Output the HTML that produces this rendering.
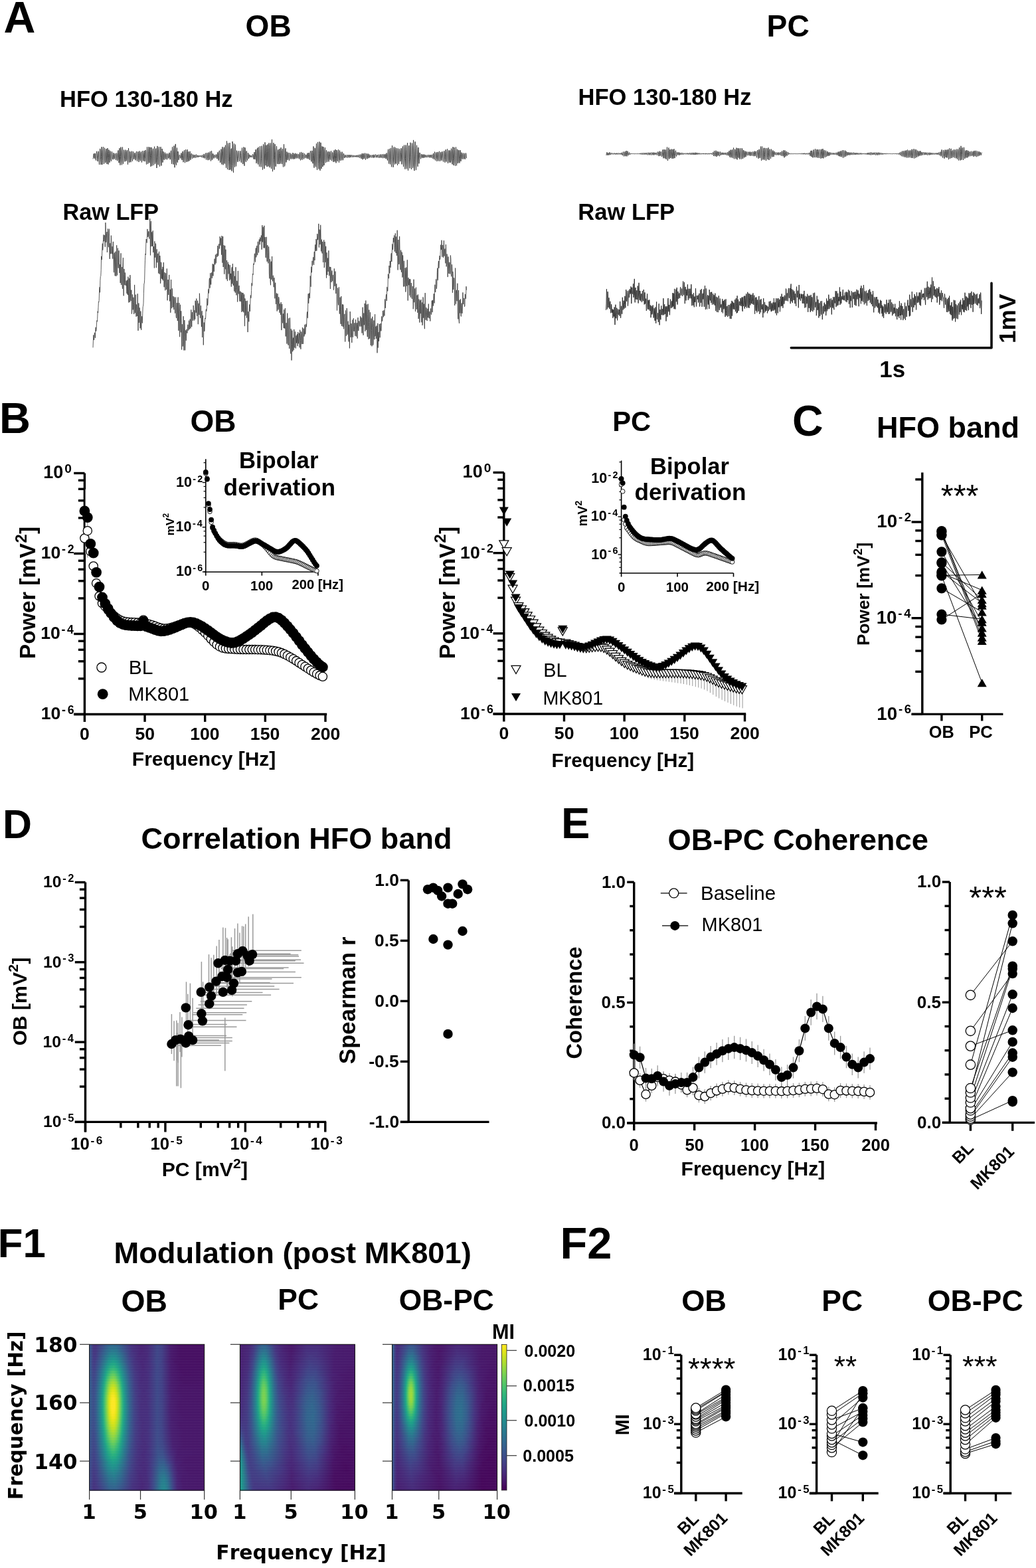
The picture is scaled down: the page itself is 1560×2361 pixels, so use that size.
<!DOCTYPE html>
<html><head><meta charset="utf-8"><title>Figure</title>
<style>
html,body{margin:0;padding:0;background:#fff;}
svg{display:block;}
text{font-kerning:none;}
</style></head><body>
<svg width="1560" height="2361" viewBox="0 0 1560 2361">
<rect width="1560" height="2361" fill="#fff"/>
<text transform="translate(5.38,48.53) scale(1.0000,1)" font-family="'Liberation Sans', sans-serif" font-weight="bold" fill="#000"><tspan x="0.00" y="0.00" font-size="66.32">A</tspan></text>
<text transform="translate(369.51,55.22) scale(1.0000,1)" font-family="'Liberation Sans', sans-serif" font-weight="bold" fill="#000"><tspan x="0.00" y="0.00" font-size="46.14">OB</tspan></text>
<text transform="translate(1154.61,55.13) scale(1.0000,1)" font-family="'Liberation Sans', sans-serif" font-weight="bold" fill="#000"><tspan x="0.00" y="0.00" font-size="46.16">PC</tspan></text>
<text transform="translate(90.06,160.74) scale(1.0000,1)" font-family="'Liberation Sans', sans-serif" font-weight="bold" fill="#000"><tspan x="0.00" y="0.00" font-size="34.48">HFO 130-180 Hz</tspan></text>
<text transform="translate(870.55,158.12) scale(1.0000,1)" font-family="'Liberation Sans', sans-serif" font-weight="bold" fill="#000"><tspan x="0.00" y="0.00" font-size="34.54">HFO 130-180 Hz</tspan></text>
<text transform="translate(94.47,330.85) scale(1.0000,1)" font-family="'Liberation Sans', sans-serif" font-weight="bold" fill="#000"><tspan x="0.00" y="0.00" font-size="34.25">Raw LFP</tspan></text>
<text transform="translate(870.25,330.95) scale(1.0000,1)" font-family="'Liberation Sans', sans-serif" font-weight="bold" fill="#000"><tspan x="0.00" y="0.00" font-size="34.55">Raw LFP</tspan></text>
<text transform="translate(1324.32,568.11) scale(1.0000,1)" font-family="'Liberation Sans', sans-serif" font-weight="bold" fill="#000"><tspan x="0.00" y="0.00" font-size="34.90">1s</tspan></text>
<text transform="translate(1528.77,516.95) rotate(-90) scale(1.0000,1)" font-family="'Liberation Sans', sans-serif" font-weight="bold" fill="#000"><tspan x="0.00" y="0.00" font-size="35.20">1mV</tspan></text>
<path d="M1191.3,523.8 H1493 V426.3" fill="none" stroke="#000" stroke-width="3.5" stroke-linecap="round" stroke-linejoin="round"/>
<path d="M140.0,239.3 140.5,237.5 141.0,231.7 141.5,231.4 142.0,237.8 142.5,238.7 143.0,230.8 143.5,231.6 144.0,239.0 144.5,241.5 145.0,234.5 145.5,227.8 146.0,230.5 146.5,238.4 147.0,243.0 147.5,237.2 148.0,227.7 148.5,228.5 149.0,240.4 149.5,247.9 150.0,236.9 150.5,223.9 151.0,225.4 151.5,240.3 152.0,247.9 152.5,235.4 153.0,221.2 153.5,229.1 154.0,247.8 154.5,241.5 155.0,227.1 155.5,221.1 156.0,236.4 156.5,246.9 157.0,238.2 157.5,222.7 158.0,230.1 158.5,245.2 159.0,244.2 159.5,229.1 160.0,224.1 160.5,239.9 161.0,246.9 161.5,233.3 162.0,223.1 162.5,231.6 163.0,247.5 163.5,237.4 164.0,225.6 164.5,231.5 165.0,244.7 165.5,238.9 166.0,227.4 166.5,228.6 167.0,240.5 167.5,242.7 168.0,235.1 168.5,228.2 169.0,232.8 169.5,239.1 170.0,240.2 170.5,235.6 171.0,230.2 171.5,233.5 172.0,239.5 172.5,238.0 173.0,232.2 173.5,230.9 174.0,235.6 174.5,241.0 175.0,236.8 175.5,230.5 176.0,232.9 176.5,242.2 177.0,240.4 177.5,229.2 178.0,226.4 178.5,237.3 179.0,245.2 179.5,235.8 180.0,223.2 180.5,240.2 181.0,248.6 181.5,235.6 182.0,221.5 182.5,229.1 183.0,243.2 183.5,248.3 184.0,228.7 184.5,221.5 185.0,238.8 185.5,246.7 186.0,238.1 186.5,225.7 187.0,227.6 187.5,238.3 188.0,243.4 188.5,240.4 189.0,225.6 189.5,227.7 190.0,242.4 190.5,240.7 191.0,228.6 191.5,226.1 192.0,240.3 192.5,247.7 193.0,234.8 193.5,223.0 194.0,232.5 194.5,244.4 195.0,244.6 195.5,228.0 196.0,228.4 196.5,239.7 197.0,244.2 197.5,238.5 198.0,228.5 198.5,227.6 199.0,237.3 199.5,242.6 200.0,237.5 200.5,228.1 201.0,231.8 201.5,239.4 202.0,239.6 202.5,233.1 203.0,230.1 203.5,233.4 204.0,241.3 204.5,239.1 205.0,231.6 205.5,227.9 206.0,236.3 206.5,242.8 207.0,239.3 207.5,228.7 208.0,228.3 208.5,234.7 209.0,243.9 209.5,239.0 210.0,227.5 210.5,230.7 211.0,239.7 211.5,242.3 212.0,230.9 212.5,228.5 213.0,238.1 213.5,244.5 214.0,235.8 214.5,227.2 215.0,231.2 215.5,240.9 216.0,242.4 216.5,234.0 217.0,227.0 217.5,233.7 218.0,243.1 218.5,238.3 219.0,225.9 219.5,227.6 220.0,238.1 220.5,247.5 221.0,236.4 221.5,221.3 222.0,229.9 222.5,246.9 223.0,245.2 223.5,227.3 224.0,221.2 224.5,242.1 225.0,245.2 225.5,227.8 226.0,221.8 226.5,237.4 227.0,250.8 227.5,234.7 228.0,221.9 228.5,226.1 229.0,249.6 229.5,247.1 230.0,227.6 230.5,223.8 231.0,238.6 231.5,248.7 232.0,235.7 232.5,220.7 233.0,230.7 233.5,246.8 234.0,244.1 234.5,224.0 235.0,223.5 235.5,244.2 236.0,253.0 236.5,236.4 237.0,219.9 237.5,225.2 238.0,247.8 238.5,248.3 239.0,226.0 239.5,221.1 240.0,234.6 240.5,250.6 241.0,240.8 241.5,226.5 242.0,221.1 242.5,237.4 243.0,249.5 243.5,239.7 244.0,224.0 244.5,226.1 245.0,244.6 245.5,241.4 246.0,228.2 246.5,230.1 247.0,240.2 247.5,240.8 248.0,231.8 248.5,229.6 249.0,237.1 249.5,239.7 250.0,232.5 250.5,231.1 251.0,236.5 251.5,240.3 252.0,236.0 252.5,231.2 253.0,232.3 253.5,238.1 254.0,238.5 254.5,234.5 255.0,229.8 255.5,233.4 256.0,240.2 256.5,239.5 257.0,230.6 257.5,226.8 258.0,237.1 258.5,246.8 259.0,233.3 259.5,221.3 260.0,229.1 260.5,244.8 261.0,247.5 261.5,226.1 262.0,219.6 262.5,232.9 263.0,252.2 263.5,240.5 264.0,217.1 264.5,217.1 265.0,246.2 265.5,248.7 266.0,229.9 266.5,222.6 267.0,243.3 267.5,244.7 268.0,228.0 268.5,231.7 269.0,240.8 269.5,239.4 270.0,234.3 270.5,233.0 271.0,234.8 271.5,237.8 272.0,238.5 272.5,233.8 273.0,230.5 273.5,236.8 274.0,241.1 274.5,234.8 275.0,227.9 275.5,234.3 276.0,244.2 276.5,241.6 277.0,230.2 277.5,226.2 278.0,237.0 278.5,245.2 279.0,232.9 279.5,225.1 280.0,231.4 280.5,242.9 281.0,243.9 281.5,228.4 282.0,225.1 282.5,237.8 283.0,243.3 283.5,228.1 284.0,229.3 284.5,240.8 285.0,242.3 285.5,234.6 286.0,227.8 286.5,235.4 287.0,240.7 287.5,237.2 288.0,231.5 288.5,231.0 289.0,235.4 289.5,238.9 290.0,236.5 290.5,232.6 291.0,233.0 291.5,236.1 292.0,237.9 292.5,236.3 293.0,233.2 293.5,233.2 294.0,236.6 294.5,237.7 295.0,234.7 295.5,232.6 296.0,234.3 296.5,237.1 297.0,236.3 297.5,234.1 298.0,233.8 298.5,236.0 299.0,236.7 299.5,235.6 300.0,234.1 300.5,235.4 301.0,236.0 301.5,235.7 302.0,234.2 302.5,234.2 303.0,235.9 303.5,236.9 304.0,235.0 304.5,233.3 305.0,234.3 305.5,237.0 306.0,237.7 306.5,234.9 307.0,231.9 307.5,234.8 308.0,238.4 308.5,237.9 309.0,233.8 309.5,230.5 310.0,235.5 310.5,240.5 311.0,237.2 311.5,230.0 312.0,230.8 312.5,238.5 313.0,241.2 313.5,236.2 314.0,229.5 314.5,230.0 315.0,240.7 315.5,239.7 316.0,231.1 316.5,227.9 317.0,234.0 317.5,242.5 318.0,238.6 318.5,227.1 319.0,231.7 319.5,240.7 320.0,238.9 320.5,231.5 321.0,231.6 321.5,235.1 322.0,238.5 322.5,237.4 323.0,233.9 323.5,233.0 324.0,236.0 324.5,237.4 325.0,236.0 325.5,232.4 326.0,232.8 326.5,238.0 327.0,239.2 327.5,231.9 328.0,229.3 328.5,234.7 329.0,241.7 329.5,240.3 330.0,227.9 330.5,226.7 331.0,234.3 331.5,244.9 332.0,244.3 332.5,229.9 333.0,224.6 333.5,240.1 334.0,247.5 334.5,230.9 335.0,221.2 335.5,227.7 336.0,248.3 336.5,247.6 337.0,224.4 337.5,221.7 338.0,245.6 338.5,246.5 339.0,223.6 339.5,218.6 340.0,240.4 340.5,252.7 341.0,230.6 341.5,212.4 342.0,234.8 342.5,255.1 343.0,238.7 343.5,215.6 344.0,222.0 344.5,243.5 345.0,256.0 345.5,240.1 346.0,215.0 346.5,235.8 347.0,255.5 347.5,248.8 348.0,225.0 348.5,223.6 349.0,257.6 349.5,249.4 350.0,213.0 350.5,217.6 351.0,246.5 351.5,259.9 352.0,228.9 352.5,216.3 353.0,245.2 353.5,251.5 354.0,232.9 354.5,217.6 355.0,238.0 355.5,250.4 356.0,239.8 356.5,226.7 357.0,228.0 357.5,239.9 358.0,243.8 358.5,238.6 359.0,229.7 359.5,227.1 360.0,236.5 360.5,242.9 361.0,239.4 361.5,230.1 362.0,227.3 362.5,234.7 363.0,243.8 363.5,245.0 364.0,230.4 364.5,222.6 365.0,230.0 365.5,246.8 366.0,247.0 366.5,229.4 367.0,221.4 367.5,241.2 368.0,249.7 368.5,234.2 369.0,222.3 369.5,227.0 370.0,242.2 370.5,243.9 371.0,228.2 371.5,227.4 372.0,237.4 372.5,241.6 373.0,237.8 373.5,230.1 374.0,231.7 374.5,239.0 375.0,237.0 375.5,232.9 376.0,233.1 376.5,236.4 377.0,237.0 377.5,234.6 378.0,233.9 378.5,234.5 379.0,236.5 379.5,237.1 380.0,235.0 380.5,232.2 381.0,232.9 381.5,237.5 382.0,239.6 382.5,234.4 383.0,229.1 383.5,239.3 384.0,240.1 384.5,231.5 385.0,225.1 385.5,233.9 386.0,245.8 386.5,242.3 387.0,225.9 387.5,223.3 388.0,242.0 388.5,247.4 389.0,221.6 389.5,225.6 390.0,241.9 390.5,250.9 391.0,233.9 391.5,220.2 392.0,228.5 392.5,247.1 393.0,251.4 393.5,238.3 394.0,219.7 394.5,224.2 395.0,242.9 395.5,255.6 396.0,241.0 396.5,217.2 397.0,219.6 397.5,247.1 398.0,254.1 398.5,236.0 399.0,214.3 399.5,230.8 400.0,249.2 400.5,242.5 401.0,218.6 401.5,228.7 402.0,251.1 402.5,240.0 403.0,217.4 403.5,227.3 404.0,250.5 404.5,248.9 405.0,215.3 405.5,222.7 406.0,252.2 406.5,250.0 407.0,220.0 407.5,215.4 408.0,247.0 408.5,254.1 409.0,227.0 409.5,209.9 410.0,236.4 410.5,258.2 411.0,245.4 411.5,219.9 412.0,215.1 412.5,240.4 413.0,255.6 413.5,233.7 414.0,217.1 414.5,228.9 415.0,250.7 415.5,250.6 416.0,232.9 416.5,220.0 417.0,230.7 417.5,246.3 418.0,247.0 418.5,226.7 419.0,225.3 419.5,241.0 420.0,247.1 420.5,231.5 421.0,224.2 421.5,234.7 422.0,246.6 422.5,238.8 423.0,222.2 423.5,226.3 424.0,243.5 424.5,247.0 425.0,227.9 425.5,224.1 426.0,242.0 426.5,251.4 427.0,229.1 427.5,217.1 428.0,230.6 428.5,250.5 429.0,247.9 429.5,227.0 430.0,223.3 430.5,236.4 431.0,244.4 431.5,239.0 432.0,228.5 432.5,231.9 433.0,240.9 433.5,239.5 434.0,229.8 434.5,230.2 435.0,237.5 435.5,241.8 436.0,236.2 436.5,230.1 437.0,232.4 437.5,239.4 438.0,237.5 438.5,231.7 439.0,233.1 439.5,239.5 440.0,238.8 440.5,233.7 441.0,230.0 441.5,235.4 442.0,239.7 442.5,238.0 443.0,231.3 443.5,232.7 444.0,239.3 444.5,237.3 445.0,230.7 445.5,231.5 446.0,237.2 446.5,238.5 447.0,232.0 447.5,231.7 448.0,236.6 448.5,238.3 449.0,234.9 449.5,231.9 450.0,233.9 450.5,239.3 451.0,234.8 451.5,229.6 452.0,236.0 452.5,241.4 453.0,236.7 453.5,228.9 454.0,230.5 454.5,239.8 455.0,240.7 455.5,235.7 456.0,229.9 456.5,232.6 457.0,237.5 457.5,239.6 458.0,235.2 458.5,231.1 459.0,234.5 459.5,238.1 460.0,236.4 460.5,233.2 461.0,232.9 461.5,237.3 462.0,238.6 462.5,234.3 463.0,230.5 463.5,235.7 464.0,239.3 464.5,233.7 465.0,230.0 465.5,232.7 466.0,239.9 466.5,240.8 467.0,231.3 467.5,227.1 468.0,231.1 468.5,242.3 469.0,243.4 469.5,227.0 470.0,227.0 470.5,242.5 471.0,246.2 471.5,234.3 472.0,220.4 472.5,238.9 473.0,252.6 473.5,241.0 474.0,222.8 474.5,223.3 475.0,248.3 475.5,251.3 476.0,226.8 476.5,216.1 477.0,241.7 477.5,255.9 478.0,235.8 478.5,213.9 479.0,224.0 479.5,246.7 480.0,254.5 480.5,231.2 481.0,213.4 481.5,239.4 482.0,256.8 482.5,231.9 483.0,214.8 483.5,225.2 484.0,254.0 484.5,245.5 485.0,220.4 485.5,220.9 486.0,251.0 486.5,246.6 487.0,221.1 487.5,228.1 488.0,248.9 488.5,242.8 489.0,226.6 489.5,222.2 490.0,237.5 490.5,245.2 491.0,235.8 491.5,226.2 492.0,230.5 492.5,244.0 493.0,239.4 493.5,229.5 494.0,228.1 494.5,238.1 495.0,243.5 495.5,235.2 496.0,228.3 496.5,232.7 497.0,240.6 497.5,240.4 498.0,230.7 498.5,227.3 499.0,234.8 499.5,242.2 500.0,237.9 500.5,229.2 501.0,229.6 501.5,239.2 502.0,243.9 502.5,238.0 503.0,226.5 503.5,233.6 504.0,243.4 504.5,238.2 505.0,225.0 505.5,234.5 506.0,245.4 506.5,238.3 507.0,226.0 507.5,229.8 508.0,242.8 508.5,242.6 509.0,231.4 509.5,225.2 510.0,234.0 510.5,244.7 511.0,231.6 511.5,226.5 512.0,240.0 512.5,242.0 513.0,234.2 513.5,228.7 514.0,234.9 514.5,241.4 515.0,235.7 515.5,228.7 516.0,235.4 516.5,241.2 517.0,235.9 517.5,231.1 518.0,233.4 518.5,237.6 519.0,237.9 519.5,234.7 520.0,233.2 520.5,234.8 521.0,236.9 521.5,237.2 522.0,234.6 522.5,233.0 523.0,234.3 523.5,237.5 524.0,236.3 524.5,233.0 525.0,233.6 525.5,236.5 526.0,237.4 526.5,234.1 527.0,233.0 527.5,235.2 528.0,237.0 528.5,235.9 529.0,233.3 529.5,233.5 530.0,235.3 530.5,236.9 531.0,235.9 531.5,233.6 532.0,234.8 532.5,236.6 533.0,235.6 533.5,234.1 534.0,234.2 534.5,236.2 535.0,236.4 535.5,234.8 536.0,233.9 536.5,235.2 537.0,236.6 537.5,234.8 538.0,233.5 538.5,234.4 539.0,236.4 539.5,236.9 540.0,234.4 540.5,232.9 541.0,235.8 541.5,237.7 542.0,236.1 542.5,232.5 543.0,233.0 543.5,237.7 544.0,238.9 544.5,234.1 545.0,231.2 545.5,235.3 546.0,240.2 546.5,236.1 547.0,230.9 547.5,233.1 548.0,239.1 548.5,237.7 549.0,232.3 549.5,230.5 550.0,237.5 550.5,240.5 551.0,235.7 551.5,231.1 552.0,232.2 552.5,237.7 553.0,239.2 553.5,234.8 554.0,231.3 554.5,234.4 555.0,238.2 555.5,236.7 556.0,232.5 556.5,234.6 557.0,237.4 557.5,236.5 558.0,233.7 558.5,233.5 559.0,235.4 559.5,237.4 560.0,235.9 560.5,233.6 561.0,233.2 561.5,235.9 562.0,237.7 562.5,235.0 563.0,232.8 563.5,234.6 564.0,237.3 564.5,236.7 565.0,234.0 565.5,232.5 566.0,233.9 566.5,237.0 567.0,237.3 567.5,235.0 568.0,233.0 568.5,233.8 569.0,236.8 569.5,237.6 570.0,235.2 570.5,232.7 571.0,234.2 571.5,237.3 572.0,237.9 572.5,234.8 573.0,232.3 573.5,233.5 574.0,237.3 574.5,237.5 575.0,234.1 575.5,232.1 576.0,236.0 576.5,238.2 577.0,236.4 577.5,232.2 578.0,232.5 578.5,237.6 579.0,238.1 579.5,233.3 580.0,231.9 580.5,235.1 581.0,239.0 581.5,236.3 582.0,230.5 582.5,232.7 583.0,239.9 583.5,241.5 584.0,232.2 584.5,224.8 585.0,236.7 585.5,246.5 586.0,237.7 586.5,223.9 587.0,234.9 587.5,247.3 588.0,231.6 588.5,222.9 589.0,240.5 589.5,251.3 590.0,235.9 590.5,219.0 591.0,224.6 591.5,242.1 592.0,251.8 592.5,240.2 593.0,222.8 593.5,221.2 594.0,241.6 594.5,247.6 595.0,226.1 595.5,222.1 596.0,246.2 596.5,246.4 597.0,227.5 597.5,223.0 598.0,234.9 598.5,248.8 599.0,238.7 599.5,223.6 600.0,234.5 600.5,246.9 601.0,236.1 601.5,224.3 602.0,228.8 602.5,243.1 603.0,242.8 603.5,229.6 604.0,223.2 604.5,235.0 605.0,247.4 605.5,240.1 606.0,223.7 606.5,220.3 607.0,237.0 607.5,251.1 608.0,238.6 608.5,218.5 609.0,223.8 609.5,239.0 610.0,254.7 610.5,238.6 611.0,218.4 611.5,225.6 612.0,247.8 612.5,254.3 613.0,230.1 613.5,215.1 614.0,237.4 614.5,256.8 615.0,239.4 615.5,219.9 616.0,219.1 616.5,243.1 617.0,253.4 617.5,236.3 618.0,214.7 618.5,219.7 619.0,245.3 619.5,255.0 620.0,232.7 620.5,215.6 621.0,222.8 621.5,252.9 622.0,248.8 622.5,210.9 623.0,227.5 623.5,254.2 624.0,257.1 624.5,239.2 625.0,213.3 625.5,223.8 626.0,247.6 626.5,256.1 627.0,232.7 627.5,218.7 628.0,225.9 628.5,244.1 629.0,250.8 629.5,232.2 630.0,222.0 630.5,234.2 631.0,246.3 631.5,237.8 632.0,229.9 632.5,230.9 633.0,236.1 633.5,239.3 634.0,237.1 634.5,232.0 635.0,232.7 635.5,236.4 636.0,237.8 636.5,233.7 637.0,232.4 637.5,236.6 638.0,237.8 638.5,234.2 639.0,232.6 639.5,235.5 640.0,237.2 640.5,235.5 641.0,233.3 641.5,234.3 642.0,236.7 642.5,237.0 643.0,234.5 643.5,233.2 644.0,234.6 644.5,237.0 645.0,235.8 645.5,233.2 646.0,233.2 646.5,236.1 647.0,237.4 647.5,235.5 648.0,233.0 648.5,234.2 649.0,237.3 649.5,237.3 650.0,233.4 650.5,232.8 651.0,235.6 651.5,238.6 652.0,236.4 652.5,230.9 653.0,236.2 653.5,239.9 654.0,234.0 654.5,228.6 655.0,236.2 655.5,241.5 656.0,238.3 656.5,230.5 657.0,229.3 657.5,235.9 658.0,242.9 658.5,237.3 659.0,228.9 659.5,229.2 660.0,239.7 660.5,242.5 661.0,232.3 661.5,227.8 662.0,232.9 662.5,242.8 663.0,240.2 663.5,229.8 664.0,228.9 664.5,239.4 665.0,241.7 665.5,233.8 666.0,228.2 666.5,230.2 667.0,238.7 667.5,243.5 668.0,236.6 668.5,227.7 669.0,227.3 669.5,239.6 670.0,244.6 670.5,236.4 671.0,225.3 671.5,228.6 672.0,242.3 672.5,243.6 673.0,231.7 673.5,224.3 674.0,234.0 674.5,246.0 675.0,241.1 675.5,226.3 676.0,227.1 676.5,240.0 677.0,244.8 677.5,226.2 678.0,229.3 678.5,244.7 679.0,240.8 679.5,223.6 680.0,227.5 680.5,242.0 681.0,247.3 681.5,224.8 682.0,221.3 682.5,238.5 683.0,249.0 683.5,236.8 684.0,221.9 684.5,225.7 685.0,244.1 685.5,249.8 686.0,233.4 686.5,221.5 687.0,234.3 687.5,249.3 688.0,242.8 688.5,224.7 689.0,226.3 689.5,245.9 690.0,244.2 690.5,226.2 691.0,226.2 691.5,239.5 692.0,245.5 692.5,238.3 693.0,226.1 693.5,232.2 694.0,242.8 694.5,236.9 695.0,229.6 695.5,230.8 696.0,239.2 696.5,239.7 697.0,232.5 697.5,230.5 698.0,236.4 698.5,239.6 699.0,235.4 699.5,230.7 700.0,238.0 700.5,239.8 701.0,234.6 701.5,230.5 702.0,233.2 702.5,238.2" fill="none" stroke="#333" stroke-width="0.9"/>
<path d="M912.5,234.0 913.0,233.5 913.5,230.3 914.0,229.3 914.5,233.3 915.0,233.8 915.5,230.9 916.0,230.2 916.5,233.2 917.0,233.6 917.5,231.2 918.0,229.3 918.5,230.9 919.0,233.2 919.5,232.6 920.0,230.8 920.5,230.1 921.0,231.5 921.5,232.4 922.0,231.4 922.5,230.6 923.0,231.3 923.5,232.3 924.0,232.3 924.5,231.3 925.0,230.4 925.5,231.5 926.0,232.5 926.5,232.2 927.0,230.9 927.5,230.8 928.0,232.5 928.5,232.2 929.0,230.6 929.5,230.7 930.0,232.1 930.5,232.6 931.0,231.3 931.5,230.4 932.0,231.1 932.5,232.4 933.0,232.0 933.5,230.9 934.0,230.6 934.5,231.9 935.0,232.7 935.5,231.2 936.0,229.8 936.5,230.5 937.0,233.3 937.5,234.0 938.0,230.6 938.5,228.5 939.0,231.7 939.5,235.4 940.0,233.7 940.5,228.8 941.0,228.3 941.5,234.9 942.0,235.3 942.5,229.6 943.0,227.0 943.5,232.3 944.0,235.4 944.5,231.3 945.0,227.6 945.5,229.5 946.0,233.7 946.5,233.8 947.0,230.8 947.5,229.5 948.0,231.9 948.5,232.9 949.0,231.9 949.5,231.0 950.0,231.0 950.5,231.7 951.0,231.8 951.5,231.4 952.0,231.2 952.5,231.4 953.0,231.8 953.5,231.8 954.0,231.3 954.5,231.2 955.0,231.5 955.5,231.9 956.0,231.6 956.5,231.2 957.0,231.4 957.5,231.9 958.0,231.6 958.5,231.2 959.0,231.4 959.5,231.8 960.0,231.5 960.5,231.1 961.0,231.3 961.5,231.8 962.0,232.0 962.5,231.7 963.0,230.8 963.5,231.2 964.0,232.1 964.5,232.2 965.0,230.7 965.5,230.6 966.0,231.8 966.5,232.7 967.0,231.3 967.5,230.2 968.0,231.6 968.5,232.9 969.0,231.9 969.5,230.3 970.0,230.3 970.5,232.0 971.0,232.8 971.5,231.7 972.0,230.1 972.5,230.7 973.0,232.5 973.5,232.6 974.0,230.3 974.5,230.0 975.0,231.8 975.5,233.4 976.0,232.5 976.5,230.1 977.0,229.7 977.5,231.8 978.0,233.4 978.5,232.3 979.0,229.8 979.5,230.0 980.0,232.5 980.5,233.6 981.0,231.8 981.5,229.6 982.0,229.9 982.5,232.4 983.0,233.4 983.5,231.1 984.0,229.5 984.5,232.3 985.0,233.4 985.5,232.3 986.0,229.8 986.5,230.9 987.0,232.8 987.5,232.4 988.0,230.4 988.5,229.8 989.0,232.4 989.5,233.8 990.0,232.3 990.5,228.6 991.0,228.9 991.5,232.7 992.0,235.1 992.5,232.3 993.0,227.6 993.5,230.3 994.0,234.8 994.5,233.9 995.0,228.8 995.5,228.1 996.0,231.2 996.5,236.0 997.0,234.5 997.5,229.2 998.0,225.3 998.5,233.2 999.0,238.3 999.5,233.3 1000.0,225.1 1000.5,227.4 1001.0,237.9 1001.5,238.5 1002.0,225.4 1002.5,227.5 1003.0,239.8 1003.5,239.7 1004.0,228.4 1004.5,221.5 1005.0,232.6 1005.5,242.0 1006.0,236.6 1006.5,226.3 1007.0,222.5 1007.5,237.4 1008.0,239.3 1008.5,225.5 1009.0,225.0 1009.5,238.0 1010.0,237.4 1010.5,227.2 1011.0,224.6 1011.5,233.3 1012.0,238.9 1012.5,234.0 1013.0,224.9 1013.5,229.4 1014.0,238.7 1014.5,231.8 1015.0,224.3 1015.5,230.4 1016.0,238.1 1016.5,234.4 1017.0,228.5 1017.5,226.7 1018.0,232.4 1018.5,235.5 1019.0,233.0 1019.5,229.2 1020.0,229.7 1020.5,232.6 1021.0,233.3 1021.5,231.3 1022.0,229.3 1022.5,231.1 1023.0,233.7 1023.5,231.9 1024.0,229.9 1024.5,230.5 1025.0,232.8 1025.5,232.8 1026.0,231.1 1026.5,229.9 1027.0,231.6 1027.5,232.9 1028.0,231.7 1028.5,230.4 1029.0,230.8 1029.5,232.4 1030.0,232.4 1030.5,231.6 1031.0,230.6 1031.5,230.8 1032.0,231.8 1032.5,232.4 1033.0,231.5 1033.5,230.6 1034.0,230.9 1034.5,232.2 1035.0,232.3 1035.5,230.6 1036.0,230.6 1036.5,232.1 1037.0,232.6 1037.5,232.0 1038.0,230.4 1038.5,230.3 1039.0,231.9 1039.5,232.9 1040.0,231.6 1040.5,230.0 1041.0,231.4 1041.5,233.1 1042.0,231.9 1042.5,229.9 1043.0,230.5 1043.5,232.7 1044.0,233.0 1044.5,230.1 1045.0,230.1 1045.5,232.2 1046.0,233.1 1046.5,231.7 1047.0,229.7 1047.5,230.9 1048.0,233.0 1048.5,232.0 1049.0,229.9 1049.5,230.6 1050.0,232.4 1050.5,232.7 1051.0,230.3 1051.5,230.6 1052.0,231.9 1052.5,232.4 1053.0,230.8 1053.5,230.6 1054.0,231.8 1054.5,232.4 1055.0,231.7 1055.5,230.8 1056.0,231.5 1056.5,232.2 1057.0,231.9 1057.5,231.0 1058.0,230.9 1058.5,231.7 1059.0,232.2 1059.5,231.0 1060.0,230.8 1060.5,231.7 1061.0,232.2 1061.5,231.7 1062.0,230.7 1062.5,231.1 1063.0,232.3 1063.5,231.8 1064.0,230.8 1064.5,231.0 1065.0,231.9 1065.5,232.3 1066.0,231.6 1066.5,230.8 1067.0,231.0 1067.5,232.0 1068.0,232.4 1068.5,231.4 1069.0,230.7 1069.5,231.3 1070.0,232.1 1070.5,231.7 1071.0,230.6 1071.5,231.0 1072.0,232.0 1072.5,232.8 1073.0,231.6 1073.5,229.4 1074.0,229.7 1074.5,235.0 1075.0,232.4 1075.5,227.1 1076.0,229.8 1076.5,235.0 1077.0,235.1 1077.5,229.4 1078.0,226.7 1078.5,231.7 1079.0,236.0 1079.5,232.0 1080.0,227.9 1080.5,228.2 1081.0,234.5 1081.5,233.0 1082.0,228.5 1082.5,228.7 1083.0,233.8 1083.5,235.2 1084.0,232.6 1084.5,228.4 1085.0,230.8 1085.5,233.5 1086.0,233.2 1086.5,230.3 1087.0,229.7 1087.5,230.9 1088.0,233.0 1088.5,231.5 1089.0,229.8 1089.5,231.3 1090.0,233.0 1090.5,232.7 1091.0,230.4 1091.5,229.9 1092.0,231.9 1092.5,233.2 1093.0,230.4 1093.5,229.9 1094.0,231.5 1094.5,233.8 1095.0,232.6 1095.5,229.2 1096.0,229.3 1096.5,234.1 1097.0,234.4 1097.5,229.0 1098.0,227.2 1098.5,233.9 1099.0,236.6 1099.5,231.2 1100.0,225.6 1100.5,229.8 1101.0,237.3 1101.5,235.5 1102.0,225.8 1102.5,225.4 1103.0,236.0 1103.5,238.1 1104.0,229.1 1104.5,222.5 1105.0,230.7 1105.5,239.3 1106.0,234.7 1106.5,224.7 1107.0,225.4 1107.5,234.8 1108.0,239.1 1108.5,230.0 1109.0,222.6 1109.5,231.7 1110.0,240.4 1110.5,236.0 1111.0,223.2 1111.5,226.8 1112.0,237.4 1112.5,237.8 1113.0,223.3 1113.5,231.0 1114.0,239.7 1114.5,237.9 1115.0,227.7 1115.5,223.1 1116.0,232.0 1116.5,239.6 1117.0,235.8 1117.5,223.4 1118.0,226.8 1118.5,239.1 1119.0,236.7 1119.5,226.1 1120.0,226.6 1120.5,233.7 1121.0,237.3 1121.5,232.3 1122.0,227.5 1122.5,230.2 1123.0,236.2 1123.5,232.9 1124.0,228.2 1124.5,229.3 1125.0,232.9 1125.5,234.2 1126.0,231.4 1126.5,228.6 1127.0,229.3 1127.5,233.7 1128.0,234.2 1128.5,229.9 1129.0,228.4 1129.5,231.1 1130.0,234.8 1130.5,232.8 1131.0,228.7 1131.5,229.1 1132.0,233.3 1132.5,234.7 1133.0,231.5 1133.5,228.4 1134.0,229.4 1134.5,234.4 1135.0,235.2 1135.5,229.7 1136.0,227.5 1136.5,231.0 1137.0,235.1 1137.5,230.8 1138.0,228.0 1138.5,227.8 1139.0,233.0 1139.5,237.3 1140.0,232.9 1140.5,227.6 1141.0,226.0 1141.5,233.6 1142.0,238.8 1142.5,233.6 1143.0,224.8 1143.5,226.4 1144.0,238.0 1144.5,237.6 1145.0,228.1 1145.5,220.5 1146.0,230.9 1146.5,241.8 1147.0,230.5 1147.5,220.5 1148.0,229.2 1148.5,240.4 1149.0,240.2 1149.5,226.8 1150.0,222.7 1150.5,235.8 1151.0,240.7 1151.5,232.3 1152.0,222.9 1152.5,224.5 1153.0,237.5 1153.5,242.1 1154.0,234.1 1154.5,223.0 1155.0,224.1 1155.5,237.4 1156.0,240.1 1156.5,229.7 1157.0,222.3 1157.5,230.5 1158.0,241.0 1158.5,236.8 1159.0,224.7 1159.5,224.9 1160.0,232.7 1160.5,238.9 1161.0,233.0 1161.5,224.6 1162.0,227.3 1162.5,234.9 1163.0,236.3 1163.5,228.8 1164.0,226.5 1164.5,230.9 1165.0,236.1 1165.5,232.4 1166.0,227.9 1166.5,230.1 1167.0,233.0 1167.5,233.3 1168.0,230.8 1168.5,229.2 1169.0,231.1 1169.5,233.5 1170.0,233.1 1170.5,230.7 1171.0,229.5 1171.5,231.0 1172.0,233.7 1172.5,231.5 1173.0,229.5 1173.5,230.2 1174.0,233.0 1174.5,233.4 1175.0,231.0 1175.5,228.9 1176.0,231.5 1176.5,234.7 1177.0,231.4 1177.5,227.4 1178.0,229.9 1178.5,234.8 1179.0,235.2 1179.5,229.0 1180.0,226.2 1180.5,233.1 1181.0,237.3 1181.5,233.3 1182.0,226.5 1182.5,229.4 1183.0,235.6 1183.5,234.7 1184.0,228.4 1184.5,228.0 1185.0,234.1 1185.5,234.2 1186.0,231.6 1186.5,229.1 1187.0,230.7 1187.5,232.6 1188.0,232.1 1188.5,230.9 1189.0,230.8 1189.5,231.6 1190.0,232.2 1190.5,231.8 1191.0,231.2 1191.5,231.1 1192.0,231.5 1192.5,231.9 1193.0,231.5 1193.5,231.2 1194.0,231.4 1194.5,231.8 1195.0,231.7 1195.5,231.2 1196.0,231.2 1196.5,231.5 1197.0,231.8 1197.5,231.7 1198.0,231.3 1198.5,231.2 1199.0,231.5 1199.5,231.8 1200.0,231.5 1200.5,231.2 1201.0,231.5 1201.5,231.8 1202.0,231.7 1202.5,231.3 1203.0,231.1 1203.5,231.5 1204.0,231.9 1204.5,231.5 1205.0,231.0 1205.5,231.3 1206.0,232.0 1206.5,232.1 1207.0,231.2 1207.5,230.8 1208.0,231.2 1208.5,232.1 1209.0,232.1 1209.5,231.0 1210.0,230.6 1210.5,232.1 1211.0,232.1 1211.5,230.9 1212.0,230.6 1212.5,231.5 1213.0,232.5 1213.5,231.9 1214.0,230.8 1214.5,230.9 1215.0,232.0 1215.5,232.4 1216.0,231.7 1216.5,230.6 1217.0,231.4 1217.5,232.4 1218.0,232.2 1218.5,230.2 1219.0,229.8 1219.5,233.5 1220.0,234.7 1220.5,229.1 1221.0,226.9 1221.5,234.7 1222.0,236.0 1222.5,226.8 1223.0,229.4 1223.5,236.2 1224.0,237.4 1224.5,230.7 1225.0,225.4 1225.5,228.5 1226.0,236.5 1226.5,237.1 1227.0,230.0 1227.5,224.1 1228.0,228.2 1228.5,237.1 1229.0,236.2 1229.5,228.2 1230.0,224.9 1230.5,235.5 1231.0,237.6 1231.5,228.7 1232.0,225.1 1232.5,229.9 1233.0,236.9 1233.5,238.0 1234.0,229.9 1234.5,224.9 1235.0,228.3 1235.5,236.9 1236.0,238.7 1236.5,228.3 1237.0,224.6 1237.5,228.9 1238.0,238.1 1238.5,234.1 1239.0,224.0 1239.5,228.3 1240.0,238.4 1240.5,233.2 1241.0,226.2 1241.5,226.2 1242.0,233.9 1242.5,237.0 1243.0,231.4 1243.5,226.7 1244.0,231.3 1244.5,235.9 1245.0,234.6 1245.5,230.0 1246.0,227.9 1246.5,233.8 1247.0,234.9 1247.5,231.0 1248.0,229.3 1248.5,232.7 1249.0,234.4 1249.5,231.7 1250.0,229.4 1250.5,230.5 1251.0,232.8 1251.5,233.0 1252.0,231.1 1252.5,229.9 1253.0,231.1 1253.5,232.4 1254.0,232.8 1254.5,231.1 1255.0,230.1 1255.5,231.4 1256.0,232.9 1256.5,232.2 1257.0,230.6 1257.5,230.3 1258.0,231.9 1258.5,233.1 1259.0,232.3 1259.5,229.7 1260.0,230.2 1260.5,233.6 1261.0,233.3 1261.5,229.8 1262.0,228.6 1262.5,233.0 1263.0,235.0 1263.5,229.4 1264.0,228.2 1264.5,234.0 1265.0,235.7 1265.5,230.3 1266.0,227.3 1266.5,231.6 1267.0,236.3 1267.5,234.5 1268.0,227.5 1268.5,226.2 1269.0,233.4 1269.5,237.8 1270.0,231.8 1270.5,226.1 1271.0,230.4 1271.5,236.5 1272.0,234.0 1272.5,228.2 1273.0,226.7 1273.5,235.8 1274.0,232.9 1274.5,228.2 1275.0,229.4 1275.5,234.2 1276.0,233.9 1276.5,229.7 1277.0,229.0 1277.5,233.0 1278.0,233.5 1278.5,231.4 1279.0,229.5 1279.5,231.8 1280.0,233.5 1280.5,232.5 1281.0,229.8 1281.5,229.7 1282.0,232.9 1282.5,233.0 1283.0,230.8 1283.5,229.8 1284.0,231.3 1284.5,233.2 1285.0,231.7 1285.5,229.6 1286.0,230.7 1286.5,232.5 1287.0,233.0 1287.5,230.4 1288.0,230.1 1288.5,232.3 1289.0,233.0 1289.5,231.3 1290.0,230.0 1290.5,230.8 1291.0,232.6 1291.5,232.5 1292.0,230.4 1292.5,230.6 1293.0,232.0 1293.5,232.9 1294.0,231.9 1294.5,230.7 1295.0,230.3 1295.5,232.0 1296.0,232.5 1296.5,231.4 1297.0,230.5 1297.5,231.5 1298.0,232.4 1298.5,231.6 1299.0,230.8 1299.5,231.1 1300.0,231.9 1300.5,232.1 1301.0,231.2 1301.5,230.8 1302.0,231.4 1302.5,232.3 1303.0,231.9 1303.5,230.9 1304.0,231.0 1304.5,232.3 1305.0,232.5 1305.5,231.6 1306.0,230.2 1306.5,231.0 1307.0,233.0 1307.5,231.3 1308.0,229.9 1308.5,230.3 1309.0,232.7 1309.5,233.1 1310.0,230.7 1310.5,229.4 1311.0,232.0 1311.5,233.5 1312.0,232.1 1312.5,229.5 1313.0,230.0 1313.5,232.5 1314.0,233.2 1314.5,231.7 1315.0,229.8 1315.5,230.1 1316.0,232.9 1316.5,232.6 1317.0,230.1 1317.5,229.6 1318.0,231.9 1318.5,233.6 1319.0,232.3 1319.5,229.9 1320.0,229.8 1320.5,232.1 1321.0,233.7 1321.5,231.5 1322.0,229.7 1322.5,229.9 1323.0,232.6 1323.5,233.4 1324.0,229.9 1324.5,230.0 1325.0,232.2 1325.5,232.8 1326.0,231.2 1326.5,230.1 1327.0,231.2 1327.5,232.8 1328.0,232.3 1328.5,230.7 1329.0,230.9 1329.5,232.3 1330.0,232.4 1330.5,231.3 1331.0,230.7 1331.5,231.4 1332.0,232.2 1332.5,231.8 1333.0,230.9 1333.5,231.0 1334.0,231.9 1334.5,232.1 1335.0,231.4 1335.5,231.0 1336.0,231.3 1336.5,231.9 1337.0,231.6 1337.5,231.2 1338.0,231.3 1338.5,231.8 1339.0,231.7 1339.5,231.3 1340.0,231.1 1340.5,231.5 1341.0,231.8 1341.5,231.7 1342.0,231.3 1342.5,231.2 1343.0,231.7 1343.5,231.9 1344.0,231.6 1344.5,231.2 1345.0,231.2 1345.5,231.5 1346.0,231.9 1346.5,231.7 1347.0,231.2 1347.5,231.2 1348.0,231.8 1348.5,231.7 1349.0,231.1 1349.5,231.0 1350.0,231.8 1350.5,232.0 1351.0,231.6 1351.5,230.9 1352.0,231.0 1352.5,231.7 1353.0,232.5 1353.5,231.8 1354.0,230.3 1354.5,229.9 1355.0,232.5 1355.5,233.6 1356.0,231.4 1356.5,228.8 1357.0,231.8 1357.5,235.2 1358.0,231.2 1358.5,227.5 1359.0,229.4 1359.5,235.7 1360.0,232.5 1360.5,227.2 1361.0,229.7 1361.5,236.5 1362.0,235.2 1362.5,226.8 1363.0,227.6 1363.5,236.9 1364.0,234.6 1364.5,226.2 1365.0,229.4 1365.5,237.5 1366.0,230.8 1366.5,225.5 1367.0,229.8 1367.5,237.4 1368.0,234.3 1368.5,226.6 1369.0,228.2 1369.5,237.2 1370.0,233.8 1370.5,226.2 1371.0,227.5 1371.5,234.8 1372.0,237.7 1372.5,229.2 1373.0,224.8 1373.5,230.6 1374.0,238.0 1374.5,235.0 1375.0,226.7 1375.5,224.3 1376.0,231.2 1376.5,238.6 1377.0,231.7 1377.5,224.6 1378.0,227.1 1378.5,237.9 1379.0,233.9 1379.5,225.2 1380.0,229.5 1380.5,237.0 1381.0,234.5 1381.5,226.7 1382.0,227.8 1382.5,233.1 1383.0,235.5 1383.5,230.1 1384.0,227.5 1384.5,234.1 1385.0,234.5 1385.5,229.6 1386.0,227.3 1386.5,230.0 1387.0,234.3 1387.5,232.5 1388.0,229.0 1388.5,229.4 1389.0,233.1 1389.5,233.6 1390.0,230.4 1390.5,229.0 1391.0,230.4 1391.5,232.6 1392.0,233.3 1392.5,231.2 1393.0,229.3 1393.5,230.9 1394.0,233.1 1394.5,232.9 1395.0,230.0 1395.5,229.7 1396.0,232.3 1396.5,233.7 1397.0,231.8 1397.5,229.9 1398.0,230.2 1398.5,232.3 1399.0,233.5 1399.5,231.3 1400.0,229.7 1400.5,231.6 1401.0,233.2 1401.5,232.1 1402.0,230.0 1402.5,230.3 1403.0,232.7 1403.5,232.6 1404.0,230.7 1404.5,230.3 1405.0,232.2 1405.5,232.7 1406.0,231.7 1406.5,230.4 1407.0,231.4 1407.5,232.6 1408.0,232.3 1408.5,230.8 1409.0,230.3 1409.5,231.5 1410.0,232.6 1410.5,232.0 1411.0,230.3 1411.5,230.9 1412.0,232.8 1412.5,232.6 1413.0,230.1 1413.5,229.6 1414.0,231.9 1414.5,233.8 1415.0,232.9 1415.5,229.1 1416.0,228.6 1416.5,234.7 1417.0,235.3 1417.5,231.3 1418.0,225.4 1418.5,227.7 1419.0,234.7 1419.5,237.5 1420.0,234.0 1420.5,226.0 1421.0,228.3 1421.5,235.6 1422.0,238.7 1422.5,231.7 1423.0,225.6 1423.5,228.9 1424.0,236.9 1424.5,236.6 1425.0,225.6 1425.5,227.3 1426.0,237.6 1426.5,233.4 1427.0,225.6 1427.5,225.0 1428.0,234.8 1428.5,240.1 1429.0,227.1 1429.5,223.3 1430.0,230.8 1430.5,238.9 1431.0,237.5 1431.5,226.3 1432.0,223.8 1432.5,230.0 1433.0,238.0 1433.5,237.1 1434.0,227.3 1434.5,226.3 1435.0,234.1 1435.5,237.0 1436.0,229.0 1436.5,225.0 1437.0,232.1 1437.5,237.6 1438.0,229.7 1438.5,225.4 1439.0,230.0 1439.5,238.3 1440.0,237.2 1440.5,224.6 1441.0,232.0 1441.5,239.7 1442.0,233.4 1442.5,224.6 1443.0,229.1 1443.5,241.5 1444.0,234.5 1444.5,222.0 1445.0,223.6 1445.5,236.3 1446.0,241.5 1446.5,228.6 1447.0,219.8 1447.5,228.1 1448.0,240.7 1448.5,232.6 1449.0,222.6 1449.5,222.4 1450.0,233.6 1450.5,241.0 1451.0,230.6 1451.5,221.8 1452.0,228.4 1452.5,238.7 1453.0,238.9 1453.5,228.3 1454.0,226.6 1454.5,234.7 1455.0,237.5 1455.5,227.1 1456.0,226.1 1456.5,233.5 1457.0,237.4 1457.5,232.2 1458.0,227.0 1458.5,231.1 1459.0,235.7 1459.5,234.2 1460.0,228.4 1460.5,228.3 1461.0,232.2 1461.5,235.2 1462.0,231.5 1462.5,227.7 1463.0,230.9 1463.5,234.8 1464.0,234.1 1464.5,230.5 1465.0,227.9 1465.5,230.7 1466.0,235.9 1466.5,231.5 1467.0,226.9 1467.5,229.2 1468.0,234.5 1468.5,235.3 1469.0,227.9 1469.5,226.8 1470.0,233.3 1470.5,236.2 1471.0,232.1 1471.5,227.6 1472.0,230.6 1472.5,235.3 1473.0,234.8 1473.5,229.9 1474.0,227.9 1474.5,230.8 1475.0,234.4 1475.5,232.5 1476.0,229.1 1476.5,230.1 1477.0,233.3 1477.5,233.5 1478.0,230.2 1478.5,229.6" fill="none" stroke="#333" stroke-width="0.9"/>
<path d="M140.0,523.4 140.4,513.2 140.8,504.5 141.3,511.4 141.7,512.0 142.1,504.1 142.5,500.9 142.9,505.3 143.4,508.8 143.8,495.7 144.2,492.8 144.6,498.8 145.0,496.6 145.5,487.1 145.9,482.7 146.3,484.2 146.7,480.6 147.1,468.8 147.6,471.1 148.0,462.7 148.4,454.4 148.8,455.1 149.2,452.2 149.7,435.9 150.1,432.3 150.5,440.3 150.9,422.5 151.3,416.4 151.8,415.4 152.2,406.7 152.6,385.9 153.0,390.9 153.4,390.9 153.9,373.8 154.3,366.7 154.7,376.6 155.1,371.7 155.5,360.5 156.0,353.4 156.4,363.3 156.8,362.0 157.2,355.0 157.6,354.2 158.1,371.7 158.5,371.5 158.9,335.2 159.3,348.5 159.7,364.7 160.2,358.5 160.6,351.6 161.0,349.2 161.4,380.0 161.8,368.3 162.3,344.5 162.7,347.6 163.1,368.4 163.5,372.2 163.9,351.9 164.4,344.7 164.8,376.1 165.2,389.9 165.6,366.8 166.0,366.2 166.5,382.2 166.9,380.2 167.3,354.6 167.7,360.1 168.1,382.0 168.6,382.1 169.0,371.2 169.4,377.9 169.8,389.6 170.2,364.1 170.7,364.0 171.1,394.3 171.5,410.2 171.9,381.9 172.3,380.6 172.8,400.1 173.2,415.4 173.6,386.2 174.0,378.7 174.4,394.9 174.9,415.9 175.3,383.9 175.7,369.3 176.1,409.8 176.5,414.4 177.0,386.0 177.4,373.7 177.8,398.2 178.2,403.6 178.6,394.2 179.1,377.3 179.5,395.5 179.9,411.0 180.3,399.8 180.7,398.2 181.2,426.0 181.6,397.2 182.0,381.3 182.4,428.1 182.8,428.9 183.3,407.1 183.7,402.0 184.1,429.9 184.5,434.8 184.9,400.0 185.4,388.1 185.8,429.9 186.2,445.4 186.6,413.5 187.0,404.9 187.5,425.2 187.9,429.3 188.3,410.5 188.7,414.5 189.1,429.5 189.6,429.9 190.0,422.6 190.4,424.9 190.8,440.8 191.2,442.1 191.7,421.6 192.1,443.2 192.5,444.1 192.9,416.7 193.3,435.4 193.8,455.5 194.2,422.0 194.6,419.2 195.0,452.0 195.4,455.0 195.9,414.1 196.3,425.7 196.7,449.5 197.1,453.1 197.5,437.0 198.0,436.6 198.4,472.6 198.8,468.2 199.2,443.4 199.6,445.4 200.1,466.4 200.5,458.4 200.9,447.8 201.3,455.7 201.7,473.0 202.2,460.2 202.6,428.9 203.0,460.4 203.4,471.3 203.8,457.4 204.3,443.7 204.7,467.9 205.1,476.8 205.5,458.5 205.9,465.1 206.4,475.1 206.8,476.0 207.2,442.3 207.6,466.6 208.0,497.9 208.5,473.6 208.9,456.5 209.3,485.9 209.7,484.3 210.1,463.3 210.6,468.5 211.0,494.4 211.4,491.9 211.8,468.6 212.2,480.6 212.7,496.9 213.1,482.7 213.5,476.3 213.9,483.2 214.3,486.5 214.8,471.1 215.2,461.7 215.6,461.2 216.0,456.8 216.4,441.8 216.9,427.0 217.3,426.8 217.7,421.2 218.1,404.2 218.5,391.3 219.0,382.0 219.4,383.7 219.8,367.2 220.2,360.0 220.6,362.2 221.1,365.6 221.5,358.4 221.9,344.9 222.3,349.2 222.7,356.8 223.2,355.9 223.6,348.6 224.0,348.3 224.4,356.7 224.8,359.5 225.3,344.8 225.7,329.2 226.1,342.9 226.5,384.4 226.9,339.3 227.4,333.0 227.8,371.1 228.2,370.0 228.6,349.5 229.0,357.7 229.5,370.7 229.9,348.5 230.3,347.4 230.7,380.1 231.1,379.0 231.6,371.2 232.0,377.5 232.4,403.5 232.8,363.3 233.2,369.6 233.7,387.7 234.1,384.3 234.5,366.7 234.9,381.6 235.3,403.2 235.8,381.8 236.2,375.3 236.6,392.7 237.0,395.3 237.4,384.1 237.9,381.7 238.3,395.7 238.7,411.5 239.1,386.9 239.5,378.8 240.0,411.7 240.4,412.6 240.8,385.0 241.2,392.0 241.6,426.8 242.1,420.4 242.5,394.8 242.9,396.7 243.3,419.6 243.7,407.2 244.2,405.3 244.6,420.6 245.0,401.9 245.4,422.4 245.8,417.8 246.3,395.1 246.7,415.0 247.1,432.3 247.5,419.2 247.9,410.2 248.4,418.4 248.8,437.3 249.2,425.8 249.6,411.3 250.0,419.7 250.5,436.0 250.9,431.6 251.3,404.5 251.7,424.8 252.1,452.3 252.6,430.4 253.0,421.1 253.4,435.3 253.8,444.0 254.2,432.2 254.7,413.9 255.1,438.3 255.5,453.4 255.9,447.7 256.3,435.8 256.8,470.8 257.2,454.8 257.6,421.0 258.0,446.7 258.4,464.2 258.9,447.1 259.3,434.3 259.7,448.1 260.1,462.8 260.5,462.2 261.0,446.1 261.4,452.0 261.8,466.2 262.2,458.7 262.6,447.4 263.1,454.7 263.5,471.6 263.9,471.4 264.3,449.1 264.7,447.5 265.2,476.6 265.6,478.9 266.0,463.8 266.4,456.1 266.8,473.1 267.3,483.1 267.7,456.4 268.1,447.5 268.5,478.0 268.9,497.8 269.4,472.2 269.8,456.1 270.2,496.2 270.6,507.2 271.0,470.2 271.5,458.8 271.9,495.0 272.3,500.4 272.7,468.3 273.1,486.5 273.6,526.5 274.0,504.1 274.4,488.2 274.8,496.8 275.2,521.5 275.7,514.7 276.1,476.2 276.5,497.2 276.9,527.5 277.3,507.8 277.8,482.1 278.2,494.6 278.6,527.4 279.0,513.0 279.4,497.4 279.9,500.1 280.3,512.8 280.7,498.9 281.1,495.7 281.5,499.8 282.0,501.6 282.4,495.0 282.8,488.8 283.2,491.3 283.6,497.6 284.1,494.2 284.5,482.7 284.9,489.0 285.3,496.0 285.7,488.2 286.2,480.6 286.6,483.0 287.0,494.4 287.4,478.2 287.8,466.4 288.3,479.1 288.7,492.0 289.1,476.5 289.5,470.0 289.9,477.0 290.4,482.8 290.8,473.8 291.2,459.9 291.6,464.3 292.0,480.2 292.5,482.6 292.9,467.2 293.3,470.4 293.7,480.7 294.1,452.8 294.6,460.2 295.0,470.8 295.4,470.2 295.8,449.6 296.2,468.7 296.7,475.8 297.1,461.8 297.5,452.8 297.9,459.2 298.3,488.2 298.8,459.0 299.2,456.8 299.6,469.8 300.0,474.1 300.4,441.7 300.9,453.7 301.3,478.9 301.7,478.6 302.1,466.1 302.5,460.2 303.0,479.9 303.4,492.1 303.8,471.2 304.2,468.3 304.6,508.0 305.1,480.0 305.5,475.1 305.9,488.7 306.3,519.5 306.7,500.5 307.2,485.6 307.6,498.8 308.0,498.7 308.4,484.8 308.8,478.9 309.3,480.2 309.7,478.1 310.1,467.5 310.5,465.6 310.9,468.6 311.4,463.8 311.8,449.4 312.2,451.8 312.6,459.8 313.0,456.6 313.5,440.3 313.9,435.4 314.3,441.5 314.7,437.4 315.1,421.0 315.6,418.8 316.0,433.7 316.4,429.6 316.8,411.2 317.2,420.5 317.7,428.5 318.1,418.1 318.5,410.5 318.9,412.4 319.3,419.0 319.8,406.4 320.2,397.3 320.6,411.1 321.0,415.5 321.4,399.1 321.9,398.1 322.3,409.0 322.7,394.9 323.1,389.7 323.5,395.4 324.0,398.4 324.4,383.6 324.8,383.8 325.2,396.3 325.6,391.6 326.1,382.1 326.5,382.1 326.9,386.9 327.3,385.5 327.7,370.0 328.2,373.8 328.6,385.3 329.0,379.7 329.4,368.0 329.8,367.4 330.3,374.5 330.7,369.6 331.1,356.2 331.5,359.1 331.9,369.5 332.4,362.3 332.8,358.5 333.2,374.6 333.6,383.6 334.0,355.0 334.5,371.0 334.9,395.7 335.3,363.3 335.7,356.2 336.1,402.0 336.6,382.0 337.0,369.2 337.4,388.3 337.8,412.7 338.2,386.2 338.7,370.0 339.1,398.5 339.5,405.3 339.9,375.7 340.3,411.2 340.8,420.4 341.2,402.8 341.6,392.0 342.0,406.8 342.4,423.1 342.9,407.4 343.3,394.7 343.7,405.5 344.1,412.4 344.5,397.9 345.0,407.3 345.4,422.2 345.8,422.1 346.2,399.1 346.6,414.8 347.1,420.6 347.5,411.9 347.9,422.2 348.3,431.7 348.7,404.7 349.2,402.3 349.6,427.3 350.0,424.7 350.4,397.1 350.8,425.6 351.3,429.8 351.7,425.4 352.1,408.2 352.5,432.4 352.9,438.5 353.4,415.8 353.8,422.3 354.2,440.6 354.6,432.1 355.0,402.3 355.5,432.5 355.9,444.4 356.3,436.6 356.7,422.9 357.1,425.1 357.6,454.5 358.0,442.5 358.4,407.9 358.8,438.2 359.2,442.5 359.7,434.1 360.1,430.0 360.5,446.1 360.9,453.7 361.3,441.0 361.8,438.5 362.2,453.6 362.6,453.9 363.0,439.8 363.4,443.7 363.9,469.8 364.3,452.5 364.7,440.8 365.1,463.5 365.5,468.6 366.0,441.0 366.4,456.3 366.8,470.3 367.2,457.5 367.6,443.3 368.1,471.4 368.5,491.1 368.9,449.4 369.3,452.4 369.7,475.2 370.2,473.4 370.6,453.2 371.0,466.3 371.4,478.6 371.8,474.5 372.3,452.8 372.7,467.2 373.1,500.1 373.5,472.8 373.9,469.2 374.4,476.1 374.8,484.4 375.2,469.0 375.6,458.5 376.0,468.3 376.5,469.0 376.9,456.8 377.3,444.6 377.7,449.0 378.1,447.6 378.6,437.5 379.0,426.3 379.4,430.4 379.8,429.2 380.2,416.1 380.7,412.1 381.1,413.6 381.5,399.1 381.9,396.9 382.3,398.5 382.8,394.4 383.2,382.2 383.6,381.8 384.0,391.8 384.4,394.5 384.9,379.9 385.3,373.5 385.7,387.4 386.1,385.0 386.5,370.9 387.0,369.9 387.4,384.2 387.8,383.4 388.2,364.1 388.6,363.8 389.1,374.5 389.5,380.4 389.9,367.0 390.3,360.5 390.7,364.5 391.2,368.3 391.6,357.6 392.0,358.4 392.4,363.3 392.8,362.6 393.3,354.5 393.7,355.9 394.1,375.7 394.5,352.0 394.9,339.1 395.4,364.4 395.8,351.7 396.2,341.9 396.6,355.1 397.0,373.4 397.5,359.0 397.9,339.8 398.3,373.4 398.7,364.0 399.1,357.0 399.6,366.6 400.0,387.4 400.4,388.1 400.8,364.8 401.2,356.8 401.7,380.0 402.1,393.8 402.5,375.0 402.9,369.2 403.3,380.2 403.8,396.4 404.2,390.9 404.6,371.5 405.0,379.9 405.4,412.0 405.9,419.4 406.3,390.2 406.7,391.8 407.1,424.0 407.5,429.3 408.0,395.9 408.4,393.7 408.8,420.9 409.2,414.7 409.6,386.0 410.1,418.6 410.5,423.4 410.9,418.0 411.3,414.8 411.7,423.2 412.2,432.3 412.6,427.4 413.0,418.2 413.4,430.7 413.8,449.4 414.3,436.0 414.7,425.7 415.1,443.4 415.5,457.9 415.9,444.2 416.4,441.5 416.8,455.8 417.2,468.6 417.6,447.1 418.0,442.2 418.5,454.1 418.9,466.4 419.3,464.0 419.7,447.3 420.1,449.5 420.6,461.9 421.0,470.8 421.4,457.8 421.8,457.5 422.2,471.7 422.7,473.9 423.1,455.0 423.5,482.9 423.9,497.1 424.3,459.6 424.8,457.9 425.2,481.1 425.6,486.4 426.0,475.7 426.4,472.3 426.9,487.9 427.3,494.1 427.7,466.2 428.1,473.1 428.5,494.0 429.0,494.7 429.4,464.1 429.8,485.1 430.2,506.5 430.6,494.2 431.1,486.2 431.5,507.8 431.9,517.6 432.3,504.1 432.7,471.6 433.2,489.1 433.6,515.0 434.0,519.6 434.4,481.2 434.8,479.4 435.3,514.2 435.7,524.9 436.1,497.3 436.5,478.5 436.9,492.9 437.4,530.7 437.8,532.5 438.2,495.2 438.6,511.9 439.0,542.6 439.5,518.4 439.9,497.5 440.3,509.7 440.7,529.3 441.1,512.7 441.6,508.6 442.0,527.3 442.4,526.8 442.8,496.0 443.2,521.8 443.7,523.4 444.1,510.9 444.5,499.4 444.9,510.0 445.3,524.5 445.8,507.9 446.2,505.3 446.6,516.5 447.0,510.7 447.4,503.2 447.9,520.3 448.3,521.2 448.7,500.1 449.1,506.8 449.5,517.3 450.0,508.4 450.4,501.7 450.8,505.1 451.2,523.3 451.6,496.7 452.1,499.3 452.5,512.7 452.9,525.8 453.3,512.8 453.7,499.5 454.2,502.4 454.6,517.8 455.0,518.1 455.4,493.0 455.8,496.4 456.3,518.0 456.7,513.3 457.1,494.6 457.5,498.4 457.9,506.6 458.4,504.9 458.8,488.8 459.2,493.0 459.6,503.3 460.0,501.2 460.5,490.2 460.9,487.8 461.3,492.2 461.7,488.4 462.1,474.7 462.6,469.5 463.0,478.8 463.4,478.8 463.8,451.6 464.2,442.3 464.7,456.7 465.1,448.0 465.5,441.9 465.9,441.4 466.3,449.1 466.8,438.8 467.2,415.5 467.6,421.4 468.0,431.8 468.4,412.4 468.9,401.7 469.3,410.3 469.7,403.8 470.1,392.8 470.5,399.6 471.0,395.9 471.4,390.0 471.8,387.2 472.2,392.5 472.6,398.9 473.1,379.6 473.5,378.9 473.9,392.1 474.3,375.1 474.7,368.4 475.2,378.0 475.6,371.8 476.0,359.9 476.4,364.9 476.8,377.7 477.3,367.0 477.7,352.1 478.1,354.1 478.5,361.2 478.9,359.4 479.4,351.5 479.8,336.9 480.2,372.2 480.6,372.7 481.0,345.6 481.5,347.2 481.9,368.1 482.3,365.2 482.7,338.8 483.1,357.6 483.6,378.4 484.0,362.2 484.4,360.7 484.8,380.3 485.2,381.5 485.7,363.9 486.1,367.4 486.5,395.0 486.9,384.5 487.3,364.6 487.8,361.3 488.2,403.0 488.6,401.2 489.0,364.0 489.4,371.3 489.9,394.9 490.3,390.6 490.7,370.8 491.1,401.6 491.5,418.6 492.0,380.3 492.4,406.4 492.8,414.0 493.2,388.5 493.6,393.0 494.1,408.9 494.5,393.6 494.9,377.3 495.3,406.3 495.7,415.2 496.2,405.6 496.6,401.8 497.0,414.1 497.4,435.0 497.8,402.0 498.3,408.5 498.7,419.3 499.1,425.1 499.5,413.8 499.9,407.5 500.4,422.4 500.8,423.2 501.2,417.9 501.6,413.9 502.0,420.2 502.5,436.7 502.9,427.2 503.3,404.4 503.7,415.7 504.1,430.8 504.6,420.0 505.0,408.6 505.4,434.6 505.8,442.1 506.2,436.3 506.7,427.3 507.1,438.7 507.5,467.5 507.9,446.8 508.3,433.6 508.8,435.4 509.2,454.3 509.6,459.3 510.0,450.9 510.4,432.4 510.9,463.2 511.3,472.6 511.7,461.5 512.1,447.7 512.5,469.4 513.0,487.8 513.4,466.5 513.8,446.1 514.2,484.5 514.6,491.0 515.1,470.7 515.5,458.2 515.9,488.5 516.3,491.8 516.7,458.6 517.2,466.4 517.6,495.3 518.0,489.2 518.4,477.4 518.8,472.8 519.3,487.7 519.7,514.5 520.1,494.4 520.5,467.4 520.9,475.3 521.4,505.9 521.8,493.7 522.2,464.1 522.6,468.7 523.0,503.9 523.5,502.4 523.9,484.5 524.3,483.6 524.7,507.5 525.1,514.4 525.6,488.9 526.0,498.0 526.4,524.4 526.8,504.3 527.2,469.1 527.7,488.4 528.1,507.8 528.5,505.0 528.9,487.2 529.3,495.6 529.8,516.0 530.2,500.4 530.6,481.6 531.0,498.5 531.4,507.6 531.9,499.4 532.3,479.3 532.7,498.0 533.1,498.9 533.5,495.0 534.0,486.3 534.4,495.7 534.8,505.8 535.2,496.1 535.6,481.2 536.1,490.3 536.5,506.6 536.9,492.9 537.3,486.3 537.7,495.2 538.2,509.6 538.6,488.3 539.0,478.2 539.4,491.7 539.8,498.1 540.3,489.8 540.7,483.4 541.1,485.0 541.5,490.7 541.9,491.5 542.4,480.3 542.8,476.3 543.2,486.3 543.6,491.5 544.0,478.2 544.5,479.3 544.9,501.5 545.3,501.4 545.7,477.6 546.1,462.7 546.6,487.0 547.0,504.7 547.4,482.1 547.8,471.5 548.2,489.3 548.7,487.0 549.1,456.9 549.5,464.2 549.9,498.8 550.3,484.4 550.8,452.5 551.2,480.7 551.6,496.8 552.0,458.5 552.4,466.1 552.9,502.2 553.3,507.2 553.7,473.5 554.1,457.7 554.5,491.7 555.0,510.8 555.4,485.6 555.8,466.6 556.2,485.7 556.6,509.8 557.1,488.3 557.5,470.3 557.9,496.4 558.3,519.9 558.7,490.2 559.2,479.5 559.6,497.4 560.0,521.4 560.4,493.6 560.8,476.8 561.3,487.8 561.7,519.6 562.1,517.1 562.5,491.8 562.9,482.5 563.4,504.5 563.8,511.2 564.2,482.7 564.6,473.2 565.0,506.3 565.5,501.9 565.9,491.7 566.3,510.0 566.7,507.2 567.1,490.4 567.6,497.9 568.0,531.4 568.4,507.5 568.8,486.8 569.2,523.6 569.7,505.2 570.1,500.1 570.5,513.9 570.9,505.2 571.3,488.0 571.8,495.0 572.2,508.3 572.6,493.6 573.0,487.0 573.4,492.9 573.9,498.4 574.3,490.4 574.7,476.4 575.1,477.0 575.5,483.7 576.0,479.7 576.4,468.1 576.8,470.8 577.2,477.4 577.6,475.3 578.1,467.1 578.5,470.4 578.9,475.5 579.3,464.4 579.7,450.5 580.2,464.0 580.6,459.4 581.0,449.5 581.4,444.7 581.8,443.2 582.3,453.0 582.7,432.2 583.1,432.4 583.5,438.3 583.9,438.2 584.4,412.7 584.8,415.0 585.2,419.0 585.6,419.2 586.0,400.0 586.5,411.4 586.9,410.7 587.3,393.0 587.7,399.5 588.1,402.8 588.6,391.8 589.0,382.3 589.4,381.2 589.8,394.0 590.2,382.6 590.7,367.4 591.1,368.7 591.5,376.1 591.9,367.5 592.3,358.2 592.8,364.8 593.2,362.9 593.6,354.5 594.0,369.4 594.4,378.8 594.9,358.9 595.3,351.4 595.7,372.2 596.1,381.1 596.5,356.4 597.0,367.8 597.4,384.9 597.8,375.8 598.2,346.7 598.6,378.2 599.1,406.5 599.5,377.2 599.9,361.0 600.3,383.3 600.7,398.0 601.2,396.2 601.6,355.9 602.0,376.7 602.4,400.2 602.8,406.1 603.3,383.1 603.7,376.7 604.1,406.0 604.5,409.8 604.9,379.5 605.4,380.4 605.8,417.6 606.2,416.7 606.6,384.4 607.0,398.2 607.5,431.5 607.9,401.4 608.3,392.8 608.7,402.6 609.1,431.4 609.6,421.4 610.0,403.5 610.4,406.4 610.8,439.6 611.2,433.1 611.7,402.5 612.1,407.5 612.5,430.6 612.9,424.9 613.3,391.3 613.8,421.9 614.2,452.6 614.6,421.6 615.0,418.2 615.4,427.7 615.9,429.3 616.3,420.3 616.7,445.1 617.1,439.4 617.5,420.1 618.0,421.8 618.4,447.7 618.8,437.8 619.2,426.1 619.6,428.4 620.1,448.9 620.5,450.1 620.9,441.3 621.3,431.0 621.7,441.2 622.2,465.3 622.6,460.1 623.0,420.7 623.4,446.0 623.8,455.2 624.3,446.8 624.7,434.5 625.1,455.3 625.5,469.1 625.9,454.2 626.4,432.7 626.8,456.0 627.2,465.8 627.6,463.9 628.0,444.6 628.5,461.7 628.9,470.9 629.3,443.4 629.7,448.3 630.1,480.0 630.6,470.6 631.0,450.6 631.4,463.4 631.8,485.6 632.2,471.5 632.7,452.5 633.1,472.2 633.5,471.0 633.9,451.1 634.3,476.5 634.8,485.3 635.2,463.3 635.6,455.5 636.0,489.8 636.4,487.0 636.9,447.4 637.3,448.3 637.7,478.7 638.1,467.7 638.5,457.7 639.0,488.2 639.4,495.2 639.8,459.7 640.2,441.1 640.6,475.9 641.1,481.8 641.5,473.2 641.9,463.1 642.3,464.8 642.7,480.8 643.2,483.1 643.6,467.3 644.0,464.8 644.4,478.2 644.8,475.6 645.3,457.6 645.7,475.2 646.1,479.3 646.5,470.7 646.9,469.0 647.4,477.2 647.8,483.6 648.2,468.0 648.6,464.5 649.0,472.3 649.5,473.6 649.9,460.0 650.3,452.6 650.7,458.3 651.1,470.2 651.6,451.9 652.0,452.8 652.4,460.5 652.8,449.2 653.2,442.2 653.7,451.7 654.1,456.5 654.5,441.3 654.9,428.7 655.3,438.2 655.8,439.9 656.2,428.4 656.6,420.4 657.0,426.3 657.4,434.8 657.9,428.3 658.3,410.7 658.7,403.7 659.1,422.2 659.5,416.0 660.0,397.6 660.4,393.0 660.8,403.8 661.2,399.8 661.6,388.6 662.1,385.1 662.5,390.8 662.9,387.3 663.3,378.3 663.7,368.7 664.2,373.9 664.6,375.9 665.0,361.7 665.4,375.2 665.8,386.7 666.3,370.3 666.7,369.0 667.1,376.9 667.5,388.0 667.9,375.5 668.4,362.2 668.8,385.6 669.2,385.4 669.6,375.9 670.0,374.6 670.5,392.3 670.9,396.4 671.3,368.2 671.7,375.8 672.1,401.4 672.6,398.1 673.0,382.5 673.4,385.2 673.8,399.5 674.2,417.1 674.7,394.6 675.1,386.5 675.5,398.0 675.9,412.0 676.3,404.1 676.8,394.9 677.2,396.8 677.6,412.6 678.0,410.1 678.4,384.5 678.9,390.6 679.3,411.5 679.7,416.3 680.1,410.0 680.5,398.3 681.0,408.0 681.4,440.8 681.8,408.9 682.2,415.1 682.6,436.1 683.1,428.9 683.5,418.4 683.9,419.3 684.3,436.2 684.7,460.0 685.2,432.4 685.6,403.6 686.0,439.1 686.4,457.6 686.8,439.1 687.3,436.8 687.7,442.1 688.1,453.3 688.5,438.5 688.9,426.7 689.4,468.9 689.8,480.4 690.2,445.4 690.6,437.0 691.0,481.7 691.5,486.9 691.9,451.7 692.3,452.3 692.7,471.4 693.1,453.4 693.6,450.3 694.0,475.7 694.4,476.5 694.8,459.5 695.2,456.5 695.7,471.1 696.1,471.9 696.5,457.5 696.9,440.4 697.3,455.2 697.8,458.1 698.2,451.3 698.6,448.9 699.0,449.8 699.4,461.8 699.9,460.8 700.3,442.9 700.7,444.3 701.1,450.1 701.5,449.2 702.0,431.3 702.4,436.7" fill="none" stroke="#333" stroke-width="0.8"/>
<path d="M912.5,466.9 913.0,457.2 913.4,435.3 913.9,444.2 914.3,465.5 914.8,454.9 915.2,439.2 915.7,449.9 916.1,463.1 916.6,454.4 917.0,448.4 917.5,461.9 917.9,465.2 918.4,459.6 918.8,453.7 919.3,463.8 919.7,471.3 920.2,467.2 920.6,458.2 921.1,464.2 921.5,470.9 922.0,466.0 922.4,465.6 922.9,478.8 923.3,471.2 923.8,466.3 924.2,476.6 924.7,476.1 925.1,462.5 925.6,479.3 926.0,489.1 926.5,475.2 926.9,458.7 927.4,476.2 927.8,479.3 928.3,473.3 928.7,463.7 929.2,470.2 929.6,482.4 930.1,473.6 930.5,465.5 931.0,472.4 931.4,473.8 931.9,471.7 932.3,466.0 932.8,475.7 933.2,472.0 933.7,453.9 934.1,467.3 934.6,478.8 935.0,473.1 935.5,460.8 935.9,461.6 936.4,472.4 936.8,472.8 937.3,447.8 937.7,455.5 938.2,466.6 938.6,459.4 939.1,452.7 939.5,459.2 940.0,464.8 940.4,458.5 940.9,445.8 941.3,450.0 941.8,463.4 942.2,453.2 942.7,436.0 943.1,448.0 943.6,453.8 944.0,450.0 944.5,438.0 944.9,443.0 945.4,460.6 945.8,455.3 946.3,442.5 946.7,437.6 947.2,448.2 947.6,447.3 948.1,435.4 948.5,437.9 949.0,442.6 949.4,441.8 949.9,431.4 950.3,432.5 950.8,457.1 951.2,436.2 951.7,432.9 952.1,441.3 952.6,442.6 953.0,437.7 953.5,427.3 953.9,447.9 954.4,445.5 954.8,431.2 955.3,419.9 955.7,445.4 956.2,455.4 956.6,435.9 957.1,433.0 957.5,447.9 958.0,450.9 958.4,439.9 958.9,437.2 959.3,451.1 959.8,448.2 960.2,430.6 960.7,437.2 961.1,456.6 961.6,440.9 962.0,425.8 962.5,437.9 962.9,449.3 963.4,452.1 963.8,437.9 964.3,445.1 964.7,453.4 965.2,447.4 965.6,442.4 966.1,442.4 966.5,455.1 967.0,450.0 967.4,438.0 967.9,448.6 968.3,453.0 968.8,453.0 969.2,436.0 969.7,441.4 970.1,458.4 970.6,456.7 971.0,440.4 971.5,457.5 971.9,455.9 972.4,449.7 972.8,450.9 973.3,467.9 973.7,465.8 974.2,448.5 974.6,442.4 975.1,458.1 975.5,465.5 976.0,451.9 976.4,453.0 976.9,466.2 977.3,457.6 977.8,451.4 978.2,458.1 978.7,468.1 979.1,459.5 979.6,460.3 980.0,478.2 980.5,473.4 980.9,460.6 981.4,461.1 981.8,473.4 982.3,472.0 982.7,461.3 983.2,459.5 983.6,461.6 984.1,478.5 984.5,473.1 985.0,464.3 985.4,466.3 985.9,482.4 986.3,482.9 986.8,462.5 987.2,467.2 987.7,486.8 988.1,469.6 988.6,454.4 989.0,477.2 989.5,480.9 989.9,476.4 990.4,471.4 990.8,473.6 991.3,484.9 991.7,474.7 992.2,457.3 992.6,472.2 993.1,489.4 993.5,472.6 994.0,466.1 994.4,475.3 994.9,481.3 995.3,466.2 995.8,460.4 996.2,474.1 996.7,472.1 997.1,465.2 997.6,465.7 998.0,474.6 998.5,467.8 998.9,449.2 999.4,465.2 999.8,474.2 1000.3,460.4 1000.7,458.3 1001.2,472.9 1001.6,469.3 1002.1,461.4 1002.5,464.0 1003.0,483.6 1003.4,465.7 1003.9,461.1 1004.3,462.9 1004.8,477.2 1005.2,474.9 1005.7,450.7 1006.1,449.0 1006.6,468.1 1007.0,469.3 1007.5,459.8 1007.9,459.0 1008.4,474.3 1008.8,465.7 1009.3,450.6 1009.7,452.4 1010.2,461.7 1010.6,464.1 1011.1,455.3 1011.5,453.4 1012.0,463.1 1012.4,462.6 1012.9,441.1 1013.3,456.8 1013.8,461.5 1014.2,441.7 1014.7,457.4 1015.1,465.2 1015.6,434.9 1016.0,446.2 1016.5,461.9 1016.9,465.5 1017.4,443.2 1017.8,435.6 1018.3,454.3 1018.7,449.7 1019.2,433.0 1019.6,446.2 1020.1,458.6 1020.5,451.2 1021.0,438.8 1021.4,449.0 1021.9,449.7 1022.3,445.0 1022.8,441.5 1023.2,446.2 1023.7,448.8 1024.1,439.4 1024.6,432.4 1025.0,440.0 1025.5,445.0 1025.9,443.1 1026.4,434.5 1026.8,435.5 1027.3,442.2 1027.7,446.0 1028.2,431.9 1028.6,423.5 1029.1,435.0 1029.5,444.2 1030.0,437.1 1030.4,425.0 1030.9,439.6 1031.3,457.2 1031.8,434.4 1032.2,431.9 1032.7,438.7 1033.1,452.5 1033.6,437.5 1034.0,435.8 1034.5,445.0 1034.9,438.8 1035.4,428.3 1035.8,443.3 1036.3,451.9 1036.7,442.7 1037.2,434.8 1037.6,441.4 1038.1,449.4 1038.5,446.3 1039.0,434.7 1039.4,441.4 1039.9,447.3 1040.3,449.3 1040.8,428.1 1041.2,438.8 1041.7,460.2 1042.1,453.7 1042.6,443.2 1043.0,445.8 1043.5,459.9 1043.9,453.0 1044.4,441.2 1044.8,456.5 1045.3,462.4 1045.7,447.0 1046.2,446.4 1046.6,455.0 1047.1,450.5 1047.5,434.2 1048.0,452.4 1048.4,461.6 1048.9,457.5 1049.3,445.2 1049.8,447.2 1050.2,450.6 1050.7,448.9 1051.1,444.6 1051.6,455.5 1052.0,453.6 1052.5,443.6 1052.9,441.9 1053.4,461.6 1053.8,461.0 1054.3,445.1 1054.7,436.5 1055.2,455.9 1055.6,455.5 1056.1,437.2 1056.5,435.0 1057.0,461.9 1057.4,459.4 1057.9,444.0 1058.3,441.9 1058.8,450.5 1059.2,444.5 1059.7,435.6 1060.1,461.4 1060.6,462.0 1061.0,439.3 1061.5,430.0 1061.9,449.1 1062.4,466.1 1062.8,454.5 1063.3,434.4 1063.7,444.5 1064.2,463.9 1064.6,465.5 1065.1,447.4 1065.5,444.2 1066.0,454.9 1066.4,458.5 1066.9,445.1 1067.3,445.4 1067.8,465.0 1068.2,436.2 1068.7,446.4 1069.1,451.0 1069.6,452.4 1070.0,440.1 1070.5,440.0 1070.9,455.9 1071.4,441.2 1071.8,439.7 1072.3,458.5 1072.7,458.7 1073.2,453.8 1073.6,442.2 1074.1,452.5 1074.5,458.2 1075.0,444.2 1075.4,445.7 1075.9,457.5 1076.3,459.7 1076.8,441.6 1077.2,450.6 1077.7,468.2 1078.1,457.3 1078.6,446.8 1079.0,449.0 1079.5,469.9 1079.9,460.8 1080.4,447.8 1080.8,452.5 1081.3,470.2 1081.7,464.8 1082.2,445.4 1082.6,448.8 1083.1,466.7 1083.5,467.0 1084.0,455.9 1084.4,449.6 1084.9,463.4 1085.3,462.5 1085.8,458.5 1086.2,458.2 1086.7,469.9 1087.1,462.9 1087.6,450.0 1088.0,453.0 1088.5,471.5 1088.9,454.4 1089.4,453.0 1089.8,465.4 1090.3,463.7 1090.7,451.3 1091.2,451.6 1091.6,467.9 1092.1,477.1 1092.5,460.3 1093.0,450.4 1093.4,467.5 1093.9,475.1 1094.3,461.6 1094.8,461.0 1095.2,476.1 1095.7,477.1 1096.1,461.4 1096.6,459.0 1097.0,470.2 1097.5,476.1 1097.9,467.9 1098.4,459.0 1098.8,459.9 1099.3,479.9 1099.7,464.0 1100.2,457.1 1100.6,459.9 1101.1,480.1 1101.5,458.8 1102.0,452.9 1102.4,475.5 1102.9,463.3 1103.3,454.4 1103.8,463.1 1104.2,465.6 1104.7,455.9 1105.1,456.9 1105.6,464.5 1106.0,466.0 1106.5,451.3 1106.9,451.2 1107.4,469.1 1107.8,465.0 1108.3,449.2 1108.7,456.4 1109.2,471.6 1109.6,460.5 1110.1,445.3 1110.5,470.7 1111.0,465.8 1111.4,450.8 1111.9,457.0 1112.3,468.1 1112.8,459.8 1113.2,453.8 1113.7,455.3 1114.1,459.9 1114.6,456.1 1115.0,449.0 1115.5,454.3 1115.9,461.0 1116.4,458.1 1116.8,447.6 1117.3,448.3 1117.7,466.0 1118.2,468.9 1118.6,447.3 1119.1,456.9 1119.5,461.1 1120.0,455.1 1120.4,445.8 1120.9,452.3 1121.3,464.7 1121.8,445.5 1122.2,449.9 1122.7,462.1 1123.1,460.0 1123.6,442.4 1124.0,444.3 1124.5,463.8 1124.9,459.8 1125.4,443.0 1125.8,439.8 1126.3,457.7 1126.7,463.2 1127.2,441.8 1127.6,447.7 1128.1,463.8 1128.5,452.7 1129.0,442.4 1129.4,448.8 1129.9,459.4 1130.3,443.9 1130.8,448.2 1131.2,457.0 1131.7,451.7 1132.1,443.7 1132.6,453.5 1133.0,457.9 1133.5,450.9 1133.9,441.4 1134.4,453.8 1134.8,458.9 1135.3,453.5 1135.7,444.7 1136.2,459.8 1136.6,472.7 1137.1,453.8 1137.5,447.9 1138.0,463.6 1138.4,468.0 1138.9,447.5 1139.3,450.9 1139.8,470.5 1140.2,460.5 1140.7,451.4 1141.1,454.3 1141.6,464.0 1142.0,468.6 1142.5,448.0 1142.9,445.9 1143.4,470.2 1143.8,472.7 1144.3,455.4 1144.7,451.5 1145.2,467.2 1145.6,470.4 1146.1,450.2 1146.5,461.0 1147.0,465.9 1147.4,465.1 1147.9,459.8 1148.3,458.1 1148.8,478.1 1149.2,465.1 1149.7,449.2 1150.1,468.8 1150.6,471.4 1151.0,463.3 1151.5,454.9 1151.9,461.8 1152.4,469.8 1152.8,459.2 1153.3,459.3 1153.7,468.0 1154.2,465.7 1154.6,460.4 1155.1,460.5 1155.5,471.6 1156.0,466.6 1156.4,461.8 1156.9,464.0 1157.3,468.3 1157.8,464.1 1158.2,454.1 1158.7,460.1 1159.1,466.2 1159.6,464.1 1160.0,453.3 1160.5,456.1 1160.9,468.3 1161.4,469.2 1161.8,456.5 1162.3,457.6 1162.7,468.2 1163.2,466.9 1163.6,458.9 1164.1,455.3 1164.5,464.8 1165.0,467.8 1165.4,449.2 1165.9,459.8 1166.3,466.3 1166.8,455.8 1167.2,455.3 1167.7,471.6 1168.1,460.7 1168.6,449.2 1169.0,466.5 1169.5,474.6 1169.9,457.5 1170.4,449.5 1170.8,456.7 1171.3,471.4 1171.7,455.4 1172.2,449.1 1172.6,462.3 1173.1,462.6 1173.5,453.6 1174.0,450.9 1174.4,469.3 1174.9,461.7 1175.3,446.5 1175.8,449.1 1176.2,461.3 1176.7,452.1 1177.1,442.5 1177.6,460.6 1178.0,459.2 1178.5,447.2 1178.9,463.7 1179.4,448.5 1179.8,446.6 1180.3,450.0 1180.7,457.7 1181.2,453.7 1181.6,444.7 1182.1,446.7 1182.5,452.6 1183.0,450.2 1183.4,434.6 1183.9,436.1 1184.3,453.1 1184.8,447.1 1185.2,441.7 1185.7,441.5 1186.1,452.9 1186.6,453.5 1187.0,436.6 1187.5,433.9 1187.9,445.6 1188.4,448.8 1188.8,444.2 1189.3,434.1 1189.7,435.8 1190.2,457.2 1190.6,432.1 1191.1,427.5 1191.5,450.8 1192.0,453.8 1192.4,435.3 1192.9,439.7 1193.3,456.1 1193.8,444.4 1194.2,436.6 1194.7,444.0 1195.1,451.9 1195.6,444.4 1196.0,438.5 1196.5,452.2 1196.9,457.2 1197.4,442.2 1197.8,443.1 1198.3,452.6 1198.7,460.8 1199.2,435.9 1199.6,431.6 1200.1,446.3 1200.5,447.9 1201.0,438.9 1201.4,437.7 1201.9,448.4 1202.3,463.4 1202.8,443.7 1203.2,429.0 1203.7,450.4 1204.1,442.4 1204.6,442.9 1205.0,450.9 1205.5,453.0 1205.9,448.7 1206.4,442.3 1206.8,449.0 1207.3,449.2 1207.7,443.3 1208.2,456.9 1208.6,456.4 1209.1,442.9 1209.5,445.4 1210.0,457.0 1210.4,450.0 1210.9,437.9 1211.3,452.7 1211.8,463.5 1212.2,447.9 1212.7,445.7 1213.1,455.3 1213.6,462.6 1214.0,449.0 1214.5,446.7 1214.9,457.2 1215.4,454.4 1215.8,442.7 1216.3,458.7 1216.7,469.8 1217.2,450.3 1217.6,445.5 1218.1,462.8 1218.5,464.0 1219.0,445.0 1219.4,445.3 1219.9,464.4 1220.3,470.0 1220.8,447.9 1221.2,443.9 1221.7,467.9 1222.1,463.3 1222.6,447.3 1223.0,448.9 1223.5,465.3 1223.9,469.1 1224.4,450.4 1224.8,441.4 1225.3,461.1 1225.7,466.7 1226.2,455.1 1226.6,440.7 1227.1,451.6 1227.5,462.8 1228.0,460.3 1228.4,455.2 1228.9,454.7 1229.3,475.2 1229.8,469.8 1230.2,445.6 1230.7,458.1 1231.1,467.0 1231.6,462.8 1232.0,450.9 1232.5,465.5 1232.9,478.5 1233.4,460.2 1233.8,456.3 1234.3,471.1 1234.7,476.0 1235.2,460.5 1235.6,453.6 1236.1,460.8 1236.5,473.6 1237.0,461.8 1237.4,453.1 1237.9,465.7 1238.3,481.1 1238.8,469.4 1239.2,462.9 1239.7,460.8 1240.1,472.3 1240.6,470.9 1241.0,455.9 1241.5,455.8 1241.9,469.1 1242.4,466.4 1242.8,458.2 1243.3,459.8 1243.7,475.1 1244.2,466.6 1244.6,449.5 1245.1,458.7 1245.5,468.3 1246.0,452.8 1246.4,453.2 1246.9,465.5 1247.3,458.8 1247.8,443.7 1248.2,451.6 1248.7,465.2 1249.1,460.3 1249.6,450.1 1250.0,458.8 1250.5,462.9 1250.9,457.5 1251.4,449.1 1251.8,454.4 1252.3,473.5 1252.7,455.7 1253.2,451.6 1253.6,461.7 1254.1,463.6 1254.5,447.2 1255.0,449.1 1255.4,463.4 1255.9,466.3 1256.3,447.1 1256.8,454.4 1257.2,456.6 1257.7,452.6 1258.1,438.2 1258.6,444.7 1259.0,462.2 1259.5,446.0 1259.9,438.4 1260.4,450.7 1260.8,460.4 1261.3,448.1 1261.7,441.7 1262.2,459.4 1262.6,449.4 1263.1,447.1 1263.5,453.3 1264.0,448.7 1264.4,432.5 1264.9,459.0 1265.3,454.8 1265.8,439.2 1266.2,447.4 1266.7,457.1 1267.1,452.6 1267.6,446.2 1268.0,451.1 1268.5,450.4 1268.9,439.3 1269.4,436.0 1269.8,451.6 1270.3,451.8 1270.7,446.7 1271.2,445.0 1271.6,452.3 1272.1,442.3 1272.5,440.4 1273.0,443.3 1273.4,453.9 1273.9,451.3 1274.3,439.3 1274.8,450.8 1275.2,455.1 1275.7,440.1 1276.1,445.0 1276.6,451.9 1277.0,444.6 1277.5,436.2 1277.9,443.7 1278.4,457.6 1278.8,442.9 1279.3,437.7 1279.7,442.7 1280.2,463.3 1280.6,445.2 1281.1,448.9 1281.5,453.2 1282.0,445.3 1282.4,438.3 1282.9,445.3 1283.3,463.0 1283.8,450.7 1284.2,440.1 1284.7,444.0 1285.1,450.2 1285.6,446.5 1286.0,439.8 1286.5,449.0 1286.9,459.2 1287.4,447.2 1287.8,439.0 1288.3,443.3 1288.7,460.2 1289.2,460.3 1289.6,442.6 1290.1,435.9 1290.5,443.3 1291.0,450.6 1291.4,445.0 1291.9,437.2 1292.3,437.5 1292.8,453.1 1293.2,461.3 1293.7,442.5 1294.1,443.3 1294.6,446.8 1295.0,448.7 1295.5,433.8 1295.9,445.4 1296.4,457.4 1296.8,430.2 1297.3,439.5 1297.7,453.2 1298.2,448.6 1298.6,433.9 1299.1,447.9 1299.5,454.6 1300.0,447.3 1300.4,429.1 1300.9,437.1 1301.3,458.4 1301.8,455.3 1302.2,438.4 1302.7,439.3 1303.1,456.4 1303.6,456.3 1304.0,441.1 1304.5,437.6 1304.9,450.3 1305.4,460.2 1305.8,442.3 1306.3,440.9 1306.7,445.9 1307.2,453.1 1307.6,445.4 1308.1,436.8 1308.5,449.4 1309.0,451.6 1309.4,435.2 1309.9,436.0 1310.3,455.8 1310.8,450.1 1311.2,439.6 1311.7,446.3 1312.1,458.1 1312.6,455.9 1313.0,443.4 1313.5,448.7 1313.9,461.2 1314.4,438.0 1314.8,443.0 1315.3,459.8 1315.7,470.4 1316.2,452.6 1316.6,447.4 1317.1,451.0 1317.5,463.5 1318.0,460.8 1318.4,452.0 1318.9,447.4 1319.3,459.0 1319.8,461.3 1320.2,447.0 1320.7,450.0 1321.1,463.3 1321.6,462.0 1322.0,451.0 1322.5,457.8 1322.9,470.7 1323.4,465.9 1323.8,456.5 1324.3,462.7 1324.7,472.5 1325.2,457.9 1325.6,451.7 1326.1,463.9 1326.5,463.2 1327.0,452.9 1327.4,468.7 1327.9,472.2 1328.3,459.6 1328.8,476.5 1329.2,473.8 1329.7,461.5 1330.1,465.1 1330.6,478.9 1331.0,467.9 1331.5,457.8 1331.9,461.0 1332.4,470.6 1332.8,466.0 1333.3,458.3 1333.7,466.0 1334.2,472.8 1334.6,466.9 1335.1,451.4 1335.5,464.0 1336.0,470.2 1336.4,469.8 1336.9,460.9 1337.3,456.2 1337.8,472.9 1338.2,466.0 1338.7,451.3 1339.1,461.2 1339.6,472.6 1340.0,469.0 1340.5,456.6 1340.9,450.8 1341.4,468.5 1341.8,469.7 1342.3,466.5 1342.7,455.3 1343.2,464.8 1343.6,475.2 1344.1,472.8 1344.5,457.7 1345.0,458.2 1345.4,472.6 1345.9,471.8 1346.3,463.3 1346.8,468.8 1347.2,471.6 1347.7,457.6 1348.1,467.5 1348.6,476.3 1349.0,473.8 1349.5,464.3 1349.9,465.3 1350.4,478.2 1350.8,481.1 1351.3,465.0 1351.7,465.8 1352.2,476.4 1352.6,473.4 1353.1,462.9 1353.5,472.3 1354.0,478.8 1354.4,453.4 1354.9,465.4 1355.3,474.9 1355.8,472.6 1356.2,460.2 1356.7,481.6 1357.1,456.6 1357.6,458.5 1358.0,474.3 1358.5,470.2 1358.9,461.0 1359.4,471.7 1359.8,482.1 1360.3,468.0 1360.7,465.4 1361.2,471.5 1361.6,479.7 1362.1,469.6 1362.5,455.7 1363.0,470.6 1363.4,481.9 1363.9,465.6 1364.3,460.9 1364.8,467.7 1365.2,477.1 1365.7,464.9 1366.1,461.1 1366.6,455.6 1367.0,451.6 1367.5,462.8 1367.9,468.0 1368.4,460.0 1368.8,460.6 1369.3,476.4 1369.7,443.7 1370.2,462.1 1370.6,475.4 1371.1,460.3 1371.5,450.5 1372.0,458.3 1372.4,462.2 1372.9,459.7 1373.3,439.1 1373.8,457.1 1374.2,469.7 1374.7,459.5 1375.1,448.5 1375.6,453.0 1376.0,462.8 1376.5,456.7 1376.9,442.9 1377.4,444.7 1377.8,459.3 1378.3,452.6 1378.7,445.9 1379.2,455.5 1379.6,466.5 1380.1,450.7 1380.5,440.1 1381.0,454.1 1381.4,456.1 1381.9,446.8 1382.3,445.7 1382.8,453.6 1383.2,455.4 1383.7,445.4 1384.1,440.4 1384.6,453.4 1385.0,459.2 1385.5,440.5 1385.9,448.4 1386.4,460.4 1386.8,445.9 1387.3,436.6 1387.7,441.7 1388.2,450.6 1388.6,446.0 1389.1,443.5 1389.5,442.3 1390.0,447.9 1390.4,443.0 1390.9,441.8 1391.3,451.7 1391.8,448.9 1392.2,433.7 1392.7,434.2 1393.1,450.9 1393.6,459.1 1394.0,439.7 1394.5,433.4 1394.9,441.0 1395.4,447.2 1395.8,439.0 1396.3,423.8 1396.7,442.0 1397.2,451.3 1397.6,440.4 1398.1,431.7 1398.5,440.9 1399.0,449.3 1399.4,443.3 1399.9,433.5 1400.3,432.8 1400.8,448.7 1401.2,446.4 1401.7,428.5 1402.1,435.0 1402.6,454.9 1403.0,438.9 1403.5,417.6 1403.9,438.4 1404.4,450.3 1404.8,440.6 1405.3,423.3 1405.7,428.0 1406.2,444.9 1406.6,439.4 1407.1,431.1 1407.5,439.5 1408.0,446.8 1408.4,438.1 1408.9,435.6 1409.3,440.5 1409.8,448.3 1410.2,435.5 1410.7,433.7 1411.1,455.6 1411.6,448.2 1412.0,434.5 1412.5,436.3 1412.9,446.4 1413.4,442.4 1413.8,432.0 1414.3,440.3 1414.7,458.9 1415.2,452.5 1415.6,440.9 1416.1,443.9 1416.5,451.9 1417.0,449.9 1417.4,437.3 1417.9,445.4 1418.3,453.4 1418.8,449.3 1419.2,441.0 1419.7,446.2 1420.1,447.6 1420.6,448.0 1421.0,455.5 1421.5,463.8 1421.9,451.3 1422.4,442.5 1422.8,445.6 1423.3,455.2 1423.7,458.7 1424.2,448.5 1424.6,448.5 1425.1,462.3 1425.5,470.0 1426.0,453.7 1426.4,450.4 1426.9,465.7 1427.3,470.1 1427.8,452.5 1428.2,448.4 1428.7,466.4 1429.1,468.5 1429.6,445.5 1430.0,463.3 1430.5,472.6 1430.9,459.9 1431.4,459.9 1431.8,474.3 1432.3,474.2 1432.7,456.7 1433.2,455.0 1433.6,480.2 1434.1,482.6 1434.5,461.9 1435.0,468.2 1435.4,480.2 1435.9,466.3 1436.3,451.7 1436.8,467.7 1437.2,479.2 1437.7,460.6 1438.1,452.3 1438.6,484.5 1439.0,466.6 1439.5,458.0 1439.9,467.9 1440.4,479.4 1440.8,466.3 1441.3,459.6 1441.7,464.4 1442.2,480.4 1442.6,473.0 1443.1,457.5 1443.5,456.7 1444.0,466.4 1444.4,473.7 1444.9,463.8 1445.3,454.5 1445.8,469.8 1446.2,453.9 1446.7,451.6 1447.1,466.5 1447.6,474.3 1448.0,458.7 1448.5,458.9 1448.9,465.5 1449.4,465.7 1449.8,448.9 1450.3,456.0 1450.7,469.4 1451.2,454.9 1451.6,452.0 1452.1,470.2 1452.5,462.0 1453.0,440.7 1453.4,460.6 1453.9,466.9 1454.3,453.9 1454.8,446.2 1455.2,466.8 1455.7,468.1 1456.1,447.4 1456.6,461.4 1457.0,459.3 1457.5,448.9 1457.9,460.3 1458.4,467.1 1458.8,441.4 1459.3,442.8 1459.7,458.1 1460.2,458.2 1460.6,448.2 1461.1,441.1 1461.5,459.8 1462.0,463.8 1462.4,446.0 1462.9,438.9 1463.3,457.7 1463.8,458.9 1464.2,445.1 1464.7,449.0 1465.1,469.7 1465.6,447.3 1466.0,440.2 1466.5,457.7 1466.9,451.1 1467.4,442.1 1467.8,445.1 1468.3,455.7 1468.7,457.2 1469.2,443.7 1469.6,443.6 1470.1,454.2 1470.5,458.8 1471.0,443.1 1471.4,442.3 1471.9,458.8 1472.3,460.0 1472.8,450.7 1473.2,449.3 1473.7,455.8 1474.1,456.9 1474.6,447.1 1475.0,443.2 1475.5,464.1 1475.9,460.6 1476.4,440.6 1476.8,440.7 1477.3,459.0 1477.7,472.9 1478.2,452.5" fill="none" stroke="#222" stroke-width="0.9"/>
<text transform="translate(-1.01,651.94) scale(1.0000,1)" font-family="'Liberation Sans', sans-serif" font-weight="bold" fill="#000"><tspan x="0.00" y="0.00" font-size="65.04">B</tspan></text>
<text transform="translate(286.47,649.89) scale(1.0000,1)" font-family="'Liberation Sans', sans-serif" font-weight="bold" fill="#000"><tspan x="0.00" y="0.00" font-size="46.06">OB</tspan></text>
<text transform="translate(922.18,648.89) scale(1.0000,1)" font-family="'Liberation Sans', sans-serif" font-weight="bold" fill="#000"><tspan x="0.00" y="0.00" font-size="41.72">PC</tspan></text>
<line x1="127.40" y1="712.50" x2="127.40" y2="1086.90" stroke="#000" stroke-width="3.4" stroke-linecap="butt"/>
<line x1="111.20" y1="1075.50" x2="492.20" y2="1075.50" stroke="#000" stroke-width="3.4" stroke-linecap="butt"/>
<line x1="111.20" y1="712.50" x2="127.40" y2="712.50" stroke="#000" stroke-width="3.4" stroke-linecap="butt"/>
<line x1="117.90" y1="723.27" x2="127.40" y2="723.27" stroke="#000" stroke-width="3.4" stroke-linecap="butt"/>
<line x1="117.90" y1="736.34" x2="127.40" y2="736.34" stroke="#000" stroke-width="3.4" stroke-linecap="butt"/>
<line x1="117.90" y1="753.76" x2="127.40" y2="753.76" stroke="#000" stroke-width="3.4" stroke-linecap="butt"/>
<line x1="117.90" y1="779.90" x2="127.40" y2="779.90" stroke="#000" stroke-width="3.4" stroke-linecap="butt"/>
<line x1="111.20" y1="833.50" x2="127.40" y2="833.50" stroke="#000" stroke-width="3.4" stroke-linecap="butt"/>
<line x1="117.90" y1="844.27" x2="127.40" y2="844.27" stroke="#000" stroke-width="3.4" stroke-linecap="butt"/>
<line x1="117.90" y1="857.34" x2="127.40" y2="857.34" stroke="#000" stroke-width="3.4" stroke-linecap="butt"/>
<line x1="117.90" y1="874.76" x2="127.40" y2="874.76" stroke="#000" stroke-width="3.4" stroke-linecap="butt"/>
<line x1="117.90" y1="900.90" x2="127.40" y2="900.90" stroke="#000" stroke-width="3.4" stroke-linecap="butt"/>
<line x1="111.20" y1="954.50" x2="127.40" y2="954.50" stroke="#000" stroke-width="3.4" stroke-linecap="butt"/>
<line x1="117.90" y1="965.27" x2="127.40" y2="965.27" stroke="#000" stroke-width="3.4" stroke-linecap="butt"/>
<line x1="117.90" y1="978.34" x2="127.40" y2="978.34" stroke="#000" stroke-width="3.4" stroke-linecap="butt"/>
<line x1="117.90" y1="995.76" x2="127.40" y2="995.76" stroke="#000" stroke-width="3.4" stroke-linecap="butt"/>
<line x1="117.90" y1="1021.90" x2="127.40" y2="1021.90" stroke="#000" stroke-width="3.4" stroke-linecap="butt"/>
<line x1="111.20" y1="1075.50" x2="127.40" y2="1075.50" stroke="#000" stroke-width="3.4" stroke-linecap="butt"/>
<line x1="218.05" y1="1075.50" x2="218.05" y2="1086.90" stroke="#000" stroke-width="3.4" stroke-linecap="butt"/>
<line x1="308.70" y1="1075.50" x2="308.70" y2="1086.90" stroke="#000" stroke-width="3.4" stroke-linecap="butt"/>
<line x1="399.35" y1="1075.50" x2="399.35" y2="1086.90" stroke="#000" stroke-width="3.4" stroke-linecap="butt"/>
<line x1="490.00" y1="1075.50" x2="490.00" y2="1086.90" stroke="#000" stroke-width="3.4" stroke-linecap="butt"/>
<text transform="translate(120.02,1113.62)" font-family="'Liberation Sans', sans-serif" font-weight="bold" fill="#000"><tspan x="0.00" y="0.00" font-size="26.60">0</tspan></text>
<text transform="translate(203.42,1113.62)" font-family="'Liberation Sans', sans-serif" font-weight="bold" fill="#000"><tspan x="0.00" y="0.00" font-size="26.60">50</tspan></text>
<text transform="translate(286.22,1113.62)" font-family="'Liberation Sans', sans-serif" font-weight="bold" fill="#000"><tspan x="0.00" y="0.00" font-size="26.60">100</tspan></text>
<text transform="translate(376.87,1113.62)" font-family="'Liberation Sans', sans-serif" font-weight="bold" fill="#000"><tspan x="0.00" y="0.00" font-size="26.60">150</tspan></text>
<text transform="translate(467.92,1113.62)" font-family="'Liberation Sans', sans-serif" font-weight="bold" fill="#000"><tspan x="0.00" y="0.00" font-size="26.60">200</tspan></text>
<text transform="translate(65.22,720.32)" font-family="'Liberation Sans', sans-serif" font-weight="bold" fill="#000"><tspan x="0.00" y="0.00" font-size="27.00">10</tspan><tspan x="32.14" y="-7.83" font-size="19.17">0</tspan></text>
<text transform="translate(61.69,841.48)" font-family="'Liberation Sans', sans-serif" font-weight="bold" fill="#000"><tspan x="0.00" y="0.00" font-size="26.62">10</tspan><tspan x="31.37" y="-8.78" font-size="17.76">-</tspan><tspan x="39.94" y="-8.78" font-size="17.76">2</tspan></text>
<text transform="translate(61.15,962.48)" font-family="'Liberation Sans', sans-serif" font-weight="bold" fill="#000"><tspan x="0.00" y="0.00" font-size="26.62">10</tspan><tspan x="31.37" y="-8.78" font-size="17.76">-</tspan><tspan x="39.94" y="-8.78" font-size="17.76">4</tspan></text>
<text transform="translate(61.69,1083.48)" font-family="'Liberation Sans', sans-serif" font-weight="bold" fill="#000"><tspan x="0.00" y="0.00" font-size="26.62">10</tspan><tspan x="31.37" y="-8.78" font-size="17.76">-</tspan><tspan x="39.94" y="-8.78" font-size="17.76">6</tspan></text>
<text transform="translate(53.47,992.19) rotate(-90) scale(1.0000,1)" font-family="'Liberation Sans', sans-serif" font-weight="bold" fill="#000"><tspan x="0.00" y="0.00" font-size="33.73">Power [mV</tspan><tspan x="174.63" y="-13.49" font-size="23.61">2</tspan><tspan x="188.10" y="0.00" font-size="33.73">]</tspan></text>
<text transform="translate(198.85,1153.47) scale(1.0000,1)" font-family="'Liberation Sans', sans-serif" font-weight="bold" fill="#000"><tspan x="0.00" y="0.00" font-size="29.97">Frequency [Hz]</tspan></text>
<circle cx="152.9" cy="1005.0" r="7" fill="#fff" stroke="#000" stroke-width="1.3"/>
<circle cx="154.7" cy="1045.2" r="7.9" fill="#000" stroke="none" stroke-width="0"/>
<text transform="translate(193.71,1015.02) scale(1.0000,1)" font-family="'Liberation Sans', sans-serif" font-weight="normal" fill="#000"><tspan x="0.00" y="0.00" font-size="30.06">BL</tspan></text>
<text transform="translate(193.28,1055.26) scale(1.0000,1)" font-family="'Liberation Sans', sans-serif" font-weight="normal" fill="#000"><tspan x="0.00" y="0.00" font-size="29.01">MK801</tspan></text>
<g stroke="#888" stroke-width="1"><line x1="128.4" y1="736.7" x2="128.4" y2="833.5"/><line x1="131.9" y1="785.1" x2="131.9" y2="839.5"/></g>
<g fill="#fff" stroke="#000" stroke-width="1.3"><circle cx="127.4" cy="810.5" r="6.6"/><circle cx="131.8" cy="799.2" r="6.6"/><circle cx="136.3" cy="830.2" r="6.6"/><circle cx="140.7" cy="852.4" r="6.6"/><circle cx="145.1" cy="878.2" r="6.6"/><circle cx="149.5" cy="897.6" r="6.6"/><circle cx="154.0" cy="908.4" r="6.6"/><circle cx="158.4" cy="913.2" r="6.6"/><circle cx="162.8" cy="918.6" r="6.6"/><circle cx="167.2" cy="923.4" r="6.6"/><circle cx="171.7" cy="927.5" r="6.6"/><circle cx="176.1" cy="930.8" r="6.6"/><circle cx="180.5" cy="933.5" r="6.6"/><circle cx="184.9" cy="935.2" r="6.6"/><circle cx="189.4" cy="936.3" r="6.6"/><circle cx="193.8" cy="936.8" r="6.6"/><circle cx="198.2" cy="937.1" r="6.6"/><circle cx="202.6" cy="937.3" r="6.6"/><circle cx="207.1" cy="937.6" r="6.6"/><circle cx="211.5" cy="937.8" r="6.6"/><circle cx="215.9" cy="933.5" r="6.6"/><circle cx="220.4" cy="938.9" r="6.6"/><circle cx="224.8" cy="939.9" r="6.6"/><circle cx="229.2" cy="941.2" r="6.6"/><circle cx="233.6" cy="942.8" r="6.6"/><circle cx="238.1" cy="944.5" r="6.6"/><circle cx="242.5" cy="945.8" r="6.6"/><circle cx="246.9" cy="946.4" r="6.6"/><circle cx="251.3" cy="946.2" r="6.6"/><circle cx="255.8" cy="945.4" r="6.6"/><circle cx="260.2" cy="944.2" r="6.6"/><circle cx="264.6" cy="942.8" r="6.6"/><circle cx="269.0" cy="941.2" r="6.6"/><circle cx="273.5" cy="939.5" r="6.6"/><circle cx="277.9" cy="938.1" r="6.6"/><circle cx="282.3" cy="937.2" r="6.6"/><circle cx="286.7" cy="937.4" r="6.6"/><circle cx="291.2" cy="938.9" r="6.6"/><circle cx="295.6" cy="941.4" r="6.6"/><circle cx="300.0" cy="944.7" r="6.6"/><circle cx="304.5" cy="948.5" r="6.6"/><circle cx="308.9" cy="952.7" r="6.6"/><circle cx="313.3" cy="957.2" r="6.6"/><circle cx="317.7" cy="962.0" r="6.6"/><circle cx="322.2" cy="966.7" r="6.6"/><circle cx="326.6" cy="970.7" r="6.6"/><circle cx="331.0" cy="973.7" r="6.6"/><circle cx="335.4" cy="975.6" r="6.6"/><circle cx="339.9" cy="976.5" r="6.6"/><circle cx="344.3" cy="977.0" r="6.6"/><circle cx="348.7" cy="977.3" r="6.6"/><circle cx="353.1" cy="977.6" r="6.6"/><circle cx="357.6" cy="977.8" r="6.6"/><circle cx="362.0" cy="977.9" r="6.6"/><circle cx="366.4" cy="978.0" r="6.6"/><circle cx="370.8" cy="978.1" r="6.6"/><circle cx="375.3" cy="978.1" r="6.6"/><circle cx="379.7" cy="978.1" r="6.6"/><circle cx="384.1" cy="978.1" r="6.6"/><circle cx="388.5" cy="978.2" r="6.6"/><circle cx="393.0" cy="978.3" r="6.6"/><circle cx="397.4" cy="978.5" r="6.6"/><circle cx="401.8" cy="978.8" r="6.6"/><circle cx="406.3" cy="979.2" r="6.6"/><circle cx="410.7" cy="979.7" r="6.6"/><circle cx="415.1" cy="980.5" r="6.6"/><circle cx="419.5" cy="981.5" r="6.6"/><circle cx="424.0" cy="983.1" r="6.6"/><circle cx="428.4" cy="985.0" r="6.6"/><circle cx="432.8" cy="987.2" r="6.6"/><circle cx="437.2" cy="989.7" r="6.6"/><circle cx="441.7" cy="992.3" r="6.6"/><circle cx="446.1" cy="995.1" r="6.6"/><circle cx="450.5" cy="998.0" r="6.6"/><circle cx="454.9" cy="1000.9" r="6.6"/><circle cx="459.4" cy="1003.8" r="6.6"/><circle cx="463.8" cy="1006.7" r="6.6"/><circle cx="468.2" cy="1009.5" r="6.6"/><circle cx="472.6" cy="1012.3" r="6.6"/><circle cx="477.1" cy="1014.8" r="6.6"/><circle cx="481.5" cy="1017.1" r="6.6"/><circle cx="485.9" cy="1018.8" r="6.6"/></g>
<g fill="#000"><circle cx="127.4" cy="769.4" r="7.9"/><circle cx="131.8" cy="779.1" r="7.9"/><circle cx="136.3" cy="818.9" r="7.9"/><circle cx="140.7" cy="832.7" r="7.9"/><circle cx="145.1" cy="861.8" r="7.9"/><circle cx="149.5" cy="883.7" r="7.9"/><circle cx="154.0" cy="899.5" r="7.9"/><circle cx="158.4" cy="908.9" r="7.9"/><circle cx="162.8" cy="916.4" r="7.9"/><circle cx="167.2" cy="923.5" r="7.9"/><circle cx="171.7" cy="929.5" r="7.9"/><circle cx="176.1" cy="934.3" r="7.9"/><circle cx="180.5" cy="937.8" r="7.9"/><circle cx="184.9" cy="940.0" r="7.9"/><circle cx="189.4" cy="941.2" r="7.9"/><circle cx="193.8" cy="941.7" r="7.9"/><circle cx="198.2" cy="942.0" r="7.9"/><circle cx="202.6" cy="942.1" r="7.9"/><circle cx="207.1" cy="942.3" r="7.9"/><circle cx="211.5" cy="942.3" r="7.9"/><circle cx="215.9" cy="935.6" r="7.9"/><circle cx="220.4" cy="943.4" r="7.9"/><circle cx="224.8" cy="944.8" r="7.9"/><circle cx="229.2" cy="946.5" r="7.9"/><circle cx="233.6" cy="948.2" r="7.9"/><circle cx="238.1" cy="949.6" r="7.9"/><circle cx="242.5" cy="950.3" r="7.9"/><circle cx="246.9" cy="950.1" r="7.9"/><circle cx="251.3" cy="949.2" r="7.9"/><circle cx="255.8" cy="947.8" r="7.9"/><circle cx="260.2" cy="946.2" r="7.9"/><circle cx="264.6" cy="944.5" r="7.9"/><circle cx="269.0" cy="942.5" r="7.9"/><circle cx="273.5" cy="940.6" r="7.9"/><circle cx="277.9" cy="938.7" r="7.9"/><circle cx="282.3" cy="937.4" r="7.9"/><circle cx="286.7" cy="936.9" r="7.9"/><circle cx="291.2" cy="937.4" r="7.9"/><circle cx="295.6" cy="938.9" r="7.9"/><circle cx="300.0" cy="941.1" r="7.9"/><circle cx="304.5" cy="943.5" r="7.9"/><circle cx="308.9" cy="946.3" r="7.9"/><circle cx="313.3" cy="949.4" r="7.9"/><circle cx="317.7" cy="952.7" r="7.9"/><circle cx="322.2" cy="956.0" r="7.9"/><circle cx="326.6" cy="959.1" r="7.9"/><circle cx="331.0" cy="961.8" r="7.9"/><circle cx="335.4" cy="964.1" r="7.9"/><circle cx="339.9" cy="965.9" r="7.9"/><circle cx="344.3" cy="967.3" r="7.9"/><circle cx="348.7" cy="968.0" r="7.9"/><circle cx="353.1" cy="967.6" r="7.9"/><circle cx="357.6" cy="966.2" r="7.9"/><circle cx="362.0" cy="964.0" r="7.9"/><circle cx="366.4" cy="961.4" r="7.9"/><circle cx="370.8" cy="958.5" r="7.9"/><circle cx="375.3" cy="955.5" r="7.9"/><circle cx="379.7" cy="952.3" r="7.9"/><circle cx="384.1" cy="948.9" r="7.9"/><circle cx="388.5" cy="945.4" r="7.9"/><circle cx="393.0" cy="941.8" r="7.9"/><circle cx="397.4" cy="938.2" r="7.9"/><circle cx="401.8" cy="934.7" r="7.9"/><circle cx="406.3" cy="931.6" r="7.9"/><circle cx="410.7" cy="929.5" r="7.9"/><circle cx="415.1" cy="929.1" r="7.9"/><circle cx="419.5" cy="930.7" r="7.9"/><circle cx="424.0" cy="933.9" r="7.9"/><circle cx="428.4" cy="938.2" r="7.9"/><circle cx="432.8" cy="942.9" r="7.9"/><circle cx="437.2" cy="948.0" r="7.9"/><circle cx="441.7" cy="953.4" r="7.9"/><circle cx="446.1" cy="959.1" r="7.9"/><circle cx="450.5" cy="964.9" r="7.9"/><circle cx="454.9" cy="970.8" r="7.9"/><circle cx="459.4" cy="976.5" r="7.9"/><circle cx="463.8" cy="982.0" r="7.9"/><circle cx="468.2" cy="987.3" r="7.9"/><circle cx="472.6" cy="992.4" r="7.9"/><circle cx="477.1" cy="997.2" r="7.9"/><circle cx="481.5" cy="1001.3" r="7.9"/><circle cx="485.9" cy="1004.5" r="7.9"/></g>
<line x1="758.80" y1="711.50" x2="758.80" y2="1086.40" stroke="#000" stroke-width="3.4" stroke-linecap="butt"/>
<line x1="742.60" y1="1075.00" x2="1123.20" y2="1075.00" stroke="#000" stroke-width="3.4" stroke-linecap="butt"/>
<line x1="742.60" y1="711.50" x2="758.80" y2="711.50" stroke="#000" stroke-width="3.4" stroke-linecap="butt"/>
<line x1="749.30" y1="722.28" x2="758.80" y2="722.28" stroke="#000" stroke-width="3.4" stroke-linecap="butt"/>
<line x1="749.30" y1="735.37" x2="758.80" y2="735.37" stroke="#000" stroke-width="3.4" stroke-linecap="butt"/>
<line x1="749.30" y1="752.82" x2="758.80" y2="752.82" stroke="#000" stroke-width="3.4" stroke-linecap="butt"/>
<line x1="749.30" y1="778.99" x2="758.80" y2="778.99" stroke="#000" stroke-width="3.4" stroke-linecap="butt"/>
<line x1="742.60" y1="832.67" x2="758.80" y2="832.67" stroke="#000" stroke-width="3.4" stroke-linecap="butt"/>
<line x1="749.30" y1="843.45" x2="758.80" y2="843.45" stroke="#000" stroke-width="3.4" stroke-linecap="butt"/>
<line x1="749.30" y1="856.54" x2="758.80" y2="856.54" stroke="#000" stroke-width="3.4" stroke-linecap="butt"/>
<line x1="749.30" y1="873.98" x2="758.80" y2="873.98" stroke="#000" stroke-width="3.4" stroke-linecap="butt"/>
<line x1="749.30" y1="900.16" x2="758.80" y2="900.16" stroke="#000" stroke-width="3.4" stroke-linecap="butt"/>
<line x1="742.60" y1="953.83" x2="758.80" y2="953.83" stroke="#000" stroke-width="3.4" stroke-linecap="butt"/>
<line x1="749.30" y1="964.62" x2="758.80" y2="964.62" stroke="#000" stroke-width="3.4" stroke-linecap="butt"/>
<line x1="749.30" y1="977.70" x2="758.80" y2="977.70" stroke="#000" stroke-width="3.4" stroke-linecap="butt"/>
<line x1="749.30" y1="995.15" x2="758.80" y2="995.15" stroke="#000" stroke-width="3.4" stroke-linecap="butt"/>
<line x1="749.30" y1="1021.32" x2="758.80" y2="1021.32" stroke="#000" stroke-width="3.4" stroke-linecap="butt"/>
<line x1="742.60" y1="1075.00" x2="758.80" y2="1075.00" stroke="#000" stroke-width="3.4" stroke-linecap="butt"/>
<line x1="849.47" y1="1075.00" x2="849.47" y2="1086.40" stroke="#000" stroke-width="3.4" stroke-linecap="butt"/>
<line x1="940.15" y1="1075.00" x2="940.15" y2="1086.40" stroke="#000" stroke-width="3.4" stroke-linecap="butt"/>
<line x1="1030.82" y1="1075.00" x2="1030.82" y2="1086.40" stroke="#000" stroke-width="3.4" stroke-linecap="butt"/>
<line x1="1121.50" y1="1075.00" x2="1121.50" y2="1086.40" stroke="#000" stroke-width="3.4" stroke-linecap="butt"/>
<text transform="translate(751.42,1113.12)" font-family="'Liberation Sans', sans-serif" font-weight="bold" fill="#000"><tspan x="0.00" y="0.00" font-size="26.60">0</tspan></text>
<text transform="translate(834.84,1113.12)" font-family="'Liberation Sans', sans-serif" font-weight="bold" fill="#000"><tspan x="0.00" y="0.00" font-size="26.60">50</tspan></text>
<text transform="translate(917.67,1113.12)" font-family="'Liberation Sans', sans-serif" font-weight="bold" fill="#000"><tspan x="0.00" y="0.00" font-size="26.60">100</tspan></text>
<text transform="translate(1008.35,1113.12)" font-family="'Liberation Sans', sans-serif" font-weight="bold" fill="#000"><tspan x="0.00" y="0.00" font-size="26.60">150</tspan></text>
<text transform="translate(1099.42,1113.12)" font-family="'Liberation Sans', sans-serif" font-weight="bold" fill="#000"><tspan x="0.00" y="0.00" font-size="26.60">200</tspan></text>
<text transform="translate(696.61,719.32)" font-family="'Liberation Sans', sans-serif" font-weight="bold" fill="#000"><tspan x="0.00" y="0.00" font-size="27.00">10</tspan><tspan x="32.14" y="-7.83" font-size="19.17">0</tspan></text>
<text transform="translate(693.09,840.65)" font-family="'Liberation Sans', sans-serif" font-weight="bold" fill="#000"><tspan x="0.00" y="0.00" font-size="26.62">10</tspan><tspan x="31.37" y="-8.78" font-size="17.76">-</tspan><tspan x="39.94" y="-8.78" font-size="17.76">2</tspan></text>
<text transform="translate(692.55,961.82)" font-family="'Liberation Sans', sans-serif" font-weight="bold" fill="#000"><tspan x="0.00" y="0.00" font-size="26.62">10</tspan><tspan x="31.37" y="-8.78" font-size="17.76">-</tspan><tspan x="39.94" y="-8.78" font-size="17.76">4</tspan></text>
<text transform="translate(693.09,1082.98)" font-family="'Liberation Sans', sans-serif" font-weight="bold" fill="#000"><tspan x="0.00" y="0.00" font-size="26.62">10</tspan><tspan x="31.37" y="-8.78" font-size="17.76">-</tspan><tspan x="39.94" y="-8.78" font-size="17.76">6</tspan></text>
<text transform="translate(684.87,992.19) rotate(-90) scale(1.0000,1)" font-family="'Liberation Sans', sans-serif" font-weight="bold" fill="#000"><tspan x="0.00" y="0.00" font-size="33.73">Power [mV</tspan><tspan x="174.63" y="-13.49" font-size="23.61">2</tspan><tspan x="188.10" y="0.00" font-size="33.73">]</tspan></text>
<text transform="translate(830.57,1155.21) scale(1.0000,1)" font-family="'Liberation Sans', sans-serif" font-weight="bold" fill="#000"><tspan x="0.00" y="0.00" font-size="29.73">Frequency [Hz]</tspan></text>
<path d="M770.0,1002.3H784.0L777.0,1014.5Z" fill="#fff" stroke="#000" stroke-width="1.2"/>
<path d="M770.0,1043.9H784.0L777.0,1056.1Z" fill="#000"/>
<text transform="translate(818.15,1019.27) scale(1.0000,1)" font-family="'Liberation Sans', sans-serif" font-weight="normal" fill="#000"><tspan x="0.00" y="0.00" font-size="28.90">BL</tspan></text>
<text transform="translate(817.41,1060.75) scale(1.0000,1)" font-family="'Liberation Sans', sans-serif" font-weight="normal" fill="#000"><tspan x="0.00" y="0.00" font-size="28.68">MK801</tspan></text>
<g stroke="#999" stroke-width="1"><line x1="976.4" y1="1013.3" x2="976.4" y2="1021.3"/><line x1="980.8" y1="1014.0" x2="980.8" y2="1022.6"/><line x1="985.3" y1="1014.3" x2="985.3" y2="1023.5"/><line x1="989.7" y1="1014.4" x2="989.7" y2="1024.2"/><line x1="994.1" y1="1014.4" x2="994.1" y2="1024.9"/><line x1="998.6" y1="1014.4" x2="998.6" y2="1025.5"/><line x1="1003.0" y1="1014.4" x2="1003.0" y2="1026.1"/><line x1="1007.4" y1="1014.4" x2="1007.4" y2="1026.7"/><line x1="1011.8" y1="1014.4" x2="1011.8" y2="1027.3"/><line x1="1016.3" y1="1014.4" x2="1016.3" y2="1027.9"/><line x1="1020.7" y1="1014.4" x2="1020.7" y2="1028.6"/><line x1="1025.1" y1="1014.5" x2="1025.1" y2="1029.2"/><line x1="1029.5" y1="1014.7" x2="1029.5" y2="1030.0"/><line x1="1034.0" y1="1015.0" x2="1034.0" y2="1030.9"/><line x1="1038.4" y1="1015.3" x2="1038.4" y2="1031.9"/><line x1="1042.8" y1="1015.8" x2="1042.8" y2="1033.0"/><line x1="1047.3" y1="1016.3" x2="1047.3" y2="1034.1"/><line x1="1051.7" y1="1016.9" x2="1051.7" y2="1035.3"/><line x1="1056.1" y1="1017.6" x2="1056.1" y2="1036.6"/><line x1="1060.5" y1="1018.7" x2="1060.5" y2="1038.3"/><line x1="1065.0" y1="1020.3" x2="1065.0" y2="1040.5"/><line x1="1069.4" y1="1022.3" x2="1069.4" y2="1043.2"/><line x1="1073.8" y1="1024.6" x2="1073.8" y2="1046.0"/><line x1="1078.3" y1="1026.8" x2="1078.3" y2="1048.9"/><line x1="1082.7" y1="1028.8" x2="1082.7" y2="1051.4"/><line x1="1087.1" y1="1030.5" x2="1087.1" y2="1053.8"/><line x1="1091.5" y1="1032.0" x2="1091.5" y2="1055.9"/><line x1="1096.0" y1="1033.5" x2="1096.0" y2="1057.9"/><line x1="1100.4" y1="1034.8" x2="1100.4" y2="1059.9"/><line x1="1104.8" y1="1036.2" x2="1104.8" y2="1061.9"/><line x1="1109.2" y1="1037.3" x2="1109.2" y2="1063.7"/><line x1="1113.7" y1="1038.2" x2="1113.7" y2="1065.2"/><line x1="1118.1" y1="1038.8" x2="1118.1" y2="1066.4"/></g>
<g fill="#fff" stroke="#000" stroke-width="1.2"><path d="M751.8,813.9H765.8L758.8,826.0Z"/><path d="M756.2,824.7H770.2L763.2,836.9Z"/><path d="M760.7,863.6H774.7L767.7,875.8Z"/><path d="M765.1,881.2H779.1L772.1,893.3Z"/><path d="M769.5,899.2H783.5L776.5,911.4Z"/><path d="M773.9,907.7H787.9L780.9,919.9Z"/><path d="M778.4,912.0H792.4L785.4,924.2Z"/><path d="M782.8,916.6H796.8L789.8,928.7Z"/><path d="M787.2,921.9H801.2L794.2,934.0Z"/><path d="M791.6,927.5H805.6L798.6,939.6Z"/><path d="M796.1,933.2H810.1L803.1,945.4Z"/><path d="M800.5,938.9H814.5L807.5,951.1Z"/><path d="M804.9,944.1H818.9L811.9,956.3Z"/><path d="M809.4,948.5H823.4L816.4,960.7Z"/><path d="M813.8,952.1H827.8L820.8,964.3Z"/><path d="M818.2,955.2H832.2L825.2,967.4Z"/><path d="M822.6,957.9H836.6L829.6,970.1Z"/><path d="M827.1,960.0H841.1L834.1,972.2Z"/><path d="M831.5,961.6H845.5L838.5,973.7Z"/><path d="M835.9,962.0H849.9L842.9,974.2Z"/><path d="M840.3,944.9H854.3L847.3,957.1Z"/><path d="M844.8,963.2H858.8L851.8,975.4Z"/><path d="M849.2,964.6H863.2L856.2,976.7Z"/><path d="M853.6,965.8H867.6L860.6,978.0Z"/><path d="M858.1,967.2H872.1L865.1,979.4Z"/><path d="M862.5,968.6H876.5L869.5,980.7Z"/><path d="M866.9,969.7H880.9L873.9,981.9Z"/><path d="M871.3,970.4H885.3L878.3,982.6Z"/><path d="M875.8,970.5H889.8L882.8,982.7Z"/><path d="M880.2,970.1H894.2L887.2,982.3Z"/><path d="M884.6,969.5H898.6L891.6,981.6Z"/><path d="M889.1,968.8H903.1L896.1,981.0Z"/><path d="M893.5,968.5H907.5L900.5,980.7Z"/><path d="M897.9,969.0H911.9L904.9,981.1Z"/><path d="M902.3,970.4H916.3L909.3,982.6Z"/><path d="M906.8,972.9H920.8L913.8,985.1Z"/><path d="M911.2,976.1H925.2L918.2,988.3Z"/><path d="M915.6,979.7H929.6L922.6,991.9Z"/><path d="M920.0,983.3H934.0L927.0,995.5Z"/><path d="M924.5,986.9H938.5L931.5,999.1Z"/><path d="M928.9,990.3H942.9L935.9,1002.4Z"/><path d="M933.3,993.2H947.3L940.3,1005.4Z"/><path d="M937.8,995.6H951.8L944.8,1007.8Z"/><path d="M942.2,997.7H956.2L949.2,1009.9Z"/><path d="M946.6,999.5H960.6L953.6,1011.7Z"/><path d="M951.0,1001.3H965.0L958.0,1013.4Z"/><path d="M955.5,1002.9H969.5L962.5,1015.1Z"/><path d="M959.9,1004.5H973.9L966.9,1016.7Z"/><path d="M964.3,1006.0H978.3L971.3,1018.2Z"/><path d="M968.7,1007.1H982.7L975.7,1019.3Z"/><path d="M973.2,1007.8H987.2L980.2,1020.0Z"/><path d="M977.6,1008.1H991.6L984.6,1020.3Z"/><path d="M982.0,1008.3H996.0L989.0,1020.5Z"/><path d="M986.5,1008.3H1000.5L993.5,1020.5Z"/><path d="M990.9,1008.3H1004.9L997.9,1020.5Z"/><path d="M995.3,1008.3H1009.3L1002.3,1020.5Z"/><path d="M999.7,1008.3H1013.7L1006.7,1020.5Z"/><path d="M1004.2,1008.3H1018.2L1011.2,1020.5Z"/><path d="M1008.6,1008.3H1022.6L1015.6,1020.5Z"/><path d="M1013.0,1008.4H1027.0L1020.0,1020.5Z"/><path d="M1017.4,1008.4H1031.4L1024.4,1020.6Z"/><path d="M1021.9,1008.6H1035.9L1028.9,1020.7Z"/><path d="M1026.3,1008.8H1040.3L1033.3,1021.0Z"/><path d="M1030.7,1009.2H1044.7L1037.7,1021.4Z"/><path d="M1035.2,1009.6H1049.2L1042.2,1021.8Z"/><path d="M1039.6,1010.1H1053.6L1046.6,1022.3Z"/><path d="M1044.0,1010.7H1058.0L1051.0,1022.9Z"/><path d="M1048.4,1011.4H1062.4L1055.4,1023.6Z"/><path d="M1052.9,1012.5H1066.9L1059.9,1024.6Z"/><path d="M1057.3,1014.0H1071.3L1064.3,1026.1Z"/><path d="M1061.7,1015.9H1075.7L1068.7,1028.1Z"/><path d="M1066.2,1018.2H1080.2L1073.2,1030.3Z"/><path d="M1070.6,1020.4H1084.6L1077.6,1032.6Z"/><path d="M1075.0,1022.4H1089.0L1082.0,1034.6Z"/><path d="M1079.4,1024.2H1093.4L1086.4,1036.3Z"/><path d="M1083.9,1025.7H1097.9L1090.9,1037.9Z"/><path d="M1088.3,1027.2H1102.3L1095.3,1039.3Z"/><path d="M1092.7,1028.5H1106.7L1099.7,1040.7Z"/><path d="M1097.1,1029.9H1111.1L1104.1,1042.1Z"/><path d="M1101.6,1031.1H1115.6L1108.6,1043.3Z"/><path d="M1106.0,1032.0H1120.0L1113.0,1044.2Z"/><path d="M1110.4,1032.7H1124.4L1117.4,1044.8Z"/></g>
<g fill="#000"><path d="M751.8,763.6H765.8L758.8,775.8Z"/><path d="M756.2,780.6H770.2L763.2,792.8Z"/><path d="M760.7,859.4H774.7L767.7,871.6Z"/><path d="M765.1,873.4H779.1L772.1,885.6Z"/><path d="M769.5,894.4H783.5L776.5,906.5Z"/><path d="M773.9,910.1H787.9L780.9,922.3Z"/><path d="M778.4,917.2H792.4L785.4,929.4Z"/><path d="M782.8,923.8H796.8L789.8,936.0Z"/><path d="M787.2,930.7H801.2L794.2,942.8Z"/><path d="M791.6,937.2H805.6L798.6,949.4Z"/><path d="M796.1,943.3H810.1L803.1,955.5Z"/><path d="M800.5,948.8H814.5L807.5,960.9Z"/><path d="M804.9,953.3H818.9L811.9,965.5Z"/><path d="M809.4,956.9H823.4L816.4,969.1Z"/><path d="M813.8,959.7H827.8L820.8,971.9Z"/><path d="M818.2,961.8H832.2L825.2,974.0Z"/><path d="M822.6,963.4H836.6L829.6,975.6Z"/><path d="M827.1,964.5H841.1L834.1,976.7Z"/><path d="M831.5,965.2H845.5L838.5,977.4Z"/><path d="M835.9,965.1H849.9L842.9,977.2Z"/><path d="M840.3,941.7H854.3L847.3,953.8Z"/><path d="M844.8,965.5H858.8L851.8,977.7Z"/><path d="M849.2,966.4H863.2L856.2,978.6Z"/><path d="M853.6,967.0H867.6L860.6,979.2Z"/><path d="M858.1,967.8H872.1L865.1,980.0Z"/><path d="M862.5,968.7H876.5L869.5,980.9Z"/><path d="M866.9,969.3H880.9L873.9,981.5Z"/><path d="M871.3,969.4H885.3L878.3,981.6Z"/><path d="M875.8,968.8H889.8L882.8,980.9Z"/><path d="M880.2,967.4H894.2L887.2,979.6Z"/><path d="M884.6,965.7H898.6L891.6,977.9Z"/><path d="M889.1,963.6H903.1L896.1,975.8Z"/><path d="M893.5,961.4H907.5L900.5,973.6Z"/><path d="M897.9,959.4H911.9L904.9,971.6Z"/><path d="M902.3,957.9H916.3L909.3,970.1Z"/><path d="M906.8,957.6H920.8L913.8,969.8Z"/><path d="M911.2,958.6H925.2L918.2,970.8Z"/><path d="M915.6,960.8H929.6L922.6,973.0Z"/><path d="M920.0,963.7H934.0L927.0,975.9Z"/><path d="M924.5,966.9H938.5L931.5,979.1Z"/><path d="M928.9,970.2H942.9L935.9,982.3Z"/><path d="M933.3,973.4H947.3L940.3,985.6Z"/><path d="M937.8,976.7H951.8L944.8,988.9Z"/><path d="M942.2,979.9H956.2L949.2,992.1Z"/><path d="M946.6,983.1H960.6L953.6,995.3Z"/><path d="M951.0,986.3H965.0L958.0,998.4Z"/><path d="M955.5,989.2H969.5L962.5,1001.4Z"/><path d="M959.9,991.9H973.9L966.9,1004.0Z"/><path d="M964.3,994.1H978.3L971.3,1006.3Z"/><path d="M968.7,996.0H982.7L975.7,1008.2Z"/><path d="M973.2,997.6H987.2L980.2,1009.8Z"/><path d="M977.6,998.9H991.6L984.6,1011.1Z"/><path d="M982.0,999.6H996.0L989.0,1011.7Z"/><path d="M986.5,999.3H1000.5L993.5,1011.5Z"/><path d="M990.9,998.0H1004.9L997.9,1010.2Z"/><path d="M995.3,996.0H1009.3L1002.3,1008.1Z"/><path d="M999.7,993.4H1013.7L1006.7,1005.6Z"/><path d="M1004.2,990.7H1018.2L1011.2,1002.8Z"/><path d="M1008.6,987.8H1022.6L1015.6,1000.0Z"/><path d="M1013.0,984.7H1027.0L1020.0,996.9Z"/><path d="M1017.4,981.4H1031.4L1024.4,993.6Z"/><path d="M1021.9,978.0H1035.9L1028.9,990.1Z"/><path d="M1026.3,974.4H1040.3L1033.3,986.6Z"/><path d="M1030.7,971.2H1044.7L1037.7,983.4Z"/><path d="M1035.2,968.8H1049.2L1042.2,981.0Z"/><path d="M1039.6,967.6H1053.6L1046.6,979.8Z"/><path d="M1044.0,968.1H1058.0L1051.0,980.3Z"/><path d="M1048.4,970.4H1062.4L1055.4,982.6Z"/><path d="M1052.9,974.4H1066.9L1059.9,986.6Z"/><path d="M1057.3,979.7H1071.3L1064.3,991.9Z"/><path d="M1061.7,985.8H1075.7L1068.7,998.0Z"/><path d="M1066.2,992.2H1080.2L1073.2,1004.4Z"/><path d="M1070.6,998.4H1084.6L1077.6,1010.6Z"/><path d="M1075.0,1004.2H1089.0L1082.0,1016.4Z"/><path d="M1079.4,1009.5H1093.4L1086.4,1021.7Z"/><path d="M1083.9,1014.0H1097.9L1090.9,1026.2Z"/><path d="M1088.3,1017.6H1102.3L1095.3,1029.8Z"/><path d="M1092.7,1020.5H1106.7L1099.7,1032.7Z"/><path d="M1097.1,1023.0H1111.1L1104.1,1035.2Z"/><path d="M1101.6,1025.2H1115.6L1108.6,1037.4Z"/><path d="M1106.0,1027.1H1120.0L1113.0,1039.3Z"/><path d="M1110.4,1028.5H1124.4L1117.4,1040.7Z"/></g>
<line x1="309.80" y1="691.20" x2="309.80" y2="866.70" stroke="#000" stroke-width="1.6" stroke-linecap="butt"/>
<line x1="306.80" y1="861.20" x2="478.90" y2="861.20" stroke="#000" stroke-width="1.6" stroke-linecap="butt"/>
<line x1="394.35" y1="861.20" x2="394.35" y2="866.70" stroke="#000" stroke-width="1.6" stroke-linecap="butt"/>
<line x1="478.90" y1="861.20" x2="478.90" y2="866.70" stroke="#000" stroke-width="1.6" stroke-linecap="butt"/>
<line x1="304.80" y1="726.50" x2="309.80" y2="726.50" stroke="#000" stroke-width="1.4" stroke-linecap="butt"/>
<line x1="304.80" y1="793.80" x2="309.80" y2="793.80" stroke="#000" stroke-width="1.4" stroke-linecap="butt"/>
<line x1="304.80" y1="861.10" x2="309.80" y2="861.10" stroke="#000" stroke-width="1.4" stroke-linecap="butt"/>
<line x1="306.60" y1="696.69" x2="309.80" y2="696.69" stroke="#000" stroke-width="1.2" stroke-linecap="butt"/>
<line x1="306.60" y1="732.49" x2="309.80" y2="732.49" stroke="#000" stroke-width="1.2" stroke-linecap="butt"/>
<line x1="306.60" y1="739.76" x2="309.80" y2="739.76" stroke="#000" stroke-width="1.2" stroke-linecap="butt"/>
<line x1="306.60" y1="749.45" x2="309.80" y2="749.45" stroke="#000" stroke-width="1.2" stroke-linecap="butt"/>
<line x1="306.60" y1="763.99" x2="309.80" y2="763.99" stroke="#000" stroke-width="1.2" stroke-linecap="butt"/>
<line x1="306.60" y1="799.79" x2="309.80" y2="799.79" stroke="#000" stroke-width="1.2" stroke-linecap="butt"/>
<line x1="306.60" y1="807.06" x2="309.80" y2="807.06" stroke="#000" stroke-width="1.2" stroke-linecap="butt"/>
<line x1="306.60" y1="816.75" x2="309.80" y2="816.75" stroke="#000" stroke-width="1.2" stroke-linecap="butt"/>
<line x1="306.60" y1="831.29" x2="309.80" y2="831.29" stroke="#000" stroke-width="1.2" stroke-linecap="butt"/>
<text transform="translate(264.94,732.63)" font-family="'Liberation Sans', sans-serif" font-weight="bold" fill="#000"><tspan x="0.00" y="0.00" font-size="21.55">10</tspan><tspan x="25.39" y="-7.11" font-size="14.37">-</tspan><tspan x="32.33" y="-7.11" font-size="14.37">2</tspan></text>
<text transform="translate(264.51,799.63)" font-family="'Liberation Sans', sans-serif" font-weight="bold" fill="#000"><tspan x="0.00" y="0.00" font-size="21.55">10</tspan><tspan x="25.39" y="-7.11" font-size="14.37">-</tspan><tspan x="32.33" y="-7.11" font-size="14.37">4</tspan></text>
<text transform="translate(264.94,867.33)" font-family="'Liberation Sans', sans-serif" font-weight="bold" fill="#000"><tspan x="0.00" y="0.00" font-size="21.55">10</tspan><tspan x="25.39" y="-7.11" font-size="14.37">-</tspan><tspan x="32.33" y="-7.11" font-size="14.37">6</tspan></text>
<g fill="#fff" stroke="#000" stroke-width="0.9"><circle cx="309.8" cy="713.0" r="3.3"/><circle cx="311.9" cy="720.4" r="3.3"/><circle cx="313.9" cy="760.7" r="3.3"/><circle cx="316.0" cy="770.4" r="3.3"/><circle cx="318.1" cy="786.3" r="3.3"/><circle cx="320.1" cy="795.4" r="3.3"/><circle cx="322.2" cy="800.3" r="3.3"/><circle cx="324.2" cy="803.4" r="3.3"/><circle cx="326.3" cy="806.6" r="3.3"/><circle cx="328.4" cy="809.4" r="3.3"/><circle cx="330.4" cy="811.8" r="3.3"/><circle cx="332.5" cy="813.7" r="3.3"/><circle cx="334.6" cy="815.4" r="3.3"/><circle cx="336.6" cy="817.0" r="3.3"/><circle cx="338.7" cy="818.2" r="3.3"/><circle cx="340.8" cy="819.1" r="3.3"/><circle cx="342.8" cy="819.6" r="3.3"/><circle cx="344.9" cy="819.7" r="3.3"/><circle cx="347.0" cy="819.7" r="3.3"/><circle cx="349.0" cy="819.7" r="3.3"/><circle cx="351.1" cy="819.6" r="3.3"/><circle cx="353.1" cy="819.7" r="3.3"/><circle cx="355.2" cy="819.9" r="3.3"/><circle cx="357.3" cy="820.3" r="3.3"/><circle cx="359.3" cy="820.8" r="3.3"/><circle cx="361.4" cy="821.2" r="3.3"/><circle cx="363.5" cy="821.3" r="3.3"/><circle cx="365.5" cy="821.1" r="3.3"/><circle cx="367.6" cy="820.5" r="3.3"/><circle cx="369.7" cy="819.6" r="3.3"/><circle cx="371.7" cy="818.6" r="3.3"/><circle cx="373.8" cy="817.5" r="3.3"/><circle cx="375.9" cy="816.3" r="3.3"/><circle cx="377.9" cy="815.2" r="3.3"/><circle cx="380.0" cy="814.2" r="3.3"/><circle cx="382.0" cy="813.4" r="3.3"/><circle cx="384.1" cy="813.1" r="3.3"/><circle cx="386.2" cy="813.4" r="3.3"/><circle cx="388.2" cy="814.4" r="3.3"/><circle cx="390.3" cy="815.8" r="3.3"/><circle cx="392.4" cy="817.5" r="3.3"/><circle cx="394.4" cy="819.2" r="3.3"/><circle cx="396.5" cy="821.0" r="3.3"/><circle cx="398.6" cy="823.0" r="3.3"/><circle cx="400.6" cy="825.1" r="3.3"/><circle cx="402.7" cy="827.5" r="3.3"/><circle cx="404.8" cy="830.0" r="3.3"/><circle cx="406.8" cy="832.6" r="3.3"/><circle cx="408.9" cy="834.9" r="3.3"/><circle cx="410.9" cy="836.8" r="3.3"/><circle cx="413.0" cy="838.2" r="3.3"/><circle cx="415.1" cy="839.1" r="3.3"/><circle cx="417.1" cy="839.7" r="3.3"/><circle cx="419.2" cy="840.2" r="3.3"/><circle cx="421.3" cy="840.6" r="3.3"/><circle cx="423.3" cy="841.0" r="3.3"/><circle cx="425.4" cy="841.4" r="3.3"/><circle cx="427.5" cy="841.9" r="3.3"/><circle cx="429.5" cy="842.3" r="3.3"/><circle cx="431.6" cy="842.7" r="3.3"/><circle cx="433.7" cy="843.1" r="3.3"/><circle cx="435.7" cy="843.5" r="3.3"/><circle cx="437.8" cy="844.0" r="3.3"/><circle cx="439.8" cy="844.4" r="3.3"/><circle cx="441.9" cy="844.8" r="3.3"/><circle cx="444.0" cy="845.3" r="3.3"/><circle cx="446.0" cy="845.8" r="3.3"/><circle cx="448.1" cy="846.5" r="3.3"/><circle cx="450.2" cy="847.3" r="3.3"/><circle cx="452.2" cy="848.3" r="3.3"/><circle cx="454.3" cy="849.2" r="3.3"/><circle cx="456.4" cy="850.2" r="3.3"/><circle cx="458.4" cy="851.2" r="3.3"/><circle cx="460.5" cy="852.3" r="3.3"/><circle cx="462.6" cy="853.3" r="3.3"/><circle cx="464.6" cy="854.3" r="3.3"/><circle cx="466.7" cy="855.3" r="3.3"/><circle cx="468.7" cy="856.3" r="3.3"/><circle cx="470.8" cy="857.3" r="3.3"/><circle cx="472.9" cy="858.2" r="3.3"/><circle cx="474.9" cy="859.1" r="3.3"/><circle cx="477.0" cy="859.7" r="3.3"/></g>
<g fill="#000"><circle cx="309.8" cy="711.0" r="3.9"/><circle cx="311.9" cy="721.6" r="3.9"/><circle cx="313.9" cy="758.1" r="3.9"/><circle cx="316.0" cy="767.1" r="3.9"/><circle cx="318.1" cy="782.6" r="3.9"/><circle cx="320.1" cy="793.7" r="3.9"/><circle cx="322.2" cy="798.7" r="3.9"/><circle cx="324.2" cy="802.8" r="3.9"/><circle cx="326.3" cy="807.0" r="3.9"/><circle cx="328.4" cy="810.4" r="3.9"/><circle cx="330.4" cy="813.2" r="3.9"/><circle cx="332.5" cy="815.4" r="3.9"/><circle cx="334.6" cy="817.3" r="3.9"/><circle cx="336.6" cy="818.9" r="3.9"/><circle cx="338.7" cy="820.2" r="3.9"/><circle cx="340.8" cy="821.1" r="3.9"/><circle cx="342.8" cy="821.6" r="3.9"/><circle cx="344.9" cy="821.7" r="3.9"/><circle cx="347.0" cy="821.7" r="3.9"/><circle cx="349.0" cy="821.7" r="3.9"/><circle cx="351.1" cy="821.6" r="3.9"/><circle cx="353.1" cy="821.7" r="3.9"/><circle cx="355.2" cy="821.9" r="3.9"/><circle cx="357.3" cy="822.2" r="3.9"/><circle cx="359.3" cy="822.6" r="3.9"/><circle cx="361.4" cy="823.0" r="3.9"/><circle cx="363.5" cy="823.1" r="3.9"/><circle cx="365.5" cy="822.9" r="3.9"/><circle cx="367.6" cy="822.2" r="3.9"/><circle cx="369.7" cy="821.3" r="3.9"/><circle cx="371.7" cy="820.3" r="3.9"/><circle cx="373.8" cy="819.1" r="3.9"/><circle cx="375.9" cy="818.0" r="3.9"/><circle cx="377.9" cy="816.9" r="3.9"/><circle cx="380.0" cy="815.9" r="3.9"/><circle cx="382.0" cy="815.0" r="3.9"/><circle cx="384.1" cy="814.6" r="3.9"/><circle cx="386.2" cy="814.6" r="3.9"/><circle cx="388.2" cy="815.2" r="3.9"/><circle cx="390.3" cy="816.2" r="3.9"/><circle cx="392.4" cy="817.4" r="3.9"/><circle cx="394.4" cy="818.6" r="3.9"/><circle cx="396.5" cy="819.8" r="3.9"/><circle cx="398.6" cy="821.0" r="3.9"/><circle cx="400.6" cy="822.3" r="3.9"/><circle cx="402.7" cy="823.5" r="3.9"/><circle cx="404.8" cy="824.8" r="3.9"/><circle cx="406.8" cy="826.0" r="3.9"/><circle cx="408.9" cy="827.2" r="3.9"/><circle cx="410.9" cy="828.4" r="3.9"/><circle cx="413.0" cy="829.6" r="3.9"/><circle cx="415.1" cy="830.5" r="3.9"/><circle cx="417.1" cy="831.0" r="3.9"/><circle cx="419.2" cy="831.0" r="3.9"/><circle cx="421.3" cy="830.5" r="3.9"/><circle cx="423.3" cy="829.8" r="3.9"/><circle cx="425.4" cy="828.8" r="3.9"/><circle cx="427.5" cy="827.7" r="3.9"/><circle cx="429.5" cy="826.5" r="3.9"/><circle cx="431.6" cy="824.9" r="3.9"/><circle cx="433.7" cy="822.9" r="3.9"/><circle cx="435.7" cy="820.7" r="3.9"/><circle cx="437.8" cy="818.4" r="3.9"/><circle cx="439.8" cy="816.2" r="3.9"/><circle cx="441.9" cy="814.6" r="3.9"/><circle cx="444.0" cy="813.9" r="3.9"/><circle cx="446.0" cy="814.2" r="3.9"/><circle cx="448.1" cy="815.4" r="3.9"/><circle cx="450.2" cy="817.1" r="3.9"/><circle cx="452.2" cy="819.0" r="3.9"/><circle cx="454.3" cy="820.9" r="3.9"/><circle cx="456.4" cy="822.9" r="3.9"/><circle cx="458.4" cy="825.1" r="3.9"/><circle cx="460.5" cy="827.4" r="3.9"/><circle cx="462.6" cy="830.0" r="3.9"/><circle cx="464.6" cy="833.0" r="3.9"/><circle cx="466.7" cy="836.3" r="3.9"/><circle cx="468.7" cy="839.6" r="3.9"/><circle cx="470.8" cy="843.0" r="3.9"/><circle cx="472.9" cy="846.3" r="3.9"/><circle cx="474.9" cy="849.3" r="3.9"/><circle cx="477.0" cy="851.8" r="3.9"/></g>
<text transform="translate(304.11,888.95)" font-family="'Liberation Sans', sans-serif" font-weight="bold" fill="#000"><tspan x="0.00" y="0.00" font-size="20.50">0</tspan></text>
<text transform="translate(377.03,888.95)" font-family="'Liberation Sans', sans-serif" font-weight="bold" fill="#000"><tspan x="0.00" y="0.00" font-size="20.50">100</tspan></text>
<text transform="translate(439.59,887.49) scale(1.0000,1)" font-family="'Liberation Sans', sans-serif" font-weight="bold" fill="#000"><tspan x="0.00" y="0.00" font-size="20.16">200 [Hz]</tspan></text>
<text transform="translate(261.55,806.48) rotate(-90) scale(1.0000,1)" font-family="'Liberation Sans', sans-serif" font-weight="bold" fill="#000"><tspan x="0.00" y="0.00" font-size="17.26">mV</tspan><tspan x="27.04" y="-7.25" font-size="12.08">2</tspan></text>
<text transform="translate(359.95,705.28) scale(1.0000,1)" font-family="'Liberation Sans', sans-serif" font-weight="bold" fill="#000"><tspan x="0.00" y="0.00" font-size="34.68">Bipolar</tspan></text>
<text transform="translate(336.59,746.36) scale(1.0000,1)" font-family="'Liberation Sans', sans-serif" font-weight="bold" fill="#000"><tspan x="0.00" y="0.00" font-size="35.28">derivation</tspan></text>
<line x1="935.60" y1="693.50" x2="935.60" y2="868.50" stroke="#000" stroke-width="1.6" stroke-linecap="butt"/>
<line x1="932.60" y1="863.00" x2="1104.50" y2="863.00" stroke="#000" stroke-width="1.6" stroke-linecap="butt"/>
<line x1="1020.05" y1="863.00" x2="1020.05" y2="868.50" stroke="#000" stroke-width="1.6" stroke-linecap="butt"/>
<line x1="1104.50" y1="863.00" x2="1104.50" y2="868.50" stroke="#000" stroke-width="1.6" stroke-linecap="butt"/>
<line x1="930.60" y1="721.00" x2="935.60" y2="721.00" stroke="#000" stroke-width="1.4" stroke-linecap="butt"/>
<line x1="930.60" y1="778.00" x2="935.60" y2="778.00" stroke="#000" stroke-width="1.4" stroke-linecap="butt"/>
<line x1="930.60" y1="835.00" x2="935.60" y2="835.00" stroke="#000" stroke-width="1.4" stroke-linecap="butt"/>
<line x1="932.40" y1="695.75" x2="935.60" y2="695.75" stroke="#000" stroke-width="1.2" stroke-linecap="butt"/>
<line x1="932.40" y1="726.07" x2="935.60" y2="726.07" stroke="#000" stroke-width="1.2" stroke-linecap="butt"/>
<line x1="932.40" y1="732.23" x2="935.60" y2="732.23" stroke="#000" stroke-width="1.2" stroke-linecap="butt"/>
<line x1="932.40" y1="740.44" x2="935.60" y2="740.44" stroke="#000" stroke-width="1.2" stroke-linecap="butt"/>
<line x1="932.40" y1="752.75" x2="935.60" y2="752.75" stroke="#000" stroke-width="1.2" stroke-linecap="butt"/>
<line x1="932.40" y1="783.07" x2="935.60" y2="783.07" stroke="#000" stroke-width="1.2" stroke-linecap="butt"/>
<line x1="932.40" y1="789.23" x2="935.60" y2="789.23" stroke="#000" stroke-width="1.2" stroke-linecap="butt"/>
<line x1="932.40" y1="797.44" x2="935.60" y2="797.44" stroke="#000" stroke-width="1.2" stroke-linecap="butt"/>
<line x1="932.40" y1="809.75" x2="935.60" y2="809.75" stroke="#000" stroke-width="1.2" stroke-linecap="butt"/>
<line x1="932.40" y1="840.07" x2="935.60" y2="840.07" stroke="#000" stroke-width="1.2" stroke-linecap="butt"/>
<line x1="932.40" y1="846.23" x2="935.60" y2="846.23" stroke="#000" stroke-width="1.2" stroke-linecap="butt"/>
<line x1="932.40" y1="854.44" x2="935.60" y2="854.44" stroke="#000" stroke-width="1.2" stroke-linecap="butt"/>
<text transform="translate(890.24,727.13)" font-family="'Liberation Sans', sans-serif" font-weight="bold" fill="#000"><tspan x="0.00" y="0.00" font-size="21.55">10</tspan><tspan x="25.39" y="-7.11" font-size="14.37">-</tspan><tspan x="32.33" y="-7.11" font-size="14.37">2</tspan></text>
<text transform="translate(889.81,784.13)" font-family="'Liberation Sans', sans-serif" font-weight="bold" fill="#000"><tspan x="0.00" y="0.00" font-size="21.55">10</tspan><tspan x="25.39" y="-7.11" font-size="14.37">-</tspan><tspan x="32.33" y="-7.11" font-size="14.37">4</tspan></text>
<text transform="translate(890.24,841.53)" font-family="'Liberation Sans', sans-serif" font-weight="bold" fill="#000"><tspan x="0.00" y="0.00" font-size="21.55">10</tspan><tspan x="25.39" y="-7.11" font-size="14.37">-</tspan><tspan x="32.33" y="-7.11" font-size="14.37">6</tspan></text>
<g fill="#fff" stroke="#000" stroke-width="0.9"><circle cx="935.6" cy="729.5" r="3.3"/><circle cx="937.7" cy="739.9" r="3.3"/><circle cx="939.7" cy="782.7" r="3.3"/><circle cx="941.8" cy="789.1" r="3.3"/><circle cx="943.8" cy="795.1" r="3.3"/><circle cx="945.9" cy="797.9" r="3.3"/><circle cx="948.0" cy="800.7" r="3.3"/><circle cx="950.0" cy="803.5" r="3.3"/><circle cx="952.1" cy="806.1" r="3.3"/><circle cx="954.2" cy="808.4" r="3.3"/><circle cx="956.2" cy="810.2" r="3.3"/><circle cx="958.3" cy="811.6" r="3.3"/><circle cx="960.3" cy="812.8" r="3.3"/><circle cx="962.4" cy="813.7" r="3.3"/><circle cx="964.5" cy="814.6" r="3.3"/><circle cx="966.5" cy="815.5" r="3.3"/><circle cx="968.6" cy="816.4" r="3.3"/><circle cx="970.6" cy="817.3" r="3.3"/><circle cx="972.7" cy="817.9" r="3.3"/><circle cx="974.8" cy="818.4" r="3.3"/><circle cx="976.8" cy="818.6" r="3.3"/><circle cx="978.9" cy="818.6" r="3.3"/><circle cx="981.0" cy="818.5" r="3.3"/><circle cx="983.0" cy="818.4" r="3.3"/><circle cx="985.1" cy="818.2" r="3.3"/><circle cx="987.1" cy="818.0" r="3.3"/><circle cx="989.2" cy="817.9" r="3.3"/><circle cx="991.3" cy="817.7" r="3.3"/><circle cx="993.3" cy="817.6" r="3.3"/><circle cx="995.4" cy="817.4" r="3.3"/><circle cx="997.5" cy="817.2" r="3.3"/><circle cx="999.5" cy="817.1" r="3.3"/><circle cx="1001.6" cy="816.9" r="3.3"/><circle cx="1003.6" cy="816.8" r="3.3"/><circle cx="1005.7" cy="816.6" r="3.3"/><circle cx="1007.8" cy="816.6" r="3.3"/><circle cx="1009.8" cy="816.8" r="3.3"/><circle cx="1011.9" cy="817.3" r="3.3"/><circle cx="1013.9" cy="818.0" r="3.3"/><circle cx="1016.0" cy="819.0" r="3.3"/><circle cx="1018.1" cy="820.0" r="3.3"/><circle cx="1020.1" cy="821.1" r="3.3"/><circle cx="1022.2" cy="822.1" r="3.3"/><circle cx="1024.3" cy="823.2" r="3.3"/><circle cx="1026.3" cy="824.3" r="3.3"/><circle cx="1028.4" cy="825.4" r="3.3"/><circle cx="1030.4" cy="826.4" r="3.3"/><circle cx="1032.5" cy="827.5" r="3.3"/><circle cx="1034.6" cy="828.6" r="3.3"/><circle cx="1036.6" cy="829.6" r="3.3"/><circle cx="1038.7" cy="830.7" r="3.3"/><circle cx="1040.7" cy="831.8" r="3.3"/><circle cx="1042.8" cy="832.9" r="3.3"/><circle cx="1044.9" cy="833.9" r="3.3"/><circle cx="1046.9" cy="834.8" r="3.3"/><circle cx="1049.0" cy="835.5" r="3.3"/><circle cx="1051.1" cy="835.8" r="3.3"/><circle cx="1053.1" cy="835.5" r="3.3"/><circle cx="1055.2" cy="834.7" r="3.3"/><circle cx="1057.2" cy="833.8" r="3.3"/><circle cx="1059.3" cy="833.1" r="3.3"/><circle cx="1061.4" cy="832.8" r="3.3"/><circle cx="1063.4" cy="832.9" r="3.3"/><circle cx="1065.5" cy="833.3" r="3.3"/><circle cx="1067.6" cy="834.0" r="3.3"/><circle cx="1069.6" cy="834.6" r="3.3"/><circle cx="1071.7" cy="835.4" r="3.3"/><circle cx="1073.7" cy="836.1" r="3.3"/><circle cx="1075.8" cy="836.8" r="3.3"/><circle cx="1077.9" cy="837.5" r="3.3"/><circle cx="1079.9" cy="838.3" r="3.3"/><circle cx="1082.0" cy="839.0" r="3.3"/><circle cx="1084.0" cy="839.7" r="3.3"/><circle cx="1086.1" cy="840.5" r="3.3"/><circle cx="1088.2" cy="841.2" r="3.3"/><circle cx="1090.2" cy="841.9" r="3.3"/><circle cx="1092.3" cy="842.6" r="3.3"/><circle cx="1094.4" cy="843.4" r="3.3"/><circle cx="1096.4" cy="844.1" r="3.3"/><circle cx="1098.5" cy="844.8" r="3.3"/><circle cx="1100.5" cy="845.5" r="3.3"/><circle cx="1102.6" cy="846.1" r="3.3"/></g>
<g fill="#000"><circle cx="935.6" cy="721.0" r="3.9"/><circle cx="937.7" cy="727.3" r="3.9"/><circle cx="939.7" cy="763.7" r="3.9"/><circle cx="941.8" cy="777.6" r="3.9"/><circle cx="943.8" cy="783.7" r="3.9"/><circle cx="945.9" cy="788.6" r="3.9"/><circle cx="948.0" cy="792.9" r="3.9"/><circle cx="950.0" cy="795.6" r="3.9"/><circle cx="952.1" cy="798.4" r="3.9"/><circle cx="954.2" cy="801.0" r="3.9"/><circle cx="956.2" cy="803.2" r="3.9"/><circle cx="958.3" cy="805.1" r="3.9"/><circle cx="960.3" cy="806.8" r="3.9"/><circle cx="962.4" cy="808.4" r="3.9"/><circle cx="964.5" cy="809.6" r="3.9"/><circle cx="966.5" cy="810.6" r="3.9"/><circle cx="968.6" cy="811.2" r="3.9"/><circle cx="970.6" cy="811.6" r="3.9"/><circle cx="972.7" cy="811.8" r="3.9"/><circle cx="974.8" cy="812.0" r="3.9"/><circle cx="976.8" cy="812.1" r="3.9"/><circle cx="978.9" cy="812.3" r="3.9"/><circle cx="981.0" cy="812.4" r="3.9"/><circle cx="983.0" cy="812.6" r="3.9"/><circle cx="985.1" cy="812.8" r="3.9"/><circle cx="987.1" cy="812.9" r="3.9"/><circle cx="989.2" cy="813.0" r="3.9"/><circle cx="991.3" cy="813.0" r="3.9"/><circle cx="993.3" cy="813.0" r="3.9"/><circle cx="995.4" cy="812.8" r="3.9"/><circle cx="997.5" cy="812.4" r="3.9"/><circle cx="999.5" cy="812.1" r="3.9"/><circle cx="1001.6" cy="811.7" r="3.9"/><circle cx="1003.6" cy="811.3" r="3.9"/><circle cx="1005.7" cy="811.0" r="3.9"/><circle cx="1007.8" cy="810.7" r="3.9"/><circle cx="1009.8" cy="810.8" r="3.9"/><circle cx="1011.9" cy="811.1" r="3.9"/><circle cx="1013.9" cy="811.8" r="3.9"/><circle cx="1016.0" cy="812.8" r="3.9"/><circle cx="1018.1" cy="813.8" r="3.9"/><circle cx="1020.1" cy="814.9" r="3.9"/><circle cx="1022.2" cy="816.0" r="3.9"/><circle cx="1024.3" cy="817.1" r="3.9"/><circle cx="1026.3" cy="818.2" r="3.9"/><circle cx="1028.4" cy="819.3" r="3.9"/><circle cx="1030.4" cy="820.5" r="3.9"/><circle cx="1032.5" cy="821.6" r="3.9"/><circle cx="1034.6" cy="822.7" r="3.9"/><circle cx="1036.6" cy="823.8" r="3.9"/><circle cx="1038.7" cy="824.9" r="3.9"/><circle cx="1040.7" cy="825.8" r="3.9"/><circle cx="1042.8" cy="826.7" r="3.9"/><circle cx="1044.9" cy="827.4" r="3.9"/><circle cx="1046.9" cy="827.9" r="3.9"/><circle cx="1049.0" cy="828.0" r="3.9"/><circle cx="1051.1" cy="827.5" r="3.9"/><circle cx="1053.1" cy="826.4" r="3.9"/><circle cx="1055.2" cy="824.8" r="3.9"/><circle cx="1057.2" cy="822.8" r="3.9"/><circle cx="1059.3" cy="820.8" r="3.9"/><circle cx="1061.4" cy="818.9" r="3.9"/><circle cx="1063.4" cy="817.3" r="3.9"/><circle cx="1065.5" cy="815.8" r="3.9"/><circle cx="1067.6" cy="814.6" r="3.9"/><circle cx="1069.6" cy="813.7" r="3.9"/><circle cx="1071.7" cy="813.5" r="3.9"/><circle cx="1073.7" cy="814.2" r="3.9"/><circle cx="1075.8" cy="815.8" r="3.9"/><circle cx="1077.9" cy="817.9" r="3.9"/><circle cx="1079.9" cy="820.2" r="3.9"/><circle cx="1082.0" cy="822.5" r="3.9"/><circle cx="1084.0" cy="824.7" r="3.9"/><circle cx="1086.1" cy="826.7" r="3.9"/><circle cx="1088.2" cy="828.5" r="3.9"/><circle cx="1090.2" cy="830.4" r="3.9"/><circle cx="1092.3" cy="832.2" r="3.9"/><circle cx="1094.4" cy="834.0" r="3.9"/><circle cx="1096.4" cy="835.8" r="3.9"/><circle cx="1098.5" cy="837.6" r="3.9"/><circle cx="1100.5" cy="839.3" r="3.9"/><circle cx="1102.6" cy="840.8" r="3.9"/></g>
<text transform="translate(929.91,890.75)" font-family="'Liberation Sans', sans-serif" font-weight="bold" fill="#000"><tspan x="0.00" y="0.00" font-size="20.50">0</tspan></text>
<text transform="translate(1002.73,890.75)" font-family="'Liberation Sans', sans-serif" font-weight="bold" fill="#000"><tspan x="0.00" y="0.00" font-size="20.50">100</tspan></text>
<text transform="translate(1063.27,889.87) scale(1.0000,1)" font-family="'Liberation Sans', sans-serif" font-weight="bold" fill="#000"><tspan x="0.00" y="0.00" font-size="20.86">200 [Hz]</tspan></text>
<text transform="translate(883.93,792.49) rotate(-90) scale(1.0000,1)" font-family="'Liberation Sans', sans-serif" font-weight="bold" fill="#000"><tspan x="0.00" y="0.00" font-size="19.84">mV</tspan><tspan x="31.07" y="-8.33" font-size="13.88">2</tspan></text>
<text transform="translate(979.06,713.73) scale(1.0000,1)" font-family="'Liberation Sans', sans-serif" font-weight="bold" fill="#000"><tspan x="0.00" y="0.00" font-size="34.47">Bipolar</tspan></text>
<text transform="translate(955.59,752.72) scale(1.0000,1)" font-family="'Liberation Sans', sans-serif" font-weight="bold" fill="#000"><tspan x="0.00" y="0.00" font-size="35.15">derivation</tspan></text>
<text transform="translate(1192.90,656.02) scale(1.0000,1)" font-family="'Liberation Sans', sans-serif" font-weight="bold" fill="#000"><tspan x="0.00" y="0.00" font-size="64.56">C</tspan></text>
<text transform="translate(1320.08,658.84) scale(1.0000,1)" font-family="'Liberation Sans', sans-serif" font-weight="bold" fill="#000"><tspan x="0.00" y="0.00" font-size="44.99">HFO band</tspan></text>
<line x1="1388.80" y1="711.60" x2="1388.80" y2="1075.40" stroke="#000" stroke-width="3.4" stroke-linecap="butt"/>
<line x1="1372.60" y1="1075.40" x2="1510.40" y2="1075.40" stroke="#000" stroke-width="3.4" stroke-linecap="butt"/>
<line x1="1372.60" y1="786.00" x2="1388.80" y2="786.00" stroke="#000" stroke-width="3.4" stroke-linecap="butt"/>
<line x1="1372.60" y1="930.70" x2="1388.80" y2="930.70" stroke="#000" stroke-width="3.4" stroke-linecap="butt"/>
<line x1="1372.60" y1="1075.40" x2="1388.80" y2="1075.40" stroke="#000" stroke-width="3.4" stroke-linecap="butt"/>
<line x1="1378.30" y1="721.90" x2="1388.80" y2="721.90" stroke="#000" stroke-width="3.4" stroke-linecap="butt"/>
<line x1="1378.30" y1="798.88" x2="1388.80" y2="798.88" stroke="#000" stroke-width="3.4" stroke-linecap="butt"/>
<line x1="1378.30" y1="814.51" x2="1388.80" y2="814.51" stroke="#000" stroke-width="3.4" stroke-linecap="butt"/>
<line x1="1378.30" y1="835.34" x2="1388.80" y2="835.34" stroke="#000" stroke-width="3.4" stroke-linecap="butt"/>
<line x1="1378.30" y1="866.60" x2="1388.80" y2="866.60" stroke="#000" stroke-width="3.4" stroke-linecap="butt"/>
<line x1="1378.30" y1="943.58" x2="1388.80" y2="943.58" stroke="#000" stroke-width="3.4" stroke-linecap="butt"/>
<line x1="1378.30" y1="959.21" x2="1388.80" y2="959.21" stroke="#000" stroke-width="3.4" stroke-linecap="butt"/>
<line x1="1378.30" y1="980.04" x2="1388.80" y2="980.04" stroke="#000" stroke-width="3.4" stroke-linecap="butt"/>
<line x1="1378.30" y1="1011.30" x2="1388.80" y2="1011.30" stroke="#000" stroke-width="3.4" stroke-linecap="butt"/>
<text transform="translate(1320.21,794.17)" font-family="'Liberation Sans', sans-serif" font-weight="bold" fill="#000"><tspan x="0.00" y="0.00" font-size="27.75">10</tspan><tspan x="32.69" y="-9.16" font-size="18.51">-</tspan><tspan x="41.63" y="-9.16" font-size="18.51">2</tspan></text>
<text transform="translate(1319.65,938.87)" font-family="'Liberation Sans', sans-serif" font-weight="bold" fill="#000"><tspan x="0.00" y="0.00" font-size="27.75">10</tspan><tspan x="32.69" y="-9.16" font-size="18.51">-</tspan><tspan x="41.63" y="-9.16" font-size="18.51">4</tspan></text>
<text transform="translate(1320.21,1083.57)" font-family="'Liberation Sans', sans-serif" font-weight="bold" fill="#000"><tspan x="0.00" y="0.00" font-size="27.75">10</tspan><tspan x="32.69" y="-9.16" font-size="18.51">-</tspan><tspan x="41.63" y="-9.16" font-size="18.51">6</tspan></text>
<line x1="1417.90" y1="1075.40" x2="1417.90" y2="1085.50" stroke="#000" stroke-width="3.4" stroke-linecap="butt"/>
<line x1="1478.70" y1="1075.40" x2="1478.70" y2="1085.50" stroke="#000" stroke-width="3.4" stroke-linecap="butt"/>
<text transform="translate(1398.82,1111.26) scale(1.0000,1)" font-family="'Liberation Sans', sans-serif" font-weight="bold" fill="#000"><tspan x="0.00" y="0.00" font-size="25.26">OB</tspan></text>
<text transform="translate(1459.23,1111.40) scale(1.0000,1)" font-family="'Liberation Sans', sans-serif" font-weight="bold" fill="#000"><tspan x="0.00" y="0.00" font-size="25.65">PC</tspan></text>
<text transform="translate(1416.77,762.96) scale(1.0000,1)" font-family="'Liberation Sans', sans-serif" font-weight="normal" fill="#000"><tspan x="0.00" y="0.00" font-size="48.46">***</tspan></text>
<text transform="translate(1309.25,972.11) rotate(-90) scale(1.0000,1)" font-family="'Liberation Sans', sans-serif" font-weight="bold" fill="#000"><tspan x="0.00" y="0.00" font-size="26.29">Power [mV</tspan><tspan x="136.14" y="-11.04" font-size="18.40">2</tspan><tspan x="146.64" y="0.00" font-size="26.29">]</tspan></text>
<g stroke="#000" stroke-width="1" fill="none"><line x1="1417.9" y1="799.6" x2="1478.7" y2="952.6"/><line x1="1417.9" y1="801" x2="1478.7" y2="959.7"/><line x1="1417.9" y1="805" x2="1478.7" y2="965"/><line x1="1417.9" y1="806" x2="1478.7" y2="911.7"/><line x1="1417.9" y1="830.8" x2="1478.7" y2="936.6"/><line x1="1417.9" y1="846.8" x2="1478.7" y2="902.8"/><line x1="1417.9" y1="848" x2="1478.7" y2="945.5"/><line x1="1417.9" y1="861" x2="1478.7" y2="908.1"/><line x1="1417.9" y1="863" x2="1478.7" y2="888.6"/><line x1="1417.9" y1="866.3" x2="1478.7" y2="865.4"/><line x1="1417.9" y1="867" x2="1478.7" y2="1028.2"/><line x1="1417.9" y1="885.9" x2="1478.7" y2="921.5"/><line x1="1417.9" y1="925" x2="1478.7" y2="932.2"/><line x1="1417.9" y1="933" x2="1478.7" y2="893.9"/></g>
<circle cx="1417.9" cy="799.6" r="7.6" fill="#000" stroke="none" stroke-width="0"/>
<circle cx="1417.9" cy="801.0" r="7.6" fill="#000" stroke="none" stroke-width="0"/>
<circle cx="1417.9" cy="805.0" r="7.6" fill="#000" stroke="none" stroke-width="0"/>
<circle cx="1417.9" cy="806.0" r="7.6" fill="#000" stroke="none" stroke-width="0"/>
<circle cx="1417.9" cy="830.8" r="7.6" fill="#000" stroke="none" stroke-width="0"/>
<circle cx="1417.9" cy="846.8" r="7.6" fill="#000" stroke="none" stroke-width="0"/>
<circle cx="1417.9" cy="848.0" r="7.6" fill="#000" stroke="none" stroke-width="0"/>
<circle cx="1417.9" cy="861.0" r="7.6" fill="#000" stroke="none" stroke-width="0"/>
<circle cx="1417.9" cy="863.0" r="7.6" fill="#000" stroke="none" stroke-width="0"/>
<circle cx="1417.9" cy="866.3" r="7.6" fill="#000" stroke="none" stroke-width="0"/>
<circle cx="1417.9" cy="867.0" r="7.6" fill="#000" stroke="none" stroke-width="0"/>
<circle cx="1417.9" cy="885.9" r="7.6" fill="#000" stroke="none" stroke-width="0"/>
<circle cx="1417.9" cy="925.0" r="7.6" fill="#000" stroke="none" stroke-width="0"/>
<circle cx="1417.9" cy="933.0" r="7.6" fill="#000" stroke="none" stroke-width="0"/>
<path d="M1471.7,958.7H1485.7L1478.7,946.5Z" fill="#000"/>
<path d="M1471.7,965.8H1485.7L1478.7,953.6Z" fill="#000"/>
<path d="M1471.7,971.1H1485.7L1478.7,958.9Z" fill="#000"/>
<path d="M1471.7,917.8H1485.7L1478.7,905.6Z" fill="#000"/>
<path d="M1471.7,942.7H1485.7L1478.7,930.5Z" fill="#000"/>
<path d="M1471.7,908.9H1485.7L1478.7,896.7Z" fill="#000"/>
<path d="M1471.7,951.6H1485.7L1478.7,939.4Z" fill="#000"/>
<path d="M1471.7,914.2H1485.7L1478.7,902.0Z" fill="#000"/>
<path d="M1471.7,894.7H1485.7L1478.7,882.5Z" fill="#000"/>
<path d="M1471.7,871.5H1485.7L1478.7,859.3Z" fill="#000"/>
<path d="M1471.7,1034.3H1485.7L1478.7,1022.1Z" fill="#000"/>
<path d="M1471.7,927.6H1485.7L1478.7,915.4Z" fill="#000"/>
<path d="M1471.7,938.3H1485.7L1478.7,926.1Z" fill="#000"/>
<path d="M1471.7,900.0H1485.7L1478.7,887.8Z" fill="#000"/>
<text transform="translate(4.06,1262.27) scale(1.0000,1)" font-family="'Liberation Sans', sans-serif" font-weight="bold" fill="#000"><tspan x="0.00" y="0.00" font-size="60.91">D</tspan></text>
<text transform="translate(212.60,1277.65) scale(1.0000,1)" font-family="'Liberation Sans', sans-serif" font-weight="bold" fill="#000"><tspan x="0.00" y="0.00" font-size="45.04">Correlation HFO band</tspan></text>
<line x1="128.50" y1="1328.50" x2="128.50" y2="1704.40" stroke="#000" stroke-width="3.4" stroke-linecap="butt"/>
<line x1="112.80" y1="1689.40" x2="491.20" y2="1689.40" stroke="#000" stroke-width="3.4" stroke-linecap="butt"/>
<line x1="112.80" y1="1328.50" x2="128.50" y2="1328.50" stroke="#000" stroke-width="3.4" stroke-linecap="butt"/>
<line x1="119.90" y1="1339.21" x2="128.50" y2="1339.21" stroke="#000" stroke-width="3.4" stroke-linecap="butt"/>
<line x1="119.90" y1="1352.20" x2="128.50" y2="1352.20" stroke="#000" stroke-width="3.4" stroke-linecap="butt"/>
<line x1="119.90" y1="1369.52" x2="128.50" y2="1369.52" stroke="#000" stroke-width="3.4" stroke-linecap="butt"/>
<line x1="119.90" y1="1395.51" x2="128.50" y2="1395.51" stroke="#000" stroke-width="3.4" stroke-linecap="butt"/>
<line x1="112.80" y1="1448.80" x2="128.50" y2="1448.80" stroke="#000" stroke-width="3.4" stroke-linecap="butt"/>
<line x1="119.90" y1="1459.51" x2="128.50" y2="1459.51" stroke="#000" stroke-width="3.4" stroke-linecap="butt"/>
<line x1="119.90" y1="1472.50" x2="128.50" y2="1472.50" stroke="#000" stroke-width="3.4" stroke-linecap="butt"/>
<line x1="119.90" y1="1489.82" x2="128.50" y2="1489.82" stroke="#000" stroke-width="3.4" stroke-linecap="butt"/>
<line x1="119.90" y1="1515.81" x2="128.50" y2="1515.81" stroke="#000" stroke-width="3.4" stroke-linecap="butt"/>
<line x1="112.80" y1="1569.10" x2="128.50" y2="1569.10" stroke="#000" stroke-width="3.4" stroke-linecap="butt"/>
<line x1="119.90" y1="1579.81" x2="128.50" y2="1579.81" stroke="#000" stroke-width="3.4" stroke-linecap="butt"/>
<line x1="119.90" y1="1592.80" x2="128.50" y2="1592.80" stroke="#000" stroke-width="3.4" stroke-linecap="butt"/>
<line x1="119.90" y1="1610.12" x2="128.50" y2="1610.12" stroke="#000" stroke-width="3.4" stroke-linecap="butt"/>
<line x1="119.90" y1="1636.11" x2="128.50" y2="1636.11" stroke="#000" stroke-width="3.4" stroke-linecap="butt"/>
<line x1="112.80" y1="1689.40" x2="128.50" y2="1689.40" stroke="#000" stroke-width="3.4" stroke-linecap="butt"/>
<line x1="128.50" y1="1689.40" x2="128.50" y2="1704.50" stroke="#000" stroke-width="3.4" stroke-linecap="butt"/>
<line x1="248.93" y1="1689.40" x2="248.93" y2="1704.50" stroke="#000" stroke-width="3.4" stroke-linecap="butt"/>
<line x1="238.21" y1="1689.40" x2="238.21" y2="1698.30" stroke="#000" stroke-width="3.4" stroke-linecap="butt"/>
<line x1="225.21" y1="1689.40" x2="225.21" y2="1698.30" stroke="#000" stroke-width="3.4" stroke-linecap="butt"/>
<line x1="207.87" y1="1689.40" x2="207.87" y2="1698.30" stroke="#000" stroke-width="3.4" stroke-linecap="butt"/>
<line x1="181.85" y1="1689.40" x2="181.85" y2="1698.30" stroke="#000" stroke-width="3.4" stroke-linecap="butt"/>
<line x1="369.37" y1="1689.40" x2="369.37" y2="1704.50" stroke="#000" stroke-width="3.4" stroke-linecap="butt"/>
<line x1="358.65" y1="1689.40" x2="358.65" y2="1698.30" stroke="#000" stroke-width="3.4" stroke-linecap="butt"/>
<line x1="345.64" y1="1689.40" x2="345.64" y2="1698.30" stroke="#000" stroke-width="3.4" stroke-linecap="butt"/>
<line x1="328.30" y1="1689.40" x2="328.30" y2="1698.30" stroke="#000" stroke-width="3.4" stroke-linecap="butt"/>
<line x1="302.29" y1="1689.40" x2="302.29" y2="1698.30" stroke="#000" stroke-width="3.4" stroke-linecap="butt"/>
<line x1="489.80" y1="1689.40" x2="489.80" y2="1704.50" stroke="#000" stroke-width="3.4" stroke-linecap="butt"/>
<line x1="479.08" y1="1689.40" x2="479.08" y2="1698.30" stroke="#000" stroke-width="3.4" stroke-linecap="butt"/>
<line x1="466.07" y1="1689.40" x2="466.07" y2="1698.30" stroke="#000" stroke-width="3.4" stroke-linecap="butt"/>
<line x1="448.73" y1="1689.40" x2="448.73" y2="1698.30" stroke="#000" stroke-width="3.4" stroke-linecap="butt"/>
<line x1="422.72" y1="1689.40" x2="422.72" y2="1698.30" stroke="#000" stroke-width="3.4" stroke-linecap="butt"/>
<text transform="translate(65.06,1336.25)" font-family="'Liberation Sans', sans-serif" font-weight="bold" fill="#000"><tspan x="0.00" y="0.00" font-size="24.79">10</tspan><tspan x="29.21" y="-8.18" font-size="16.53">-</tspan><tspan x="37.20" y="-8.18" font-size="16.53">2</tspan></text>
<text transform="translate(65.06,1456.55)" font-family="'Liberation Sans', sans-serif" font-weight="bold" fill="#000"><tspan x="0.00" y="0.00" font-size="24.79">10</tspan><tspan x="29.21" y="-8.18" font-size="16.53">-</tspan><tspan x="37.20" y="-8.18" font-size="16.53">3</tspan></text>
<text transform="translate(64.57,1576.85)" font-family="'Liberation Sans', sans-serif" font-weight="bold" fill="#000"><tspan x="0.00" y="0.00" font-size="24.79">10</tspan><tspan x="29.21" y="-8.18" font-size="16.53">-</tspan><tspan x="37.20" y="-8.18" font-size="16.53">4</tspan></text>
<text transform="translate(64.94,1697.15)" font-family="'Liberation Sans', sans-serif" font-weight="bold" fill="#000"><tspan x="0.00" y="0.00" font-size="24.79">10</tspan><tspan x="29.21" y="-8.18" font-size="16.53">-</tspan><tspan x="37.20" y="-8.18" font-size="16.53">5</tspan></text>
<g transform="translate(153.75,1722.30)"><text transform="translate(-47.55,8.89)" font-family="'Liberation Sans', sans-serif" font-weight="bold" fill="#000"><tspan x="0.00" y="0.00" font-size="25.77">10</tspan><tspan x="30.37" y="-8.51" font-size="17.19">-</tspan><tspan x="38.67" y="-8.51" font-size="17.19">6</tspan></text></g>
<g transform="translate(274.18,1722.30)"><text transform="translate(-47.68,8.89)" font-family="'Liberation Sans', sans-serif" font-weight="bold" fill="#000"><tspan x="0.00" y="0.00" font-size="25.77">10</tspan><tspan x="30.37" y="-8.51" font-size="17.19">-</tspan><tspan x="38.67" y="-8.51" font-size="17.19">5</tspan></text></g>
<g transform="translate(394.62,1722.30)"><text transform="translate(-48.07,8.89)" font-family="'Liberation Sans', sans-serif" font-weight="bold" fill="#000"><tspan x="0.00" y="0.00" font-size="25.77">10</tspan><tspan x="30.37" y="-8.51" font-size="17.19">-</tspan><tspan x="38.67" y="-8.51" font-size="17.19">4</tspan></text></g>
<g transform="translate(515.05,1722.30)"><text transform="translate(-47.55,8.89)" font-family="'Liberation Sans', sans-serif" font-weight="bold" fill="#000"><tspan x="0.00" y="0.00" font-size="25.77">10</tspan><tspan x="30.37" y="-8.51" font-size="17.19">-</tspan><tspan x="38.67" y="-8.51" font-size="17.19">3</tspan></text></g>
<text transform="translate(40.06,1574.61) rotate(-90) scale(1.0000,1)" font-family="'Liberation Sans', sans-serif" font-weight="bold" fill="#000"><tspan x="0.00" y="0.00" font-size="30.19">OB [mV</tspan><tspan x="110.99" y="-12.68" font-size="21.13">2</tspan><tspan x="123.05" y="0.00" font-size="30.19">]</tspan></text>
<text transform="translate(243.64,1771.40) scale(1.0000,1)" font-family="'Liberation Sans', sans-serif" font-weight="bold" fill="#000"><tspan x="0.00" y="0.00" font-size="30.13">PC [mV</tspan><tspan x="107.46" y="-12.66" font-size="21.09">2</tspan><tspan x="119.49" y="0.00" font-size="30.13">]</tspan></text>
<g stroke="#9a9a9a" stroke-width="1.5"><line x1="258.4" y1="1527.0" x2="258.4" y2="1587.0"/><line x1="262.1" y1="1537.3" x2="262.1" y2="1597.3"/><line x1="265.8" y1="1536.6" x2="265.8" y2="1596.6"/><line x1="268.0" y1="1540.3" x2="268.0" y2="1600.3"/><line x1="271.0" y1="1524.1" x2="271.0" y2="1584.1"/><line x1="273.9" y1="1531.4" x2="273.9" y2="1591.4"/><line x1="280.5" y1="1478.4" x2="280.5" y2="1538.4"/><line x1="282.8" y1="1496.8" x2="282.8" y2="1556.8"/><line x1="286.4" y1="1480.6" x2="286.4" y2="1540.6"/><line x1="290.1" y1="1502.7" x2="290.1" y2="1562.7"/><line x1="303.4" y1="1448.1" x2="303.4" y2="1523.1"/><line x1="305.6" y1="1478.4" x2="305.6" y2="1538.4"/><line x1="314.5" y1="1437.1" x2="314.5" y2="1512.1"/><line x1="318.1" y1="1442.2" x2="318.1" y2="1517.2"/><line x1="321.8" y1="1437.8" x2="321.8" y2="1512.8"/><line x1="326.2" y1="1424.5" x2="326.2" y2="1499.5"/><line x1="329.9" y1="1415.0" x2="329.9" y2="1490.0"/><line x1="335.8" y1="1396.5" x2="335.8" y2="1471.5"/><line x1="339.5" y1="1397.3" x2="339.5" y2="1472.3"/><line x1="341.7" y1="1412.0" x2="341.7" y2="1487.0"/><line x1="343.2" y1="1414.2" x2="343.2" y2="1489.2"/><line x1="348.4" y1="1411.3" x2="348.4" y2="1486.3"/><line x1="349.8" y1="1425.3" x2="349.8" y2="1500.3"/><line x1="353.5" y1="1398.0" x2="353.5" y2="1473.0"/><line x1="357.9" y1="1390.6" x2="357.9" y2="1465.6"/><line x1="360.9" y1="1404.6" x2="360.9" y2="1479.6"/><line x1="364.6" y1="1394.3" x2="364.6" y2="1469.3"/><line x1="366.8" y1="1395.1" x2="366.8" y2="1470.1"/><line x1="369.7" y1="1391.4" x2="369.7" y2="1466.4"/><line x1="374.2" y1="1380.3" x2="374.2" y2="1455.3"/><line x1="380.8" y1="1376.6" x2="380.8" y2="1451.6"/><line x1="265.8" y1="1555.4" x2="265.8" y2="1635.4"/><line x1="268.0" y1="1555.4" x2="268.0" y2="1635.4"/><line x1="272.4" y1="1558.3" x2="272.4" y2="1638.3"/><line x1="338.8" y1="1532.5" x2="338.8" y2="1612.5"/><line x1="349.2" y1="1431.2" x2="453.8" y2="1431.2"/><line x1="346.0" y1="1436.3" x2="437.6" y2="1436.3"/><line x1="345.1" y1="1437.8" x2="449.3" y2="1437.8"/><line x1="343.7" y1="1440.0" x2="450.1" y2="1440.0"/><line x1="340.5" y1="1445.2" x2="453.0" y2="1445.2"/><line x1="339.6" y1="1446.7" x2="444.9" y2="1446.7"/><line x1="337.3" y1="1450.3" x2="457.5" y2="1450.3"/><line x1="333.2" y1="1457.0" x2="434.6" y2="1457.0"/><line x1="332.3" y1="1458.5" x2="427.2" y2="1458.5"/><line x1="329.1" y1="1463.6" x2="444.9" y2="1463.6"/><line x1="324.1" y1="1471.7" x2="453.8" y2="1471.7"/><line x1="322.7" y1="1473.9" x2="409.5" y2="1473.9"/><line x1="319.0" y1="1479.8" x2="406.6" y2="1479.8"/><line x1="318.6" y1="1480.6" x2="442.0" y2="1480.6"/><line x1="315.8" y1="1485.0" x2="413.2" y2="1485.0"/><line x1="313.1" y1="1489.4" x2="420.6" y2="1489.4"/><line x1="309.9" y1="1494.6" x2="395.5" y2="1494.6"/><line x1="307.6" y1="1498.3" x2="408.1" y2="1498.3"/><line x1="301.7" y1="1507.8" x2="379.3" y2="1507.8"/><line x1="298.5" y1="1513.0" x2="371.9" y2="1513.0"/><line x1="295.3" y1="1518.2" x2="367.5" y2="1518.2"/><line x1="291.2" y1="1524.8" x2="371.2" y2="1524.8"/><line x1="289.3" y1="1527.7" x2="365.3" y2="1527.7"/><line x1="283.8" y1="1536.6" x2="370.5" y2="1536.6"/><line x1="280.2" y1="1542.5" x2="341.7" y2="1542.5"/><line x1="277.9" y1="1546.2" x2="356.5" y2="1546.2"/><line x1="269.7" y1="1559.4" x2="341.0" y2="1559.4"/><line x1="267.8" y1="1562.4" x2="349.8" y2="1562.4"/><line x1="265.6" y1="1566.1" x2="329.9" y2="1566.1"/><line x1="264.6" y1="1567.6" x2="349.8" y2="1567.6"/><line x1="262.8" y1="1570.5" x2="345.4" y2="1570.5"/><line x1="260.5" y1="1574.2" x2="332.9" y2="1574.2"/></g>
<g fill="#000"><circle cx="258.4" cy="1572" r="7.2"/><circle cx="264.3" cy="1566.1" r="7.2"/><circle cx="271.7" cy="1564.6" r="7.2"/><circle cx="279.8" cy="1570.5" r="7.2"/><circle cx="284.2" cy="1560.2" r="7.2"/><circle cx="290.1" cy="1566.1" r="7.2"/><circle cx="283.5" cy="1543.2" r="7.2"/><circle cx="279.8" cy="1517.4" r="7.2"/><circle cx="303.4" cy="1526.3" r="7.2"/><circle cx="304.9" cy="1537.3" r="7.2"/><circle cx="302.7" cy="1493.8" r="7.2"/><circle cx="315.2" cy="1511.5" r="7.2"/><circle cx="318.1" cy="1499.7" r="7.2"/><circle cx="315.2" cy="1486.5" r="7.2"/><circle cx="325.5" cy="1477.6" r="7.2"/><circle cx="334.4" cy="1470.2" r="7.2"/><circle cx="341.7" cy="1471.7" r="7.2"/><circle cx="328.5" cy="1450.3" r="7.2"/><circle cx="338.8" cy="1445.9" r="7.2"/><circle cx="343.2" cy="1459.9" r="7.2"/><circle cx="335.8" cy="1493.8" r="7.2"/><circle cx="349.1" cy="1490.9" r="7.2"/><circle cx="352.0" cy="1480.6" r="7.2"/><circle cx="357.9" cy="1464.4" r="7.2"/><circle cx="363.8" cy="1462.9" r="7.2"/><circle cx="357.9" cy="1436.3" r="7.2"/><circle cx="365.3" cy="1431.9" r="7.2"/><circle cx="372.7" cy="1439.3" r="7.2"/><circle cx="380.1" cy="1437.1" r="7.2"/><circle cx="375.6" cy="1446.7" r="7.2"/><circle cx="355" cy="1446.7" r="7.2"/><circle cx="346.1" cy="1446.7" r="7.2"/></g>
<line x1="615.20" y1="1325.40" x2="615.20" y2="1689.40" stroke="#000" stroke-width="3.4" stroke-linecap="butt"/>
<line x1="602.90" y1="1689.40" x2="736.50" y2="1689.40" stroke="#000" stroke-width="3.4" stroke-linecap="butt"/>
<line x1="602.90" y1="1325.40" x2="615.20" y2="1325.40" stroke="#000" stroke-width="3.4" stroke-linecap="butt"/>
<line x1="602.90" y1="1416.40" x2="615.20" y2="1416.40" stroke="#000" stroke-width="3.4" stroke-linecap="butt"/>
<line x1="602.90" y1="1507.40" x2="615.20" y2="1507.40" stroke="#000" stroke-width="3.4" stroke-linecap="butt"/>
<line x1="602.90" y1="1598.40" x2="615.20" y2="1598.40" stroke="#000" stroke-width="3.4" stroke-linecap="butt"/>
<line x1="602.90" y1="1689.40" x2="615.20" y2="1689.40" stroke="#000" stroke-width="3.4" stroke-linecap="butt"/>
<text transform="translate(564.36,1334.01)" font-family="'Liberation Sans', sans-serif" font-weight="bold" fill="#000"><tspan x="0.00" y="0.00" font-size="26.40">1.0</tspan></text>
<text transform="translate(563.96,1425.01)" font-family="'Liberation Sans', sans-serif" font-weight="bold" fill="#000"><tspan x="0.00" y="0.00" font-size="26.40">0.5</tspan></text>
<text transform="translate(564.36,1516.01)" font-family="'Liberation Sans', sans-serif" font-weight="bold" fill="#000"><tspan x="0.00" y="0.00" font-size="26.40">0.0</tspan></text>
<text transform="translate(555.25,1607.01)" font-family="'Liberation Sans', sans-serif" font-weight="bold" fill="#000"><tspan x="0.00" y="0.00" font-size="26.40">-0.5</tspan></text>
<text transform="translate(555.65,1698.01)" font-family="'Liberation Sans', sans-serif" font-weight="bold" fill="#000"><tspan x="0.00" y="0.00" font-size="26.40">-1.0</tspan></text>
<text transform="translate(534.98,1602.15) rotate(-90) scale(1.0000,1)" font-family="'Liberation Sans', sans-serif" font-weight="bold" fill="#000"><tspan x="0.00" y="0.00" font-size="34.84">Spearman r</tspan></text>
<circle cx="644.0" cy="1339.2" r="7.2" fill="#000" stroke="none" stroke-width="0"/>
<circle cx="652.4" cy="1336.6" r="7.2" fill="#000" stroke="none" stroke-width="0"/>
<circle cx="659.2" cy="1340.9" r="7.2" fill="#000" stroke="none" stroke-width="0"/>
<circle cx="665.1" cy="1349.5" r="7.2" fill="#000" stroke="none" stroke-width="0"/>
<circle cx="674.5" cy="1336.6" r="7.2" fill="#000" stroke="none" stroke-width="0"/>
<circle cx="674.5" cy="1360.7" r="7.2" fill="#000" stroke="none" stroke-width="0"/>
<circle cx="681.2" cy="1360.7" r="7.2" fill="#000" stroke="none" stroke-width="0"/>
<circle cx="689.7" cy="1346.0" r="7.2" fill="#000" stroke="none" stroke-width="0"/>
<circle cx="696.5" cy="1331.4" r="7.2" fill="#000" stroke="none" stroke-width="0"/>
<circle cx="704.1" cy="1339.2" r="7.2" fill="#000" stroke="none" stroke-width="0"/>
<circle cx="652.4" cy="1414.0" r="7.2" fill="#000" stroke="none" stroke-width="0"/>
<circle cx="674.5" cy="1422.6" r="7.2" fill="#000" stroke="none" stroke-width="0"/>
<circle cx="696.5" cy="1402.0" r="7.2" fill="#000" stroke="none" stroke-width="0"/>
<circle cx="674.5" cy="1556.9" r="7.2" fill="#000" stroke="none" stroke-width="0"/>
<text transform="translate(845.10,1261.68) scale(1.0000,1)" font-family="'Liberation Sans', sans-serif" font-weight="bold" fill="#000"><tspan x="0.00" y="0.00" font-size="65.02">E</tspan></text>
<text transform="translate(1005.49,1280.29) scale(1.0000,1)" font-family="'Liberation Sans', sans-serif" font-weight="bold" fill="#000"><tspan x="0.00" y="0.00" font-size="45.28">OB-PC Coherence</tspan></text>
<line x1="954.70" y1="1328.20" x2="954.70" y2="1702.20" stroke="#000" stroke-width="3.4" stroke-linecap="butt"/>
<line x1="944.20" y1="1691.00" x2="1320.90" y2="1691.00" stroke="#000" stroke-width="3.4" stroke-linecap="butt"/>
<line x1="944.20" y1="1691.00" x2="954.70" y2="1691.00" stroke="#000" stroke-width="3.4" stroke-linecap="butt"/>
<line x1="948.30" y1="1654.72" x2="954.70" y2="1654.72" stroke="#000" stroke-width="3.4" stroke-linecap="butt"/>
<line x1="948.30" y1="1618.44" x2="954.70" y2="1618.44" stroke="#000" stroke-width="3.4" stroke-linecap="butt"/>
<line x1="948.30" y1="1582.16" x2="954.70" y2="1582.16" stroke="#000" stroke-width="3.4" stroke-linecap="butt"/>
<line x1="948.30" y1="1545.88" x2="954.70" y2="1545.88" stroke="#000" stroke-width="3.4" stroke-linecap="butt"/>
<line x1="944.20" y1="1509.60" x2="954.70" y2="1509.60" stroke="#000" stroke-width="3.4" stroke-linecap="butt"/>
<line x1="948.30" y1="1473.32" x2="954.70" y2="1473.32" stroke="#000" stroke-width="3.4" stroke-linecap="butt"/>
<line x1="948.30" y1="1437.04" x2="954.70" y2="1437.04" stroke="#000" stroke-width="3.4" stroke-linecap="butt"/>
<line x1="948.30" y1="1400.76" x2="954.70" y2="1400.76" stroke="#000" stroke-width="3.4" stroke-linecap="butt"/>
<line x1="948.30" y1="1364.48" x2="954.70" y2="1364.48" stroke="#000" stroke-width="3.4" stroke-linecap="butt"/>
<line x1="944.20" y1="1328.20" x2="954.70" y2="1328.20" stroke="#000" stroke-width="3.4" stroke-linecap="butt"/>
<text transform="translate(905.90,1336.67)" font-family="'Liberation Sans', sans-serif" font-weight="bold" fill="#000"><tspan x="0.00" y="0.00" font-size="26.00">1.0</tspan></text>
<text transform="translate(905.51,1518.07)" font-family="'Liberation Sans', sans-serif" font-weight="bold" fill="#000"><tspan x="0.00" y="0.00" font-size="26.00">0.5</tspan></text>
<text transform="translate(905.90,1699.47)" font-family="'Liberation Sans', sans-serif" font-weight="bold" fill="#000"><tspan x="0.00" y="0.00" font-size="26.00">0.0</tspan></text>
<line x1="1045.65" y1="1691.00" x2="1045.65" y2="1702.20" stroke="#000" stroke-width="3.4" stroke-linecap="butt"/>
<line x1="1136.60" y1="1691.00" x2="1136.60" y2="1702.20" stroke="#000" stroke-width="3.4" stroke-linecap="butt"/>
<line x1="1227.55" y1="1691.00" x2="1227.55" y2="1702.20" stroke="#000" stroke-width="3.4" stroke-linecap="butt"/>
<line x1="1318.50" y1="1691.00" x2="1318.50" y2="1702.20" stroke="#000" stroke-width="3.4" stroke-linecap="butt"/>
<text transform="translate(947.60,1732.92)" font-family="'Liberation Sans', sans-serif" font-weight="bold" fill="#000"><tspan x="0.00" y="0.00" font-size="25.60">0</tspan></text>
<text transform="translate(1031.57,1732.92)" font-family="'Liberation Sans', sans-serif" font-weight="bold" fill="#000"><tspan x="0.00" y="0.00" font-size="25.60">50</tspan></text>
<text transform="translate(1114.97,1732.92)" font-family="'Liberation Sans', sans-serif" font-weight="bold" fill="#000"><tspan x="0.00" y="0.00" font-size="25.60">100</tspan></text>
<text transform="translate(1205.92,1732.92)" font-family="'Liberation Sans', sans-serif" font-weight="bold" fill="#000"><tspan x="0.00" y="0.00" font-size="25.60">150</tspan></text>
<text transform="translate(1297.25,1732.92)" font-family="'Liberation Sans', sans-serif" font-weight="bold" fill="#000"><tspan x="0.00" y="0.00" font-size="25.60">200</tspan></text>
<text transform="translate(1025.55,1769.58) scale(1.0000,1)" font-family="'Liberation Sans', sans-serif" font-weight="bold" fill="#000"><tspan x="0.00" y="0.00" font-size="30.01">Frequency [Hz]</tspan></text>
<text transform="translate(875.76,1594.61) rotate(-90) scale(1.0000,1)" font-family="'Liberation Sans', sans-serif" font-weight="bold" fill="#000"><tspan x="0.00" y="0.00" font-size="32.75">Coherence</tspan></text>
<line x1="994.80" y1="1344.90" x2="1034.60" y2="1344.90" stroke="#000" stroke-width="1.2" stroke-linecap="butt"/>
<circle cx="1014.7" cy="1344.9" r="7" fill="#fff" stroke="#000" stroke-width="1.3"/>
<line x1="997.00" y1="1393.90" x2="1036.20" y2="1393.90" stroke="#000" stroke-width="1.2" stroke-linecap="butt"/>
<circle cx="1016.3" cy="1393.9" r="7" fill="#000" stroke="none" stroke-width="0"/>
<text transform="translate(1054.94,1354.96) scale(1.0000,1)" font-family="'Liberation Sans', sans-serif" font-weight="normal" fill="#000"><tspan x="0.00" y="0.00" font-size="29.54">Baseline</tspan></text>
<text transform="translate(1056.58,1402.15) scale(1.0000,1)" font-family="'Liberation Sans', sans-serif" font-weight="normal" fill="#000"><tspan x="0.00" y="0.00" font-size="28.98">MK801</tspan></text>
<g stroke="#999" stroke-width="1.3"><line x1="954.7" y1="1571.5" x2="954.7" y2="1605.1"/><line x1="954.7" y1="1604.7" x2="954.7" y2="1626.4"/><line x1="963.6" y1="1575.7" x2="963.6" y2="1609.0"/><line x1="963.6" y1="1615.9" x2="963.6" y2="1637.7"/><line x1="972.5" y1="1608.1" x2="972.5" y2="1638.9"/><line x1="972.5" y1="1636.9" x2="972.5" y2="1658.7"/><line x1="981.3" y1="1608.9" x2="981.3" y2="1639.6"/><line x1="981.3" y1="1623.9" x2="981.3" y2="1645.7"/><line x1="990.2" y1="1604.3" x2="990.2" y2="1635.4"/><line x1="990.2" y1="1611.2" x2="990.2" y2="1633.0"/><line x1="999.1" y1="1613.4" x2="999.1" y2="1643.8"/><line x1="999.1" y1="1613.4" x2="999.1" y2="1635.1"/><line x1="1008.0" y1="1619.8" x2="1008.0" y2="1649.7"/><line x1="1008.0" y1="1615.9" x2="1008.0" y2="1637.7"/><line x1="1016.9" y1="1616.8" x2="1016.9" y2="1646.9"/><line x1="1016.9" y1="1617.7" x2="1016.9" y2="1639.5"/><line x1="1025.8" y1="1614.9" x2="1025.8" y2="1645.2"/><line x1="1025.8" y1="1622.4" x2="1025.8" y2="1644.2"/><line x1="1034.6" y1="1614.9" x2="1034.6" y2="1645.2"/><line x1="1034.6" y1="1630.4" x2="1034.6" y2="1652.2"/><line x1="1043.5" y1="1606.6" x2="1043.5" y2="1637.5"/><line x1="1043.5" y1="1627.1" x2="1043.5" y2="1648.9"/><line x1="1052.4" y1="1591.5" x2="1052.4" y2="1623.6"/><line x1="1052.4" y1="1638.4" x2="1052.4" y2="1660.2"/><line x1="1061.3" y1="1583.2" x2="1061.3" y2="1615.9"/><line x1="1061.3" y1="1640.2" x2="1061.3" y2="1662.0"/><line x1="1070.2" y1="1574.9" x2="1070.2" y2="1608.3"/><line x1="1070.2" y1="1635.1" x2="1070.2" y2="1656.9"/><line x1="1079.1" y1="1570.0" x2="1079.1" y2="1603.7"/><line x1="1079.1" y1="1631.5" x2="1079.1" y2="1653.3"/><line x1="1087.9" y1="1565.1" x2="1087.9" y2="1599.2"/><line x1="1087.9" y1="1629.0" x2="1087.9" y2="1650.7"/><line x1="1096.8" y1="1561.7" x2="1096.8" y2="1596.1"/><line x1="1096.8" y1="1626.4" x2="1096.8" y2="1648.2"/><line x1="1105.7" y1="1559.8" x2="1105.7" y2="1594.3"/><line x1="1105.7" y1="1627.1" x2="1105.7" y2="1648.9"/><line x1="1114.6" y1="1561.7" x2="1114.6" y2="1596.1"/><line x1="1114.6" y1="1629.0" x2="1114.6" y2="1650.7"/><line x1="1123.5" y1="1564.4" x2="1123.5" y2="1598.5"/><line x1="1123.5" y1="1630.4" x2="1123.5" y2="1652.2"/><line x1="1132.3" y1="1568.1" x2="1132.3" y2="1602.0"/><line x1="1132.3" y1="1631.1" x2="1132.3" y2="1652.9"/><line x1="1141.2" y1="1573.4" x2="1141.2" y2="1606.9"/><line x1="1141.2" y1="1631.5" x2="1141.2" y2="1653.3"/><line x1="1150.1" y1="1579.8" x2="1150.1" y2="1612.8"/><line x1="1150.1" y1="1631.9" x2="1150.1" y2="1653.6"/><line x1="1159.0" y1="1586.6" x2="1159.0" y2="1619.1"/><line x1="1159.0" y1="1631.9" x2="1159.0" y2="1653.6"/><line x1="1167.9" y1="1594.9" x2="1167.9" y2="1626.7"/><line x1="1167.9" y1="1631.9" x2="1167.9" y2="1653.6"/><line x1="1176.8" y1="1606.6" x2="1176.8" y2="1637.5"/><line x1="1176.8" y1="1632.2" x2="1176.8" y2="1654.0"/><line x1="1185.6" y1="1603.2" x2="1185.6" y2="1634.4"/><line x1="1185.6" y1="1631.9" x2="1185.6" y2="1653.6"/><line x1="1194.5" y1="1591.5" x2="1194.5" y2="1623.6"/><line x1="1194.5" y1="1631.1" x2="1194.5" y2="1652.9"/><line x1="1203.4" y1="1565.1" x2="1203.4" y2="1599.2"/><line x1="1203.4" y1="1630.4" x2="1203.4" y2="1652.2"/><line x1="1212.3" y1="1530.0" x2="1212.3" y2="1566.8"/><line x1="1212.3" y1="1629.0" x2="1212.3" y2="1650.7"/><line x1="1221.2" y1="1505.1" x2="1221.2" y2="1543.8"/><line x1="1221.2" y1="1628.6" x2="1221.2" y2="1650.4"/><line x1="1230.0" y1="1495.7" x2="1230.0" y2="1535.1"/><line x1="1230.0" y1="1627.9" x2="1230.0" y2="1649.6"/><line x1="1238.9" y1="1499.8" x2="1238.9" y2="1539.0"/><line x1="1238.9" y1="1629.3" x2="1238.9" y2="1651.1"/><line x1="1247.8" y1="1530.0" x2="1247.8" y2="1566.8"/><line x1="1247.8" y1="1636.6" x2="1247.8" y2="1658.3"/><line x1="1256.7" y1="1553.4" x2="1256.7" y2="1588.4"/><line x1="1256.7" y1="1637.3" x2="1256.7" y2="1659.1"/><line x1="1265.6" y1="1559.8" x2="1265.6" y2="1594.3"/><line x1="1265.6" y1="1631.1" x2="1265.6" y2="1652.9"/><line x1="1274.5" y1="1574.9" x2="1274.5" y2="1608.3"/><line x1="1274.5" y1="1631.5" x2="1274.5" y2="1653.3"/><line x1="1283.3" y1="1586.6" x2="1283.3" y2="1619.1"/><line x1="1283.3" y1="1631.9" x2="1283.3" y2="1653.6"/><line x1="1292.2" y1="1591.5" x2="1292.2" y2="1623.6"/><line x1="1292.2" y1="1632.2" x2="1292.2" y2="1654.0"/><line x1="1301.1" y1="1583.2" x2="1301.1" y2="1615.9"/><line x1="1301.1" y1="1633.0" x2="1301.1" y2="1654.7"/><line x1="1310.0" y1="1577.6" x2="1310.0" y2="1610.7"/><line x1="1310.0" y1="1634.0" x2="1310.0" y2="1655.8"/></g>
<polyline fill="none" stroke="#000" stroke-width="1.2" points="954.7,1615.5 963.6,1626.8 972.5,1647.8 981.3,1634.8 990.2,1622.1 999.1,1624.2 1008.0,1626.8 1016.9,1628.6 1025.8,1633.3 1034.6,1641.3 1043.5,1638.0 1052.4,1649.3 1061.3,1651.1 1070.2,1646.0 1079.1,1642.4 1087.9,1639.8 1096.8,1637.3 1105.7,1638.0 1114.6,1639.8 1123.5,1641.3 1132.3,1642.0 1141.2,1642.4 1150.1,1642.7 1159.0,1642.7 1167.9,1642.7 1176.8,1643.1 1185.6,1642.7 1194.5,1642.0 1203.4,1641.3 1212.3,1639.8 1221.2,1639.5 1230.0,1638.8 1238.9,1640.2 1247.8,1647.5 1256.7,1648.2 1265.6,1642.0 1274.5,1642.4 1283.3,1642.7 1292.2,1643.1 1301.1,1643.8 1310.0,1644.9"/>
<g fill="#fff" stroke="#000" stroke-width="1.3"><circle cx="954.7" cy="1615.5" r="6.6"/><circle cx="963.6" cy="1626.8" r="6.6"/><circle cx="972.5" cy="1647.8" r="6.6"/><circle cx="981.3" cy="1634.8" r="6.6"/><circle cx="990.2" cy="1622.1" r="6.6"/><circle cx="999.1" cy="1624.2" r="6.6"/><circle cx="1008.0" cy="1626.8" r="6.6"/><circle cx="1016.9" cy="1628.6" r="6.6"/><circle cx="1025.8" cy="1633.3" r="6.6"/><circle cx="1034.6" cy="1641.3" r="6.6"/><circle cx="1043.5" cy="1638.0" r="6.6"/><circle cx="1052.4" cy="1649.3" r="6.6"/><circle cx="1061.3" cy="1651.1" r="6.6"/><circle cx="1070.2" cy="1646.0" r="6.6"/><circle cx="1079.1" cy="1642.4" r="6.6"/><circle cx="1087.9" cy="1639.8" r="6.6"/><circle cx="1096.8" cy="1637.3" r="6.6"/><circle cx="1105.7" cy="1638.0" r="6.6"/><circle cx="1114.6" cy="1639.8" r="6.6"/><circle cx="1123.5" cy="1641.3" r="6.6"/><circle cx="1132.3" cy="1642.0" r="6.6"/><circle cx="1141.2" cy="1642.4" r="6.6"/><circle cx="1150.1" cy="1642.7" r="6.6"/><circle cx="1159.0" cy="1642.7" r="6.6"/><circle cx="1167.9" cy="1642.7" r="6.6"/><circle cx="1176.8" cy="1643.1" r="6.6"/><circle cx="1185.6" cy="1642.7" r="6.6"/><circle cx="1194.5" cy="1642.0" r="6.6"/><circle cx="1203.4" cy="1641.3" r="6.6"/><circle cx="1212.3" cy="1639.8" r="6.6"/><circle cx="1221.2" cy="1639.5" r="6.6"/><circle cx="1230.0" cy="1638.8" r="6.6"/><circle cx="1238.9" cy="1640.2" r="6.6"/><circle cx="1247.8" cy="1647.5" r="6.6"/><circle cx="1256.7" cy="1648.2" r="6.6"/><circle cx="1265.6" cy="1642.0" r="6.6"/><circle cx="1274.5" cy="1642.4" r="6.6"/><circle cx="1283.3" cy="1642.7" r="6.6"/><circle cx="1292.2" cy="1643.1" r="6.6"/><circle cx="1301.1" cy="1643.8" r="6.6"/><circle cx="1310.0" cy="1644.9" r="6.6"/></g>
<polyline fill="none" stroke="#000" stroke-width="1.2" points="954.7,1588.3 963.6,1592.3 972.5,1623.5 981.3,1624.2 990.2,1619.9 999.1,1628.6 1008.0,1634.8 1016.9,1631.9 1025.8,1630.0 1034.6,1630.0 1043.5,1622.1 1052.4,1607.6 1061.3,1599.6 1070.2,1591.6 1079.1,1586.9 1087.9,1582.2 1096.8,1578.9 1105.7,1577.1 1114.6,1578.9 1123.5,1581.4 1132.3,1585.1 1141.2,1590.1 1150.1,1596.3 1159.0,1602.8 1167.9,1610.8 1176.8,1622.1 1185.6,1618.8 1194.5,1607.6 1203.4,1582.2 1212.3,1548.4 1221.2,1524.5 1230.0,1515.4 1238.9,1519.4 1247.8,1548.4 1256.7,1570.9 1265.6,1577.1 1274.5,1591.6 1283.3,1602.8 1292.2,1607.6 1301.1,1599.6 1310.0,1594.1"/>
<g fill="#000"><circle cx="954.7" cy="1588.3" r="7"/><circle cx="963.6" cy="1592.3" r="7"/><circle cx="972.5" cy="1623.5" r="7"/><circle cx="981.3" cy="1624.2" r="7"/><circle cx="990.2" cy="1619.9" r="7"/><circle cx="999.1" cy="1628.6" r="7"/><circle cx="1008.0" cy="1634.8" r="7"/><circle cx="1016.9" cy="1631.9" r="7"/><circle cx="1025.8" cy="1630.0" r="7"/><circle cx="1034.6" cy="1630.0" r="7"/><circle cx="1043.5" cy="1622.1" r="7"/><circle cx="1052.4" cy="1607.6" r="7"/><circle cx="1061.3" cy="1599.6" r="7"/><circle cx="1070.2" cy="1591.6" r="7"/><circle cx="1079.1" cy="1586.9" r="7"/><circle cx="1087.9" cy="1582.2" r="7"/><circle cx="1096.8" cy="1578.9" r="7"/><circle cx="1105.7" cy="1577.1" r="7"/><circle cx="1114.6" cy="1578.9" r="7"/><circle cx="1123.5" cy="1581.4" r="7"/><circle cx="1132.3" cy="1585.1" r="7"/><circle cx="1141.2" cy="1590.1" r="7"/><circle cx="1150.1" cy="1596.3" r="7"/><circle cx="1159.0" cy="1602.8" r="7"/><circle cx="1167.9" cy="1610.8" r="7"/><circle cx="1176.8" cy="1622.1" r="7"/><circle cx="1185.6" cy="1618.8" r="7"/><circle cx="1194.5" cy="1607.6" r="7"/><circle cx="1203.4" cy="1582.2" r="7"/><circle cx="1212.3" cy="1548.4" r="7"/><circle cx="1221.2" cy="1524.5" r="7"/><circle cx="1230.0" cy="1515.4" r="7"/><circle cx="1238.9" cy="1519.4" r="7"/><circle cx="1247.8" cy="1548.4" r="7"/><circle cx="1256.7" cy="1570.9" r="7"/><circle cx="1265.6" cy="1577.1" r="7"/><circle cx="1274.5" cy="1591.6" r="7"/><circle cx="1283.3" cy="1602.8" r="7"/><circle cx="1292.2" cy="1607.6" r="7"/><circle cx="1301.1" cy="1599.6" r="7"/><circle cx="1310.0" cy="1594.1" r="7"/></g>
<line x1="1430.20" y1="1328.00" x2="1430.20" y2="1690.40" stroke="#000" stroke-width="3.4" stroke-linecap="butt"/>
<line x1="1418.80" y1="1690.40" x2="1558.00" y2="1690.40" stroke="#000" stroke-width="3.4" stroke-linecap="butt"/>
<line x1="1418.80" y1="1690.40" x2="1430.20" y2="1690.40" stroke="#000" stroke-width="3.4" stroke-linecap="butt"/>
<line x1="1422.50" y1="1654.16" x2="1430.20" y2="1654.16" stroke="#000" stroke-width="3.4" stroke-linecap="butt"/>
<line x1="1422.50" y1="1617.92" x2="1430.20" y2="1617.92" stroke="#000" stroke-width="3.4" stroke-linecap="butt"/>
<line x1="1422.50" y1="1581.68" x2="1430.20" y2="1581.68" stroke="#000" stroke-width="3.4" stroke-linecap="butt"/>
<line x1="1422.50" y1="1545.44" x2="1430.20" y2="1545.44" stroke="#000" stroke-width="3.4" stroke-linecap="butt"/>
<line x1="1418.80" y1="1509.20" x2="1430.20" y2="1509.20" stroke="#000" stroke-width="3.4" stroke-linecap="butt"/>
<line x1="1422.50" y1="1472.96" x2="1430.20" y2="1472.96" stroke="#000" stroke-width="3.4" stroke-linecap="butt"/>
<line x1="1422.50" y1="1436.72" x2="1430.20" y2="1436.72" stroke="#000" stroke-width="3.4" stroke-linecap="butt"/>
<line x1="1422.50" y1="1400.48" x2="1430.20" y2="1400.48" stroke="#000" stroke-width="3.4" stroke-linecap="butt"/>
<line x1="1422.50" y1="1364.24" x2="1430.20" y2="1364.24" stroke="#000" stroke-width="3.4" stroke-linecap="butt"/>
<line x1="1418.80" y1="1328.00" x2="1430.20" y2="1328.00" stroke="#000" stroke-width="3.4" stroke-linecap="butt"/>
<text transform="translate(1381.10,1336.47)" font-family="'Liberation Sans', sans-serif" font-weight="bold" fill="#000"><tspan x="0.00" y="0.00" font-size="26.00">1.0</tspan></text>
<text transform="translate(1380.71,1517.67)" font-family="'Liberation Sans', sans-serif" font-weight="bold" fill="#000"><tspan x="0.00" y="0.00" font-size="26.00">0.5</tspan></text>
<text transform="translate(1381.10,1698.87)" font-family="'Liberation Sans', sans-serif" font-weight="bold" fill="#000"><tspan x="0.00" y="0.00" font-size="26.00">0.0</tspan></text>
<line x1="1461.40" y1="1690.40" x2="1461.40" y2="1702.80" stroke="#000" stroke-width="3.4" stroke-linecap="butt"/>
<line x1="1524.70" y1="1690.40" x2="1524.70" y2="1702.80" stroke="#000" stroke-width="3.4" stroke-linecap="butt"/>
<text transform="translate(1459.27,1368.46) scale(1.0000,1)" font-family="'Liberation Sans', sans-serif" font-weight="normal" fill="#000"><tspan x="0.00" y="0.00" font-size="48.46">***</tspan></text>
<g stroke="#000" stroke-width="1"><line x1="1461.4" y1="1498.3" x2="1524.7" y2="1417.3"/><line x1="1461.4" y1="1552.3" x2="1524.7" y2="1466.1"/><line x1="1461.4" y1="1575.1" x2="1524.7" y2="1551.3"/><line x1="1461.4" y1="1603.2" x2="1524.7" y2="1377.9"/><line x1="1461.4" y1="1638.5" x2="1524.7" y2="1454.7"/><line x1="1461.4" y1="1645" x2="1524.7" y2="1390.3"/><line x1="1461.4" y1="1653" x2="1524.7" y2="1458.8"/><line x1="1461.4" y1="1660" x2="1524.7" y2="1497.3"/><line x1="1461.4" y1="1668.6" x2="1524.7" y2="1518"/><line x1="1461.4" y1="1672" x2="1524.7" y2="1568.9"/><line x1="1461.4" y1="1677.9" x2="1524.7" y2="1585.5"/><line x1="1461.4" y1="1681" x2="1524.7" y2="1591.7"/><line x1="1461.4" y1="1684.1" x2="1524.7" y2="1614.6"/><line x1="1461.4" y1="1686" x2="1524.7" y2="1657.1"/></g>
<circle cx="1461.4" cy="1686.0" r="7.2" fill="#fff" stroke="#000" stroke-width="1.3"/>
<circle cx="1461.4" cy="1684.1" r="7.2" fill="#fff" stroke="#000" stroke-width="1.3"/>
<circle cx="1461.4" cy="1681.0" r="7.2" fill="#fff" stroke="#000" stroke-width="1.3"/>
<circle cx="1461.4" cy="1677.9" r="7.2" fill="#fff" stroke="#000" stroke-width="1.3"/>
<circle cx="1461.4" cy="1672.0" r="7.2" fill="#fff" stroke="#000" stroke-width="1.3"/>
<circle cx="1461.4" cy="1668.6" r="7.2" fill="#fff" stroke="#000" stroke-width="1.3"/>
<circle cx="1461.4" cy="1660.0" r="7.2" fill="#fff" stroke="#000" stroke-width="1.3"/>
<circle cx="1461.4" cy="1653.0" r="7.2" fill="#fff" stroke="#000" stroke-width="1.3"/>
<circle cx="1461.4" cy="1645.0" r="7.2" fill="#fff" stroke="#000" stroke-width="1.3"/>
<circle cx="1461.4" cy="1638.5" r="7.2" fill="#fff" stroke="#000" stroke-width="1.3"/>
<circle cx="1461.4" cy="1603.2" r="7.2" fill="#fff" stroke="#000" stroke-width="1.3"/>
<circle cx="1461.4" cy="1575.1" r="7.2" fill="#fff" stroke="#000" stroke-width="1.3"/>
<circle cx="1461.4" cy="1552.3" r="7.2" fill="#fff" stroke="#000" stroke-width="1.3"/>
<circle cx="1461.4" cy="1498.3" r="7.2" fill="#fff" stroke="#000" stroke-width="1.3"/>
<circle cx="1524.7" cy="1417.3" r="7.2" fill="#000" stroke="none" stroke-width="0"/>
<circle cx="1524.7" cy="1466.1" r="7.2" fill="#000" stroke="none" stroke-width="0"/>
<circle cx="1524.7" cy="1551.3" r="7.2" fill="#000" stroke="none" stroke-width="0"/>
<circle cx="1524.7" cy="1377.9" r="7.2" fill="#000" stroke="none" stroke-width="0"/>
<circle cx="1524.7" cy="1454.7" r="7.2" fill="#000" stroke="none" stroke-width="0"/>
<circle cx="1524.7" cy="1390.3" r="7.2" fill="#000" stroke="none" stroke-width="0"/>
<circle cx="1524.7" cy="1458.8" r="7.2" fill="#000" stroke="none" stroke-width="0"/>
<circle cx="1524.7" cy="1497.3" r="7.2" fill="#000" stroke="none" stroke-width="0"/>
<circle cx="1524.7" cy="1518.0" r="7.2" fill="#000" stroke="none" stroke-width="0"/>
<circle cx="1524.7" cy="1568.9" r="7.2" fill="#000" stroke="none" stroke-width="0"/>
<circle cx="1524.7" cy="1585.5" r="7.2" fill="#000" stroke="none" stroke-width="0"/>
<circle cx="1524.7" cy="1591.7" r="7.2" fill="#000" stroke="none" stroke-width="0"/>
<circle cx="1524.7" cy="1614.6" r="7.2" fill="#000" stroke="none" stroke-width="0"/>
<circle cx="1524.7" cy="1657.1" r="7.2" fill="#000" stroke="none" stroke-width="0"/>
<circle cx="1524.7" cy="1659.2" r="7.2" fill="#000" stroke="none" stroke-width="0"/>
<text transform="translate(1450.00,1735.50) rotate(-45) translate(-17.06,8.62) scale(1.0,1)" font-family="'Liberation Sans', sans-serif" font-weight="bold" fill="#000"><tspan x="0.00" y="0.00" font-size="25.00">BL</tspan></text>
<text transform="translate(1494.30,1757.60) rotate(-45) translate(-40.81,8.62) scale(1.0,1)" font-family="'Liberation Sans', sans-serif" font-weight="bold" fill="#000"><tspan x="0.00" y="0.00" font-size="25.00">MK801</tspan></text>
<text transform="translate(-3.21,1893.18) scale(1.0000,1)" font-family="'Liberation Sans', sans-serif" font-weight="bold" fill="#000"><tspan x="0.00" y="0.00" font-size="61.67">F1</tspan></text>
<text transform="translate(171.46,1901.66) scale(1.0000,1)" font-family="'Liberation Sans', sans-serif" font-weight="bold" fill="#000"><tspan x="0.00" y="0.00" font-size="45.29">Modulation (post MK801)</tspan></text>
<text transform="translate(182.46,1974.79) scale(1.0000,1)" font-family="'Liberation Sans', sans-serif" font-weight="bold" fill="#000"><tspan x="0.00" y="0.00" font-size="46.35">OB</tspan></text>
<text transform="translate(418.37,1971.97) scale(1.0000,1)" font-family="'Liberation Sans', sans-serif" font-weight="bold" fill="#000"><tspan x="0.00" y="0.00" font-size="44.40">PC</tspan></text>
<text transform="translate(600.83,1973.31) scale(1.0000,1)" font-family="'Liberation Sans', sans-serif" font-weight="bold" fill="#000"><tspan x="0.00" y="0.00" font-size="44.37">OB-PC</tspan></text>
<text transform="translate(740.93,2015.60) scale(1.0000,1)" font-family="'Liberation Sans', sans-serif" font-weight="bold" fill="#000"><tspan x="0.00" y="0.00" font-size="30.57">MI</tspan></text>
<defs><linearGradient id="hOB0"><stop offset="0.000" stop-color="#375a8c"/><stop offset="0.012" stop-color="#3b528b"/><stop offset="0.035" stop-color="#46337f"/><stop offset="0.058" stop-color="#46327e"/><stop offset="0.156" stop-color="#34608d"/><stop offset="0.202" stop-color="#2f6b8e"/><stop offset="0.254" stop-color="#33628d"/><stop offset="0.364" stop-color="#46307e"/><stop offset="0.451" stop-color="#482374"/><stop offset="0.509" stop-color="#482979"/><stop offset="0.590" stop-color="#3f4788"/><stop offset="0.630" stop-color="#424086"/><stop offset="0.705" stop-color="#481b6d"/><stop offset="0.775" stop-color="#471063"/><stop offset="0.983" stop-color="#470e61"/><stop offset="1.000" stop-color="#471063"/></linearGradient><linearGradient id="hOB1"><stop offset="0.000" stop-color="#375a8c"/><stop offset="0.012" stop-color="#3b528b"/><stop offset="0.035" stop-color="#453581"/><stop offset="0.052" stop-color="#46337f"/><stop offset="0.116" stop-color="#3b518b"/><stop offset="0.179" stop-color="#2d708e"/><stop offset="0.231" stop-color="#2d708e"/><stop offset="0.289" stop-color="#39568c"/><stop offset="0.364" stop-color="#46337f"/><stop offset="0.445" stop-color="#482475"/><stop offset="0.503" stop-color="#482878"/><stop offset="0.590" stop-color="#3f4788"/><stop offset="0.630" stop-color="#424086"/><stop offset="0.705" stop-color="#481b6d"/><stop offset="0.786" stop-color="#471063"/><stop offset="1.000" stop-color="#471063"/></linearGradient><linearGradient id="hOB2"><stop offset="0.000" stop-color="#375b8d"/><stop offset="0.012" stop-color="#3a538b"/><stop offset="0.035" stop-color="#453781"/><stop offset="0.058" stop-color="#453781"/><stop offset="0.150" stop-color="#2f6b8e"/><stop offset="0.197" stop-color="#297a8e"/><stop offset="0.237" stop-color="#2a768e"/><stop offset="0.306" stop-color="#3b528b"/><stop offset="0.376" stop-color="#46307e"/><stop offset="0.457" stop-color="#482475"/><stop offset="0.514" stop-color="#472c7a"/><stop offset="0.590" stop-color="#3f4788"/><stop offset="0.630" stop-color="#424086"/><stop offset="0.711" stop-color="#481a6c"/><stop offset="0.792" stop-color="#471063"/><stop offset="1.000" stop-color="#471063"/></linearGradient><linearGradient id="hOB3"><stop offset="0.000" stop-color="#375b8d"/><stop offset="0.012" stop-color="#3a538b"/><stop offset="0.035" stop-color="#453882"/><stop offset="0.052" stop-color="#453781"/><stop offset="0.116" stop-color="#365c8d"/><stop offset="0.179" stop-color="#277f8e"/><stop offset="0.220" stop-color="#26828e"/><stop offset="0.266" stop-color="#2d708e"/><stop offset="0.358" stop-color="#443983"/><stop offset="0.439" stop-color="#482576"/><stop offset="0.503" stop-color="#482979"/><stop offset="0.590" stop-color="#3f4788"/><stop offset="0.630" stop-color="#424086"/><stop offset="0.711" stop-color="#481a6c"/><stop offset="0.792" stop-color="#471063"/><stop offset="1.000" stop-color="#471063"/></linearGradient><linearGradient id="hOB4"><stop offset="0.000" stop-color="#375b8d"/><stop offset="0.012" stop-color="#3a548c"/><stop offset="0.035" stop-color="#443983"/><stop offset="0.058" stop-color="#443b84"/><stop offset="0.145" stop-color="#2b758e"/><stop offset="0.191" stop-color="#228b8d"/><stop offset="0.231" stop-color="#23888e"/><stop offset="0.283" stop-color="#2f6c8e"/><stop offset="0.358" stop-color="#443b84"/><stop offset="0.428" stop-color="#482878"/><stop offset="0.497" stop-color="#482878"/><stop offset="0.590" stop-color="#3f4788"/><stop offset="0.630" stop-color="#424086"/><stop offset="0.711" stop-color="#481a6c"/><stop offset="0.792" stop-color="#471063"/><stop offset="1.000" stop-color="#471063"/></linearGradient><linearGradient id="hOB5"><stop offset="0.000" stop-color="#365c8d"/><stop offset="0.012" stop-color="#39558c"/><stop offset="0.035" stop-color="#443b84"/><stop offset="0.052" stop-color="#443b84"/><stop offset="0.104" stop-color="#365d8d"/><stop offset="0.173" stop-color="#218e8d"/><stop offset="0.214" stop-color="#1f958b"/><stop offset="0.254" stop-color="#25858e"/><stop offset="0.347" stop-color="#404588"/><stop offset="0.410" stop-color="#472c7a"/><stop offset="0.480" stop-color="#482677"/><stop offset="0.532" stop-color="#46337f"/><stop offset="0.584" stop-color="#3f4788"/><stop offset="0.624" stop-color="#414287"/><stop offset="0.717" stop-color="#48186a"/><stop offset="0.809" stop-color="#471063"/><stop offset="1.000" stop-color="#471063"/></linearGradient><linearGradient id="hOB6"><stop offset="0.000" stop-color="#365c8d"/><stop offset="0.012" stop-color="#39558c"/><stop offset="0.029" stop-color="#424086"/><stop offset="0.046" stop-color="#443b84"/><stop offset="0.092" stop-color="#38598c"/><stop offset="0.168" stop-color="#20938c"/><stop offset="0.208" stop-color="#1f9f88"/><stop offset="0.243" stop-color="#1f948c"/><stop offset="0.329" stop-color="#3a538b"/><stop offset="0.382" stop-color="#453581"/><stop offset="0.451" stop-color="#482677"/><stop offset="0.503" stop-color="#472a7a"/><stop offset="0.584" stop-color="#3f4788"/><stop offset="0.618" stop-color="#404588"/><stop offset="0.694" stop-color="#482071"/><stop offset="0.751" stop-color="#471365"/><stop offset="0.971" stop-color="#471063"/><stop offset="1.000" stop-color="#471164"/></linearGradient><linearGradient id="hOB7"><stop offset="0.000" stop-color="#365d8d"/><stop offset="0.012" stop-color="#39568c"/><stop offset="0.029" stop-color="#424186"/><stop offset="0.046" stop-color="#433e85"/><stop offset="0.087" stop-color="#38588c"/><stop offset="0.156" stop-color="#20938c"/><stop offset="0.191" stop-color="#21a685"/><stop offset="0.220" stop-color="#22a785"/><stop offset="0.260" stop-color="#20928c"/><stop offset="0.341" stop-color="#3d4e8a"/><stop offset="0.393" stop-color="#46337f"/><stop offset="0.462" stop-color="#482677"/><stop offset="0.514" stop-color="#472e7c"/><stop offset="0.590" stop-color="#3f4889"/><stop offset="0.630" stop-color="#424086"/><stop offset="0.711" stop-color="#481b6d"/><stop offset="0.780" stop-color="#471164"/><stop offset="1.000" stop-color="#471164"/></linearGradient><linearGradient id="hOB8"><stop offset="0.000" stop-color="#365d8d"/><stop offset="0.012" stop-color="#39568c"/><stop offset="0.029" stop-color="#414287"/><stop offset="0.046" stop-color="#424086"/><stop offset="0.087" stop-color="#365c8d"/><stop offset="0.150" stop-color="#1f978b"/><stop offset="0.185" stop-color="#27ad81"/><stop offset="0.214" stop-color="#2cb17e"/><stop offset="0.249" stop-color="#1fa287"/><stop offset="0.283" stop-color="#25848e"/><stop offset="0.347" stop-color="#3d4d8a"/><stop offset="0.399" stop-color="#46337f"/><stop offset="0.468" stop-color="#482677"/><stop offset="0.520" stop-color="#472f7d"/><stop offset="0.590" stop-color="#3f4889"/><stop offset="0.630" stop-color="#424086"/><stop offset="0.711" stop-color="#481b6d"/><stop offset="0.792" stop-color="#471164"/><stop offset="1.000" stop-color="#471164"/></linearGradient><linearGradient id="hOB9"><stop offset="0.000" stop-color="#365d8d"/><stop offset="0.017" stop-color="#3b518b"/><stop offset="0.035" stop-color="#424186"/><stop offset="0.052" stop-color="#404588"/><stop offset="0.098" stop-color="#2f6b8e"/><stop offset="0.150" stop-color="#1f9f88"/><stop offset="0.185" stop-color="#34b679"/><stop offset="0.208" stop-color="#3bbb75"/><stop offset="0.237" stop-color="#2db27d"/><stop offset="0.260" stop-color="#1fa188"/><stop offset="0.301" stop-color="#29798e"/><stop offset="0.358" stop-color="#3f4889"/><stop offset="0.405" stop-color="#46327e"/><stop offset="0.468" stop-color="#482878"/><stop offset="0.526" stop-color="#46327e"/><stop offset="0.584" stop-color="#3f4788"/><stop offset="0.624" stop-color="#414487"/><stop offset="0.711" stop-color="#481b6d"/><stop offset="0.792" stop-color="#471164"/><stop offset="1.000" stop-color="#471164"/></linearGradient><linearGradient id="hOB10"><stop offset="0.000" stop-color="#355e8d"/><stop offset="0.012" stop-color="#38598c"/><stop offset="0.029" stop-color="#404688"/><stop offset="0.046" stop-color="#414487"/><stop offset="0.092" stop-color="#30698e"/><stop offset="0.139" stop-color="#1f9a8a"/><stop offset="0.156" stop-color="#25ac82"/><stop offset="0.191" stop-color="#4ac16d"/><stop offset="0.208" stop-color="#50c46a"/><stop offset="0.225" stop-color="#46c06f"/><stop offset="0.260" stop-color="#23a983"/><stop offset="0.277" stop-color="#1f978b"/><stop offset="0.341" stop-color="#38588c"/><stop offset="0.387" stop-color="#443a83"/><stop offset="0.445" stop-color="#472a7a"/><stop offset="0.497" stop-color="#472a7a"/><stop offset="0.590" stop-color="#3f4889"/><stop offset="0.630" stop-color="#424186"/><stop offset="0.711" stop-color="#481b6d"/><stop offset="0.803" stop-color="#471164"/><stop offset="1.000" stop-color="#471365"/></linearGradient><linearGradient id="hOB11"><stop offset="0.000" stop-color="#355e8d"/><stop offset="0.017" stop-color="#3b528b"/><stop offset="0.035" stop-color="#414487"/><stop offset="0.058" stop-color="#3d4d8a"/><stop offset="0.116" stop-color="#24868e"/><stop offset="0.139" stop-color="#1fa188"/><stop offset="0.156" stop-color="#2eb37c"/><stop offset="0.185" stop-color="#58c765"/><stop offset="0.202" stop-color="#65cb5e"/><stop offset="0.220" stop-color="#60ca60"/><stop offset="0.254" stop-color="#32b67a"/><stop offset="0.272" stop-color="#20a386"/><stop offset="0.295" stop-color="#23898e"/><stop offset="0.353" stop-color="#3b518b"/><stop offset="0.399" stop-color="#453781"/><stop offset="0.462" stop-color="#482979"/><stop offset="0.514" stop-color="#472f7d"/><stop offset="0.584" stop-color="#3f4889"/><stop offset="0.624" stop-color="#414487"/><stop offset="0.717" stop-color="#481a6c"/><stop offset="0.827" stop-color="#471164"/><stop offset="1.000" stop-color="#471365"/></linearGradient><linearGradient id="hOB12"><stop offset="0.000" stop-color="#355e8d"/><stop offset="0.012" stop-color="#375a8c"/><stop offset="0.029" stop-color="#3f4889"/><stop offset="0.046" stop-color="#3f4788"/><stop offset="0.087" stop-color="#306a8e"/><stop offset="0.127" stop-color="#1f998a"/><stop offset="0.139" stop-color="#22a785"/><stop offset="0.156" stop-color="#3bbb75"/><stop offset="0.185" stop-color="#6ece58"/><stop offset="0.208" stop-color="#7cd250"/><stop offset="0.225" stop-color="#70cf57"/><stop offset="0.260" stop-color="#35b779"/><stop offset="0.277" stop-color="#20a386"/><stop offset="0.301" stop-color="#24878e"/><stop offset="0.353" stop-color="#3a538b"/><stop offset="0.393" stop-color="#443a83"/><stop offset="0.451" stop-color="#472a7a"/><stop offset="0.503" stop-color="#472c7a"/><stop offset="0.584" stop-color="#3f4889"/><stop offset="0.618" stop-color="#404688"/><stop offset="0.711" stop-color="#481c6e"/><stop offset="0.792" stop-color="#471365"/><stop offset="1.000" stop-color="#471365"/></linearGradient><linearGradient id="hOB13"><stop offset="0.000" stop-color="#355f8d"/><stop offset="0.017" stop-color="#3a548c"/><stop offset="0.035" stop-color="#3f4788"/><stop offset="0.058" stop-color="#3b518b"/><stop offset="0.110" stop-color="#23888e"/><stop offset="0.127" stop-color="#1f9f88"/><stop offset="0.139" stop-color="#27ad81"/><stop offset="0.156" stop-color="#48c16e"/><stop offset="0.185" stop-color="#84d44b"/><stop offset="0.202" stop-color="#93d741"/><stop offset="0.220" stop-color="#8bd646"/><stop offset="0.231" stop-color="#7cd250"/><stop offset="0.266" stop-color="#35b779"/><stop offset="0.277" stop-color="#23a983"/><stop offset="0.295" stop-color="#20938c"/><stop offset="0.347" stop-color="#375b8d"/><stop offset="0.393" stop-color="#443b84"/><stop offset="0.451" stop-color="#472a7a"/><stop offset="0.503" stop-color="#472d7b"/><stop offset="0.590" stop-color="#3e4989"/><stop offset="0.630" stop-color="#424186"/><stop offset="0.711" stop-color="#481c6e"/><stop offset="0.798" stop-color="#471365"/><stop offset="1.000" stop-color="#471365"/></linearGradient><linearGradient id="hOB14"><stop offset="0.000" stop-color="#355f8d"/><stop offset="0.012" stop-color="#375b8d"/><stop offset="0.035" stop-color="#3f4889"/><stop offset="0.052" stop-color="#3c4f8a"/><stop offset="0.098" stop-color="#277e8e"/><stop offset="0.121" stop-color="#1e9c89"/><stop offset="0.133" stop-color="#25ac82"/><stop offset="0.150" stop-color="#48c16e"/><stop offset="0.173" stop-color="#81d34d"/><stop offset="0.191" stop-color="#a0da39"/><stop offset="0.208" stop-color="#aadc32"/><stop offset="0.225" stop-color="#9bd93c"/><stop offset="0.237" stop-color="#86d549"/><stop offset="0.272" stop-color="#34b679"/><stop offset="0.283" stop-color="#22a785"/><stop offset="0.301" stop-color="#21918c"/><stop offset="0.347" stop-color="#365d8d"/><stop offset="0.393" stop-color="#433d84"/><stop offset="0.445" stop-color="#472c7a"/><stop offset="0.503" stop-color="#472d7b"/><stop offset="0.590" stop-color="#3e4989"/><stop offset="0.630" stop-color="#424186"/><stop offset="0.717" stop-color="#481b6d"/><stop offset="0.827" stop-color="#471365"/><stop offset="1.000" stop-color="#481467"/></linearGradient><linearGradient id="hOB15"><stop offset="0.000" stop-color="#355f8d"/><stop offset="0.012" stop-color="#375b8d"/><stop offset="0.035" stop-color="#3e4989"/><stop offset="0.058" stop-color="#39558c"/><stop offset="0.104" stop-color="#23888e"/><stop offset="0.121" stop-color="#1fa188"/><stop offset="0.133" stop-color="#2ab07f"/><stop offset="0.150" stop-color="#54c568"/><stop offset="0.173" stop-color="#95d840"/><stop offset="0.191" stop-color="#b5de2b"/><stop offset="0.208" stop-color="#c0df25"/><stop offset="0.225" stop-color="#b0dd2f"/><stop offset="0.249" stop-color="#7cd250"/><stop offset="0.272" stop-color="#3bbb75"/><stop offset="0.283" stop-color="#25ac82"/><stop offset="0.295" stop-color="#1e9c89"/><stop offset="0.341" stop-color="#32658e"/><stop offset="0.387" stop-color="#424086"/><stop offset="0.439" stop-color="#472e7c"/><stop offset="0.497" stop-color="#472c7a"/><stop offset="0.590" stop-color="#3e4989"/><stop offset="0.630" stop-color="#414287"/><stop offset="0.711" stop-color="#481c6e"/><stop offset="0.798" stop-color="#481467"/><stop offset="1.000" stop-color="#481467"/></linearGradient><linearGradient id="hOB16"><stop offset="0.000" stop-color="#355f8d"/><stop offset="0.012" stop-color="#365c8d"/><stop offset="0.029" stop-color="#3d4d8a"/><stop offset="0.046" stop-color="#3d4e8a"/><stop offset="0.081" stop-color="#2e6f8e"/><stop offset="0.116" stop-color="#1e9c89"/><stop offset="0.127" stop-color="#26ad81"/><stop offset="0.139" stop-color="#3fbc73"/><stop offset="0.168" stop-color="#95d840"/><stop offset="0.185" stop-color="#c0df25"/><stop offset="0.202" stop-color="#d2e21b"/><stop offset="0.220" stop-color="#cae11f"/><stop offset="0.237" stop-color="#aadc32"/><stop offset="0.266" stop-color="#56c667"/><stop offset="0.277" stop-color="#37b878"/><stop offset="0.289" stop-color="#22a884"/><stop offset="0.301" stop-color="#1f988b"/><stop offset="0.341" stop-color="#31678e"/><stop offset="0.387" stop-color="#424186"/><stop offset="0.445" stop-color="#472d7b"/><stop offset="0.503" stop-color="#472d7b"/><stop offset="0.590" stop-color="#3e4989"/><stop offset="0.630" stop-color="#414287"/><stop offset="0.705" stop-color="#481f70"/><stop offset="0.775" stop-color="#481668"/><stop offset="1.000" stop-color="#481467"/></linearGradient><linearGradient id="hOB17"><stop offset="0.000" stop-color="#355f8d"/><stop offset="0.017" stop-color="#39568c"/><stop offset="0.035" stop-color="#3e4c8a"/><stop offset="0.058" stop-color="#38588c"/><stop offset="0.104" stop-color="#218f8d"/><stop offset="0.116" stop-color="#1f9f88"/><stop offset="0.127" stop-color="#2ab07f"/><stop offset="0.145" stop-color="#58c765"/><stop offset="0.168" stop-color="#a5db36"/><stop offset="0.185" stop-color="#d0e11c"/><stop offset="0.202" stop-color="#e2e418"/><stop offset="0.220" stop-color="#dae319"/><stop offset="0.237" stop-color="#bade28"/><stop offset="0.266" stop-color="#60ca60"/><stop offset="0.283" stop-color="#2fb47c"/><stop offset="0.295" stop-color="#20a386"/><stop offset="0.318" stop-color="#25838e"/><stop offset="0.358" stop-color="#38588c"/><stop offset="0.405" stop-color="#443983"/><stop offset="0.474" stop-color="#472a7a"/><stop offset="0.532" stop-color="#453781"/><stop offset="0.590" stop-color="#3e4989"/><stop offset="0.630" stop-color="#414287"/><stop offset="0.705" stop-color="#481f70"/><stop offset="0.775" stop-color="#481668"/><stop offset="1.000" stop-color="#481668"/></linearGradient><linearGradient id="hOB18"><stop offset="0.000" stop-color="#34608d"/><stop offset="0.017" stop-color="#39568c"/><stop offset="0.035" stop-color="#3d4d8a"/><stop offset="0.052" stop-color="#3a548c"/><stop offset="0.098" stop-color="#23888e"/><stop offset="0.116" stop-color="#1fa187"/><stop offset="0.127" stop-color="#2eb37c"/><stop offset="0.145" stop-color="#60ca60"/><stop offset="0.173" stop-color="#c2df23"/><stop offset="0.185" stop-color="#dde318"/><stop offset="0.197" stop-color="#ece51b"/><stop offset="0.214" stop-color="#ece51b"/><stop offset="0.231" stop-color="#d5e21a"/><stop offset="0.243" stop-color="#b8de29"/><stop offset="0.272" stop-color="#56c667"/><stop offset="0.283" stop-color="#34b679"/><stop offset="0.295" stop-color="#21a685"/><stop offset="0.312" stop-color="#228d8d"/><stop offset="0.353" stop-color="#355e8d"/><stop offset="0.399" stop-color="#433d84"/><stop offset="0.457" stop-color="#472d7b"/><stop offset="0.509" stop-color="#472f7d"/><stop offset="0.590" stop-color="#3e4989"/><stop offset="0.630" stop-color="#414287"/><stop offset="0.711" stop-color="#481d6f"/><stop offset="0.798" stop-color="#481668"/><stop offset="1.000" stop-color="#481668"/></linearGradient><linearGradient id="hOB19"><stop offset="0.000" stop-color="#34608d"/><stop offset="0.012" stop-color="#365c8d"/><stop offset="0.035" stop-color="#3d4d8a"/><stop offset="0.058" stop-color="#375b8d"/><stop offset="0.098" stop-color="#238a8d"/><stop offset="0.116" stop-color="#20a486"/><stop offset="0.127" stop-color="#32b67a"/><stop offset="0.139" stop-color="#54c568"/><stop offset="0.162" stop-color="#a8db34"/><stop offset="0.173" stop-color="#cae11f"/><stop offset="0.185" stop-color="#e7e419"/><stop offset="0.197" stop-color="#f6e620"/><stop offset="0.214" stop-color="#f6e620"/><stop offset="0.231" stop-color="#dfe318"/><stop offset="0.243" stop-color="#c0df25"/><stop offset="0.266" stop-color="#70cf57"/><stop offset="0.277" stop-color="#48c16e"/><stop offset="0.289" stop-color="#2ab07f"/><stop offset="0.301" stop-color="#1fa088"/><stop offset="0.335" stop-color="#2c718e"/><stop offset="0.382" stop-color="#3f4788"/><stop offset="0.434" stop-color="#46307e"/><stop offset="0.486" stop-color="#472c7a"/><stop offset="0.543" stop-color="#443b84"/><stop offset="0.595" stop-color="#3e4a89"/><stop offset="0.642" stop-color="#433e85"/><stop offset="0.717" stop-color="#481c6e"/><stop offset="0.815" stop-color="#481668"/><stop offset="1.000" stop-color="#481668"/></linearGradient><linearGradient id="hOB20"><stop offset="0.000" stop-color="#34608d"/><stop offset="0.017" stop-color="#38588c"/><stop offset="0.035" stop-color="#3d4e8a"/><stop offset="0.052" stop-color="#39558c"/><stop offset="0.098" stop-color="#228b8d"/><stop offset="0.116" stop-color="#21a585"/><stop offset="0.127" stop-color="#35b779"/><stop offset="0.139" stop-color="#58c765"/><stop offset="0.162" stop-color="#addc30"/><stop offset="0.173" stop-color="#d2e21b"/><stop offset="0.185" stop-color="#ece51b"/><stop offset="0.197" stop-color="#fbe723"/><stop offset="0.214" stop-color="#fde725"/><stop offset="0.225" stop-color="#f1e51d"/><stop offset="0.237" stop-color="#d8e219"/><stop offset="0.249" stop-color="#b5de2b"/><stop offset="0.272" stop-color="#60ca60"/><stop offset="0.283" stop-color="#3bbb75"/><stop offset="0.295" stop-color="#24aa83"/><stop offset="0.306" stop-color="#1f988b"/><stop offset="0.353" stop-color="#34608d"/><stop offset="0.399" stop-color="#433e85"/><stop offset="0.457" stop-color="#472d7b"/><stop offset="0.509" stop-color="#472f7d"/><stop offset="0.590" stop-color="#3e4a89"/><stop offset="0.630" stop-color="#414287"/><stop offset="0.717" stop-color="#481c6e"/><stop offset="0.832" stop-color="#481668"/><stop offset="1.000" stop-color="#481668"/></linearGradient><linearGradient id="hOB21"><stop offset="0.000" stop-color="#355f8d"/><stop offset="0.017" stop-color="#38588c"/><stop offset="0.035" stop-color="#3d4e8a"/><stop offset="0.058" stop-color="#365c8d"/><stop offset="0.098" stop-color="#228c8d"/><stop offset="0.116" stop-color="#21a685"/><stop offset="0.127" stop-color="#37b878"/><stop offset="0.139" stop-color="#5ac864"/><stop offset="0.162" stop-color="#b2dd2d"/><stop offset="0.173" stop-color="#d8e219"/><stop offset="0.185" stop-color="#f1e51d"/><stop offset="0.197" stop-color="#fde725"/><stop offset="0.220" stop-color="#fbe723"/><stop offset="0.237" stop-color="#dde318"/><stop offset="0.249" stop-color="#b8de29"/><stop offset="0.277" stop-color="#50c46a"/><stop offset="0.289" stop-color="#2eb37c"/><stop offset="0.301" stop-color="#1fa187"/><stop offset="0.335" stop-color="#2c728e"/><stop offset="0.382" stop-color="#3f4889"/><stop offset="0.434" stop-color="#46327e"/><stop offset="0.486" stop-color="#472d7b"/><stop offset="0.526" stop-color="#453581"/><stop offset="0.590" stop-color="#3e4a89"/><stop offset="0.630" stop-color="#414287"/><stop offset="0.711" stop-color="#481f70"/><stop offset="0.786" stop-color="#481769"/><stop offset="1.000" stop-color="#481668"/></linearGradient><linearGradient id="hOB22"><stop offset="0.000" stop-color="#355f8d"/><stop offset="0.017" stop-color="#38588c"/><stop offset="0.035" stop-color="#3d4e8a"/><stop offset="0.058" stop-color="#365c8d"/><stop offset="0.098" stop-color="#228d8d"/><stop offset="0.110" stop-color="#1f9e89"/><stop offset="0.121" stop-color="#29af7f"/><stop offset="0.133" stop-color="#48c16e"/><stop offset="0.162" stop-color="#b2dd2d"/><stop offset="0.173" stop-color="#d8e219"/><stop offset="0.185" stop-color="#f1e51d"/><stop offset="0.191" stop-color="#fbe723"/><stop offset="0.220" stop-color="#fde725"/><stop offset="0.231" stop-color="#eae51a"/><stop offset="0.237" stop-color="#dde318"/><stop offset="0.249" stop-color="#bade28"/><stop offset="0.272" stop-color="#65cb5e"/><stop offset="0.283" stop-color="#3dbc74"/><stop offset="0.295" stop-color="#25ab82"/><stop offset="0.306" stop-color="#1f998a"/><stop offset="0.353" stop-color="#34618d"/><stop offset="0.393" stop-color="#424186"/><stop offset="0.451" stop-color="#472e7c"/><stop offset="0.497" stop-color="#472e7c"/><stop offset="0.590" stop-color="#3e4a89"/><stop offset="0.630" stop-color="#414487"/><stop offset="0.705" stop-color="#482071"/><stop offset="0.780" stop-color="#481769"/><stop offset="1.000" stop-color="#481769"/></linearGradient><linearGradient id="hOB23"><stop offset="0.000" stop-color="#355f8d"/><stop offset="0.017" stop-color="#38588c"/><stop offset="0.035" stop-color="#3d4e8a"/><stop offset="0.058" stop-color="#365c8d"/><stop offset="0.098" stop-color="#228d8d"/><stop offset="0.116" stop-color="#21a685"/><stop offset="0.127" stop-color="#37b878"/><stop offset="0.150" stop-color="#86d549"/><stop offset="0.168" stop-color="#c5e021"/><stop offset="0.173" stop-color="#d8e219"/><stop offset="0.185" stop-color="#f1e51d"/><stop offset="0.191" stop-color="#fbe723"/><stop offset="0.220" stop-color="#fde725"/><stop offset="0.237" stop-color="#dde318"/><stop offset="0.249" stop-color="#bade28"/><stop offset="0.272" stop-color="#63cb5f"/><stop offset="0.283" stop-color="#3dbc74"/><stop offset="0.295" stop-color="#25ab82"/><stop offset="0.306" stop-color="#1f9a8a"/><stop offset="0.347" stop-color="#31678e"/><stop offset="0.387" stop-color="#404688"/><stop offset="0.445" stop-color="#472f7d"/><stop offset="0.503" stop-color="#472f7d"/><stop offset="0.590" stop-color="#3e4a89"/><stop offset="0.630" stop-color="#414487"/><stop offset="0.705" stop-color="#482071"/><stop offset="0.780" stop-color="#481769"/><stop offset="1.000" stop-color="#481769"/></linearGradient><linearGradient id="hOB24"><stop offset="0.000" stop-color="#355f8d"/><stop offset="0.017" stop-color="#39568c"/><stop offset="0.035" stop-color="#3d4e8a"/><stop offset="0.058" stop-color="#365c8d"/><stop offset="0.104" stop-color="#1f948c"/><stop offset="0.116" stop-color="#21a685"/><stop offset="0.127" stop-color="#37b878"/><stop offset="0.139" stop-color="#5ac864"/><stop offset="0.168" stop-color="#c2df23"/><stop offset="0.173" stop-color="#d5e21a"/><stop offset="0.185" stop-color="#efe51c"/><stop offset="0.197" stop-color="#fde725"/><stop offset="0.220" stop-color="#fbe723"/><stop offset="0.231" stop-color="#e7e419"/><stop offset="0.243" stop-color="#cae11f"/><stop offset="0.272" stop-color="#63cb5f"/><stop offset="0.283" stop-color="#3dbc74"/><stop offset="0.295" stop-color="#25ab82"/><stop offset="0.306" stop-color="#1f998a"/><stop offset="0.353" stop-color="#34618d"/><stop offset="0.399" stop-color="#423f85"/><stop offset="0.451" stop-color="#472e7c"/><stop offset="0.509" stop-color="#46307e"/><stop offset="0.590" stop-color="#3e4a89"/><stop offset="0.630" stop-color="#414487"/><stop offset="0.705" stop-color="#482071"/><stop offset="0.792" stop-color="#481769"/><stop offset="1.000" stop-color="#481769"/></linearGradient><linearGradient id="hOB25"><stop offset="0.000" stop-color="#355f8d"/><stop offset="0.017" stop-color="#39568c"/><stop offset="0.035" stop-color="#3d4e8a"/><stop offset="0.058" stop-color="#365c8d"/><stop offset="0.098" stop-color="#228c8d"/><stop offset="0.116" stop-color="#21a585"/><stop offset="0.127" stop-color="#35b779"/><stop offset="0.139" stop-color="#58c765"/><stop offset="0.168" stop-color="#c0df25"/><stop offset="0.179" stop-color="#dfe318"/><stop offset="0.197" stop-color="#fbe723"/><stop offset="0.214" stop-color="#fbe723"/><stop offset="0.231" stop-color="#e5e419"/><stop offset="0.243" stop-color="#c5e021"/><stop offset="0.266" stop-color="#75d054"/><stop offset="0.283" stop-color="#3bbb75"/><stop offset="0.295" stop-color="#24aa83"/><stop offset="0.306" stop-color="#1f998a"/><stop offset="0.347" stop-color="#31678e"/><stop offset="0.387" stop-color="#404688"/><stop offset="0.445" stop-color="#472f7d"/><stop offset="0.503" stop-color="#472f7d"/><stop offset="0.590" stop-color="#3e4a89"/><stop offset="0.630" stop-color="#414487"/><stop offset="0.705" stop-color="#482071"/><stop offset="0.792" stop-color="#481769"/><stop offset="1.000" stop-color="#481769"/></linearGradient><linearGradient id="hOB26"><stop offset="0.000" stop-color="#355e8d"/><stop offset="0.035" stop-color="#3d4e8a"/><stop offset="0.058" stop-color="#365c8d"/><stop offset="0.098" stop-color="#228b8d"/><stop offset="0.116" stop-color="#20a486"/><stop offset="0.127" stop-color="#32b67a"/><stop offset="0.145" stop-color="#67cc5c"/><stop offset="0.168" stop-color="#bade28"/><stop offset="0.179" stop-color="#dae319"/><stop offset="0.191" stop-color="#efe51c"/><stop offset="0.202" stop-color="#f8e621"/><stop offset="0.220" stop-color="#f1e51d"/><stop offset="0.231" stop-color="#dde318"/><stop offset="0.243" stop-color="#c0df25"/><stop offset="0.266" stop-color="#70cf57"/><stop offset="0.283" stop-color="#3aba76"/><stop offset="0.295" stop-color="#23a983"/><stop offset="0.306" stop-color="#1f988b"/><stop offset="0.347" stop-color="#31668e"/><stop offset="0.387" stop-color="#404688"/><stop offset="0.445" stop-color="#472f7d"/><stop offset="0.503" stop-color="#472f7d"/><stop offset="0.590" stop-color="#3e4a89"/><stop offset="0.630" stop-color="#414487"/><stop offset="0.711" stop-color="#481f70"/><stop offset="0.809" stop-color="#481769"/><stop offset="1.000" stop-color="#481769"/></linearGradient><linearGradient id="hOB27"><stop offset="0.000" stop-color="#355e8d"/><stop offset="0.017" stop-color="#39568c"/><stop offset="0.035" stop-color="#3d4e8a"/><stop offset="0.052" stop-color="#39558c"/><stop offset="0.092" stop-color="#26828e"/><stop offset="0.116" stop-color="#20a386"/><stop offset="0.127" stop-color="#2fb47c"/><stop offset="0.145" stop-color="#63cb5f"/><stop offset="0.168" stop-color="#b2dd2d"/><stop offset="0.179" stop-color="#d2e21b"/><stop offset="0.191" stop-color="#e7e419"/><stop offset="0.202" stop-color="#f1e51d"/><stop offset="0.220" stop-color="#eae51a"/><stop offset="0.231" stop-color="#d8e219"/><stop offset="0.243" stop-color="#bade28"/><stop offset="0.272" stop-color="#58c765"/><stop offset="0.289" stop-color="#29af7f"/><stop offset="0.301" stop-color="#1f9f88"/><stop offset="0.341" stop-color="#2f6c8e"/><stop offset="0.387" stop-color="#404588"/><stop offset="0.451" stop-color="#472e7c"/><stop offset="0.509" stop-color="#46307e"/><stop offset="0.590" stop-color="#3e4a89"/><stop offset="0.630" stop-color="#414487"/><stop offset="0.717" stop-color="#481d6f"/><stop offset="0.832" stop-color="#481769"/><stop offset="1.000" stop-color="#481769"/></linearGradient><linearGradient id="hOB28"><stop offset="0.000" stop-color="#365d8d"/><stop offset="0.017" stop-color="#39558c"/><stop offset="0.035" stop-color="#3d4d8a"/><stop offset="0.058" stop-color="#375b8d"/><stop offset="0.098" stop-color="#23888e"/><stop offset="0.116" stop-color="#1fa187"/><stop offset="0.127" stop-color="#2db27d"/><stop offset="0.150" stop-color="#70cf57"/><stop offset="0.173" stop-color="#bade28"/><stop offset="0.185" stop-color="#d5e21a"/><stop offset="0.197" stop-color="#e5e419"/><stop offset="0.214" stop-color="#e5e419"/><stop offset="0.231" stop-color="#cde11d"/><stop offset="0.249" stop-color="#a0da39"/><stop offset="0.277" stop-color="#42be71"/><stop offset="0.289" stop-color="#27ad81"/><stop offset="0.301" stop-color="#1e9d89"/><stop offset="0.341" stop-color="#2f6b8e"/><stop offset="0.387" stop-color="#404588"/><stop offset="0.451" stop-color="#472e7c"/><stop offset="0.509" stop-color="#46307e"/><stop offset="0.590" stop-color="#3e4a89"/><stop offset="0.630" stop-color="#414487"/><stop offset="0.717" stop-color="#481d6f"/><stop offset="0.821" stop-color="#48186a"/><stop offset="1.000" stop-color="#48186a"/></linearGradient><linearGradient id="hOB29"><stop offset="0.000" stop-color="#365d8d"/><stop offset="0.017" stop-color="#39558c"/><stop offset="0.035" stop-color="#3d4d8a"/><stop offset="0.052" stop-color="#3a548c"/><stop offset="0.092" stop-color="#27808e"/><stop offset="0.116" stop-color="#1fa088"/><stop offset="0.127" stop-color="#2ab07f"/><stop offset="0.145" stop-color="#58c765"/><stop offset="0.173" stop-color="#b0dd2f"/><stop offset="0.185" stop-color="#cae11f"/><stop offset="0.197" stop-color="#dae319"/><stop offset="0.214" stop-color="#dae319"/><stop offset="0.231" stop-color="#c2df23"/><stop offset="0.243" stop-color="#a8db34"/><stop offset="0.272" stop-color="#4ec36b"/><stop offset="0.283" stop-color="#2fb47c"/><stop offset="0.295" stop-color="#20a386"/><stop offset="0.318" stop-color="#25848e"/><stop offset="0.364" stop-color="#3a548c"/><stop offset="0.410" stop-color="#443983"/><stop offset="0.468" stop-color="#472d7b"/><stop offset="0.514" stop-color="#46327e"/><stop offset="0.584" stop-color="#3e4a89"/><stop offset="0.624" stop-color="#404688"/><stop offset="0.711" stop-color="#482071"/><stop offset="0.786" stop-color="#48186a"/><stop offset="1.000" stop-color="#48186a"/></linearGradient><linearGradient id="hOB30"><stop offset="0.000" stop-color="#365c8d"/><stop offset="0.023" stop-color="#3c508b"/><stop offset="0.040" stop-color="#3d4d8a"/><stop offset="0.069" stop-color="#32648e"/><stop offset="0.110" stop-color="#1f958b"/><stop offset="0.121" stop-color="#21a585"/><stop offset="0.133" stop-color="#32b67a"/><stop offset="0.156" stop-color="#73d056"/><stop offset="0.179" stop-color="#b2dd2d"/><stop offset="0.191" stop-color="#c8e020"/><stop offset="0.208" stop-color="#d0e11c"/><stop offset="0.220" stop-color="#cae11f"/><stop offset="0.237" stop-color="#aadc32"/><stop offset="0.254" stop-color="#7ad151"/><stop offset="0.277" stop-color="#38b977"/><stop offset="0.289" stop-color="#23a983"/><stop offset="0.306" stop-color="#20928c"/><stop offset="0.353" stop-color="#355e8d"/><stop offset="0.399" stop-color="#433e85"/><stop offset="0.457" stop-color="#472e7c"/><stop offset="0.509" stop-color="#46307e"/><stop offset="0.590" stop-color="#3e4a89"/><stop offset="0.624" stop-color="#404688"/><stop offset="0.711" stop-color="#482071"/><stop offset="0.786" stop-color="#48186a"/><stop offset="1.000" stop-color="#48186a"/></linearGradient><linearGradient id="hOB31"><stop offset="0.000" stop-color="#365c8d"/><stop offset="0.017" stop-color="#3a548c"/><stop offset="0.035" stop-color="#3e4c8a"/><stop offset="0.058" stop-color="#38588c"/><stop offset="0.104" stop-color="#228b8d"/><stop offset="0.121" stop-color="#1fa287"/><stop offset="0.133" stop-color="#2db27d"/><stop offset="0.150" stop-color="#58c765"/><stop offset="0.168" stop-color="#8bd646"/><stop offset="0.191" stop-color="#bade28"/><stop offset="0.208" stop-color="#c2df23"/><stop offset="0.220" stop-color="#bddf26"/><stop offset="0.237" stop-color="#9dd93b"/><stop offset="0.266" stop-color="#50c46a"/><stop offset="0.277" stop-color="#32b67a"/><stop offset="0.289" stop-color="#21a685"/><stop offset="0.306" stop-color="#21908d"/><stop offset="0.353" stop-color="#365d8d"/><stop offset="0.399" stop-color="#433e85"/><stop offset="0.457" stop-color="#472e7c"/><stop offset="0.509" stop-color="#46307e"/><stop offset="0.590" stop-color="#3e4a89"/><stop offset="0.630" stop-color="#404588"/><stop offset="0.711" stop-color="#482071"/><stop offset="0.798" stop-color="#48186a"/><stop offset="1.000" stop-color="#48186a"/></linearGradient><linearGradient id="hOB32"><stop offset="0.000" stop-color="#375b8d"/><stop offset="0.023" stop-color="#3c4f8a"/><stop offset="0.040" stop-color="#3e4c8a"/><stop offset="0.075" stop-color="#31678e"/><stop offset="0.116" stop-color="#1f988b"/><stop offset="0.127" stop-color="#22a785"/><stop offset="0.145" stop-color="#40bd72"/><stop offset="0.173" stop-color="#8bd646"/><stop offset="0.191" stop-color="#aadc32"/><stop offset="0.208" stop-color="#b5de2b"/><stop offset="0.225" stop-color="#a5db36"/><stop offset="0.237" stop-color="#90d743"/><stop offset="0.266" stop-color="#48c16e"/><stop offset="0.283" stop-color="#25ac82"/><stop offset="0.295" stop-color="#1e9c89"/><stop offset="0.341" stop-color="#31668e"/><stop offset="0.387" stop-color="#414487"/><stop offset="0.434" stop-color="#46327e"/><stop offset="0.491" stop-color="#472d7b"/><stop offset="0.549" stop-color="#423f85"/><stop offset="0.595" stop-color="#3e4c8a"/><stop offset="0.636" stop-color="#414287"/><stop offset="0.717" stop-color="#481f70"/><stop offset="0.815" stop-color="#48186a"/><stop offset="1.000" stop-color="#48186a"/></linearGradient><linearGradient id="hOB33"><stop offset="0.000" stop-color="#375a8c"/><stop offset="0.017" stop-color="#3b528b"/><stop offset="0.035" stop-color="#3e4989"/><stop offset="0.058" stop-color="#39558c"/><stop offset="0.110" stop-color="#228d8d"/><stop offset="0.127" stop-color="#20a486"/><stop offset="0.139" stop-color="#2eb37c"/><stop offset="0.168" stop-color="#70cf57"/><stop offset="0.185" stop-color="#93d741"/><stop offset="0.202" stop-color="#a2da37"/><stop offset="0.214" stop-color="#a2da37"/><stop offset="0.225" stop-color="#98d83e"/><stop offset="0.249" stop-color="#69cd5b"/><stop offset="0.272" stop-color="#34b679"/><stop offset="0.283" stop-color="#22a884"/><stop offset="0.301" stop-color="#20928c"/><stop offset="0.353" stop-color="#375b8d"/><stop offset="0.399" stop-color="#433d84"/><stop offset="0.462" stop-color="#472d7b"/><stop offset="0.514" stop-color="#46327e"/><stop offset="0.590" stop-color="#3e4c8a"/><stop offset="0.630" stop-color="#404588"/><stop offset="0.717" stop-color="#481f70"/><stop offset="0.815" stop-color="#48186a"/><stop offset="1.000" stop-color="#48186a"/></linearGradient><linearGradient id="hOB34"><stop offset="0.000" stop-color="#375a8c"/><stop offset="0.017" stop-color="#3b528b"/><stop offset="0.035" stop-color="#3f4889"/><stop offset="0.058" stop-color="#3a548c"/><stop offset="0.110" stop-color="#238a8d"/><stop offset="0.127" stop-color="#1fa188"/><stop offset="0.139" stop-color="#28ae80"/><stop offset="0.162" stop-color="#58c765"/><stop offset="0.185" stop-color="#84d44b"/><stop offset="0.202" stop-color="#93d741"/><stop offset="0.214" stop-color="#93d741"/><stop offset="0.237" stop-color="#75d054"/><stop offset="0.272" stop-color="#2db27d"/><stop offset="0.283" stop-color="#20a486"/><stop offset="0.306" stop-color="#24878e"/><stop offset="0.358" stop-color="#3a548c"/><stop offset="0.405" stop-color="#443a83"/><stop offset="0.457" stop-color="#472d7b"/><stop offset="0.509" stop-color="#46307e"/><stop offset="0.590" stop-color="#3e4c8a"/><stop offset="0.636" stop-color="#414487"/><stop offset="0.717" stop-color="#482071"/><stop offset="0.803" stop-color="#48186a"/><stop offset="1.000" stop-color="#48186a"/></linearGradient><linearGradient id="hOB35"><stop offset="0.000" stop-color="#38598c"/><stop offset="0.023" stop-color="#3d4d8a"/><stop offset="0.040" stop-color="#3f4889"/><stop offset="0.075" stop-color="#33628d"/><stop offset="0.121" stop-color="#1f958b"/><stop offset="0.139" stop-color="#25ab82"/><stop offset="0.156" stop-color="#40bd72"/><stop offset="0.185" stop-color="#75d054"/><stop offset="0.202" stop-color="#84d44b"/><stop offset="0.220" stop-color="#7cd250"/><stop offset="0.237" stop-color="#67cc5c"/><stop offset="0.272" stop-color="#27ad81"/><stop offset="0.289" stop-color="#1f998a"/><stop offset="0.347" stop-color="#365d8d"/><stop offset="0.393" stop-color="#433e85"/><stop offset="0.457" stop-color="#472d7b"/><stop offset="0.509" stop-color="#46307e"/><stop offset="0.590" stop-color="#3e4c8a"/><stop offset="0.624" stop-color="#3f4889"/><stop offset="0.723" stop-color="#481f70"/><stop offset="0.821" stop-color="#48186a"/><stop offset="1.000" stop-color="#48186a"/></linearGradient><linearGradient id="hOB36"><stop offset="0.000" stop-color="#38588c"/><stop offset="0.017" stop-color="#3c508b"/><stop offset="0.035" stop-color="#3f4788"/><stop offset="0.058" stop-color="#3b518b"/><stop offset="0.110" stop-color="#25848e"/><stop offset="0.133" stop-color="#1fa088"/><stop offset="0.150" stop-color="#2eb37c"/><stop offset="0.185" stop-color="#65cb5e"/><stop offset="0.202" stop-color="#73d056"/><stop offset="0.220" stop-color="#6ece58"/><stop offset="0.249" stop-color="#46c06f"/><stop offset="0.272" stop-color="#23a983"/><stop offset="0.289" stop-color="#1f958b"/><stop offset="0.347" stop-color="#375b8d"/><stop offset="0.405" stop-color="#443983"/><stop offset="0.468" stop-color="#472c7a"/><stop offset="0.520" stop-color="#46337f"/><stop offset="0.590" stop-color="#3d4d8a"/><stop offset="0.630" stop-color="#3f4889"/><stop offset="0.723" stop-color="#482071"/><stop offset="0.809" stop-color="#48186a"/><stop offset="1.000" stop-color="#48186a"/></linearGradient><linearGradient id="hOB37"><stop offset="0.000" stop-color="#38588c"/><stop offset="0.017" stop-color="#3c4f8a"/><stop offset="0.035" stop-color="#404688"/><stop offset="0.058" stop-color="#3c508b"/><stop offset="0.116" stop-color="#24878e"/><stop offset="0.139" stop-color="#1fa187"/><stop offset="0.156" stop-color="#2eb37c"/><stop offset="0.191" stop-color="#5cc863"/><stop offset="0.208" stop-color="#63cb5f"/><stop offset="0.225" stop-color="#58c765"/><stop offset="0.260" stop-color="#2ab07f"/><stop offset="0.277" stop-color="#1f9f88"/><stop offset="0.324" stop-color="#2e6e8e"/><stop offset="0.370" stop-color="#3e4989"/><stop offset="0.422" stop-color="#46337f"/><stop offset="0.486" stop-color="#472c7a"/><stop offset="0.538" stop-color="#443a83"/><stop offset="0.595" stop-color="#3d4e8a"/><stop offset="0.636" stop-color="#3f4788"/><stop offset="0.728" stop-color="#481f70"/><stop offset="0.827" stop-color="#48186a"/><stop offset="1.000" stop-color="#48186a"/></linearGradient><linearGradient id="hOB38"><stop offset="0.000" stop-color="#39568c"/><stop offset="0.017" stop-color="#3c4f8a"/><stop offset="0.035" stop-color="#404588"/><stop offset="0.058" stop-color="#3d4e8a"/><stop offset="0.121" stop-color="#238a8d"/><stop offset="0.145" stop-color="#1fa287"/><stop offset="0.162" stop-color="#2eb37c"/><stop offset="0.191" stop-color="#4ec36b"/><stop offset="0.214" stop-color="#52c569"/><stop offset="0.243" stop-color="#38b977"/><stop offset="0.266" stop-color="#21a585"/><stop offset="0.289" stop-color="#218e8d"/><stop offset="0.347" stop-color="#38588c"/><stop offset="0.399" stop-color="#443a83"/><stop offset="0.457" stop-color="#472c7a"/><stop offset="0.509" stop-color="#472f7d"/><stop offset="0.595" stop-color="#3c4f8a"/><stop offset="0.642" stop-color="#3f4788"/><stop offset="0.728" stop-color="#482071"/><stop offset="0.815" stop-color="#48186a"/><stop offset="1.000" stop-color="#48186a"/></linearGradient><linearGradient id="hOB39"><stop offset="0.000" stop-color="#39558c"/><stop offset="0.017" stop-color="#3d4e8a"/><stop offset="0.035" stop-color="#414487"/><stop offset="0.058" stop-color="#3d4d8a"/><stop offset="0.116" stop-color="#27808e"/><stop offset="0.145" stop-color="#1f9e89"/><stop offset="0.168" stop-color="#2cb17e"/><stop offset="0.197" stop-color="#42be71"/><stop offset="0.214" stop-color="#44bf70"/><stop offset="0.249" stop-color="#29af7f"/><stop offset="0.266" stop-color="#1fa188"/><stop offset="0.306" stop-color="#2a788e"/><stop offset="0.364" stop-color="#3e4989"/><stop offset="0.428" stop-color="#46307e"/><stop offset="0.491" stop-color="#472c7a"/><stop offset="0.549" stop-color="#423f85"/><stop offset="0.595" stop-color="#3c508b"/><stop offset="0.636" stop-color="#3e4c8a"/><stop offset="0.723" stop-color="#482475"/><stop offset="0.780" stop-color="#481a6c"/><stop offset="1.000" stop-color="#48186a"/></linearGradient><linearGradient id="hOB40"><stop offset="0.000" stop-color="#3a548c"/><stop offset="0.017" stop-color="#3d4d8a"/><stop offset="0.040" stop-color="#414287"/><stop offset="0.075" stop-color="#38588c"/><stop offset="0.139" stop-color="#20928c"/><stop offset="0.162" stop-color="#22a785"/><stop offset="0.197" stop-color="#37b878"/><stop offset="0.220" stop-color="#35b779"/><stop offset="0.260" stop-color="#1fa188"/><stop offset="0.306" stop-color="#2b758e"/><stop offset="0.364" stop-color="#3f4889"/><stop offset="0.422" stop-color="#46327e"/><stop offset="0.480" stop-color="#472a7a"/><stop offset="0.532" stop-color="#453882"/><stop offset="0.595" stop-color="#3b518b"/><stop offset="0.636" stop-color="#3c4f8a"/><stop offset="0.711" stop-color="#472a7a"/><stop offset="0.769" stop-color="#481b6d"/><stop offset="1.000" stop-color="#48186a"/></linearGradient><linearGradient id="hOB41"><stop offset="0.000" stop-color="#3a548c"/><stop offset="0.035" stop-color="#424186"/><stop offset="0.064" stop-color="#3d4d8a"/><stop offset="0.139" stop-color="#218e8d"/><stop offset="0.168" stop-color="#21a585"/><stop offset="0.202" stop-color="#2db27d"/><stop offset="0.231" stop-color="#26ad81"/><stop offset="0.266" stop-color="#1f968b"/><stop offset="0.341" stop-color="#39558c"/><stop offset="0.399" stop-color="#453882"/><stop offset="0.462" stop-color="#472a7a"/><stop offset="0.514" stop-color="#46307e"/><stop offset="0.601" stop-color="#3a538b"/><stop offset="0.642" stop-color="#3c508b"/><stop offset="0.711" stop-color="#472d7b"/><stop offset="0.769" stop-color="#481b6d"/><stop offset="1.000" stop-color="#48186a"/></linearGradient><linearGradient id="hOB42"><stop offset="0.000" stop-color="#3a538b"/><stop offset="0.017" stop-color="#3e4a89"/><stop offset="0.040" stop-color="#424086"/><stop offset="0.075" stop-color="#3a538b"/><stop offset="0.150" stop-color="#20928c"/><stop offset="0.191" stop-color="#24aa83"/><stop offset="0.225" stop-color="#23a983"/><stop offset="0.260" stop-color="#1f958b"/><stop offset="0.341" stop-color="#3a538b"/><stop offset="0.405" stop-color="#463480"/><stop offset="0.474" stop-color="#472a7a"/><stop offset="0.526" stop-color="#453581"/><stop offset="0.601" stop-color="#39558c"/><stop offset="0.642" stop-color="#3a548c"/><stop offset="0.699" stop-color="#453781"/><stop offset="0.757" stop-color="#481d6f"/><stop offset="0.873" stop-color="#48186a"/><stop offset="1.000" stop-color="#48186a"/></linearGradient><linearGradient id="hOB43"><stop offset="0.000" stop-color="#3b528b"/><stop offset="0.017" stop-color="#3e4989"/><stop offset="0.040" stop-color="#423f85"/><stop offset="0.081" stop-color="#39558c"/><stop offset="0.162" stop-color="#1f958b"/><stop offset="0.202" stop-color="#20a486"/><stop offset="0.237" stop-color="#1f9e89"/><stop offset="0.295" stop-color="#2b748e"/><stop offset="0.364" stop-color="#414487"/><stop offset="0.434" stop-color="#472d7b"/><stop offset="0.497" stop-color="#472d7b"/><stop offset="0.549" stop-color="#424086"/><stop offset="0.607" stop-color="#375a8c"/><stop offset="0.647" stop-color="#38588c"/><stop offset="0.711" stop-color="#46337f"/><stop offset="0.757" stop-color="#481f70"/><stop offset="0.838" stop-color="#48186a"/><stop offset="1.000" stop-color="#48186a"/></linearGradient><linearGradient id="hOB44"><stop offset="0.000" stop-color="#3b518b"/><stop offset="0.017" stop-color="#3f4889"/><stop offset="0.040" stop-color="#433e85"/><stop offset="0.081" stop-color="#3b528b"/><stop offset="0.168" stop-color="#20928c"/><stop offset="0.208" stop-color="#1f9e89"/><stop offset="0.249" stop-color="#20928c"/><stop offset="0.341" stop-color="#3c4f8a"/><stop offset="0.410" stop-color="#46327e"/><stop offset="0.474" stop-color="#482979"/><stop offset="0.520" stop-color="#46337f"/><stop offset="0.607" stop-color="#365c8d"/><stop offset="0.647" stop-color="#365d8d"/><stop offset="0.705" stop-color="#443b84"/><stop offset="0.751" stop-color="#482173"/><stop offset="0.827" stop-color="#48186a"/><stop offset="1.000" stop-color="#48186a"/></linearGradient><linearGradient id="hOB45"><stop offset="0.000" stop-color="#3c508b"/><stop offset="0.017" stop-color="#3f4889"/><stop offset="0.035" stop-color="#433d84"/><stop offset="0.064" stop-color="#404688"/><stop offset="0.156" stop-color="#24868e"/><stop offset="0.197" stop-color="#1f968b"/><stop offset="0.231" stop-color="#20938c"/><stop offset="0.301" stop-color="#30698e"/><stop offset="0.370" stop-color="#433e85"/><stop offset="0.445" stop-color="#472a7a"/><stop offset="0.503" stop-color="#472d7b"/><stop offset="0.555" stop-color="#404588"/><stop offset="0.613" stop-color="#34618d"/><stop offset="0.647" stop-color="#33628d"/><stop offset="0.688" stop-color="#3d4d8a"/><stop offset="0.746" stop-color="#482576"/><stop offset="0.798" stop-color="#481a6c"/><stop offset="1.000" stop-color="#48186a"/></linearGradient><linearGradient id="hOB46"><stop offset="0.000" stop-color="#3c508b"/><stop offset="0.035" stop-color="#443b84"/><stop offset="0.064" stop-color="#414487"/><stop offset="0.162" stop-color="#25838e"/><stop offset="0.202" stop-color="#21918c"/><stop offset="0.243" stop-color="#23888e"/><stop offset="0.347" stop-color="#3f4889"/><stop offset="0.405" stop-color="#46327e"/><stop offset="0.480" stop-color="#482979"/><stop offset="0.526" stop-color="#453581"/><stop offset="0.607" stop-color="#33638d"/><stop offset="0.642" stop-color="#31688e"/><stop offset="0.676" stop-color="#375b8d"/><stop offset="0.728" stop-color="#46327e"/><stop offset="0.769" stop-color="#481f70"/><stop offset="0.850" stop-color="#48186a"/><stop offset="1.000" stop-color="#48186a"/></linearGradient><linearGradient id="hOB47"><stop offset="0.000" stop-color="#3c4f8a"/><stop offset="0.035" stop-color="#443a83"/><stop offset="0.064" stop-color="#424186"/><stop offset="0.162" stop-color="#277f8e"/><stop offset="0.202" stop-color="#238a8d"/><stop offset="0.243" stop-color="#26828e"/><stop offset="0.353" stop-color="#414487"/><stop offset="0.416" stop-color="#472e7c"/><stop offset="0.486" stop-color="#482979"/><stop offset="0.532" stop-color="#453882"/><stop offset="0.607" stop-color="#31668e"/><stop offset="0.642" stop-color="#2e6e8e"/><stop offset="0.676" stop-color="#34618d"/><stop offset="0.728" stop-color="#453581"/><stop offset="0.769" stop-color="#481f70"/><stop offset="0.850" stop-color="#48186a"/><stop offset="1.000" stop-color="#48186a"/></linearGradient><linearGradient id="hOB48"><stop offset="0.000" stop-color="#3d4e8a"/><stop offset="0.035" stop-color="#443983"/><stop offset="0.064" stop-color="#424086"/><stop offset="0.168" stop-color="#287c8e"/><stop offset="0.214" stop-color="#25848e"/><stop offset="0.266" stop-color="#2c728e"/><stop offset="0.358" stop-color="#423f85"/><stop offset="0.434" stop-color="#472a7a"/><stop offset="0.491" stop-color="#472a7a"/><stop offset="0.538" stop-color="#443b84"/><stop offset="0.618" stop-color="#2e6f8e"/><stop offset="0.653" stop-color="#2c718e"/><stop offset="0.688" stop-color="#355e8d"/><stop offset="0.740" stop-color="#472f7d"/><stop offset="0.780" stop-color="#481d6f"/><stop offset="0.884" stop-color="#48186a"/><stop offset="1.000" stop-color="#48186a"/></linearGradient><linearGradient id="hOB49"><stop offset="0.000" stop-color="#3d4d8a"/><stop offset="0.040" stop-color="#453781"/><stop offset="0.092" stop-color="#3d4d8a"/><stop offset="0.168" stop-color="#2a768e"/><stop offset="0.214" stop-color="#277e8e"/><stop offset="0.272" stop-color="#2f6b8e"/><stop offset="0.358" stop-color="#433d84"/><stop offset="0.439" stop-color="#482979"/><stop offset="0.491" stop-color="#472a7a"/><stop offset="0.538" stop-color="#443b84"/><stop offset="0.613" stop-color="#2d708e"/><stop offset="0.647" stop-color="#2a788e"/><stop offset="0.682" stop-color="#31678e"/><stop offset="0.728" stop-color="#443a83"/><stop offset="0.763" stop-color="#482374"/><stop offset="0.815" stop-color="#481a6c"/><stop offset="1.000" stop-color="#48186a"/></linearGradient><linearGradient id="hOB50"><stop offset="0.000" stop-color="#3e4c8a"/><stop offset="0.012" stop-color="#3f4889"/><stop offset="0.035" stop-color="#453781"/><stop offset="0.069" stop-color="#423f85"/><stop offset="0.173" stop-color="#2c728e"/><stop offset="0.220" stop-color="#2a788e"/><stop offset="0.272" stop-color="#31668e"/><stop offset="0.364" stop-color="#443983"/><stop offset="0.445" stop-color="#482878"/><stop offset="0.503" stop-color="#472c7a"/><stop offset="0.549" stop-color="#414487"/><stop offset="0.624" stop-color="#2a788e"/><stop offset="0.653" stop-color="#287c8e"/><stop offset="0.688" stop-color="#31678e"/><stop offset="0.734" stop-color="#453882"/><stop offset="0.769" stop-color="#482173"/><stop offset="0.815" stop-color="#481a6c"/><stop offset="1.000" stop-color="#48186a"/></linearGradient><linearGradient id="hOB51"><stop offset="0.000" stop-color="#3e4a89"/><stop offset="0.012" stop-color="#3f4788"/><stop offset="0.035" stop-color="#453581"/><stop offset="0.069" stop-color="#433d84"/><stop offset="0.173" stop-color="#2e6e8e"/><stop offset="0.220" stop-color="#2c728e"/><stop offset="0.272" stop-color="#33628d"/><stop offset="0.364" stop-color="#453882"/><stop offset="0.451" stop-color="#482878"/><stop offset="0.503" stop-color="#472c7a"/><stop offset="0.549" stop-color="#414487"/><stop offset="0.618" stop-color="#2a788e"/><stop offset="0.647" stop-color="#26818e"/><stop offset="0.676" stop-color="#2b748e"/><stop offset="0.728" stop-color="#423f85"/><stop offset="0.763" stop-color="#482576"/><stop offset="0.803" stop-color="#481a6c"/><stop offset="1.000" stop-color="#48186a"/></linearGradient><linearGradient id="hOB52"><stop offset="0.000" stop-color="#3e4a89"/><stop offset="0.017" stop-color="#424086"/><stop offset="0.040" stop-color="#46337f"/><stop offset="0.092" stop-color="#404588"/><stop offset="0.173" stop-color="#30698e"/><stop offset="0.220" stop-color="#2e6d8e"/><stop offset="0.272" stop-color="#355e8d"/><stop offset="0.376" stop-color="#46337f"/><stop offset="0.462" stop-color="#482677"/><stop offset="0.514" stop-color="#472f7d"/><stop offset="0.561" stop-color="#3d4d8a"/><stop offset="0.624" stop-color="#277e8e"/><stop offset="0.653" stop-color="#26828e"/><stop offset="0.682" stop-color="#2c738e"/><stop offset="0.728" stop-color="#424186"/><stop offset="0.763" stop-color="#482576"/><stop offset="0.815" stop-color="#481a6c"/><stop offset="1.000" stop-color="#48186a"/></linearGradient><linearGradient id="hOB53"><stop offset="0.000" stop-color="#3e4989"/><stop offset="0.017" stop-color="#424086"/><stop offset="0.035" stop-color="#46337f"/><stop offset="0.075" stop-color="#443b84"/><stop offset="0.173" stop-color="#32648e"/><stop offset="0.220" stop-color="#31688e"/><stop offset="0.277" stop-color="#38588c"/><stop offset="0.376" stop-color="#46327e"/><stop offset="0.462" stop-color="#482677"/><stop offset="0.514" stop-color="#472f7d"/><stop offset="0.561" stop-color="#3d4d8a"/><stop offset="0.624" stop-color="#27808e"/><stop offset="0.653" stop-color="#25858e"/><stop offset="0.682" stop-color="#2b758e"/><stop offset="0.728" stop-color="#414287"/><stop offset="0.763" stop-color="#482576"/><stop offset="0.815" stop-color="#481a6c"/><stop offset="1.000" stop-color="#48186a"/></linearGradient><linearGradient id="hOB54"><stop offset="0.000" stop-color="#3f4889"/><stop offset="0.017" stop-color="#423f85"/><stop offset="0.040" stop-color="#46327e"/><stop offset="0.081" stop-color="#443b84"/><stop offset="0.185" stop-color="#33628d"/><stop offset="0.237" stop-color="#34608d"/><stop offset="0.364" stop-color="#463480"/><stop offset="0.451" stop-color="#482677"/><stop offset="0.503" stop-color="#472c7a"/><stop offset="0.543" stop-color="#423f85"/><stop offset="0.613" stop-color="#29798e"/><stop offset="0.642" stop-color="#24868e"/><stop offset="0.665" stop-color="#26828e"/><stop offset="0.694" stop-color="#2f6b8e"/><stop offset="0.734" stop-color="#433d84"/><stop offset="0.769" stop-color="#482374"/><stop offset="0.821" stop-color="#481a6c"/><stop offset="1.000" stop-color="#48186a"/></linearGradient></defs><rect x="134.60" y="2024.30" width="173.10" height="4.60" fill="url(#hOB0)"/><rect x="134.60" y="2028.30" width="173.10" height="4.60" fill="url(#hOB1)"/><rect x="134.60" y="2032.30" width="173.10" height="4.60" fill="url(#hOB2)"/><rect x="134.60" y="2036.30" width="173.10" height="4.60" fill="url(#hOB3)"/><rect x="134.60" y="2040.30" width="173.10" height="4.60" fill="url(#hOB4)"/><rect x="134.60" y="2044.30" width="173.10" height="4.60" fill="url(#hOB5)"/><rect x="134.60" y="2048.30" width="173.10" height="4.60" fill="url(#hOB6)"/><rect x="134.60" y="2052.30" width="173.10" height="4.60" fill="url(#hOB7)"/><rect x="134.60" y="2056.30" width="173.10" height="4.60" fill="url(#hOB8)"/><rect x="134.60" y="2060.30" width="173.10" height="4.60" fill="url(#hOB9)"/><rect x="134.60" y="2064.30" width="173.10" height="4.60" fill="url(#hOB10)"/><rect x="134.60" y="2068.30" width="173.10" height="4.60" fill="url(#hOB11)"/><rect x="134.60" y="2072.30" width="173.10" height="4.60" fill="url(#hOB12)"/><rect x="134.60" y="2076.30" width="173.10" height="4.60" fill="url(#hOB13)"/><rect x="134.60" y="2080.30" width="173.10" height="4.60" fill="url(#hOB14)"/><rect x="134.60" y="2084.30" width="173.10" height="4.60" fill="url(#hOB15)"/><rect x="134.60" y="2088.30" width="173.10" height="4.60" fill="url(#hOB16)"/><rect x="134.60" y="2092.30" width="173.10" height="4.60" fill="url(#hOB17)"/><rect x="134.60" y="2096.30" width="173.10" height="4.60" fill="url(#hOB18)"/><rect x="134.60" y="2100.30" width="173.10" height="4.60" fill="url(#hOB19)"/><rect x="134.60" y="2104.30" width="173.10" height="4.60" fill="url(#hOB20)"/><rect x="134.60" y="2108.30" width="173.10" height="4.60" fill="url(#hOB21)"/><rect x="134.60" y="2112.30" width="173.10" height="4.60" fill="url(#hOB22)"/><rect x="134.60" y="2116.30" width="173.10" height="4.60" fill="url(#hOB23)"/><rect x="134.60" y="2120.30" width="173.10" height="4.60" fill="url(#hOB24)"/><rect x="134.60" y="2124.30" width="173.10" height="4.60" fill="url(#hOB25)"/><rect x="134.60" y="2128.30" width="173.10" height="4.60" fill="url(#hOB26)"/><rect x="134.60" y="2132.30" width="173.10" height="4.60" fill="url(#hOB27)"/><rect x="134.60" y="2136.30" width="173.10" height="4.60" fill="url(#hOB28)"/><rect x="134.60" y="2140.30" width="173.10" height="4.60" fill="url(#hOB29)"/><rect x="134.60" y="2144.30" width="173.10" height="4.60" fill="url(#hOB30)"/><rect x="134.60" y="2148.30" width="173.10" height="4.60" fill="url(#hOB31)"/><rect x="134.60" y="2152.30" width="173.10" height="4.60" fill="url(#hOB32)"/><rect x="134.60" y="2156.30" width="173.10" height="4.60" fill="url(#hOB33)"/><rect x="134.60" y="2160.30" width="173.10" height="4.60" fill="url(#hOB34)"/><rect x="134.60" y="2164.30" width="173.10" height="4.60" fill="url(#hOB35)"/><rect x="134.60" y="2168.30" width="173.10" height="4.60" fill="url(#hOB36)"/><rect x="134.60" y="2172.30" width="173.10" height="4.60" fill="url(#hOB37)"/><rect x="134.60" y="2176.30" width="173.10" height="4.60" fill="url(#hOB38)"/><rect x="134.60" y="2180.30" width="173.10" height="4.60" fill="url(#hOB39)"/><rect x="134.60" y="2184.30" width="173.10" height="4.60" fill="url(#hOB40)"/><rect x="134.60" y="2188.30" width="173.10" height="4.60" fill="url(#hOB41)"/><rect x="134.60" y="2192.30" width="173.10" height="4.60" fill="url(#hOB42)"/><rect x="134.60" y="2196.30" width="173.10" height="4.60" fill="url(#hOB43)"/><rect x="134.60" y="2200.30" width="173.10" height="4.60" fill="url(#hOB44)"/><rect x="134.60" y="2204.30" width="173.10" height="4.60" fill="url(#hOB45)"/><rect x="134.60" y="2208.30" width="173.10" height="4.60" fill="url(#hOB46)"/><rect x="134.60" y="2212.30" width="173.10" height="4.60" fill="url(#hOB47)"/><rect x="134.60" y="2216.30" width="173.10" height="4.60" fill="url(#hOB48)"/><rect x="134.60" y="2220.30" width="173.10" height="4.60" fill="url(#hOB49)"/><rect x="134.60" y="2224.30" width="173.10" height="4.60" fill="url(#hOB50)"/><rect x="134.60" y="2228.30" width="173.10" height="4.60" fill="url(#hOB51)"/><rect x="134.60" y="2232.30" width="173.10" height="4.60" fill="url(#hOB52)"/><rect x="134.60" y="2236.30" width="173.10" height="4.60" fill="url(#hOB53)"/><rect x="134.60" y="2240.30" width="173.10" height="4.30" fill="url(#hOB54)"/>
<rect x="134.60" y="2024.30" width="173.10" height="219.70" fill="none" stroke="#111" stroke-width="1"/>
<line x1="120.10" y1="2024.30" x2="134.60" y2="2024.30" stroke="#333" stroke-width="1.2" stroke-linecap="butt"/>
<line x1="120.10" y1="2112.18" x2="134.60" y2="2112.18" stroke="#333" stroke-width="1.2" stroke-linecap="butt"/>
<line x1="120.10" y1="2200.06" x2="134.60" y2="2200.06" stroke="#333" stroke-width="1.2" stroke-linecap="butt"/>
<line x1="134.60" y1="2244.00" x2="134.60" y2="2258.00" stroke="#333" stroke-width="1.2" stroke-linecap="butt"/>
<text transform="translate(123.39,2286.76)" font-family="'DejaVu Sans', sans-serif" font-weight="bold" fill="#000"><tspan x="0.00" y="0.00" font-size="30.50">1</tspan></text>
<line x1="211.53" y1="2244.00" x2="211.53" y2="2258.00" stroke="#333" stroke-width="1.2" stroke-linecap="butt"/>
<text transform="translate(200.86,2286.76)" font-family="'DejaVu Sans', sans-serif" font-weight="bold" fill="#000"><tspan x="0.00" y="0.00" font-size="30.50">5</tspan></text>
<line x1="307.70" y1="2244.00" x2="307.70" y2="2258.00" stroke="#333" stroke-width="1.2" stroke-linecap="butt"/>
<text transform="translate(285.51,2287.07)" font-family="'DejaVu Sans', sans-serif" font-weight="bold" fill="#000"><tspan x="0.00" y="0.00" font-size="30.50">10</tspan></text>
<defs><linearGradient id="hPC0"><stop offset="0.000" stop-color="#481d6f"/><stop offset="0.087" stop-color="#482878"/><stop offset="0.133" stop-color="#424086"/><stop offset="0.191" stop-color="#33638d"/><stop offset="0.225" stop-color="#33628d"/><stop offset="0.295" stop-color="#453882"/><stop offset="0.347" stop-color="#482576"/><stop offset="0.445" stop-color="#481769"/><stop offset="0.584" stop-color="#472d7b"/><stop offset="0.688" stop-color="#472a7a"/><stop offset="0.844" stop-color="#481b6d"/><stop offset="1.000" stop-color="#481a6c"/></linearGradient><linearGradient id="hPC1"><stop offset="0.000" stop-color="#481f70"/><stop offset="0.075" stop-color="#482677"/><stop offset="0.116" stop-color="#453882"/><stop offset="0.179" stop-color="#32658e"/><stop offset="0.214" stop-color="#2f6c8e"/><stop offset="0.249" stop-color="#365d8d"/><stop offset="0.312" stop-color="#46327e"/><stop offset="0.393" stop-color="#481d6f"/><stop offset="0.451" stop-color="#48186a"/><stop offset="0.578" stop-color="#472e7c"/><stop offset="0.671" stop-color="#472e7c"/><stop offset="0.838" stop-color="#481b6d"/><stop offset="1.000" stop-color="#481a6c"/></linearGradient><linearGradient id="hPC2"><stop offset="0.000" stop-color="#481f70"/><stop offset="0.075" stop-color="#482878"/><stop offset="0.116" stop-color="#443a83"/><stop offset="0.179" stop-color="#2f6c8e"/><stop offset="0.214" stop-color="#2c738e"/><stop offset="0.249" stop-color="#33638d"/><stop offset="0.312" stop-color="#463480"/><stop offset="0.370" stop-color="#482374"/><stop offset="0.445" stop-color="#48186a"/><stop offset="0.578" stop-color="#46307e"/><stop offset="0.665" stop-color="#46307e"/><stop offset="0.838" stop-color="#481b6d"/><stop offset="1.000" stop-color="#481a6c"/></linearGradient><linearGradient id="hPC3"><stop offset="0.000" stop-color="#481f70"/><stop offset="0.075" stop-color="#482979"/><stop offset="0.110" stop-color="#443983"/><stop offset="0.168" stop-color="#306a8e"/><stop offset="0.202" stop-color="#297b8e"/><stop offset="0.231" stop-color="#2b748e"/><stop offset="0.301" stop-color="#433e85"/><stop offset="0.347" stop-color="#482979"/><stop offset="0.445" stop-color="#481a6c"/><stop offset="0.584" stop-color="#46337f"/><stop offset="0.665" stop-color="#46337f"/><stop offset="0.821" stop-color="#481c6e"/><stop offset="1.000" stop-color="#481a6c"/></linearGradient><linearGradient id="hPC4"><stop offset="0.000" stop-color="#481f70"/><stop offset="0.069" stop-color="#482878"/><stop offset="0.116" stop-color="#424086"/><stop offset="0.173" stop-color="#2b758e"/><stop offset="0.202" stop-color="#26828e"/><stop offset="0.231" stop-color="#287c8e"/><stop offset="0.301" stop-color="#424186"/><stop offset="0.347" stop-color="#472a7a"/><stop offset="0.439" stop-color="#481b6d"/><stop offset="0.509" stop-color="#482878"/><stop offset="0.613" stop-color="#453882"/><stop offset="0.699" stop-color="#472f7d"/><stop offset="0.821" stop-color="#481c6e"/><stop offset="1.000" stop-color="#481a6c"/></linearGradient><linearGradient id="hPC5"><stop offset="0.000" stop-color="#482071"/><stop offset="0.069" stop-color="#482979"/><stop offset="0.110" stop-color="#423f85"/><stop offset="0.168" stop-color="#2a778e"/><stop offset="0.197" stop-color="#23898e"/><stop offset="0.220" stop-color="#23898e"/><stop offset="0.254" stop-color="#2d718e"/><stop offset="0.312" stop-color="#433d84"/><stop offset="0.358" stop-color="#482979"/><stop offset="0.445" stop-color="#481b6d"/><stop offset="0.584" stop-color="#453882"/><stop offset="0.659" stop-color="#453882"/><stop offset="0.821" stop-color="#481c6e"/><stop offset="1.000" stop-color="#481a6c"/></linearGradient><linearGradient id="hPC6"><stop offset="0.000" stop-color="#482071"/><stop offset="0.069" stop-color="#472a7a"/><stop offset="0.110" stop-color="#414287"/><stop offset="0.173" stop-color="#26828e"/><stop offset="0.197" stop-color="#20928c"/><stop offset="0.220" stop-color="#21918c"/><stop offset="0.254" stop-color="#2a778e"/><stop offset="0.312" stop-color="#423f85"/><stop offset="0.358" stop-color="#472a7a"/><stop offset="0.439" stop-color="#481c6e"/><stop offset="0.601" stop-color="#433d84"/><stop offset="0.676" stop-color="#453882"/><stop offset="0.821" stop-color="#481c6e"/><stop offset="1.000" stop-color="#481a6c"/></linearGradient><linearGradient id="hPC7"><stop offset="0.000" stop-color="#482071"/><stop offset="0.069" stop-color="#472c7a"/><stop offset="0.110" stop-color="#404588"/><stop offset="0.168" stop-color="#25848e"/><stop offset="0.197" stop-color="#1f998a"/><stop offset="0.220" stop-color="#1f988b"/><stop offset="0.243" stop-color="#23888e"/><stop offset="0.306" stop-color="#3f4788"/><stop offset="0.347" stop-color="#472f7d"/><stop offset="0.439" stop-color="#481d6f"/><stop offset="0.520" stop-color="#472f7d"/><stop offset="0.613" stop-color="#424086"/><stop offset="0.688" stop-color="#453882"/><stop offset="0.821" stop-color="#481c6e"/><stop offset="0.988" stop-color="#481a6c"/><stop offset="1.000" stop-color="#481a6c"/></linearGradient><linearGradient id="hPC8"><stop offset="0.000" stop-color="#482173"/><stop offset="0.069" stop-color="#472d7b"/><stop offset="0.104" stop-color="#414287"/><stop offset="0.162" stop-color="#25838e"/><stop offset="0.185" stop-color="#1f9a8a"/><stop offset="0.208" stop-color="#1fa287"/><stop offset="0.231" stop-color="#1f998a"/><stop offset="0.277" stop-color="#31688e"/><stop offset="0.318" stop-color="#424086"/><stop offset="0.370" stop-color="#472a7a"/><stop offset="0.439" stop-color="#481f70"/><stop offset="0.514" stop-color="#472f7d"/><stop offset="0.607" stop-color="#414287"/><stop offset="0.676" stop-color="#433d84"/><stop offset="0.821" stop-color="#481c6e"/><stop offset="1.000" stop-color="#48186a"/></linearGradient><linearGradient id="hPC9"><stop offset="0.000" stop-color="#482173"/><stop offset="0.069" stop-color="#472e7c"/><stop offset="0.110" stop-color="#3e4a89"/><stop offset="0.162" stop-color="#238a8d"/><stop offset="0.185" stop-color="#1fa187"/><stop offset="0.208" stop-color="#25ab82"/><stop offset="0.231" stop-color="#1fa188"/><stop offset="0.260" stop-color="#26828e"/><stop offset="0.312" stop-color="#3f4889"/><stop offset="0.347" stop-color="#46337f"/><stop offset="0.434" stop-color="#482071"/><stop offset="0.486" stop-color="#482979"/><stop offset="0.590" stop-color="#414487"/><stop offset="0.659" stop-color="#414287"/><stop offset="0.815" stop-color="#481d6f"/><stop offset="0.960" stop-color="#48186a"/><stop offset="1.000" stop-color="#48186a"/></linearGradient><linearGradient id="hPC10"><stop offset="0.000" stop-color="#482374"/><stop offset="0.064" stop-color="#472e7c"/><stop offset="0.098" stop-color="#414287"/><stop offset="0.150" stop-color="#27808e"/><stop offset="0.173" stop-color="#1f9e89"/><stop offset="0.197" stop-color="#29af7f"/><stop offset="0.214" stop-color="#2cb17e"/><stop offset="0.237" stop-color="#1fa287"/><stop offset="0.260" stop-color="#24878e"/><stop offset="0.312" stop-color="#3e4a89"/><stop offset="0.353" stop-color="#46337f"/><stop offset="0.434" stop-color="#482173"/><stop offset="0.486" stop-color="#472a7a"/><stop offset="0.590" stop-color="#404688"/><stop offset="0.659" stop-color="#404688"/><stop offset="0.815" stop-color="#481d6f"/><stop offset="0.948" stop-color="#48186a"/><stop offset="1.000" stop-color="#48186a"/></linearGradient><linearGradient id="hPC11"><stop offset="0.000" stop-color="#482374"/><stop offset="0.058" stop-color="#472d7b"/><stop offset="0.098" stop-color="#404588"/><stop offset="0.139" stop-color="#2b748e"/><stop offset="0.168" stop-color="#1e9c89"/><stop offset="0.191" stop-color="#2eb37c"/><stop offset="0.208" stop-color="#37b878"/><stop offset="0.225" stop-color="#2db27d"/><stop offset="0.249" stop-color="#1e9b8a"/><stop offset="0.295" stop-color="#34608d"/><stop offset="0.329" stop-color="#424086"/><stop offset="0.387" stop-color="#472a7a"/><stop offset="0.439" stop-color="#482173"/><stop offset="0.509" stop-color="#46337f"/><stop offset="0.595" stop-color="#3e4989"/><stop offset="0.659" stop-color="#3f4889"/><stop offset="0.786" stop-color="#482475"/><stop offset="0.884" stop-color="#48186a"/><stop offset="1.000" stop-color="#48186a"/></linearGradient><linearGradient id="hPC12"><stop offset="0.000" stop-color="#482374"/><stop offset="0.064" stop-color="#46307e"/><stop offset="0.098" stop-color="#3f4788"/><stop offset="0.139" stop-color="#2a788e"/><stop offset="0.162" stop-color="#1f9a8a"/><stop offset="0.179" stop-color="#29af7f"/><stop offset="0.197" stop-color="#3dbc74"/><stop offset="0.214" stop-color="#40bd72"/><stop offset="0.237" stop-color="#28ae80"/><stop offset="0.254" stop-color="#1f998a"/><stop offset="0.301" stop-color="#365c8d"/><stop offset="0.341" stop-color="#443b84"/><stop offset="0.422" stop-color="#482475"/><stop offset="0.474" stop-color="#482979"/><stop offset="0.578" stop-color="#3e4989"/><stop offset="0.636" stop-color="#3d4e8a"/><stop offset="0.705" stop-color="#423f85"/><stop offset="0.809" stop-color="#481f70"/><stop offset="0.936" stop-color="#481769"/><stop offset="1.000" stop-color="#48186a"/></linearGradient><linearGradient id="hPC13"><stop offset="0.000" stop-color="#482475"/><stop offset="0.064" stop-color="#46327e"/><stop offset="0.098" stop-color="#3e4989"/><stop offset="0.133" stop-color="#2c738e"/><stop offset="0.162" stop-color="#1f9f88"/><stop offset="0.173" stop-color="#27ad81"/><stop offset="0.197" stop-color="#4ac16d"/><stop offset="0.208" stop-color="#4ec36b"/><stop offset="0.225" stop-color="#40bd72"/><stop offset="0.249" stop-color="#21a585"/><stop offset="0.266" stop-color="#228d8d"/><stop offset="0.306" stop-color="#38598c"/><stop offset="0.341" stop-color="#433e85"/><stop offset="0.410" stop-color="#482878"/><stop offset="0.451" stop-color="#482576"/><stop offset="0.572" stop-color="#3e4c8a"/><stop offset="0.636" stop-color="#3b518b"/><stop offset="0.711" stop-color="#423f85"/><stop offset="0.803" stop-color="#482071"/><stop offset="0.919" stop-color="#481769"/><stop offset="1.000" stop-color="#48186a"/></linearGradient><linearGradient id="hPC14"><stop offset="0.000" stop-color="#482475"/><stop offset="0.064" stop-color="#46337f"/><stop offset="0.098" stop-color="#3e4a89"/><stop offset="0.139" stop-color="#277f8e"/><stop offset="0.162" stop-color="#1fa287"/><stop offset="0.173" stop-color="#2db27d"/><stop offset="0.197" stop-color="#54c568"/><stop offset="0.208" stop-color="#5ac864"/><stop offset="0.225" stop-color="#4cc26c"/><stop offset="0.249" stop-color="#24aa83"/><stop offset="0.260" stop-color="#1f998a"/><stop offset="0.301" stop-color="#33628d"/><stop offset="0.335" stop-color="#414487"/><stop offset="0.393" stop-color="#472d7b"/><stop offset="0.445" stop-color="#482576"/><stop offset="0.526" stop-color="#423f85"/><stop offset="0.601" stop-color="#3a538b"/><stop offset="0.659" stop-color="#3b518b"/><stop offset="0.763" stop-color="#472d7b"/><stop offset="0.850" stop-color="#481a6c"/><stop offset="1.000" stop-color="#48186a"/></linearGradient><linearGradient id="hPC15"><stop offset="0.000" stop-color="#482576"/><stop offset="0.058" stop-color="#46327e"/><stop offset="0.092" stop-color="#3f4788"/><stop offset="0.133" stop-color="#29798e"/><stop offset="0.156" stop-color="#1e9d89"/><stop offset="0.168" stop-color="#28ae80"/><stop offset="0.191" stop-color="#56c667"/><stop offset="0.202" stop-color="#63cb5f"/><stop offset="0.214" stop-color="#63cb5f"/><stop offset="0.231" stop-color="#4ac16d"/><stop offset="0.249" stop-color="#27ad81"/><stop offset="0.260" stop-color="#1e9d89"/><stop offset="0.295" stop-color="#2f6b8e"/><stop offset="0.335" stop-color="#404588"/><stop offset="0.393" stop-color="#472e7c"/><stop offset="0.445" stop-color="#482677"/><stop offset="0.514" stop-color="#433d84"/><stop offset="0.595" stop-color="#39558c"/><stop offset="0.653" stop-color="#3a548c"/><stop offset="0.740" stop-color="#453781"/><stop offset="0.821" stop-color="#481d6f"/><stop offset="0.925" stop-color="#481769"/><stop offset="1.000" stop-color="#481769"/></linearGradient><linearGradient id="hPC16"><stop offset="0.000" stop-color="#482576"/><stop offset="0.064" stop-color="#453581"/><stop offset="0.092" stop-color="#3e4989"/><stop offset="0.127" stop-color="#2c728e"/><stop offset="0.156" stop-color="#1fa088"/><stop offset="0.168" stop-color="#2cb17e"/><stop offset="0.191" stop-color="#5ec962"/><stop offset="0.202" stop-color="#6ccd5a"/><stop offset="0.214" stop-color="#6ccd5a"/><stop offset="0.231" stop-color="#52c569"/><stop offset="0.249" stop-color="#2cb17e"/><stop offset="0.260" stop-color="#1fa088"/><stop offset="0.295" stop-color="#2e6e8e"/><stop offset="0.329" stop-color="#3e4a89"/><stop offset="0.387" stop-color="#46327e"/><stop offset="0.445" stop-color="#482878"/><stop offset="0.514" stop-color="#433e85"/><stop offset="0.595" stop-color="#38588c"/><stop offset="0.653" stop-color="#39568c"/><stop offset="0.751" stop-color="#46337f"/><stop offset="0.827" stop-color="#481c6e"/><stop offset="0.942" stop-color="#481769"/><stop offset="1.000" stop-color="#481769"/></linearGradient><linearGradient id="hPC17"><stop offset="0.000" stop-color="#482677"/><stop offset="0.064" stop-color="#453781"/><stop offset="0.098" stop-color="#3c508b"/><stop offset="0.133" stop-color="#287d8e"/><stop offset="0.156" stop-color="#1fa287"/><stop offset="0.168" stop-color="#2fb47c"/><stop offset="0.191" stop-color="#65cb5e"/><stop offset="0.202" stop-color="#73d056"/><stop offset="0.214" stop-color="#73d056"/><stop offset="0.231" stop-color="#58c765"/><stop offset="0.249" stop-color="#2eb37c"/><stop offset="0.260" stop-color="#1fa287"/><stop offset="0.289" stop-color="#2a778e"/><stop offset="0.324" stop-color="#3b518b"/><stop offset="0.364" stop-color="#443a83"/><stop offset="0.434" stop-color="#482979"/><stop offset="0.474" stop-color="#472f7d"/><stop offset="0.572" stop-color="#3a548c"/><stop offset="0.630" stop-color="#365c8d"/><stop offset="0.682" stop-color="#3b518b"/><stop offset="0.798" stop-color="#482475"/><stop offset="0.873" stop-color="#481769"/><stop offset="1.000" stop-color="#481769"/></linearGradient><linearGradient id="hPC18"><stop offset="0.000" stop-color="#482677"/><stop offset="0.058" stop-color="#463480"/><stop offset="0.098" stop-color="#3b518b"/><stop offset="0.139" stop-color="#24878e"/><stop offset="0.156" stop-color="#20a386"/><stop offset="0.168" stop-color="#32b67a"/><stop offset="0.191" stop-color="#69cd5b"/><stop offset="0.202" stop-color="#77d153"/><stop offset="0.214" stop-color="#77d153"/><stop offset="0.231" stop-color="#5cc863"/><stop offset="0.254" stop-color="#26ad81"/><stop offset="0.266" stop-color="#1e9b8a"/><stop offset="0.301" stop-color="#306a8e"/><stop offset="0.335" stop-color="#3e4a89"/><stop offset="0.387" stop-color="#463480"/><stop offset="0.445" stop-color="#472a7a"/><stop offset="0.497" stop-color="#443a83"/><stop offset="0.590" stop-color="#375b8d"/><stop offset="0.642" stop-color="#365d8d"/><stop offset="0.699" stop-color="#3d4d8a"/><stop offset="0.792" stop-color="#482576"/><stop offset="0.861" stop-color="#48186a"/><stop offset="1.000" stop-color="#481769"/></linearGradient><linearGradient id="hPC19"><stop offset="0.000" stop-color="#482878"/><stop offset="0.064" stop-color="#453882"/><stop offset="0.098" stop-color="#3b528b"/><stop offset="0.139" stop-color="#23888e"/><stop offset="0.156" stop-color="#20a486"/><stop offset="0.168" stop-color="#34b679"/><stop offset="0.191" stop-color="#6ccd5a"/><stop offset="0.202" stop-color="#7ad151"/><stop offset="0.214" stop-color="#7ad151"/><stop offset="0.231" stop-color="#5ec962"/><stop offset="0.254" stop-color="#28ae80"/><stop offset="0.266" stop-color="#1e9c89"/><stop offset="0.306" stop-color="#32658e"/><stop offset="0.347" stop-color="#404588"/><stop offset="0.428" stop-color="#472c7a"/><stop offset="0.468" stop-color="#46307e"/><stop offset="0.572" stop-color="#38598c"/><stop offset="0.630" stop-color="#34618d"/><stop offset="0.688" stop-color="#3b528b"/><stop offset="0.775" stop-color="#472c7a"/><stop offset="0.844" stop-color="#481a6c"/><stop offset="0.988" stop-color="#481668"/><stop offset="1.000" stop-color="#481769"/></linearGradient><linearGradient id="hPC20"><stop offset="0.000" stop-color="#482878"/><stop offset="0.064" stop-color="#443983"/><stop offset="0.098" stop-color="#3a538b"/><stop offset="0.133" stop-color="#27808e"/><stop offset="0.150" stop-color="#1e9c89"/><stop offset="0.162" stop-color="#28ae80"/><stop offset="0.185" stop-color="#5ec962"/><stop offset="0.197" stop-color="#75d054"/><stop offset="0.208" stop-color="#7cd250"/><stop offset="0.220" stop-color="#73d056"/><stop offset="0.237" stop-color="#50c46a"/><stop offset="0.254" stop-color="#28ae80"/><stop offset="0.266" stop-color="#1e9d89"/><stop offset="0.306" stop-color="#31668e"/><stop offset="0.341" stop-color="#3e4989"/><stop offset="0.410" stop-color="#46307e"/><stop offset="0.457" stop-color="#472e7c"/><stop offset="0.566" stop-color="#38598c"/><stop offset="0.624" stop-color="#33638d"/><stop offset="0.682" stop-color="#39568c"/><stop offset="0.763" stop-color="#46307e"/><stop offset="0.832" stop-color="#481b6d"/><stop offset="0.948" stop-color="#481668"/><stop offset="1.000" stop-color="#481668"/></linearGradient><linearGradient id="hPC21"><stop offset="0.000" stop-color="#482979"/><stop offset="0.058" stop-color="#453882"/><stop offset="0.092" stop-color="#3d4e8a"/><stop offset="0.133" stop-color="#27808e"/><stop offset="0.150" stop-color="#1e9b8a"/><stop offset="0.162" stop-color="#27ad81"/><stop offset="0.185" stop-color="#5cc863"/><stop offset="0.197" stop-color="#73d056"/><stop offset="0.208" stop-color="#7ad151"/><stop offset="0.220" stop-color="#73d056"/><stop offset="0.237" stop-color="#50c46a"/><stop offset="0.254" stop-color="#28ae80"/><stop offset="0.266" stop-color="#1e9d89"/><stop offset="0.306" stop-color="#31678e"/><stop offset="0.341" stop-color="#3e4c8a"/><stop offset="0.405" stop-color="#46337f"/><stop offset="0.451" stop-color="#472e7c"/><stop offset="0.514" stop-color="#404588"/><stop offset="0.590" stop-color="#34618d"/><stop offset="0.647" stop-color="#33628d"/><stop offset="0.717" stop-color="#3f4889"/><stop offset="0.809" stop-color="#482071"/><stop offset="0.896" stop-color="#481668"/><stop offset="1.000" stop-color="#481668"/></linearGradient><linearGradient id="hPC22"><stop offset="0.000" stop-color="#472a7a"/><stop offset="0.058" stop-color="#453882"/><stop offset="0.098" stop-color="#3a548c"/><stop offset="0.139" stop-color="#23888e"/><stop offset="0.156" stop-color="#20a486"/><stop offset="0.168" stop-color="#31b57b"/><stop offset="0.191" stop-color="#65cb5e"/><stop offset="0.202" stop-color="#73d056"/><stop offset="0.214" stop-color="#73d056"/><stop offset="0.225" stop-color="#65cb5e"/><stop offset="0.249" stop-color="#32b67a"/><stop offset="0.260" stop-color="#21a585"/><stop offset="0.277" stop-color="#228c8d"/><stop offset="0.312" stop-color="#33628d"/><stop offset="0.353" stop-color="#404688"/><stop offset="0.422" stop-color="#472f7d"/><stop offset="0.462" stop-color="#46327e"/><stop offset="0.572" stop-color="#365d8d"/><stop offset="0.624" stop-color="#31668e"/><stop offset="0.682" stop-color="#38598c"/><stop offset="0.769" stop-color="#472f7d"/><stop offset="0.838" stop-color="#481a6c"/><stop offset="0.965" stop-color="#481467"/><stop offset="1.000" stop-color="#481668"/></linearGradient><linearGradient id="hPC23"><stop offset="0.000" stop-color="#472a7a"/><stop offset="0.064" stop-color="#443b84"/><stop offset="0.104" stop-color="#375b8d"/><stop offset="0.145" stop-color="#21918c"/><stop offset="0.156" stop-color="#1fa287"/><stop offset="0.168" stop-color="#2eb37c"/><stop offset="0.191" stop-color="#5ec962"/><stop offset="0.202" stop-color="#6ccd5a"/><stop offset="0.214" stop-color="#6ece58"/><stop offset="0.231" stop-color="#56c667"/><stop offset="0.254" stop-color="#26ad81"/><stop offset="0.266" stop-color="#1e9c89"/><stop offset="0.306" stop-color="#31688e"/><stop offset="0.347" stop-color="#3e4a89"/><stop offset="0.416" stop-color="#46327e"/><stop offset="0.462" stop-color="#46327e"/><stop offset="0.566" stop-color="#365d8d"/><stop offset="0.630" stop-color="#31678e"/><stop offset="0.694" stop-color="#39558c"/><stop offset="0.780" stop-color="#472a7a"/><stop offset="0.855" stop-color="#481769"/><stop offset="1.000" stop-color="#481668"/></linearGradient><linearGradient id="hPC24"><stop offset="0.000" stop-color="#472c7a"/><stop offset="0.064" stop-color="#443b84"/><stop offset="0.104" stop-color="#375b8d"/><stop offset="0.145" stop-color="#218f8d"/><stop offset="0.156" stop-color="#1fa188"/><stop offset="0.168" stop-color="#2cb17e"/><stop offset="0.191" stop-color="#58c765"/><stop offset="0.202" stop-color="#65cb5e"/><stop offset="0.214" stop-color="#65cb5e"/><stop offset="0.225" stop-color="#58c765"/><stop offset="0.249" stop-color="#2db27d"/><stop offset="0.260" stop-color="#1fa287"/><stop offset="0.289" stop-color="#287c8e"/><stop offset="0.324" stop-color="#375a8c"/><stop offset="0.370" stop-color="#424186"/><stop offset="0.434" stop-color="#472f7d"/><stop offset="0.486" stop-color="#443a83"/><stop offset="0.584" stop-color="#33638d"/><stop offset="0.636" stop-color="#31678e"/><stop offset="0.694" stop-color="#39558c"/><stop offset="0.775" stop-color="#472d7b"/><stop offset="0.844" stop-color="#48186a"/><stop offset="0.988" stop-color="#481467"/><stop offset="1.000" stop-color="#481668"/></linearGradient><linearGradient id="hPC25"><stop offset="0.000" stop-color="#472d7b"/><stop offset="0.064" stop-color="#433d84"/><stop offset="0.098" stop-color="#3a548c"/><stop offset="0.145" stop-color="#228d8d"/><stop offset="0.162" stop-color="#21a685"/><stop offset="0.179" stop-color="#3bbb75"/><stop offset="0.197" stop-color="#56c667"/><stop offset="0.202" stop-color="#5cc863"/><stop offset="0.220" stop-color="#58c765"/><stop offset="0.243" stop-color="#32b67a"/><stop offset="0.260" stop-color="#1fa188"/><stop offset="0.295" stop-color="#2b748e"/><stop offset="0.329" stop-color="#39558c"/><stop offset="0.393" stop-color="#443983"/><stop offset="0.445" stop-color="#46307e"/><stop offset="0.491" stop-color="#433e85"/><stop offset="0.590" stop-color="#32658e"/><stop offset="0.653" stop-color="#32658e"/><stop offset="0.717" stop-color="#3e4a89"/><stop offset="0.803" stop-color="#482173"/><stop offset="0.884" stop-color="#481467"/><stop offset="1.000" stop-color="#481467"/></linearGradient><linearGradient id="hPC26"><stop offset="0.000" stop-color="#472f7d"/><stop offset="0.058" stop-color="#443a83"/><stop offset="0.098" stop-color="#3a548c"/><stop offset="0.139" stop-color="#26828e"/><stop offset="0.162" stop-color="#1fa287"/><stop offset="0.179" stop-color="#35b779"/><stop offset="0.197" stop-color="#4cc26c"/><stop offset="0.214" stop-color="#52c569"/><stop offset="0.237" stop-color="#37b878"/><stop offset="0.254" stop-color="#21a585"/><stop offset="0.272" stop-color="#218f8d"/><stop offset="0.318" stop-color="#355e8d"/><stop offset="0.364" stop-color="#404588"/><stop offset="0.434" stop-color="#46307e"/><stop offset="0.474" stop-color="#453781"/><stop offset="0.578" stop-color="#33628d"/><stop offset="0.636" stop-color="#31688e"/><stop offset="0.694" stop-color="#39568c"/><stop offset="0.780" stop-color="#472a7a"/><stop offset="0.850" stop-color="#481769"/><stop offset="0.960" stop-color="#471365"/><stop offset="1.000" stop-color="#481467"/></linearGradient><linearGradient id="hPC27"><stop offset="0.000" stop-color="#46307e"/><stop offset="0.064" stop-color="#433d84"/><stop offset="0.104" stop-color="#38598c"/><stop offset="0.156" stop-color="#1f978b"/><stop offset="0.173" stop-color="#26ad81"/><stop offset="0.197" stop-color="#42be71"/><stop offset="0.208" stop-color="#48c16e"/><stop offset="0.225" stop-color="#3dbc74"/><stop offset="0.254" stop-color="#1fa187"/><stop offset="0.289" stop-color="#2a788e"/><stop offset="0.329" stop-color="#39558c"/><stop offset="0.410" stop-color="#453581"/><stop offset="0.451" stop-color="#46327e"/><stop offset="0.497" stop-color="#424086"/><stop offset="0.584" stop-color="#32648e"/><stop offset="0.636" stop-color="#31688e"/><stop offset="0.694" stop-color="#39568c"/><stop offset="0.780" stop-color="#472a7a"/><stop offset="0.844" stop-color="#48186a"/><stop offset="0.931" stop-color="#471365"/><stop offset="1.000" stop-color="#481467"/></linearGradient><linearGradient id="hPC28"><stop offset="0.000" stop-color="#46337f"/><stop offset="0.058" stop-color="#443a83"/><stop offset="0.098" stop-color="#3a538b"/><stop offset="0.145" stop-color="#25858e"/><stop offset="0.168" stop-color="#1fa187"/><stop offset="0.197" stop-color="#38b977"/><stop offset="0.214" stop-color="#3bbb75"/><stop offset="0.243" stop-color="#24aa83"/><stop offset="0.260" stop-color="#1f978b"/><stop offset="0.306" stop-color="#31678e"/><stop offset="0.353" stop-color="#3e4989"/><stop offset="0.428" stop-color="#46327e"/><stop offset="0.468" stop-color="#453581"/><stop offset="0.578" stop-color="#33628d"/><stop offset="0.636" stop-color="#31688e"/><stop offset="0.688" stop-color="#38598c"/><stop offset="0.769" stop-color="#472f7d"/><stop offset="0.832" stop-color="#481a6c"/><stop offset="0.913" stop-color="#471365"/><stop offset="1.000" stop-color="#481467"/></linearGradient><linearGradient id="hPC29"><stop offset="0.000" stop-color="#453781"/><stop offset="0.058" stop-color="#443a83"/><stop offset="0.098" stop-color="#3b528b"/><stop offset="0.145" stop-color="#26828e"/><stop offset="0.168" stop-color="#1e9d89"/><stop offset="0.197" stop-color="#2eb37c"/><stop offset="0.214" stop-color="#31b57b"/><stop offset="0.237" stop-color="#24aa83"/><stop offset="0.260" stop-color="#20938c"/><stop offset="0.312" stop-color="#34618d"/><stop offset="0.370" stop-color="#414287"/><stop offset="0.439" stop-color="#46307e"/><stop offset="0.491" stop-color="#433e85"/><stop offset="0.584" stop-color="#33638d"/><stop offset="0.636" stop-color="#31678e"/><stop offset="0.694" stop-color="#39558c"/><stop offset="0.775" stop-color="#472c7a"/><stop offset="0.850" stop-color="#481668"/><stop offset="0.965" stop-color="#471365"/><stop offset="1.000" stop-color="#481467"/></linearGradient><linearGradient id="hPC30"><stop offset="0.000" stop-color="#443a83"/><stop offset="0.052" stop-color="#443983"/><stop offset="0.092" stop-color="#3d4d8a"/><stop offset="0.139" stop-color="#2a788e"/><stop offset="0.173" stop-color="#1f9e89"/><stop offset="0.197" stop-color="#26ad81"/><stop offset="0.220" stop-color="#27ad81"/><stop offset="0.249" stop-color="#1e9b8a"/><stop offset="0.312" stop-color="#34608d"/><stop offset="0.370" stop-color="#414287"/><stop offset="0.439" stop-color="#46307e"/><stop offset="0.480" stop-color="#443983"/><stop offset="0.590" stop-color="#32648e"/><stop offset="0.647" stop-color="#32658e"/><stop offset="0.717" stop-color="#3e4989"/><stop offset="0.798" stop-color="#482173"/><stop offset="0.873" stop-color="#471365"/><stop offset="1.000" stop-color="#471365"/></linearGradient><linearGradient id="hPC31"><stop offset="0.000" stop-color="#423f85"/><stop offset="0.052" stop-color="#443983"/><stop offset="0.092" stop-color="#3e4c8a"/><stop offset="0.145" stop-color="#297b8e"/><stop offset="0.179" stop-color="#1e9d89"/><stop offset="0.208" stop-color="#23a983"/><stop offset="0.237" stop-color="#1f9f88"/><stop offset="0.295" stop-color="#2f6c8e"/><stop offset="0.347" stop-color="#3e4c8a"/><stop offset="0.434" stop-color="#46307e"/><stop offset="0.474" stop-color="#453781"/><stop offset="0.584" stop-color="#34618d"/><stop offset="0.642" stop-color="#32658e"/><stop offset="0.705" stop-color="#3d4e8a"/><stop offset="0.798" stop-color="#482173"/><stop offset="0.873" stop-color="#471365"/><stop offset="1.000" stop-color="#471365"/></linearGradient><linearGradient id="hPC32"><stop offset="0.000" stop-color="#414487"/><stop offset="0.052" stop-color="#443a83"/><stop offset="0.092" stop-color="#3e4a89"/><stop offset="0.150" stop-color="#287d8e"/><stop offset="0.191" stop-color="#1f9e89"/><stop offset="0.220" stop-color="#1fa188"/><stop offset="0.254" stop-color="#228c8d"/><stop offset="0.318" stop-color="#375a8c"/><stop offset="0.410" stop-color="#453581"/><stop offset="0.451" stop-color="#46307e"/><stop offset="0.514" stop-color="#3f4788"/><stop offset="0.595" stop-color="#33628d"/><stop offset="0.647" stop-color="#33628d"/><stop offset="0.705" stop-color="#3d4d8a"/><stop offset="0.792" stop-color="#482374"/><stop offset="0.861" stop-color="#471365"/><stop offset="1.000" stop-color="#471365"/></linearGradient><linearGradient id="hPC33"><stop offset="0.000" stop-color="#3e4a89"/><stop offset="0.023" stop-color="#414487"/><stop offset="0.052" stop-color="#443a83"/><stop offset="0.092" stop-color="#3e4989"/><stop offset="0.156" stop-color="#277e8e"/><stop offset="0.191" stop-color="#1f978b"/><stop offset="0.220" stop-color="#1f9a8a"/><stop offset="0.260" stop-color="#26828e"/><stop offset="0.318" stop-color="#38598c"/><stop offset="0.405" stop-color="#453781"/><stop offset="0.451" stop-color="#46307e"/><stop offset="0.509" stop-color="#414487"/><stop offset="0.595" stop-color="#34618d"/><stop offset="0.647" stop-color="#34618d"/><stop offset="0.717" stop-color="#404688"/><stop offset="0.798" stop-color="#482071"/><stop offset="0.873" stop-color="#471164"/><stop offset="1.000" stop-color="#471365"/></linearGradient><linearGradient id="hPC34"><stop offset="0.000" stop-color="#3b528b"/><stop offset="0.023" stop-color="#3f4889"/><stop offset="0.052" stop-color="#443a83"/><stop offset="0.092" stop-color="#3f4889"/><stop offset="0.179" stop-color="#228b8d"/><stop offset="0.214" stop-color="#1f948c"/><stop offset="0.254" stop-color="#26828e"/><stop offset="0.324" stop-color="#3a548c"/><stop offset="0.422" stop-color="#46327e"/><stop offset="0.462" stop-color="#46327e"/><stop offset="0.578" stop-color="#365c8d"/><stop offset="0.630" stop-color="#34618d"/><stop offset="0.688" stop-color="#3b528b"/><stop offset="0.775" stop-color="#482878"/><stop offset="0.855" stop-color="#471365"/><stop offset="1.000" stop-color="#471365"/></linearGradient><linearGradient id="hPC35"><stop offset="0.000" stop-color="#375a8c"/><stop offset="0.017" stop-color="#3a538b"/><stop offset="0.046" stop-color="#433d84"/><stop offset="0.075" stop-color="#423f85"/><stop offset="0.127" stop-color="#355e8d"/><stop offset="0.185" stop-color="#24878e"/><stop offset="0.220" stop-color="#228d8d"/><stop offset="0.260" stop-color="#29798e"/><stop offset="0.335" stop-color="#3d4e8a"/><stop offset="0.434" stop-color="#472f7d"/><stop offset="0.480" stop-color="#453581"/><stop offset="0.584" stop-color="#375b8d"/><stop offset="0.642" stop-color="#355e8d"/><stop offset="0.705" stop-color="#3f4889"/><stop offset="0.798" stop-color="#481f70"/><stop offset="0.867" stop-color="#471164"/><stop offset="1.000" stop-color="#471164"/></linearGradient><linearGradient id="hPC36"><stop offset="0.000" stop-color="#33628d"/><stop offset="0.017" stop-color="#375a8c"/><stop offset="0.046" stop-color="#433e85"/><stop offset="0.075" stop-color="#433e85"/><stop offset="0.127" stop-color="#365c8d"/><stop offset="0.185" stop-color="#26828e"/><stop offset="0.220" stop-color="#24868e"/><stop offset="0.260" stop-color="#2b758e"/><stop offset="0.335" stop-color="#3d4d8a"/><stop offset="0.428" stop-color="#472f7d"/><stop offset="0.468" stop-color="#46327e"/><stop offset="0.584" stop-color="#38598c"/><stop offset="0.636" stop-color="#365c8d"/><stop offset="0.694" stop-color="#3e4c8a"/><stop offset="0.792" stop-color="#482071"/><stop offset="0.861" stop-color="#471164"/><stop offset="1.000" stop-color="#471164"/></linearGradient><linearGradient id="hPC37"><stop offset="0.000" stop-color="#2f6b8e"/><stop offset="0.017" stop-color="#34618d"/><stop offset="0.046" stop-color="#423f85"/><stop offset="0.069" stop-color="#443b84"/><stop offset="0.127" stop-color="#38598c"/><stop offset="0.185" stop-color="#287c8e"/><stop offset="0.220" stop-color="#26818e"/><stop offset="0.272" stop-color="#306a8e"/><stop offset="0.353" stop-color="#404588"/><stop offset="0.434" stop-color="#472e7c"/><stop offset="0.474" stop-color="#46327e"/><stop offset="0.584" stop-color="#39568c"/><stop offset="0.642" stop-color="#38598c"/><stop offset="0.699" stop-color="#3f4788"/><stop offset="0.792" stop-color="#481f70"/><stop offset="0.867" stop-color="#471063"/><stop offset="1.000" stop-color="#471164"/></linearGradient><linearGradient id="hPC38"><stop offset="0.000" stop-color="#2c728e"/><stop offset="0.012" stop-color="#2e6f8e"/><stop offset="0.046" stop-color="#414487"/><stop offset="0.069" stop-color="#443b84"/><stop offset="0.116" stop-color="#3c4f8a"/><stop offset="0.191" stop-color="#2a788e"/><stop offset="0.231" stop-color="#2a788e"/><stop offset="0.353" stop-color="#414487"/><stop offset="0.439" stop-color="#472d7b"/><stop offset="0.486" stop-color="#463480"/><stop offset="0.590" stop-color="#39558c"/><stop offset="0.653" stop-color="#3a548c"/><stop offset="0.734" stop-color="#463480"/><stop offset="0.815" stop-color="#481769"/><stop offset="0.908" stop-color="#470e61"/><stop offset="1.000" stop-color="#471164"/></linearGradient><linearGradient id="hPC39"><stop offset="0.000" stop-color="#297a8e"/><stop offset="0.012" stop-color="#2a768e"/><stop offset="0.046" stop-color="#3f4889"/><stop offset="0.064" stop-color="#433e85"/><stop offset="0.092" stop-color="#424186"/><stop offset="0.191" stop-color="#2c728e"/><stop offset="0.231" stop-color="#2c728e"/><stop offset="0.376" stop-color="#443b84"/><stop offset="0.445" stop-color="#472c7a"/><stop offset="0.491" stop-color="#453581"/><stop offset="0.595" stop-color="#3a538b"/><stop offset="0.653" stop-color="#3b518b"/><stop offset="0.728" stop-color="#453581"/><stop offset="0.809" stop-color="#48186a"/><stop offset="0.890" stop-color="#470e61"/><stop offset="1.000" stop-color="#471164"/></linearGradient><linearGradient id="hPC40"><stop offset="0.000" stop-color="#26818e"/><stop offset="0.012" stop-color="#287d8e"/><stop offset="0.052" stop-color="#3f4788"/><stop offset="0.075" stop-color="#433d84"/><stop offset="0.127" stop-color="#3c508b"/><stop offset="0.191" stop-color="#2e6d8e"/><stop offset="0.231" stop-color="#2e6e8e"/><stop offset="0.376" stop-color="#443a83"/><stop offset="0.445" stop-color="#472a7a"/><stop offset="0.503" stop-color="#453882"/><stop offset="0.590" stop-color="#3c508b"/><stop offset="0.647" stop-color="#3c4f8a"/><stop offset="0.717" stop-color="#443983"/><stop offset="0.803" stop-color="#48186a"/><stop offset="0.884" stop-color="#470e61"/><stop offset="1.000" stop-color="#471164"/></linearGradient><linearGradient id="hPC41"><stop offset="0.000" stop-color="#24878e"/><stop offset="0.017" stop-color="#287d8e"/><stop offset="0.052" stop-color="#3e4c8a"/><stop offset="0.075" stop-color="#433e85"/><stop offset="0.110" stop-color="#404588"/><stop offset="0.191" stop-color="#31688e"/><stop offset="0.237" stop-color="#31678e"/><stop offset="0.399" stop-color="#46337f"/><stop offset="0.451" stop-color="#472a7a"/><stop offset="0.509" stop-color="#453882"/><stop offset="0.595" stop-color="#3d4e8a"/><stop offset="0.659" stop-color="#3e4a89"/><stop offset="0.746" stop-color="#472a7a"/><stop offset="0.827" stop-color="#471365"/><stop offset="0.936" stop-color="#470d60"/><stop offset="1.000" stop-color="#471063"/></linearGradient><linearGradient id="hPC42"><stop offset="0.000" stop-color="#228c8d"/><stop offset="0.017" stop-color="#26828e"/><stop offset="0.058" stop-color="#3e4989"/><stop offset="0.081" stop-color="#433e85"/><stop offset="0.127" stop-color="#3e4a89"/><stop offset="0.197" stop-color="#32648e"/><stop offset="0.249" stop-color="#34608d"/><stop offset="0.399" stop-color="#46327e"/><stop offset="0.451" stop-color="#482979"/><stop offset="0.514" stop-color="#453882"/><stop offset="0.601" stop-color="#3e4c8a"/><stop offset="0.665" stop-color="#404688"/><stop offset="0.763" stop-color="#482374"/><stop offset="0.844" stop-color="#471063"/><stop offset="0.977" stop-color="#470e61"/><stop offset="1.000" stop-color="#471063"/></linearGradient><linearGradient id="hPC43"><stop offset="0.000" stop-color="#21908d"/><stop offset="0.017" stop-color="#24868e"/><stop offset="0.058" stop-color="#3d4e8a"/><stop offset="0.081" stop-color="#423f85"/><stop offset="0.116" stop-color="#414487"/><stop offset="0.197" stop-color="#355f8d"/><stop offset="0.249" stop-color="#365c8d"/><stop offset="0.405" stop-color="#472f7d"/><stop offset="0.451" stop-color="#482878"/><stop offset="0.526" stop-color="#443983"/><stop offset="0.601" stop-color="#3f4889"/><stop offset="0.659" stop-color="#414487"/><stop offset="0.751" stop-color="#482576"/><stop offset="0.827" stop-color="#471164"/><stop offset="0.948" stop-color="#470d60"/><stop offset="1.000" stop-color="#471063"/></linearGradient><linearGradient id="hPC44"><stop offset="0.000" stop-color="#20928c"/><stop offset="0.017" stop-color="#238a8d"/><stop offset="0.064" stop-color="#3e4a89"/><stop offset="0.092" stop-color="#433e85"/><stop offset="0.150" stop-color="#3d4e8a"/><stop offset="0.208" stop-color="#365c8d"/><stop offset="0.277" stop-color="#3c508b"/><stop offset="0.439" stop-color="#482677"/><stop offset="0.491" stop-color="#472e7c"/><stop offset="0.601" stop-color="#404588"/><stop offset="0.665" stop-color="#424086"/><stop offset="0.809" stop-color="#481467"/><stop offset="0.896" stop-color="#470d60"/><stop offset="1.000" stop-color="#471063"/></linearGradient><linearGradient id="hPC45"><stop offset="0.000" stop-color="#1f958b"/><stop offset="0.017" stop-color="#228d8d"/><stop offset="0.064" stop-color="#3d4e8a"/><stop offset="0.087" stop-color="#423f85"/><stop offset="0.127" stop-color="#414287"/><stop offset="0.202" stop-color="#39568c"/><stop offset="0.266" stop-color="#3c508b"/><stop offset="0.410" stop-color="#472a7a"/><stop offset="0.462" stop-color="#482677"/><stop offset="0.601" stop-color="#414287"/><stop offset="0.676" stop-color="#443a83"/><stop offset="0.809" stop-color="#471365"/><stop offset="0.919" stop-color="#460b5e"/><stop offset="1.000" stop-color="#471063"/></linearGradient><linearGradient id="hPC46"><stop offset="0.000" stop-color="#1f978b"/><stop offset="0.017" stop-color="#218f8d"/><stop offset="0.069" stop-color="#3e4a89"/><stop offset="0.098" stop-color="#433d84"/><stop offset="0.168" stop-color="#3e4c8a"/><stop offset="0.225" stop-color="#3b528b"/><stop offset="0.370" stop-color="#453581"/><stop offset="0.445" stop-color="#482475"/><stop offset="0.520" stop-color="#46327e"/><stop offset="0.607" stop-color="#423f85"/><stop offset="0.671" stop-color="#443983"/><stop offset="0.815" stop-color="#471164"/><stop offset="0.925" stop-color="#460b5e"/><stop offset="1.000" stop-color="#471063"/></linearGradient><linearGradient id="hPC47"><stop offset="0.000" stop-color="#1f988b"/><stop offset="0.017" stop-color="#21918c"/><stop offset="0.069" stop-color="#3d4e8a"/><stop offset="0.092" stop-color="#423f85"/><stop offset="0.127" stop-color="#423f85"/><stop offset="0.220" stop-color="#3c4f8a"/><stop offset="0.364" stop-color="#453581"/><stop offset="0.445" stop-color="#482374"/><stop offset="0.595" stop-color="#443b84"/><stop offset="0.665" stop-color="#453781"/><stop offset="0.821" stop-color="#471063"/><stop offset="0.931" stop-color="#460b5e"/><stop offset="1.000" stop-color="#471063"/></linearGradient><linearGradient id="hPC48"><stop offset="0.000" stop-color="#1f998a"/><stop offset="0.017" stop-color="#20928c"/><stop offset="0.069" stop-color="#3c508b"/><stop offset="0.098" stop-color="#433e85"/><stop offset="0.139" stop-color="#423f85"/><stop offset="0.220" stop-color="#3e4a89"/><stop offset="0.335" stop-color="#443983"/><stop offset="0.451" stop-color="#482173"/><stop offset="0.595" stop-color="#443983"/><stop offset="0.671" stop-color="#46337f"/><stop offset="0.827" stop-color="#470e61"/><stop offset="0.971" stop-color="#470d60"/><stop offset="1.000" stop-color="#471063"/></linearGradient><linearGradient id="hPC49"><stop offset="0.000" stop-color="#1f998a"/><stop offset="0.023" stop-color="#218e8d"/><stop offset="0.075" stop-color="#3d4d8a"/><stop offset="0.104" stop-color="#433d84"/><stop offset="0.150" stop-color="#423f85"/><stop offset="0.231" stop-color="#3f4788"/><stop offset="0.393" stop-color="#472c7a"/><stop offset="0.451" stop-color="#482071"/><stop offset="0.590" stop-color="#453581"/><stop offset="0.671" stop-color="#46307e"/><stop offset="0.821" stop-color="#470e61"/><stop offset="0.971" stop-color="#470d60"/><stop offset="1.000" stop-color="#471063"/></linearGradient><linearGradient id="hPC50"><stop offset="0.000" stop-color="#1f9a8a"/><stop offset="0.023" stop-color="#218f8d"/><stop offset="0.075" stop-color="#3c4f8a"/><stop offset="0.104" stop-color="#433d84"/><stop offset="0.150" stop-color="#433d84"/><stop offset="0.237" stop-color="#414487"/><stop offset="0.393" stop-color="#472a7a"/><stop offset="0.445" stop-color="#482071"/><stop offset="0.514" stop-color="#472a7a"/><stop offset="0.613" stop-color="#46337f"/><stop offset="0.688" stop-color="#472a7a"/><stop offset="0.821" stop-color="#470e61"/><stop offset="0.971" stop-color="#470d60"/><stop offset="1.000" stop-color="#471063"/></linearGradient><linearGradient id="hPC51"><stop offset="0.000" stop-color="#1f9a8a"/><stop offset="0.023" stop-color="#21908d"/><stop offset="0.081" stop-color="#3e4c8a"/><stop offset="0.110" stop-color="#443b84"/><stop offset="0.168" stop-color="#433d84"/><stop offset="0.260" stop-color="#423f85"/><stop offset="0.393" stop-color="#482979"/><stop offset="0.451" stop-color="#481f70"/><stop offset="0.595" stop-color="#46307e"/><stop offset="0.682" stop-color="#482979"/><stop offset="0.827" stop-color="#470d60"/><stop offset="1.000" stop-color="#470e61"/></linearGradient><linearGradient id="hPC52"><stop offset="0.000" stop-color="#1f9a8a"/><stop offset="0.017" stop-color="#1f948c"/><stop offset="0.052" stop-color="#2e6f8e"/><stop offset="0.092" stop-color="#414487"/><stop offset="0.127" stop-color="#453882"/><stop offset="0.243" stop-color="#433d84"/><stop offset="0.382" stop-color="#472a7a"/><stop offset="0.451" stop-color="#481d6f"/><stop offset="0.595" stop-color="#472e7c"/><stop offset="0.676" stop-color="#482878"/><stop offset="0.827" stop-color="#470d60"/><stop offset="0.948" stop-color="#460b5e"/><stop offset="1.000" stop-color="#470e61"/></linearGradient><linearGradient id="hPC53"><stop offset="0.000" stop-color="#1f9a8a"/><stop offset="0.023" stop-color="#21918c"/><stop offset="0.081" stop-color="#3c4f8a"/><stop offset="0.116" stop-color="#443983"/><stop offset="0.185" stop-color="#443983"/><stop offset="0.266" stop-color="#443983"/><stop offset="0.399" stop-color="#482576"/><stop offset="0.457" stop-color="#481c6e"/><stop offset="0.578" stop-color="#472c7a"/><stop offset="0.671" stop-color="#482677"/><stop offset="0.827" stop-color="#470d60"/><stop offset="0.948" stop-color="#460b5e"/><stop offset="1.000" stop-color="#470e61"/></linearGradient><linearGradient id="hPC54"><stop offset="0.000" stop-color="#1f9a8a"/><stop offset="0.023" stop-color="#21918c"/><stop offset="0.081" stop-color="#3b518b"/><stop offset="0.110" stop-color="#443b84"/><stop offset="0.150" stop-color="#453581"/><stop offset="0.283" stop-color="#453581"/><stop offset="0.410" stop-color="#482173"/><stop offset="0.462" stop-color="#481c6e"/><stop offset="0.595" stop-color="#472a7a"/><stop offset="0.705" stop-color="#481f70"/><stop offset="0.844" stop-color="#460b5e"/><stop offset="0.977" stop-color="#470d60"/><stop offset="1.000" stop-color="#470e61"/></linearGradient></defs><rect x="361.40" y="2024.30" width="173.00" height="4.60" fill="url(#hPC0)"/><rect x="361.40" y="2028.30" width="173.00" height="4.60" fill="url(#hPC1)"/><rect x="361.40" y="2032.30" width="173.00" height="4.60" fill="url(#hPC2)"/><rect x="361.40" y="2036.30" width="173.00" height="4.60" fill="url(#hPC3)"/><rect x="361.40" y="2040.30" width="173.00" height="4.60" fill="url(#hPC4)"/><rect x="361.40" y="2044.30" width="173.00" height="4.60" fill="url(#hPC5)"/><rect x="361.40" y="2048.30" width="173.00" height="4.60" fill="url(#hPC6)"/><rect x="361.40" y="2052.30" width="173.00" height="4.60" fill="url(#hPC7)"/><rect x="361.40" y="2056.30" width="173.00" height="4.60" fill="url(#hPC8)"/><rect x="361.40" y="2060.30" width="173.00" height="4.60" fill="url(#hPC9)"/><rect x="361.40" y="2064.30" width="173.00" height="4.60" fill="url(#hPC10)"/><rect x="361.40" y="2068.30" width="173.00" height="4.60" fill="url(#hPC11)"/><rect x="361.40" y="2072.30" width="173.00" height="4.60" fill="url(#hPC12)"/><rect x="361.40" y="2076.30" width="173.00" height="4.60" fill="url(#hPC13)"/><rect x="361.40" y="2080.30" width="173.00" height="4.60" fill="url(#hPC14)"/><rect x="361.40" y="2084.30" width="173.00" height="4.60" fill="url(#hPC15)"/><rect x="361.40" y="2088.30" width="173.00" height="4.60" fill="url(#hPC16)"/><rect x="361.40" y="2092.30" width="173.00" height="4.60" fill="url(#hPC17)"/><rect x="361.40" y="2096.30" width="173.00" height="4.60" fill="url(#hPC18)"/><rect x="361.40" y="2100.30" width="173.00" height="4.60" fill="url(#hPC19)"/><rect x="361.40" y="2104.30" width="173.00" height="4.60" fill="url(#hPC20)"/><rect x="361.40" y="2108.30" width="173.00" height="4.60" fill="url(#hPC21)"/><rect x="361.40" y="2112.30" width="173.00" height="4.60" fill="url(#hPC22)"/><rect x="361.40" y="2116.30" width="173.00" height="4.60" fill="url(#hPC23)"/><rect x="361.40" y="2120.30" width="173.00" height="4.60" fill="url(#hPC24)"/><rect x="361.40" y="2124.30" width="173.00" height="4.60" fill="url(#hPC25)"/><rect x="361.40" y="2128.30" width="173.00" height="4.60" fill="url(#hPC26)"/><rect x="361.40" y="2132.30" width="173.00" height="4.60" fill="url(#hPC27)"/><rect x="361.40" y="2136.30" width="173.00" height="4.60" fill="url(#hPC28)"/><rect x="361.40" y="2140.30" width="173.00" height="4.60" fill="url(#hPC29)"/><rect x="361.40" y="2144.30" width="173.00" height="4.60" fill="url(#hPC30)"/><rect x="361.40" y="2148.30" width="173.00" height="4.60" fill="url(#hPC31)"/><rect x="361.40" y="2152.30" width="173.00" height="4.60" fill="url(#hPC32)"/><rect x="361.40" y="2156.30" width="173.00" height="4.60" fill="url(#hPC33)"/><rect x="361.40" y="2160.30" width="173.00" height="4.60" fill="url(#hPC34)"/><rect x="361.40" y="2164.30" width="173.00" height="4.60" fill="url(#hPC35)"/><rect x="361.40" y="2168.30" width="173.00" height="4.60" fill="url(#hPC36)"/><rect x="361.40" y="2172.30" width="173.00" height="4.60" fill="url(#hPC37)"/><rect x="361.40" y="2176.30" width="173.00" height="4.60" fill="url(#hPC38)"/><rect x="361.40" y="2180.30" width="173.00" height="4.60" fill="url(#hPC39)"/><rect x="361.40" y="2184.30" width="173.00" height="4.60" fill="url(#hPC40)"/><rect x="361.40" y="2188.30" width="173.00" height="4.60" fill="url(#hPC41)"/><rect x="361.40" y="2192.30" width="173.00" height="4.60" fill="url(#hPC42)"/><rect x="361.40" y="2196.30" width="173.00" height="4.60" fill="url(#hPC43)"/><rect x="361.40" y="2200.30" width="173.00" height="4.60" fill="url(#hPC44)"/><rect x="361.40" y="2204.30" width="173.00" height="4.60" fill="url(#hPC45)"/><rect x="361.40" y="2208.30" width="173.00" height="4.60" fill="url(#hPC46)"/><rect x="361.40" y="2212.30" width="173.00" height="4.60" fill="url(#hPC47)"/><rect x="361.40" y="2216.30" width="173.00" height="4.60" fill="url(#hPC48)"/><rect x="361.40" y="2220.30" width="173.00" height="4.60" fill="url(#hPC49)"/><rect x="361.40" y="2224.30" width="173.00" height="4.60" fill="url(#hPC50)"/><rect x="361.40" y="2228.30" width="173.00" height="4.60" fill="url(#hPC51)"/><rect x="361.40" y="2232.30" width="173.00" height="4.60" fill="url(#hPC52)"/><rect x="361.40" y="2236.30" width="173.00" height="4.60" fill="url(#hPC53)"/><rect x="361.40" y="2240.30" width="173.00" height="4.30" fill="url(#hPC54)"/>
<rect x="361.40" y="2024.30" width="173.00" height="219.70" fill="none" stroke="#111" stroke-width="1"/>
<line x1="346.90" y1="2024.30" x2="361.40" y2="2024.30" stroke="#333" stroke-width="1.2" stroke-linecap="butt"/>
<line x1="346.90" y1="2112.18" x2="361.40" y2="2112.18" stroke="#333" stroke-width="1.2" stroke-linecap="butt"/>
<line x1="346.90" y1="2200.06" x2="361.40" y2="2200.06" stroke="#333" stroke-width="1.2" stroke-linecap="butt"/>
<line x1="361.40" y1="2244.00" x2="361.40" y2="2258.00" stroke="#333" stroke-width="1.2" stroke-linecap="butt"/>
<text transform="translate(350.19,2286.76)" font-family="'DejaVu Sans', sans-serif" font-weight="bold" fill="#000"><tspan x="0.00" y="0.00" font-size="30.50">1</tspan></text>
<line x1="438.29" y1="2244.00" x2="438.29" y2="2258.00" stroke="#333" stroke-width="1.2" stroke-linecap="butt"/>
<text transform="translate(427.61,2286.76)" font-family="'DejaVu Sans', sans-serif" font-weight="bold" fill="#000"><tspan x="0.00" y="0.00" font-size="30.50">5</tspan></text>
<line x1="534.40" y1="2244.00" x2="534.40" y2="2258.00" stroke="#333" stroke-width="1.2" stroke-linecap="butt"/>
<text transform="translate(512.21,2287.07)" font-family="'DejaVu Sans', sans-serif" font-weight="bold" fill="#000"><tspan x="0.00" y="0.00" font-size="30.50">10</tspan></text>
<defs><linearGradient id="hOBPC0"><stop offset="0.000" stop-color="#32658e"/><stop offset="0.013" stop-color="#375a8c"/><stop offset="0.032" stop-color="#453781"/><stop offset="0.044" stop-color="#472c7a"/><stop offset="0.082" stop-color="#46337f"/><stop offset="0.165" stop-color="#3a548c"/><stop offset="0.203" stop-color="#3a538b"/><stop offset="0.316" stop-color="#482878"/><stop offset="0.437" stop-color="#481467"/><stop offset="0.627" stop-color="#482878"/><stop offset="0.747" stop-color="#482071"/><stop offset="0.899" stop-color="#481769"/><stop offset="1.000" stop-color="#481769"/></linearGradient><linearGradient id="hOBPC1"><stop offset="0.000" stop-color="#32658e"/><stop offset="0.013" stop-color="#375a8c"/><stop offset="0.032" stop-color="#453781"/><stop offset="0.051" stop-color="#472c7a"/><stop offset="0.114" stop-color="#404588"/><stop offset="0.165" stop-color="#375b8d"/><stop offset="0.203" stop-color="#375a8c"/><stop offset="0.297" stop-color="#472f7d"/><stop offset="0.405" stop-color="#481769"/><stop offset="0.475" stop-color="#481769"/><stop offset="0.601" stop-color="#482979"/><stop offset="0.709" stop-color="#482677"/><stop offset="0.867" stop-color="#481769"/><stop offset="1.000" stop-color="#481769"/></linearGradient><linearGradient id="hOBPC2"><stop offset="0.000" stop-color="#32658e"/><stop offset="0.013" stop-color="#375a8c"/><stop offset="0.038" stop-color="#46307e"/><stop offset="0.057" stop-color="#472e7c"/><stop offset="0.114" stop-color="#3e4989"/><stop offset="0.158" stop-color="#34618d"/><stop offset="0.196" stop-color="#33628d"/><stop offset="0.285" stop-color="#453781"/><stop offset="0.361" stop-color="#481f70"/><stop offset="0.449" stop-color="#481467"/><stop offset="0.614" stop-color="#472d7b"/><stop offset="0.703" stop-color="#482979"/><stop offset="0.848" stop-color="#48186a"/><stop offset="1.000" stop-color="#481769"/></linearGradient><linearGradient id="hOBPC3"><stop offset="0.000" stop-color="#32658e"/><stop offset="0.013" stop-color="#375a8c"/><stop offset="0.032" stop-color="#443983"/><stop offset="0.044" stop-color="#472e7c"/><stop offset="0.082" stop-color="#443a83"/><stop offset="0.158" stop-color="#31688e"/><stop offset="0.196" stop-color="#306a8e"/><stop offset="0.278" stop-color="#443b84"/><stop offset="0.348" stop-color="#482374"/><stop offset="0.437" stop-color="#481668"/><stop offset="0.506" stop-color="#481f70"/><stop offset="0.620" stop-color="#472f7d"/><stop offset="0.703" stop-color="#472c7a"/><stop offset="0.848" stop-color="#48186a"/><stop offset="1.000" stop-color="#481668"/></linearGradient><linearGradient id="hOBPC4"><stop offset="0.000" stop-color="#32658e"/><stop offset="0.006" stop-color="#33638d"/><stop offset="0.032" stop-color="#443983"/><stop offset="0.044" stop-color="#472f7d"/><stop offset="0.076" stop-color="#443983"/><stop offset="0.152" stop-color="#2e6d8e"/><stop offset="0.184" stop-color="#2b748e"/><stop offset="0.222" stop-color="#32648e"/><stop offset="0.291" stop-color="#453781"/><stop offset="0.380" stop-color="#481c6e"/><stop offset="0.449" stop-color="#481668"/><stop offset="0.620" stop-color="#46337f"/><stop offset="0.703" stop-color="#472e7c"/><stop offset="0.848" stop-color="#48186a"/><stop offset="1.000" stop-color="#481668"/></linearGradient><linearGradient id="hOBPC5"><stop offset="0.000" stop-color="#32658e"/><stop offset="0.006" stop-color="#33638d"/><stop offset="0.032" stop-color="#443a83"/><stop offset="0.044" stop-color="#46307e"/><stop offset="0.070" stop-color="#453882"/><stop offset="0.127" stop-color="#33628d"/><stop offset="0.165" stop-color="#297b8e"/><stop offset="0.196" stop-color="#297a8e"/><stop offset="0.253" stop-color="#3b528b"/><stop offset="0.304" stop-color="#46337f"/><stop offset="0.373" stop-color="#481f70"/><stop offset="0.449" stop-color="#481668"/><stop offset="0.601" stop-color="#463480"/><stop offset="0.684" stop-color="#463480"/><stop offset="0.842" stop-color="#48186a"/><stop offset="1.000" stop-color="#481668"/></linearGradient><linearGradient id="hOBPC6"><stop offset="0.000" stop-color="#32658e"/><stop offset="0.006" stop-color="#33638d"/><stop offset="0.032" stop-color="#443a83"/><stop offset="0.044" stop-color="#46327e"/><stop offset="0.063" stop-color="#453781"/><stop offset="0.114" stop-color="#365d8d"/><stop offset="0.158" stop-color="#26818e"/><stop offset="0.190" stop-color="#25858e"/><stop offset="0.228" stop-color="#2e6d8e"/><stop offset="0.285" stop-color="#423f85"/><stop offset="0.342" stop-color="#482677"/><stop offset="0.424" stop-color="#481769"/><stop offset="0.481" stop-color="#481c6e"/><stop offset="0.601" stop-color="#453781"/><stop offset="0.671" stop-color="#443983"/><stop offset="0.835" stop-color="#481a6c"/><stop offset="1.000" stop-color="#481668"/></linearGradient><linearGradient id="hOBPC7"><stop offset="0.000" stop-color="#32658e"/><stop offset="0.006" stop-color="#33638d"/><stop offset="0.032" stop-color="#443b84"/><stop offset="0.044" stop-color="#46337f"/><stop offset="0.070" stop-color="#443b84"/><stop offset="0.120" stop-color="#31688e"/><stop offset="0.158" stop-color="#238a8d"/><stop offset="0.184" stop-color="#21908d"/><stop offset="0.209" stop-color="#25838e"/><stop offset="0.278" stop-color="#404688"/><stop offset="0.323" stop-color="#472e7c"/><stop offset="0.399" stop-color="#481a6c"/><stop offset="0.462" stop-color="#481a6c"/><stop offset="0.601" stop-color="#443a83"/><stop offset="0.665" stop-color="#433d84"/><stop offset="0.810" stop-color="#481d6f"/><stop offset="0.930" stop-color="#481668"/><stop offset="1.000" stop-color="#481668"/></linearGradient><linearGradient id="hOBPC8"><stop offset="0.000" stop-color="#32658e"/><stop offset="0.013" stop-color="#365c8d"/><stop offset="0.032" stop-color="#443b84"/><stop offset="0.051" stop-color="#463480"/><stop offset="0.089" stop-color="#3d4d8a"/><stop offset="0.152" stop-color="#218f8d"/><stop offset="0.177" stop-color="#1e9b8a"/><stop offset="0.203" stop-color="#20928c"/><stop offset="0.266" stop-color="#3b528b"/><stop offset="0.316" stop-color="#46327e"/><stop offset="0.380" stop-color="#481d6f"/><stop offset="0.443" stop-color="#481769"/><stop offset="0.595" stop-color="#433d84"/><stop offset="0.658" stop-color="#424186"/><stop offset="0.747" stop-color="#472e7c"/><stop offset="0.854" stop-color="#48186a"/><stop offset="1.000" stop-color="#481668"/></linearGradient><linearGradient id="hOBPC9"><stop offset="0.000" stop-color="#32658e"/><stop offset="0.013" stop-color="#365c8d"/><stop offset="0.032" stop-color="#433d84"/><stop offset="0.044" stop-color="#453581"/><stop offset="0.070" stop-color="#424086"/><stop offset="0.114" stop-color="#2f6c8e"/><stop offset="0.152" stop-color="#1f988b"/><stop offset="0.177" stop-color="#21a585"/><stop offset="0.203" stop-color="#1e9b8a"/><stop offset="0.253" stop-color="#33638d"/><stop offset="0.297" stop-color="#433d84"/><stop offset="0.361" stop-color="#482374"/><stop offset="0.437" stop-color="#481769"/><stop offset="0.513" stop-color="#482979"/><stop offset="0.614" stop-color="#414487"/><stop offset="0.684" stop-color="#424186"/><stop offset="0.829" stop-color="#481c6e"/><stop offset="0.949" stop-color="#481467"/><stop offset="1.000" stop-color="#481668"/></linearGradient><linearGradient id="hOBPC10"><stop offset="0.000" stop-color="#32658e"/><stop offset="0.013" stop-color="#365c8d"/><stop offset="0.032" stop-color="#433e85"/><stop offset="0.044" stop-color="#453781"/><stop offset="0.070" stop-color="#424186"/><stop offset="0.114" stop-color="#2d718e"/><stop offset="0.146" stop-color="#1f9a8a"/><stop offset="0.171" stop-color="#28ae80"/><stop offset="0.190" stop-color="#26ad81"/><stop offset="0.215" stop-color="#1f978b"/><stop offset="0.266" stop-color="#375a8c"/><stop offset="0.304" stop-color="#443a83"/><stop offset="0.367" stop-color="#482173"/><stop offset="0.437" stop-color="#48186a"/><stop offset="0.494" stop-color="#482475"/><stop offset="0.595" stop-color="#414487"/><stop offset="0.658" stop-color="#3f4889"/><stop offset="0.728" stop-color="#443983"/><stop offset="0.829" stop-color="#481c6e"/><stop offset="0.949" stop-color="#481467"/><stop offset="1.000" stop-color="#481467"/></linearGradient><linearGradient id="hOBPC11"><stop offset="0.000" stop-color="#32658e"/><stop offset="0.013" stop-color="#365c8d"/><stop offset="0.032" stop-color="#433e85"/><stop offset="0.044" stop-color="#453781"/><stop offset="0.070" stop-color="#414487"/><stop offset="0.108" stop-color="#2e6d8e"/><stop offset="0.139" stop-color="#1f9a8a"/><stop offset="0.152" stop-color="#24aa83"/><stop offset="0.171" stop-color="#37b878"/><stop offset="0.190" stop-color="#34b679"/><stop offset="0.215" stop-color="#1f9f88"/><stop offset="0.253" stop-color="#2f6b8e"/><stop offset="0.291" stop-color="#404588"/><stop offset="0.335" stop-color="#472c7a"/><stop offset="0.411" stop-color="#481a6c"/><stop offset="0.462" stop-color="#481c6e"/><stop offset="0.582" stop-color="#414487"/><stop offset="0.639" stop-color="#3d4d8a"/><stop offset="0.703" stop-color="#414487"/><stop offset="0.829" stop-color="#481c6e"/><stop offset="0.937" stop-color="#481467"/><stop offset="1.000" stop-color="#481467"/></linearGradient><linearGradient id="hOBPC12"><stop offset="0.000" stop-color="#32658e"/><stop offset="0.013" stop-color="#365c8d"/><stop offset="0.032" stop-color="#423f85"/><stop offset="0.044" stop-color="#453882"/><stop offset="0.070" stop-color="#404588"/><stop offset="0.108" stop-color="#2c718e"/><stop offset="0.133" stop-color="#1f988b"/><stop offset="0.146" stop-color="#25ab82"/><stop offset="0.165" stop-color="#40bd72"/><stop offset="0.177" stop-color="#4ac16d"/><stop offset="0.190" stop-color="#44bf70"/><stop offset="0.215" stop-color="#21a685"/><stop offset="0.228" stop-color="#20938c"/><stop offset="0.272" stop-color="#38588c"/><stop offset="0.316" stop-color="#453581"/><stop offset="0.380" stop-color="#482071"/><stop offset="0.437" stop-color="#48186a"/><stop offset="0.500" stop-color="#482979"/><stop offset="0.595" stop-color="#3e4a89"/><stop offset="0.652" stop-color="#3b518b"/><stop offset="0.715" stop-color="#414287"/><stop offset="0.823" stop-color="#481f70"/><stop offset="0.911" stop-color="#481467"/><stop offset="1.000" stop-color="#481467"/></linearGradient><linearGradient id="hOBPC13"><stop offset="0.000" stop-color="#32658e"/><stop offset="0.013" stop-color="#365c8d"/><stop offset="0.032" stop-color="#423f85"/><stop offset="0.044" stop-color="#443983"/><stop offset="0.063" stop-color="#424186"/><stop offset="0.095" stop-color="#33638d"/><stop offset="0.127" stop-color="#20938c"/><stop offset="0.139" stop-color="#22a884"/><stop offset="0.158" stop-color="#46c06f"/><stop offset="0.171" stop-color="#5ac864"/><stop offset="0.177" stop-color="#5ec962"/><stop offset="0.190" stop-color="#56c667"/><stop offset="0.209" stop-color="#32b67a"/><stop offset="0.222" stop-color="#20a386"/><stop offset="0.241" stop-color="#25848e"/><stop offset="0.278" stop-color="#3a538b"/><stop offset="0.316" stop-color="#453781"/><stop offset="0.373" stop-color="#482173"/><stop offset="0.443" stop-color="#481a6c"/><stop offset="0.513" stop-color="#472f7d"/><stop offset="0.608" stop-color="#3b518b"/><stop offset="0.658" stop-color="#3a548c"/><stop offset="0.728" stop-color="#424186"/><stop offset="0.823" stop-color="#481f70"/><stop offset="0.918" stop-color="#481467"/><stop offset="1.000" stop-color="#481467"/></linearGradient><linearGradient id="hOBPC14"><stop offset="0.000" stop-color="#32658e"/><stop offset="0.013" stop-color="#365c8d"/><stop offset="0.032" stop-color="#423f85"/><stop offset="0.044" stop-color="#443983"/><stop offset="0.070" stop-color="#3f4889"/><stop offset="0.101" stop-color="#2e6f8e"/><stop offset="0.127" stop-color="#1f988b"/><stop offset="0.133" stop-color="#20a386"/><stop offset="0.139" stop-color="#27ad81"/><stop offset="0.158" stop-color="#56c667"/><stop offset="0.171" stop-color="#6ece58"/><stop offset="0.184" stop-color="#70cf57"/><stop offset="0.190" stop-color="#69cd5b"/><stop offset="0.209" stop-color="#3dbc74"/><stop offset="0.222" stop-color="#23a983"/><stop offset="0.234" stop-color="#20938c"/><stop offset="0.266" stop-color="#32648e"/><stop offset="0.304" stop-color="#423f85"/><stop offset="0.354" stop-color="#482677"/><stop offset="0.430" stop-color="#481a6c"/><stop offset="0.481" stop-color="#482475"/><stop offset="0.570" stop-color="#3e4989"/><stop offset="0.633" stop-color="#38598c"/><stop offset="0.684" stop-color="#3a538b"/><stop offset="0.772" stop-color="#46307e"/><stop offset="0.848" stop-color="#481a6c"/><stop offset="0.968" stop-color="#471365"/><stop offset="1.000" stop-color="#481467"/></linearGradient><linearGradient id="hOBPC15"><stop offset="0.000" stop-color="#32658e"/><stop offset="0.013" stop-color="#365c8d"/><stop offset="0.032" stop-color="#424086"/><stop offset="0.044" stop-color="#443a83"/><stop offset="0.070" stop-color="#3e4989"/><stop offset="0.101" stop-color="#2d718e"/><stop offset="0.127" stop-color="#1e9c89"/><stop offset="0.133" stop-color="#22a884"/><stop offset="0.146" stop-color="#3fbc73"/><stop offset="0.165" stop-color="#75d054"/><stop offset="0.177" stop-color="#84d44b"/><stop offset="0.190" stop-color="#7ad151"/><stop offset="0.209" stop-color="#48c16e"/><stop offset="0.222" stop-color="#27ad81"/><stop offset="0.228" stop-color="#1fa287"/><stop offset="0.247" stop-color="#26828e"/><stop offset="0.285" stop-color="#3c508b"/><stop offset="0.323" stop-color="#463480"/><stop offset="0.392" stop-color="#481d6f"/><stop offset="0.443" stop-color="#481b6d"/><stop offset="0.500" stop-color="#472d7b"/><stop offset="0.582" stop-color="#3b518b"/><stop offset="0.646" stop-color="#365d8d"/><stop offset="0.703" stop-color="#3b518b"/><stop offset="0.797" stop-color="#482878"/><stop offset="0.867" stop-color="#481769"/><stop offset="1.000" stop-color="#481467"/></linearGradient><linearGradient id="hOBPC16"><stop offset="0.000" stop-color="#32658e"/><stop offset="0.013" stop-color="#365c8d"/><stop offset="0.032" stop-color="#424086"/><stop offset="0.044" stop-color="#443a83"/><stop offset="0.070" stop-color="#3e4a89"/><stop offset="0.101" stop-color="#2c728e"/><stop offset="0.127" stop-color="#1fa088"/><stop offset="0.133" stop-color="#25ac82"/><stop offset="0.139" stop-color="#34b679"/><stop offset="0.158" stop-color="#70cf57"/><stop offset="0.165" stop-color="#81d34d"/><stop offset="0.177" stop-color="#90d743"/><stop offset="0.184" stop-color="#90d743"/><stop offset="0.196" stop-color="#77d153"/><stop offset="0.215" stop-color="#3dbc74"/><stop offset="0.222" stop-color="#2cb17e"/><stop offset="0.228" stop-color="#21a685"/><stop offset="0.241" stop-color="#218f8d"/><stop offset="0.272" stop-color="#34608d"/><stop offset="0.310" stop-color="#433d84"/><stop offset="0.367" stop-color="#482475"/><stop offset="0.430" stop-color="#481b6d"/><stop offset="0.475" stop-color="#482475"/><stop offset="0.563" stop-color="#3d4d8a"/><stop offset="0.627" stop-color="#355f8d"/><stop offset="0.677" stop-color="#365c8d"/><stop offset="0.753" stop-color="#433d84"/><stop offset="0.829" stop-color="#481f70"/><stop offset="0.905" stop-color="#481467"/><stop offset="1.000" stop-color="#471365"/></linearGradient><linearGradient id="hOBPC17"><stop offset="0.000" stop-color="#32658e"/><stop offset="0.013" stop-color="#365c8d"/><stop offset="0.032" stop-color="#424086"/><stop offset="0.051" stop-color="#433d84"/><stop offset="0.076" stop-color="#3b528b"/><stop offset="0.108" stop-color="#277f8e"/><stop offset="0.127" stop-color="#1fa187"/><stop offset="0.133" stop-color="#27ad81"/><stop offset="0.146" stop-color="#4ec36b"/><stop offset="0.158" stop-color="#7ad151"/><stop offset="0.165" stop-color="#8bd646"/><stop offset="0.177" stop-color="#9bd93c"/><stop offset="0.190" stop-color="#90d743"/><stop offset="0.203" stop-color="#6ece58"/><stop offset="0.222" stop-color="#2fb47c"/><stop offset="0.228" stop-color="#22a884"/><stop offset="0.241" stop-color="#21918c"/><stop offset="0.272" stop-color="#34618d"/><stop offset="0.304" stop-color="#424186"/><stop offset="0.354" stop-color="#482878"/><stop offset="0.424" stop-color="#481b6d"/><stop offset="0.475" stop-color="#482576"/><stop offset="0.563" stop-color="#3c4f8a"/><stop offset="0.627" stop-color="#33628d"/><stop offset="0.677" stop-color="#355f8d"/><stop offset="0.759" stop-color="#443b84"/><stop offset="0.829" stop-color="#481f70"/><stop offset="0.918" stop-color="#471365"/><stop offset="1.000" stop-color="#471365"/></linearGradient><linearGradient id="hOBPC18"><stop offset="0.000" stop-color="#32648e"/><stop offset="0.006" stop-color="#33638d"/><stop offset="0.032" stop-color="#424086"/><stop offset="0.044" stop-color="#443b84"/><stop offset="0.070" stop-color="#3e4c8a"/><stop offset="0.101" stop-color="#2b758e"/><stop offset="0.120" stop-color="#1f978b"/><stop offset="0.127" stop-color="#20a386"/><stop offset="0.133" stop-color="#29af7f"/><stop offset="0.146" stop-color="#52c569"/><stop offset="0.158" stop-color="#7fd34e"/><stop offset="0.165" stop-color="#90d743"/><stop offset="0.177" stop-color="#a0da39"/><stop offset="0.190" stop-color="#95d840"/><stop offset="0.203" stop-color="#73d056"/><stop offset="0.222" stop-color="#31b57b"/><stop offset="0.228" stop-color="#24aa83"/><stop offset="0.234" stop-color="#1f9e89"/><stop offset="0.266" stop-color="#306a8e"/><stop offset="0.297" stop-color="#3f4788"/><stop offset="0.342" stop-color="#472d7b"/><stop offset="0.418" stop-color="#481b6d"/><stop offset="0.468" stop-color="#482374"/><stop offset="0.551" stop-color="#3e4a89"/><stop offset="0.614" stop-color="#33638d"/><stop offset="0.671" stop-color="#33638d"/><stop offset="0.741" stop-color="#3f4788"/><stop offset="0.816" stop-color="#482374"/><stop offset="0.892" stop-color="#481467"/><stop offset="1.000" stop-color="#471365"/></linearGradient><linearGradient id="hOBPC19"><stop offset="0.000" stop-color="#32648e"/><stop offset="0.006" stop-color="#33638d"/><stop offset="0.032" stop-color="#424186"/><stop offset="0.044" stop-color="#443b84"/><stop offset="0.070" stop-color="#3e4c8a"/><stop offset="0.108" stop-color="#27808e"/><stop offset="0.120" stop-color="#1f978b"/><stop offset="0.127" stop-color="#20a386"/><stop offset="0.133" stop-color="#29af7f"/><stop offset="0.146" stop-color="#52c569"/><stop offset="0.158" stop-color="#7fd34e"/><stop offset="0.165" stop-color="#90d743"/><stop offset="0.177" stop-color="#a0da39"/><stop offset="0.184" stop-color="#a0da39"/><stop offset="0.196" stop-color="#86d549"/><stop offset="0.215" stop-color="#46c06f"/><stop offset="0.228" stop-color="#24aa83"/><stop offset="0.234" stop-color="#1f9e89"/><stop offset="0.266" stop-color="#306a8e"/><stop offset="0.297" stop-color="#3f4788"/><stop offset="0.354" stop-color="#482878"/><stop offset="0.430" stop-color="#481b6d"/><stop offset="0.475" stop-color="#482677"/><stop offset="0.557" stop-color="#3c508b"/><stop offset="0.620" stop-color="#31678e"/><stop offset="0.671" stop-color="#32658e"/><stop offset="0.728" stop-color="#3c4f8a"/><stop offset="0.816" stop-color="#482475"/><stop offset="0.899" stop-color="#471365"/><stop offset="1.000" stop-color="#471365"/></linearGradient><linearGradient id="hOBPC20"><stop offset="0.000" stop-color="#32648e"/><stop offset="0.013" stop-color="#365c8d"/><stop offset="0.032" stop-color="#424186"/><stop offset="0.044" stop-color="#443b84"/><stop offset="0.070" stop-color="#3d4d8a"/><stop offset="0.101" stop-color="#2b758e"/><stop offset="0.120" stop-color="#1f968b"/><stop offset="0.127" stop-color="#1fa287"/><stop offset="0.133" stop-color="#28ae80"/><stop offset="0.152" stop-color="#65cb5e"/><stop offset="0.165" stop-color="#8bd646"/><stop offset="0.171" stop-color="#98d83e"/><stop offset="0.177" stop-color="#9dd93b"/><stop offset="0.190" stop-color="#93d741"/><stop offset="0.203" stop-color="#70cf57"/><stop offset="0.222" stop-color="#31b57b"/><stop offset="0.228" stop-color="#23a983"/><stop offset="0.234" stop-color="#1e9d89"/><stop offset="0.266" stop-color="#306a8e"/><stop offset="0.304" stop-color="#414287"/><stop offset="0.348" stop-color="#472a7a"/><stop offset="0.424" stop-color="#481b6d"/><stop offset="0.481" stop-color="#482979"/><stop offset="0.557" stop-color="#3b518b"/><stop offset="0.620" stop-color="#30698e"/><stop offset="0.671" stop-color="#31688e"/><stop offset="0.734" stop-color="#3d4d8a"/><stop offset="0.816" stop-color="#482475"/><stop offset="0.899" stop-color="#471365"/><stop offset="1.000" stop-color="#471365"/></linearGradient><linearGradient id="hOBPC21"><stop offset="0.000" stop-color="#32648e"/><stop offset="0.013" stop-color="#365c8d"/><stop offset="0.032" stop-color="#424186"/><stop offset="0.044" stop-color="#443b84"/><stop offset="0.070" stop-color="#3e4c8a"/><stop offset="0.101" stop-color="#2b748e"/><stop offset="0.127" stop-color="#1fa188"/><stop offset="0.133" stop-color="#26ad81"/><stop offset="0.146" stop-color="#4ac16d"/><stop offset="0.165" stop-color="#84d44b"/><stop offset="0.177" stop-color="#93d741"/><stop offset="0.184" stop-color="#93d741"/><stop offset="0.196" stop-color="#7cd250"/><stop offset="0.215" stop-color="#3fbc73"/><stop offset="0.222" stop-color="#2db27d"/><stop offset="0.228" stop-color="#22a785"/><stop offset="0.241" stop-color="#21918c"/><stop offset="0.278" stop-color="#375a8c"/><stop offset="0.316" stop-color="#443a83"/><stop offset="0.373" stop-color="#482374"/><stop offset="0.430" stop-color="#481c6e"/><stop offset="0.475" stop-color="#482878"/><stop offset="0.557" stop-color="#3a538b"/><stop offset="0.620" stop-color="#2f6b8e"/><stop offset="0.671" stop-color="#30698e"/><stop offset="0.728" stop-color="#3b528b"/><stop offset="0.810" stop-color="#482677"/><stop offset="0.892" stop-color="#471365"/><stop offset="1.000" stop-color="#471164"/></linearGradient><linearGradient id="hOBPC22"><stop offset="0.000" stop-color="#32648e"/><stop offset="0.013" stop-color="#365c8d"/><stop offset="0.032" stop-color="#424086"/><stop offset="0.044" stop-color="#443b84"/><stop offset="0.070" stop-color="#3e4c8a"/><stop offset="0.101" stop-color="#2c738e"/><stop offset="0.127" stop-color="#1f9f88"/><stop offset="0.133" stop-color="#24aa83"/><stop offset="0.146" stop-color="#42be71"/><stop offset="0.158" stop-color="#69cd5b"/><stop offset="0.171" stop-color="#81d34d"/><stop offset="0.177" stop-color="#86d549"/><stop offset="0.190" stop-color="#7cd250"/><stop offset="0.196" stop-color="#70cf57"/><stop offset="0.215" stop-color="#3aba76"/><stop offset="0.222" stop-color="#29af7f"/><stop offset="0.228" stop-color="#20a486"/><stop offset="0.241" stop-color="#218f8d"/><stop offset="0.272" stop-color="#34618d"/><stop offset="0.310" stop-color="#433e85"/><stop offset="0.361" stop-color="#482677"/><stop offset="0.424" stop-color="#481c6e"/><stop offset="0.468" stop-color="#482576"/><stop offset="0.551" stop-color="#3c508b"/><stop offset="0.608" stop-color="#30698e"/><stop offset="0.658" stop-color="#2e6d8e"/><stop offset="0.715" stop-color="#375a8c"/><stop offset="0.791" stop-color="#472f7d"/><stop offset="0.861" stop-color="#481769"/><stop offset="0.968" stop-color="#471164"/><stop offset="1.000" stop-color="#471164"/></linearGradient><linearGradient id="hOBPC23"><stop offset="0.000" stop-color="#33638d"/><stop offset="0.006" stop-color="#33628d"/><stop offset="0.032" stop-color="#424086"/><stop offset="0.051" stop-color="#433d84"/><stop offset="0.082" stop-color="#38598c"/><stop offset="0.120" stop-color="#21908d"/><stop offset="0.133" stop-color="#21a685"/><stop offset="0.139" stop-color="#2ab07f"/><stop offset="0.165" stop-color="#69cd5b"/><stop offset="0.177" stop-color="#77d153"/><stop offset="0.190" stop-color="#6ece58"/><stop offset="0.203" stop-color="#54c568"/><stop offset="0.222" stop-color="#25ac82"/><stop offset="0.228" stop-color="#1fa187"/><stop offset="0.253" stop-color="#2a788e"/><stop offset="0.291" stop-color="#3d4d8a"/><stop offset="0.342" stop-color="#472d7b"/><stop offset="0.411" stop-color="#481c6e"/><stop offset="0.456" stop-color="#482071"/><stop offset="0.538" stop-color="#3e4a89"/><stop offset="0.608" stop-color="#306a8e"/><stop offset="0.658" stop-color="#2e6e8e"/><stop offset="0.715" stop-color="#375b8d"/><stop offset="0.791" stop-color="#472f7d"/><stop offset="0.861" stop-color="#481769"/><stop offset="0.962" stop-color="#471063"/><stop offset="1.000" stop-color="#471164"/></linearGradient><linearGradient id="hOBPC24"><stop offset="0.000" stop-color="#33638d"/><stop offset="0.013" stop-color="#375b8d"/><stop offset="0.032" stop-color="#424086"/><stop offset="0.044" stop-color="#443b84"/><stop offset="0.070" stop-color="#3e4a89"/><stop offset="0.108" stop-color="#2a788e"/><stop offset="0.133" stop-color="#1fa187"/><stop offset="0.139" stop-color="#25ab82"/><stop offset="0.158" stop-color="#4cc26c"/><stop offset="0.171" stop-color="#60ca60"/><stop offset="0.177" stop-color="#65cb5e"/><stop offset="0.190" stop-color="#5cc863"/><stop offset="0.209" stop-color="#37b878"/><stop offset="0.222" stop-color="#22a785"/><stop offset="0.234" stop-color="#20928c"/><stop offset="0.272" stop-color="#355f8d"/><stop offset="0.310" stop-color="#433e85"/><stop offset="0.361" stop-color="#482677"/><stop offset="0.424" stop-color="#481c6e"/><stop offset="0.468" stop-color="#482576"/><stop offset="0.544" stop-color="#3d4e8a"/><stop offset="0.608" stop-color="#2f6b8e"/><stop offset="0.658" stop-color="#2e6f8e"/><stop offset="0.709" stop-color="#355e8d"/><stop offset="0.785" stop-color="#46337f"/><stop offset="0.848" stop-color="#481a6c"/><stop offset="0.937" stop-color="#471063"/><stop offset="1.000" stop-color="#471164"/></linearGradient><linearGradient id="hOBPC25"><stop offset="0.000" stop-color="#33628d"/><stop offset="0.013" stop-color="#375b8d"/><stop offset="0.032" stop-color="#424086"/><stop offset="0.044" stop-color="#443a83"/><stop offset="0.070" stop-color="#3e4989"/><stop offset="0.108" stop-color="#2b758e"/><stop offset="0.133" stop-color="#1e9c89"/><stop offset="0.146" stop-color="#28ae80"/><stop offset="0.165" stop-color="#48c16e"/><stop offset="0.177" stop-color="#52c569"/><stop offset="0.190" stop-color="#4cc26c"/><stop offset="0.209" stop-color="#2db27d"/><stop offset="0.222" stop-color="#1fa187"/><stop offset="0.247" stop-color="#287c8e"/><stop offset="0.291" stop-color="#3e4a89"/><stop offset="0.342" stop-color="#472d7b"/><stop offset="0.411" stop-color="#481c6e"/><stop offset="0.456" stop-color="#482173"/><stop offset="0.525" stop-color="#414487"/><stop offset="0.601" stop-color="#30698e"/><stop offset="0.652" stop-color="#2d708e"/><stop offset="0.703" stop-color="#34618d"/><stop offset="0.778" stop-color="#453781"/><stop offset="0.842" stop-color="#481b6d"/><stop offset="0.924" stop-color="#471063"/><stop offset="1.000" stop-color="#471164"/></linearGradient><linearGradient id="hOBPC26"><stop offset="0.000" stop-color="#33628d"/><stop offset="0.006" stop-color="#34618d"/><stop offset="0.032" stop-color="#423f85"/><stop offset="0.051" stop-color="#443b84"/><stop offset="0.082" stop-color="#3a548c"/><stop offset="0.127" stop-color="#228d8d"/><stop offset="0.139" stop-color="#1f9f88"/><stop offset="0.158" stop-color="#2fb47c"/><stop offset="0.171" stop-color="#3dbc74"/><stop offset="0.184" stop-color="#3fbc73"/><stop offset="0.209" stop-color="#25ab82"/><stop offset="0.222" stop-color="#1e9b8a"/><stop offset="0.266" stop-color="#33628d"/><stop offset="0.304" stop-color="#424086"/><stop offset="0.354" stop-color="#482878"/><stop offset="0.424" stop-color="#481c6e"/><stop offset="0.468" stop-color="#482576"/><stop offset="0.544" stop-color="#3d4e8a"/><stop offset="0.608" stop-color="#2f6b8e"/><stop offset="0.658" stop-color="#2e6f8e"/><stop offset="0.709" stop-color="#355e8d"/><stop offset="0.778" stop-color="#453581"/><stop offset="0.848" stop-color="#481a6c"/><stop offset="0.924" stop-color="#471063"/><stop offset="1.000" stop-color="#471063"/></linearGradient><linearGradient id="hOBPC27"><stop offset="0.000" stop-color="#33628d"/><stop offset="0.013" stop-color="#375a8c"/><stop offset="0.032" stop-color="#423f85"/><stop offset="0.044" stop-color="#443983"/><stop offset="0.070" stop-color="#3f4788"/><stop offset="0.114" stop-color="#2a768e"/><stop offset="0.146" stop-color="#1fa088"/><stop offset="0.171" stop-color="#2eb37c"/><stop offset="0.190" stop-color="#2db27d"/><stop offset="0.215" stop-color="#1e9d89"/><stop offset="0.259" stop-color="#31668e"/><stop offset="0.304" stop-color="#423f85"/><stop offset="0.367" stop-color="#482475"/><stop offset="0.424" stop-color="#481c6e"/><stop offset="0.468" stop-color="#482576"/><stop offset="0.544" stop-color="#3d4e8a"/><stop offset="0.608" stop-color="#2f6b8e"/><stop offset="0.652" stop-color="#2e6f8e"/><stop offset="0.709" stop-color="#355e8d"/><stop offset="0.785" stop-color="#46327e"/><stop offset="0.854" stop-color="#481769"/><stop offset="0.943" stop-color="#470e61"/><stop offset="1.000" stop-color="#471063"/></linearGradient><linearGradient id="hOBPC28"><stop offset="0.000" stop-color="#34618d"/><stop offset="0.006" stop-color="#34608d"/><stop offset="0.032" stop-color="#423f85"/><stop offset="0.044" stop-color="#443983"/><stop offset="0.070" stop-color="#404588"/><stop offset="0.120" stop-color="#297a8e"/><stop offset="0.152" stop-color="#1f9e89"/><stop offset="0.177" stop-color="#25ab82"/><stop offset="0.203" stop-color="#1fa187"/><stop offset="0.234" stop-color="#27808e"/><stop offset="0.285" stop-color="#3e4c8a"/><stop offset="0.335" stop-color="#472e7c"/><stop offset="0.411" stop-color="#481c6e"/><stop offset="0.456" stop-color="#482071"/><stop offset="0.538" stop-color="#3e4989"/><stop offset="0.608" stop-color="#306a8e"/><stop offset="0.652" stop-color="#2e6e8e"/><stop offset="0.709" stop-color="#365d8d"/><stop offset="0.778" stop-color="#463480"/><stop offset="0.848" stop-color="#48186a"/><stop offset="0.937" stop-color="#470e61"/><stop offset="1.000" stop-color="#471063"/></linearGradient><linearGradient id="hOBPC29"><stop offset="0.000" stop-color="#34618d"/><stop offset="0.013" stop-color="#38598c"/><stop offset="0.032" stop-color="#433e85"/><stop offset="0.044" stop-color="#453882"/><stop offset="0.076" stop-color="#3f4889"/><stop offset="0.139" stop-color="#238a8d"/><stop offset="0.171" stop-color="#1fa188"/><stop offset="0.196" stop-color="#1e9d89"/><stop offset="0.241" stop-color="#2c738e"/><stop offset="0.291" stop-color="#404688"/><stop offset="0.348" stop-color="#482979"/><stop offset="0.418" stop-color="#481b6d"/><stop offset="0.468" stop-color="#482576"/><stop offset="0.551" stop-color="#3c508b"/><stop offset="0.614" stop-color="#306a8e"/><stop offset="0.671" stop-color="#306a8e"/><stop offset="0.734" stop-color="#3d4e8a"/><stop offset="0.816" stop-color="#482173"/><stop offset="0.880" stop-color="#471164"/><stop offset="1.000" stop-color="#471063"/></linearGradient><linearGradient id="hOBPC30"><stop offset="0.000" stop-color="#34608d"/><stop offset="0.006" stop-color="#355f8d"/><stop offset="0.032" stop-color="#433d84"/><stop offset="0.051" stop-color="#453882"/><stop offset="0.095" stop-color="#39568c"/><stop offset="0.158" stop-color="#20928c"/><stop offset="0.184" stop-color="#1f988b"/><stop offset="0.209" stop-color="#228c8d"/><stop offset="0.285" stop-color="#3f4889"/><stop offset="0.342" stop-color="#472a7a"/><stop offset="0.418" stop-color="#481b6d"/><stop offset="0.475" stop-color="#482677"/><stop offset="0.551" stop-color="#3c4f8a"/><stop offset="0.614" stop-color="#30698e"/><stop offset="0.665" stop-color="#30698e"/><stop offset="0.722" stop-color="#3a538b"/><stop offset="0.804" stop-color="#482677"/><stop offset="0.867" stop-color="#471365"/><stop offset="0.987" stop-color="#470e61"/><stop offset="1.000" stop-color="#471063"/></linearGradient><linearGradient id="hOBPC31"><stop offset="0.000" stop-color="#34608d"/><stop offset="0.013" stop-color="#38588c"/><stop offset="0.032" stop-color="#433d84"/><stop offset="0.051" stop-color="#453781"/><stop offset="0.089" stop-color="#3c4f8a"/><stop offset="0.158" stop-color="#23898e"/><stop offset="0.190" stop-color="#218e8d"/><stop offset="0.228" stop-color="#2b758e"/><stop offset="0.297" stop-color="#423f85"/><stop offset="0.361" stop-color="#482475"/><stop offset="0.430" stop-color="#481b6d"/><stop offset="0.481" stop-color="#482979"/><stop offset="0.557" stop-color="#3b518b"/><stop offset="0.620" stop-color="#31688e"/><stop offset="0.671" stop-color="#31668e"/><stop offset="0.728" stop-color="#3d4e8a"/><stop offset="0.816" stop-color="#482071"/><stop offset="0.899" stop-color="#470e61"/><stop offset="1.000" stop-color="#470e61"/></linearGradient><linearGradient id="hOBPC32"><stop offset="0.000" stop-color="#355f8d"/><stop offset="0.006" stop-color="#355e8d"/><stop offset="0.032" stop-color="#443b84"/><stop offset="0.044" stop-color="#453581"/><stop offset="0.070" stop-color="#423f85"/><stop offset="0.146" stop-color="#297a8e"/><stop offset="0.171" stop-color="#25858e"/><stop offset="0.203" stop-color="#26818e"/><stop offset="0.285" stop-color="#404588"/><stop offset="0.348" stop-color="#482878"/><stop offset="0.424" stop-color="#481b6d"/><stop offset="0.475" stop-color="#482576"/><stop offset="0.557" stop-color="#3c4f8a"/><stop offset="0.620" stop-color="#31668e"/><stop offset="0.671" stop-color="#32648e"/><stop offset="0.741" stop-color="#404688"/><stop offset="0.816" stop-color="#481f70"/><stop offset="0.892" stop-color="#470e61"/><stop offset="1.000" stop-color="#470e61"/></linearGradient><linearGradient id="hOBPC33"><stop offset="0.000" stop-color="#355f8d"/><stop offset="0.013" stop-color="#39568c"/><stop offset="0.032" stop-color="#443b84"/><stop offset="0.044" stop-color="#463480"/><stop offset="0.076" stop-color="#424186"/><stop offset="0.158" stop-color="#297a8e"/><stop offset="0.190" stop-color="#277e8e"/><stop offset="0.234" stop-color="#31678e"/><stop offset="0.310" stop-color="#453581"/><stop offset="0.386" stop-color="#481f70"/><stop offset="0.443" stop-color="#481c6e"/><stop offset="0.500" stop-color="#46307e"/><stop offset="0.582" stop-color="#38598c"/><stop offset="0.639" stop-color="#32658e"/><stop offset="0.696" stop-color="#375a8c"/><stop offset="0.772" stop-color="#46327e"/><stop offset="0.842" stop-color="#481769"/><stop offset="0.918" stop-color="#470d60"/><stop offset="1.000" stop-color="#470e61"/></linearGradient><linearGradient id="hOBPC34"><stop offset="0.000" stop-color="#355e8d"/><stop offset="0.013" stop-color="#39558c"/><stop offset="0.032" stop-color="#443a83"/><stop offset="0.044" stop-color="#46337f"/><stop offset="0.082" stop-color="#414287"/><stop offset="0.158" stop-color="#2c738e"/><stop offset="0.190" stop-color="#2a768e"/><stop offset="0.228" stop-color="#31668e"/><stop offset="0.310" stop-color="#463480"/><stop offset="0.386" stop-color="#481d6f"/><stop offset="0.443" stop-color="#481b6d"/><stop offset="0.513" stop-color="#453581"/><stop offset="0.601" stop-color="#365d8d"/><stop offset="0.658" stop-color="#34618d"/><stop offset="0.722" stop-color="#3e4c8a"/><stop offset="0.810" stop-color="#482071"/><stop offset="0.880" stop-color="#470e61"/><stop offset="0.994" stop-color="#470d60"/><stop offset="1.000" stop-color="#470e61"/></linearGradient><linearGradient id="hOBPC35"><stop offset="0.000" stop-color="#365d8d"/><stop offset="0.006" stop-color="#365c8d"/><stop offset="0.032" stop-color="#443983"/><stop offset="0.051" stop-color="#46337f"/><stop offset="0.108" stop-color="#3c508b"/><stop offset="0.158" stop-color="#2e6d8e"/><stop offset="0.196" stop-color="#2e6f8e"/><stop offset="0.253" stop-color="#3b528b"/><stop offset="0.323" stop-color="#472e7c"/><stop offset="0.405" stop-color="#481b6d"/><stop offset="0.456" stop-color="#481d6f"/><stop offset="0.557" stop-color="#3e4989"/><stop offset="0.620" stop-color="#355e8d"/><stop offset="0.671" stop-color="#365c8d"/><stop offset="0.741" stop-color="#423f85"/><stop offset="0.829" stop-color="#48186a"/><stop offset="0.918" stop-color="#460b5e"/><stop offset="1.000" stop-color="#470d60"/></linearGradient><linearGradient id="hOBPC36"><stop offset="0.000" stop-color="#365d8d"/><stop offset="0.013" stop-color="#3a548c"/><stop offset="0.032" stop-color="#443983"/><stop offset="0.044" stop-color="#46327e"/><stop offset="0.076" stop-color="#443b84"/><stop offset="0.158" stop-color="#31678e"/><stop offset="0.203" stop-color="#31678e"/><stop offset="0.291" stop-color="#443a83"/><stop offset="0.361" stop-color="#482374"/><stop offset="0.430" stop-color="#481a6c"/><stop offset="0.487" stop-color="#482878"/><stop offset="0.576" stop-color="#3c4f8a"/><stop offset="0.633" stop-color="#365c8d"/><stop offset="0.690" stop-color="#3a538b"/><stop offset="0.766" stop-color="#46307e"/><stop offset="0.842" stop-color="#481467"/><stop offset="0.930" stop-color="#460b5e"/><stop offset="1.000" stop-color="#470d60"/></linearGradient><linearGradient id="hOBPC37"><stop offset="0.000" stop-color="#365c8d"/><stop offset="0.013" stop-color="#3a538b"/><stop offset="0.032" stop-color="#453882"/><stop offset="0.051" stop-color="#46307e"/><stop offset="0.108" stop-color="#3e4989"/><stop offset="0.158" stop-color="#34618d"/><stop offset="0.196" stop-color="#33638d"/><stop offset="0.266" stop-color="#404588"/><stop offset="0.342" stop-color="#482677"/><stop offset="0.418" stop-color="#481a6c"/><stop offset="0.462" stop-color="#481d6f"/><stop offset="0.563" stop-color="#3f4788"/><stop offset="0.627" stop-color="#38588c"/><stop offset="0.684" stop-color="#3b528b"/><stop offset="0.766" stop-color="#472e7c"/><stop offset="0.835" stop-color="#481668"/><stop offset="0.911" stop-color="#460b5e"/><stop offset="1.000" stop-color="#470d60"/></linearGradient><linearGradient id="hOBPC38"><stop offset="0.000" stop-color="#365c8d"/><stop offset="0.013" stop-color="#3b528b"/><stop offset="0.032" stop-color="#453781"/><stop offset="0.051" stop-color="#472f7d"/><stop offset="0.152" stop-color="#375a8c"/><stop offset="0.196" stop-color="#365d8d"/><stop offset="0.259" stop-color="#404688"/><stop offset="0.342" stop-color="#482576"/><stop offset="0.430" stop-color="#48186a"/><stop offset="0.494" stop-color="#482878"/><stop offset="0.589" stop-color="#3d4d8a"/><stop offset="0.646" stop-color="#3a548c"/><stop offset="0.709" stop-color="#404688"/><stop offset="0.816" stop-color="#481a6c"/><stop offset="0.892" stop-color="#460b5e"/><stop offset="1.000" stop-color="#470d60"/></linearGradient><linearGradient id="hOBPC39"><stop offset="0.000" stop-color="#375b8d"/><stop offset="0.013" stop-color="#3b528b"/><stop offset="0.032" stop-color="#453581"/><stop offset="0.051" stop-color="#472e7c"/><stop offset="0.158" stop-color="#39568c"/><stop offset="0.196" stop-color="#38598c"/><stop offset="0.272" stop-color="#433e85"/><stop offset="0.348" stop-color="#482475"/><stop offset="0.430" stop-color="#48186a"/><stop offset="0.481" stop-color="#482374"/><stop offset="0.582" stop-color="#3f4889"/><stop offset="0.646" stop-color="#3b518b"/><stop offset="0.709" stop-color="#414287"/><stop offset="0.816" stop-color="#48186a"/><stop offset="0.892" stop-color="#460b5e"/><stop offset="1.000" stop-color="#470d60"/></linearGradient><linearGradient id="hOBPC40"><stop offset="0.000" stop-color="#375b8d"/><stop offset="0.013" stop-color="#3b518b"/><stop offset="0.038" stop-color="#472f7d"/><stop offset="0.063" stop-color="#472f7d"/><stop offset="0.158" stop-color="#3b528b"/><stop offset="0.209" stop-color="#3b518b"/><stop offset="0.316" stop-color="#472c7a"/><stop offset="0.411" stop-color="#48186a"/><stop offset="0.468" stop-color="#481d6f"/><stop offset="0.576" stop-color="#414287"/><stop offset="0.633" stop-color="#3d4d8a"/><stop offset="0.690" stop-color="#404688"/><stop offset="0.785" stop-color="#482173"/><stop offset="0.867" stop-color="#470d60"/><stop offset="0.994" stop-color="#460b5e"/><stop offset="1.000" stop-color="#470d60"/></linearGradient><linearGradient id="hOBPC41"><stop offset="0.000" stop-color="#375a8c"/><stop offset="0.013" stop-color="#3b518b"/><stop offset="0.032" stop-color="#463480"/><stop offset="0.051" stop-color="#472c7a"/><stop offset="0.165" stop-color="#3c4f8a"/><stop offset="0.215" stop-color="#3e4c8a"/><stop offset="0.348" stop-color="#482374"/><stop offset="0.437" stop-color="#481769"/><stop offset="0.506" stop-color="#482979"/><stop offset="0.608" stop-color="#3f4788"/><stop offset="0.671" stop-color="#404688"/><stop offset="0.759" stop-color="#482979"/><stop offset="0.848" stop-color="#470e61"/><stop offset="0.949" stop-color="#460a5d"/><stop offset="1.000" stop-color="#460b5e"/></linearGradient><linearGradient id="hOBPC42"><stop offset="0.000" stop-color="#38598c"/><stop offset="0.013" stop-color="#3c508b"/><stop offset="0.032" stop-color="#46337f"/><stop offset="0.051" stop-color="#472a7a"/><stop offset="0.165" stop-color="#3e4a89"/><stop offset="0.215" stop-color="#3f4889"/><stop offset="0.361" stop-color="#481f70"/><stop offset="0.443" stop-color="#481769"/><stop offset="0.589" stop-color="#424086"/><stop offset="0.658" stop-color="#404588"/><stop offset="0.747" stop-color="#472c7a"/><stop offset="0.835" stop-color="#471063"/><stop offset="0.937" stop-color="#46085c"/><stop offset="1.000" stop-color="#460b5e"/></linearGradient><linearGradient id="hOBPC43"><stop offset="0.000" stop-color="#38598c"/><stop offset="0.013" stop-color="#3c4f8a"/><stop offset="0.038" stop-color="#472d7b"/><stop offset="0.057" stop-color="#472a7a"/><stop offset="0.165" stop-color="#3f4788"/><stop offset="0.222" stop-color="#414487"/><stop offset="0.354" stop-color="#482071"/><stop offset="0.443" stop-color="#481769"/><stop offset="0.538" stop-color="#472f7d"/><stop offset="0.620" stop-color="#424186"/><stop offset="0.684" stop-color="#433d84"/><stop offset="0.823" stop-color="#471365"/><stop offset="0.911" stop-color="#46085c"/><stop offset="1.000" stop-color="#460b5e"/></linearGradient><linearGradient id="hOBPC44"><stop offset="0.000" stop-color="#38588c"/><stop offset="0.013" stop-color="#3c4f8a"/><stop offset="0.032" stop-color="#46327e"/><stop offset="0.051" stop-color="#482979"/><stop offset="0.177" stop-color="#404588"/><stop offset="0.247" stop-color="#443a83"/><stop offset="0.354" stop-color="#481f70"/><stop offset="0.443" stop-color="#481769"/><stop offset="0.595" stop-color="#443a83"/><stop offset="0.665" stop-color="#433d84"/><stop offset="0.772" stop-color="#481f70"/><stop offset="0.867" stop-color="#460a5d"/><stop offset="1.000" stop-color="#460b5e"/></linearGradient><linearGradient id="hOBPC45"><stop offset="0.000" stop-color="#38588c"/><stop offset="0.013" stop-color="#3d4e8a"/><stop offset="0.032" stop-color="#46307e"/><stop offset="0.051" stop-color="#482878"/><stop offset="0.171" stop-color="#424086"/><stop offset="0.234" stop-color="#443a83"/><stop offset="0.367" stop-color="#481c6e"/><stop offset="0.443" stop-color="#481668"/><stop offset="0.595" stop-color="#453882"/><stop offset="0.671" stop-color="#453882"/><stop offset="0.785" stop-color="#481a6c"/><stop offset="0.867" stop-color="#460a5d"/><stop offset="1.000" stop-color="#460b5e"/></linearGradient><linearGradient id="hOBPC46"><stop offset="0.000" stop-color="#39568c"/><stop offset="0.013" stop-color="#3d4d8a"/><stop offset="0.038" stop-color="#472a7a"/><stop offset="0.063" stop-color="#482878"/><stop offset="0.177" stop-color="#433e85"/><stop offset="0.253" stop-color="#463480"/><stop offset="0.386" stop-color="#481a6c"/><stop offset="0.456" stop-color="#481769"/><stop offset="0.601" stop-color="#453581"/><stop offset="0.677" stop-color="#46337f"/><stop offset="0.835" stop-color="#470d60"/><stop offset="0.930" stop-color="#46085c"/><stop offset="1.000" stop-color="#460b5e"/></linearGradient><linearGradient id="hOBPC47"><stop offset="0.000" stop-color="#39558c"/><stop offset="0.013" stop-color="#3d4d8a"/><stop offset="0.032" stop-color="#472f7d"/><stop offset="0.051" stop-color="#482576"/><stop offset="0.177" stop-color="#443a83"/><stop offset="0.247" stop-color="#46337f"/><stop offset="0.392" stop-color="#48186a"/><stop offset="0.468" stop-color="#48186a"/><stop offset="0.608" stop-color="#46337f"/><stop offset="0.684" stop-color="#472f7d"/><stop offset="0.842" stop-color="#460b5e"/><stop offset="0.943" stop-color="#46085c"/><stop offset="1.000" stop-color="#460b5e"/></linearGradient><linearGradient id="hOBPC48"><stop offset="0.000" stop-color="#39558c"/><stop offset="0.013" stop-color="#3e4c8a"/><stop offset="0.038" stop-color="#482979"/><stop offset="0.063" stop-color="#482576"/><stop offset="0.177" stop-color="#453882"/><stop offset="0.253" stop-color="#472f7d"/><stop offset="0.418" stop-color="#481668"/><stop offset="0.468" stop-color="#48186a"/><stop offset="0.601" stop-color="#472f7d"/><stop offset="0.677" stop-color="#472d7b"/><stop offset="0.848" stop-color="#460a5d"/><stop offset="0.975" stop-color="#46085c"/><stop offset="1.000" stop-color="#460b5e"/></linearGradient><linearGradient id="hOBPC49"><stop offset="0.000" stop-color="#3a548c"/><stop offset="0.013" stop-color="#3e4c8a"/><stop offset="0.032" stop-color="#472e7c"/><stop offset="0.051" stop-color="#482475"/><stop offset="0.184" stop-color="#453581"/><stop offset="0.291" stop-color="#482677"/><stop offset="0.443" stop-color="#481467"/><stop offset="0.608" stop-color="#472d7b"/><stop offset="0.684" stop-color="#482979"/><stop offset="0.848" stop-color="#460a5d"/><stop offset="0.975" stop-color="#46085c"/><stop offset="1.000" stop-color="#460a5d"/></linearGradient><linearGradient id="hOBPC50"><stop offset="0.000" stop-color="#3a548c"/><stop offset="0.013" stop-color="#3e4a89"/><stop offset="0.038" stop-color="#482878"/><stop offset="0.057" stop-color="#482374"/><stop offset="0.184" stop-color="#46337f"/><stop offset="0.297" stop-color="#482475"/><stop offset="0.449" stop-color="#481467"/><stop offset="0.608" stop-color="#472a7a"/><stop offset="0.690" stop-color="#482576"/><stop offset="0.854" stop-color="#46085c"/><stop offset="1.000" stop-color="#460a5d"/></linearGradient><linearGradient id="hOBPC51"><stop offset="0.000" stop-color="#3a538b"/><stop offset="0.013" stop-color="#3e4a89"/><stop offset="0.032" stop-color="#472d7b"/><stop offset="0.051" stop-color="#482374"/><stop offset="0.190" stop-color="#46307e"/><stop offset="0.443" stop-color="#481467"/><stop offset="0.614" stop-color="#482878"/><stop offset="0.703" stop-color="#482173"/><stop offset="0.854" stop-color="#46085c"/><stop offset="1.000" stop-color="#460a5d"/></linearGradient><linearGradient id="hOBPC52"><stop offset="0.000" stop-color="#3a538b"/><stop offset="0.013" stop-color="#3e4989"/><stop offset="0.038" stop-color="#482677"/><stop offset="0.063" stop-color="#482173"/><stop offset="0.184" stop-color="#472e7c"/><stop offset="0.304" stop-color="#482173"/><stop offset="0.449" stop-color="#481467"/><stop offset="0.601" stop-color="#482576"/><stop offset="0.696" stop-color="#482071"/><stop offset="0.854" stop-color="#46085c"/><stop offset="1.000" stop-color="#460a5d"/></linearGradient><linearGradient id="hOBPC53"><stop offset="0.000" stop-color="#3b528b"/><stop offset="0.013" stop-color="#3e4989"/><stop offset="0.032" stop-color="#472c7a"/><stop offset="0.051" stop-color="#482071"/><stop offset="0.190" stop-color="#472d7b"/><stop offset="0.449" stop-color="#471365"/><stop offset="0.589" stop-color="#482374"/><stop offset="0.684" stop-color="#482071"/><stop offset="0.848" stop-color="#46085c"/><stop offset="1.000" stop-color="#460a5d"/></linearGradient><linearGradient id="hOBPC54"><stop offset="0.000" stop-color="#3b528b"/><stop offset="0.013" stop-color="#3f4889"/><stop offset="0.038" stop-color="#482576"/><stop offset="0.063" stop-color="#482071"/><stop offset="0.203" stop-color="#472a7a"/><stop offset="0.449" stop-color="#471365"/><stop offset="0.601" stop-color="#482173"/><stop offset="0.709" stop-color="#481b6d"/><stop offset="0.867" stop-color="#46075a"/><stop offset="1.000" stop-color="#460a5d"/></linearGradient></defs><rect x="590.50" y="2024.30" width="158.10" height="4.60" fill="url(#hOBPC0)"/><rect x="590.50" y="2028.30" width="158.10" height="4.60" fill="url(#hOBPC1)"/><rect x="590.50" y="2032.30" width="158.10" height="4.60" fill="url(#hOBPC2)"/><rect x="590.50" y="2036.30" width="158.10" height="4.60" fill="url(#hOBPC3)"/><rect x="590.50" y="2040.30" width="158.10" height="4.60" fill="url(#hOBPC4)"/><rect x="590.50" y="2044.30" width="158.10" height="4.60" fill="url(#hOBPC5)"/><rect x="590.50" y="2048.30" width="158.10" height="4.60" fill="url(#hOBPC6)"/><rect x="590.50" y="2052.30" width="158.10" height="4.60" fill="url(#hOBPC7)"/><rect x="590.50" y="2056.30" width="158.10" height="4.60" fill="url(#hOBPC8)"/><rect x="590.50" y="2060.30" width="158.10" height="4.60" fill="url(#hOBPC9)"/><rect x="590.50" y="2064.30" width="158.10" height="4.60" fill="url(#hOBPC10)"/><rect x="590.50" y="2068.30" width="158.10" height="4.60" fill="url(#hOBPC11)"/><rect x="590.50" y="2072.30" width="158.10" height="4.60" fill="url(#hOBPC12)"/><rect x="590.50" y="2076.30" width="158.10" height="4.60" fill="url(#hOBPC13)"/><rect x="590.50" y="2080.30" width="158.10" height="4.60" fill="url(#hOBPC14)"/><rect x="590.50" y="2084.30" width="158.10" height="4.60" fill="url(#hOBPC15)"/><rect x="590.50" y="2088.30" width="158.10" height="4.60" fill="url(#hOBPC16)"/><rect x="590.50" y="2092.30" width="158.10" height="4.60" fill="url(#hOBPC17)"/><rect x="590.50" y="2096.30" width="158.10" height="4.60" fill="url(#hOBPC18)"/><rect x="590.50" y="2100.30" width="158.10" height="4.60" fill="url(#hOBPC19)"/><rect x="590.50" y="2104.30" width="158.10" height="4.60" fill="url(#hOBPC20)"/><rect x="590.50" y="2108.30" width="158.10" height="4.60" fill="url(#hOBPC21)"/><rect x="590.50" y="2112.30" width="158.10" height="4.60" fill="url(#hOBPC22)"/><rect x="590.50" y="2116.30" width="158.10" height="4.60" fill="url(#hOBPC23)"/><rect x="590.50" y="2120.30" width="158.10" height="4.60" fill="url(#hOBPC24)"/><rect x="590.50" y="2124.30" width="158.10" height="4.60" fill="url(#hOBPC25)"/><rect x="590.50" y="2128.30" width="158.10" height="4.60" fill="url(#hOBPC26)"/><rect x="590.50" y="2132.30" width="158.10" height="4.60" fill="url(#hOBPC27)"/><rect x="590.50" y="2136.30" width="158.10" height="4.60" fill="url(#hOBPC28)"/><rect x="590.50" y="2140.30" width="158.10" height="4.60" fill="url(#hOBPC29)"/><rect x="590.50" y="2144.30" width="158.10" height="4.60" fill="url(#hOBPC30)"/><rect x="590.50" y="2148.30" width="158.10" height="4.60" fill="url(#hOBPC31)"/><rect x="590.50" y="2152.30" width="158.10" height="4.60" fill="url(#hOBPC32)"/><rect x="590.50" y="2156.30" width="158.10" height="4.60" fill="url(#hOBPC33)"/><rect x="590.50" y="2160.30" width="158.10" height="4.60" fill="url(#hOBPC34)"/><rect x="590.50" y="2164.30" width="158.10" height="4.60" fill="url(#hOBPC35)"/><rect x="590.50" y="2168.30" width="158.10" height="4.60" fill="url(#hOBPC36)"/><rect x="590.50" y="2172.30" width="158.10" height="4.60" fill="url(#hOBPC37)"/><rect x="590.50" y="2176.30" width="158.10" height="4.60" fill="url(#hOBPC38)"/><rect x="590.50" y="2180.30" width="158.10" height="4.60" fill="url(#hOBPC39)"/><rect x="590.50" y="2184.30" width="158.10" height="4.60" fill="url(#hOBPC40)"/><rect x="590.50" y="2188.30" width="158.10" height="4.60" fill="url(#hOBPC41)"/><rect x="590.50" y="2192.30" width="158.10" height="4.60" fill="url(#hOBPC42)"/><rect x="590.50" y="2196.30" width="158.10" height="4.60" fill="url(#hOBPC43)"/><rect x="590.50" y="2200.30" width="158.10" height="4.60" fill="url(#hOBPC44)"/><rect x="590.50" y="2204.30" width="158.10" height="4.60" fill="url(#hOBPC45)"/><rect x="590.50" y="2208.30" width="158.10" height="4.60" fill="url(#hOBPC46)"/><rect x="590.50" y="2212.30" width="158.10" height="4.60" fill="url(#hOBPC47)"/><rect x="590.50" y="2216.30" width="158.10" height="4.60" fill="url(#hOBPC48)"/><rect x="590.50" y="2220.30" width="158.10" height="4.60" fill="url(#hOBPC49)"/><rect x="590.50" y="2224.30" width="158.10" height="4.60" fill="url(#hOBPC50)"/><rect x="590.50" y="2228.30" width="158.10" height="4.60" fill="url(#hOBPC51)"/><rect x="590.50" y="2232.30" width="158.10" height="4.60" fill="url(#hOBPC52)"/><rect x="590.50" y="2236.30" width="158.10" height="4.60" fill="url(#hOBPC53)"/><rect x="590.50" y="2240.30" width="158.10" height="4.30" fill="url(#hOBPC54)"/>
<rect x="590.50" y="2024.30" width="158.10" height="219.70" fill="none" stroke="#111" stroke-width="1"/>
<line x1="576.00" y1="2024.30" x2="590.50" y2="2024.30" stroke="#333" stroke-width="1.2" stroke-linecap="butt"/>
<line x1="576.00" y1="2112.18" x2="590.50" y2="2112.18" stroke="#333" stroke-width="1.2" stroke-linecap="butt"/>
<line x1="576.00" y1="2200.06" x2="590.50" y2="2200.06" stroke="#333" stroke-width="1.2" stroke-linecap="butt"/>
<line x1="590.50" y1="2244.00" x2="590.50" y2="2258.00" stroke="#333" stroke-width="1.2" stroke-linecap="butt"/>
<text transform="translate(579.29,2286.76)" font-family="'DejaVu Sans', sans-serif" font-weight="bold" fill="#000"><tspan x="0.00" y="0.00" font-size="30.50">1</tspan></text>
<line x1="660.77" y1="2244.00" x2="660.77" y2="2258.00" stroke="#333" stroke-width="1.2" stroke-linecap="butt"/>
<text transform="translate(650.09,2286.76)" font-family="'DejaVu Sans', sans-serif" font-weight="bold" fill="#000"><tspan x="0.00" y="0.00" font-size="30.50">5</tspan></text>
<line x1="748.60" y1="2244.00" x2="748.60" y2="2258.00" stroke="#333" stroke-width="1.2" stroke-linecap="butt"/>
<text transform="translate(726.41,2287.07)" font-family="'DejaVu Sans', sans-serif" font-weight="bold" fill="#000"><tspan x="0.00" y="0.00" font-size="30.50">10</tspan></text>
<text transform="translate(51.15,2035.65)" font-family="'DejaVu Sans', sans-serif" font-weight="bold" fill="#000"><tspan x="0.00" y="0.00" font-size="31.30">180</tspan></text>
<text transform="translate(51.15,2123.35)" font-family="'DejaVu Sans', sans-serif" font-weight="bold" fill="#000"><tspan x="0.00" y="0.00" font-size="31.30">160</tspan></text>
<text transform="translate(51.15,2211.65)" font-family="'DejaVu Sans', sans-serif" font-weight="bold" fill="#000"><tspan x="0.00" y="0.00" font-size="31.30">140</tspan></text>
<text transform="translate(33.79,2258.16) rotate(-90) scale(1.0000,1)" font-family="'DejaVu Sans', sans-serif" font-weight="bold" fill="#000"><tspan x="0.00" y="0.00" font-size="29.50">Frequency [Hz]</tspan></text>
<text transform="translate(325.32,2348.12) scale(1.0000,1)" font-family="'DejaVu Sans', sans-serif" font-weight="bold" fill="#000"><tspan x="0.00" y="0.00" font-size="29.80">Frequency [Hz]</tspan></text>
<defs><linearGradient id="cb" x1="0" y1="0" x2="0" y2="1"><stop offset="0.000" stop-color="#fde725"/><stop offset="0.042" stop-color="#e5e419"/><stop offset="0.083" stop-color="#c8e020"/><stop offset="0.125" stop-color="#addc30"/><stop offset="0.167" stop-color="#90d743"/><stop offset="0.208" stop-color="#75d054"/><stop offset="0.250" stop-color="#5ec962"/><stop offset="0.292" stop-color="#48c16e"/><stop offset="0.333" stop-color="#35b779"/><stop offset="0.375" stop-color="#28ae80"/><stop offset="0.417" stop-color="#20a486"/><stop offset="0.458" stop-color="#1f9a8a"/><stop offset="0.500" stop-color="#21918c"/><stop offset="0.542" stop-color="#24868e"/><stop offset="0.583" stop-color="#287c8e"/><stop offset="0.625" stop-color="#2c728e"/><stop offset="0.667" stop-color="#31688e"/><stop offset="0.708" stop-color="#365d8d"/><stop offset="0.750" stop-color="#3b528b"/><stop offset="0.792" stop-color="#404688"/><stop offset="0.833" stop-color="#443983"/><stop offset="0.875" stop-color="#472d7b"/><stop offset="0.917" stop-color="#481f70"/><stop offset="0.958" stop-color="#471063"/><stop offset="1.000" stop-color="#440154"/></linearGradient></defs><rect x="755.3" y="2024.5" width="7.7" height="219.4" fill="url(#cb)" stroke="#222" stroke-width="0.8"/>
<line x1="763.00" y1="2033.40" x2="778.00" y2="2033.40" stroke="#444" stroke-width="1.3" stroke-linecap="butt"/>
<text transform="translate(789.50,2042.65) scale(1.0000,1)" font-family="'Liberation Sans', sans-serif" font-weight="bold" fill="#000"><tspan x="0.00" y="0.00" font-size="25.07">0.0020</tspan></text>
<line x1="763.00" y1="2086.80" x2="778.00" y2="2086.80" stroke="#444" stroke-width="1.3" stroke-linecap="butt"/>
<text transform="translate(787.69,2094.94) scale(1.0000,1)" font-family="'Liberation Sans', sans-serif" font-weight="bold" fill="#000"><tspan x="0.00" y="0.00" font-size="25.34">0.0015</tspan></text>
<line x1="763.00" y1="2138.70" x2="778.00" y2="2138.70" stroke="#444" stroke-width="1.3" stroke-linecap="butt"/>
<text transform="translate(789.50,2147.95) scale(1.0000,1)" font-family="'Liberation Sans', sans-serif" font-weight="bold" fill="#000"><tspan x="0.00" y="0.00" font-size="25.07">0.0010</tspan></text>
<line x1="763.00" y1="2191.70" x2="778.00" y2="2191.70" stroke="#444" stroke-width="1.3" stroke-linecap="butt"/>
<text transform="translate(787.19,2201.17) scale(1.0000,1)" font-family="'Liberation Sans', sans-serif" font-weight="bold" fill="#000"><tspan x="0.00" y="0.00" font-size="25.14">0.0005</tspan></text>
<text transform="translate(843.40,1895.35) scale(1.0000,1)" font-family="'Liberation Sans', sans-serif" font-weight="bold" fill="#000"><tspan x="0.00" y="0.00" font-size="66.73">F2</tspan></text>
<text transform="translate(1026.20,1974.30) scale(1.0000,1)" font-family="'Liberation Sans', sans-serif" font-weight="bold" fill="#000"><tspan x="0.00" y="0.00" font-size="45.22">OB</tspan></text>
<text transform="translate(1237.32,1973.54) scale(1.0000,1)" font-family="'Liberation Sans', sans-serif" font-weight="bold" fill="#000"><tspan x="0.00" y="0.00" font-size="44.47">PC</tspan></text>
<text transform="translate(1396.71,1973.72) scale(1.0000,1)" font-family="'Liberation Sans', sans-serif" font-weight="bold" fill="#000"><tspan x="0.00" y="0.00" font-size="44.69">OB-PC</tspan></text>
<text transform="translate(947.00,2161.18) rotate(-90) scale(1.0000,1)" font-family="'Liberation Sans', sans-serif" font-weight="bold" fill="#000"><tspan x="0.00" y="0.00" font-size="28.69">MI</tspan></text>
<line x1="1025.80" y1="2040.20" x2="1025.80" y2="2248.50" stroke="#000" stroke-width="3.4" stroke-linecap="butt"/>
<line x1="1015.10" y1="2248.50" x2="1117.70" y2="2248.50" stroke="#000" stroke-width="3.4" stroke-linecap="butt"/>
<line x1="1015.10" y1="2040.20" x2="1025.80" y2="2040.20" stroke="#000" stroke-width="3.4" stroke-linecap="butt"/>
<line x1="1018.80" y1="2049.47" x2="1025.80" y2="2049.47" stroke="#000" stroke-width="3.4" stroke-linecap="butt"/>
<line x1="1018.80" y1="2060.72" x2="1025.80" y2="2060.72" stroke="#000" stroke-width="3.4" stroke-linecap="butt"/>
<line x1="1018.80" y1="2075.72" x2="1025.80" y2="2075.72" stroke="#000" stroke-width="3.4" stroke-linecap="butt"/>
<line x1="1018.80" y1="2098.21" x2="1025.80" y2="2098.21" stroke="#000" stroke-width="3.4" stroke-linecap="butt"/>
<line x1="1015.10" y1="2144.35" x2="1025.80" y2="2144.35" stroke="#000" stroke-width="3.4" stroke-linecap="butt"/>
<line x1="1018.80" y1="2153.62" x2="1025.80" y2="2153.62" stroke="#000" stroke-width="3.4" stroke-linecap="butt"/>
<line x1="1018.80" y1="2164.87" x2="1025.80" y2="2164.87" stroke="#000" stroke-width="3.4" stroke-linecap="butt"/>
<line x1="1018.80" y1="2179.87" x2="1025.80" y2="2179.87" stroke="#000" stroke-width="3.4" stroke-linecap="butt"/>
<line x1="1018.80" y1="2202.36" x2="1025.80" y2="2202.36" stroke="#000" stroke-width="3.4" stroke-linecap="butt"/>
<line x1="1015.10" y1="2248.50" x2="1025.80" y2="2248.50" stroke="#000" stroke-width="3.4" stroke-linecap="butt"/>
<text transform="translate(967.82,2047.65)" font-family="'Liberation Sans', sans-serif" font-weight="bold" fill="#000"><tspan x="0.00" y="0.00" font-size="25.07">10</tspan><tspan x="29.54" y="-8.27" font-size="16.72">-</tspan><tspan x="37.62" y="-8.27" font-size="16.72">1</tspan></text>
<text transform="translate(967.95,2151.80)" font-family="'Liberation Sans', sans-serif" font-weight="bold" fill="#000"><tspan x="0.00" y="0.00" font-size="25.07">10</tspan><tspan x="29.54" y="-8.27" font-size="16.72">-</tspan><tspan x="37.62" y="-8.27" font-size="16.72">3</tspan></text>
<text transform="translate(967.82,2255.95)" font-family="'Liberation Sans', sans-serif" font-weight="bold" fill="#000"><tspan x="0.00" y="0.00" font-size="25.07">10</tspan><tspan x="29.54" y="-8.27" font-size="16.72">-</tspan><tspan x="37.62" y="-8.27" font-size="16.72">5</tspan></text>
<line x1="1047.80" y1="2248.50" x2="1047.80" y2="2260.40" stroke="#000" stroke-width="3.4" stroke-linecap="butt"/>
<line x1="1093.10" y1="2248.50" x2="1093.10" y2="2260.40" stroke="#000" stroke-width="3.4" stroke-linecap="butt"/>
<text transform="translate(1036.01,2076.75) scale(1.0000,1)" font-family="'Liberation Sans', sans-serif" font-weight="normal" fill="#000"><tspan x="0.00" y="0.00" font-size="45.92">****</tspan></text>
<g stroke="#000" stroke-width="1"><line x1="1047.8" y1="2120.0" x2="1093.1" y2="2092.5"/><line x1="1047.8" y1="2122.0" x2="1093.1" y2="2095.0"/><line x1="1047.8" y1="2124.0" x2="1093.1" y2="2096.0"/><line x1="1047.8" y1="2128.9" x2="1093.1" y2="2100.0"/><line x1="1047.8" y1="2130.0" x2="1093.1" y2="2104.0"/><line x1="1047.8" y1="2133.0" x2="1093.1" y2="2106.0"/><line x1="1047.8" y1="2136.3" x2="1093.1" y2="2108.0"/><line x1="1047.8" y1="2138.0" x2="1093.1" y2="2112.0"/><line x1="1047.8" y1="2140.0" x2="1093.1" y2="2116.0"/><line x1="1047.8" y1="2144.0" x2="1093.1" y2="2118.0"/><line x1="1047.8" y1="2146.0" x2="1093.1" y2="2120.0"/><line x1="1047.8" y1="2148.2" x2="1093.1" y2="2124.0"/><line x1="1047.8" y1="2151.0" x2="1093.1" y2="2126.0"/><line x1="1047.8" y1="2154.0" x2="1093.1" y2="2128.0"/><line x1="1047.8" y1="2157.1" x2="1093.1" y2="2133.3"/></g>
<g fill="#fff" stroke="#000" stroke-width="1.2"><circle cx="1047.8" cy="2157.1" r="7.1"/><circle cx="1047.8" cy="2154.0" r="7.1"/><circle cx="1047.8" cy="2151.0" r="7.1"/><circle cx="1047.8" cy="2148.2" r="7.1"/><circle cx="1047.8" cy="2146.0" r="7.1"/><circle cx="1047.8" cy="2144.0" r="7.1"/><circle cx="1047.8" cy="2140.0" r="7.1"/><circle cx="1047.8" cy="2138.0" r="7.1"/><circle cx="1047.8" cy="2136.3" r="7.1"/><circle cx="1047.8" cy="2133.0" r="7.1"/><circle cx="1047.8" cy="2130.0" r="7.1"/><circle cx="1047.8" cy="2128.9" r="7.1"/><circle cx="1047.8" cy="2124.0" r="7.1"/><circle cx="1047.8" cy="2122.0" r="7.1"/><circle cx="1047.8" cy="2120.0" r="7.1"/></g>
<g fill="#000"><circle cx="1093.1" cy="2092.5" r="7.1"/><circle cx="1093.1" cy="2095.0" r="7.1"/><circle cx="1093.1" cy="2096.0" r="7.1"/><circle cx="1093.1" cy="2100.0" r="7.1"/><circle cx="1093.1" cy="2104.0" r="7.1"/><circle cx="1093.1" cy="2106.0" r="7.1"/><circle cx="1093.1" cy="2108.0" r="7.1"/><circle cx="1093.1" cy="2112.0" r="7.1"/><circle cx="1093.1" cy="2116.0" r="7.1"/><circle cx="1093.1" cy="2118.0" r="7.1"/><circle cx="1093.1" cy="2120.0" r="7.1"/><circle cx="1093.1" cy="2124.0" r="7.1"/><circle cx="1093.1" cy="2126.0" r="7.1"/><circle cx="1093.1" cy="2128.0" r="7.1"/><circle cx="1093.1" cy="2133.3" r="7.1"/></g>
<text transform="translate(1036.20,2294.00) rotate(-45) translate(-17.06,8.62) scale(1.0,1)" font-family="'Liberation Sans', sans-serif" font-weight="bold" fill="#000"><tspan x="0.00" y="0.00" font-size="25.00">BL</tspan></text>
<text transform="translate(1062.50,2309.60) rotate(-45) translate(-40.81,8.62) scale(1.0,1)" font-family="'Liberation Sans', sans-serif" font-weight="bold" fill="#000"><tspan x="0.00" y="0.00" font-size="25.00">MK801</tspan></text>
<line x1="1229.60" y1="2040.20" x2="1229.60" y2="2248.50" stroke="#000" stroke-width="3.4" stroke-linecap="butt"/>
<line x1="1218.90" y1="2248.50" x2="1322.70" y2="2248.50" stroke="#000" stroke-width="3.4" stroke-linecap="butt"/>
<line x1="1218.90" y1="2040.20" x2="1229.60" y2="2040.20" stroke="#000" stroke-width="3.4" stroke-linecap="butt"/>
<line x1="1222.60" y1="2049.47" x2="1229.60" y2="2049.47" stroke="#000" stroke-width="3.4" stroke-linecap="butt"/>
<line x1="1222.60" y1="2060.72" x2="1229.60" y2="2060.72" stroke="#000" stroke-width="3.4" stroke-linecap="butt"/>
<line x1="1222.60" y1="2075.72" x2="1229.60" y2="2075.72" stroke="#000" stroke-width="3.4" stroke-linecap="butt"/>
<line x1="1222.60" y1="2098.21" x2="1229.60" y2="2098.21" stroke="#000" stroke-width="3.4" stroke-linecap="butt"/>
<line x1="1218.90" y1="2144.35" x2="1229.60" y2="2144.35" stroke="#000" stroke-width="3.4" stroke-linecap="butt"/>
<line x1="1222.60" y1="2153.62" x2="1229.60" y2="2153.62" stroke="#000" stroke-width="3.4" stroke-linecap="butt"/>
<line x1="1222.60" y1="2164.87" x2="1229.60" y2="2164.87" stroke="#000" stroke-width="3.4" stroke-linecap="butt"/>
<line x1="1222.60" y1="2179.87" x2="1229.60" y2="2179.87" stroke="#000" stroke-width="3.4" stroke-linecap="butt"/>
<line x1="1222.60" y1="2202.36" x2="1229.60" y2="2202.36" stroke="#000" stroke-width="3.4" stroke-linecap="butt"/>
<line x1="1218.90" y1="2248.50" x2="1229.60" y2="2248.50" stroke="#000" stroke-width="3.4" stroke-linecap="butt"/>
<text transform="translate(1171.62,2047.65)" font-family="'Liberation Sans', sans-serif" font-weight="bold" fill="#000"><tspan x="0.00" y="0.00" font-size="25.07">10</tspan><tspan x="29.54" y="-8.27" font-size="16.72">-</tspan><tspan x="37.62" y="-8.27" font-size="16.72">1</tspan></text>
<text transform="translate(1171.75,2151.80)" font-family="'Liberation Sans', sans-serif" font-weight="bold" fill="#000"><tspan x="0.00" y="0.00" font-size="25.07">10</tspan><tspan x="29.54" y="-8.27" font-size="16.72">-</tspan><tspan x="37.62" y="-8.27" font-size="16.72">3</tspan></text>
<text transform="translate(1171.62,2255.95)" font-family="'Liberation Sans', sans-serif" font-weight="bold" fill="#000"><tspan x="0.00" y="0.00" font-size="25.07">10</tspan><tspan x="29.54" y="-8.27" font-size="16.72">-</tspan><tspan x="37.62" y="-8.27" font-size="16.72">5</tspan></text>
<line x1="1252.50" y1="2248.50" x2="1252.50" y2="2260.40" stroke="#000" stroke-width="3.4" stroke-linecap="butt"/>
<line x1="1299.30" y1="2248.50" x2="1299.30" y2="2260.40" stroke="#000" stroke-width="3.4" stroke-linecap="butt"/>
<text transform="translate(1255.74,2072.84) scale(1.0000,1)" font-family="'Liberation Sans', sans-serif" font-weight="normal" fill="#000"><tspan x="0.00" y="0.00" font-size="44.16">**</tspan></text>
<g stroke="#000" stroke-width="1"><line x1="1252.5" y1="2124.3" x2="1299.3" y2="2094.1"/><line x1="1252.5" y1="2130.0" x2="1299.3" y2="2098.0"/><line x1="1252.5" y1="2138.0" x2="1299.3" y2="2120.4"/><line x1="1252.5" y1="2145.0" x2="1299.3" y2="2104.6"/><line x1="1252.5" y1="2151.1" x2="1299.3" y2="2125.6"/><line x1="1252.5" y1="2158.5" x2="1299.3" y2="2171.6"/><line x1="1252.5" y1="2162.0" x2="1299.3" y2="2130.9"/><line x1="1252.5" y1="2167.7" x2="1299.3" y2="2191.3"/><line x1="1252.5" y1="2172.0" x2="1299.3" y2="2136.2"/><line x1="1252.5" y1="2175.6" x2="1299.3" y2="2098.0"/><line x1="1252.5" y1="2180.0" x2="1299.3" y2="2141.4"/><line x1="1252.5" y1="2186.6" x2="1299.3" y2="2120.0"/></g>
<g fill="#fff" stroke="#000" stroke-width="1.2"><circle cx="1252.5" cy="2186.6" r="7.1"/><circle cx="1252.5" cy="2180.0" r="7.1"/><circle cx="1252.5" cy="2175.6" r="7.1"/><circle cx="1252.5" cy="2172.0" r="7.1"/><circle cx="1252.5" cy="2167.7" r="7.1"/><circle cx="1252.5" cy="2162.0" r="7.1"/><circle cx="1252.5" cy="2158.5" r="7.1"/><circle cx="1252.5" cy="2151.1" r="7.1"/><circle cx="1252.5" cy="2145.0" r="7.1"/><circle cx="1252.5" cy="2138.0" r="7.1"/><circle cx="1252.5" cy="2130.0" r="7.1"/><circle cx="1252.5" cy="2124.3" r="7.1"/></g>
<g fill="#000"><circle cx="1299.3" cy="2094.1" r="7.1"/><circle cx="1299.3" cy="2098.0" r="7.1"/><circle cx="1299.3" cy="2104.6" r="7.1"/><circle cx="1299.3" cy="2120.4" r="7.1"/><circle cx="1299.3" cy="2125.6" r="7.1"/><circle cx="1299.3" cy="2130.9" r="7.1"/><circle cx="1299.3" cy="2136.2" r="7.1"/><circle cx="1299.3" cy="2141.4" r="7.1"/><circle cx="1299.3" cy="2098.0" r="7.1"/><circle cx="1299.3" cy="2171.6" r="7.1"/><circle cx="1299.3" cy="2191.3" r="7.1"/><circle cx="1299.3" cy="2120.0" r="7.1"/></g>
<text transform="translate(1240.90,2294.00) rotate(-45) translate(-17.06,8.62) scale(1.0,1)" font-family="'Liberation Sans', sans-serif" font-weight="bold" fill="#000"><tspan x="0.00" y="0.00" font-size="25.00">BL</tspan></text>
<text transform="translate(1268.70,2309.60) rotate(-45) translate(-40.81,8.62) scale(1.0,1)" font-family="'Liberation Sans', sans-serif" font-weight="bold" fill="#000"><tspan x="0.00" y="0.00" font-size="25.00">MK801</tspan></text>
<line x1="1431.20" y1="2040.20" x2="1431.20" y2="2248.50" stroke="#000" stroke-width="3.4" stroke-linecap="butt"/>
<line x1="1420.50" y1="2248.50" x2="1523.20" y2="2248.50" stroke="#000" stroke-width="3.4" stroke-linecap="butt"/>
<line x1="1420.50" y1="2040.20" x2="1431.20" y2="2040.20" stroke="#000" stroke-width="3.4" stroke-linecap="butt"/>
<line x1="1424.20" y1="2049.47" x2="1431.20" y2="2049.47" stroke="#000" stroke-width="3.4" stroke-linecap="butt"/>
<line x1="1424.20" y1="2060.72" x2="1431.20" y2="2060.72" stroke="#000" stroke-width="3.4" stroke-linecap="butt"/>
<line x1="1424.20" y1="2075.72" x2="1431.20" y2="2075.72" stroke="#000" stroke-width="3.4" stroke-linecap="butt"/>
<line x1="1424.20" y1="2098.21" x2="1431.20" y2="2098.21" stroke="#000" stroke-width="3.4" stroke-linecap="butt"/>
<line x1="1420.50" y1="2144.35" x2="1431.20" y2="2144.35" stroke="#000" stroke-width="3.4" stroke-linecap="butt"/>
<line x1="1424.20" y1="2153.62" x2="1431.20" y2="2153.62" stroke="#000" stroke-width="3.4" stroke-linecap="butt"/>
<line x1="1424.20" y1="2164.87" x2="1431.20" y2="2164.87" stroke="#000" stroke-width="3.4" stroke-linecap="butt"/>
<line x1="1424.20" y1="2179.87" x2="1431.20" y2="2179.87" stroke="#000" stroke-width="3.4" stroke-linecap="butt"/>
<line x1="1424.20" y1="2202.36" x2="1431.20" y2="2202.36" stroke="#000" stroke-width="3.4" stroke-linecap="butt"/>
<line x1="1420.50" y1="2248.50" x2="1431.20" y2="2248.50" stroke="#000" stroke-width="3.4" stroke-linecap="butt"/>
<text transform="translate(1373.22,2047.65)" font-family="'Liberation Sans', sans-serif" font-weight="bold" fill="#000"><tspan x="0.00" y="0.00" font-size="25.07">10</tspan><tspan x="29.54" y="-8.27" font-size="16.72">-</tspan><tspan x="37.62" y="-8.27" font-size="16.72">1</tspan></text>
<text transform="translate(1373.35,2151.80)" font-family="'Liberation Sans', sans-serif" font-weight="bold" fill="#000"><tspan x="0.00" y="0.00" font-size="25.07">10</tspan><tspan x="29.54" y="-8.27" font-size="16.72">-</tspan><tspan x="37.62" y="-8.27" font-size="16.72">3</tspan></text>
<text transform="translate(1373.22,2255.95)" font-family="'Liberation Sans', sans-serif" font-weight="bold" fill="#000"><tspan x="0.00" y="0.00" font-size="25.07">10</tspan><tspan x="29.54" y="-8.27" font-size="16.72">-</tspan><tspan x="37.62" y="-8.27" font-size="16.72">5</tspan></text>
<line x1="1453.50" y1="2248.50" x2="1453.50" y2="2260.40" stroke="#000" stroke-width="3.4" stroke-linecap="butt"/>
<line x1="1499.50" y1="2248.50" x2="1499.50" y2="2260.40" stroke="#000" stroke-width="3.4" stroke-linecap="butt"/>
<text transform="translate(1448.92,2073.28) scale(1.0000,1)" font-family="'Liberation Sans', sans-serif" font-weight="normal" fill="#000"><tspan x="0.00" y="0.00" font-size="45.20">***</tspan></text>
<g stroke="#000" stroke-width="1"><line x1="1453.5" y1="2123.0" x2="1499.5" y2="2092.8"/><line x1="1453.5" y1="2128.0" x2="1499.5" y2="2096.7"/><line x1="1453.5" y1="2134.8" x2="1499.5" y2="2100.0"/><line x1="1453.5" y1="2140.0" x2="1499.5" y2="2106.0"/><line x1="1453.5" y1="2146.7" x2="1499.5" y2="2110.0"/><line x1="1453.5" y1="2152.0" x2="1499.5" y2="2117.8"/><line x1="1453.5" y1="2157.2" x2="1499.5" y2="2123.0"/><line x1="1453.5" y1="2162.0" x2="1499.5" y2="2127.0"/><line x1="1453.5" y1="2167.7" x2="1499.5" y2="2130.9"/><line x1="1453.5" y1="2175.0" x2="1499.5" y2="2134.8"/><line x1="1453.5" y1="2182.1" x2="1499.5" y2="2165.0"/><line x1="1453.5" y1="2186.0" x2="1499.5" y2="2170.0"/><line x1="1453.5" y1="2188.7" x2="1499.5" y2="2174.3"/></g>
<g fill="#fff" stroke="#000" stroke-width="1.2"><circle cx="1453.5" cy="2188.7" r="7.1"/><circle cx="1453.5" cy="2186.0" r="7.1"/><circle cx="1453.5" cy="2182.1" r="7.1"/><circle cx="1453.5" cy="2175.0" r="7.1"/><circle cx="1453.5" cy="2167.7" r="7.1"/><circle cx="1453.5" cy="2162.0" r="7.1"/><circle cx="1453.5" cy="2157.2" r="7.1"/><circle cx="1453.5" cy="2152.0" r="7.1"/><circle cx="1453.5" cy="2146.7" r="7.1"/><circle cx="1453.5" cy="2140.0" r="7.1"/><circle cx="1453.5" cy="2134.8" r="7.1"/><circle cx="1453.5" cy="2128.0" r="7.1"/><circle cx="1453.5" cy="2123.0" r="7.1"/></g>
<g fill="#000"><circle cx="1499.5" cy="2092.8" r="7.1"/><circle cx="1499.5" cy="2096.7" r="7.1"/><circle cx="1499.5" cy="2100.0" r="7.1"/><circle cx="1499.5" cy="2106.0" r="7.1"/><circle cx="1499.5" cy="2110.0" r="7.1"/><circle cx="1499.5" cy="2117.8" r="7.1"/><circle cx="1499.5" cy="2123.0" r="7.1"/><circle cx="1499.5" cy="2127.0" r="7.1"/><circle cx="1499.5" cy="2130.9" r="7.1"/><circle cx="1499.5" cy="2134.8" r="7.1"/><circle cx="1499.5" cy="2165.0" r="7.1"/><circle cx="1499.5" cy="2170.0" r="7.1"/><circle cx="1499.5" cy="2174.3" r="7.1"/></g>
<text transform="translate(1441.90,2294.00) rotate(-45) translate(-17.06,8.62) scale(1.0,1)" font-family="'Liberation Sans', sans-serif" font-weight="bold" fill="#000"><tspan x="0.00" y="0.00" font-size="25.00">BL</tspan></text>
<text transform="translate(1468.90,2309.60) rotate(-45) translate(-40.81,8.62) scale(1.0,1)" font-family="'Liberation Sans', sans-serif" font-weight="bold" fill="#000"><tspan x="0.00" y="0.00" font-size="25.00">MK801</tspan></text>
</svg></body></html>
